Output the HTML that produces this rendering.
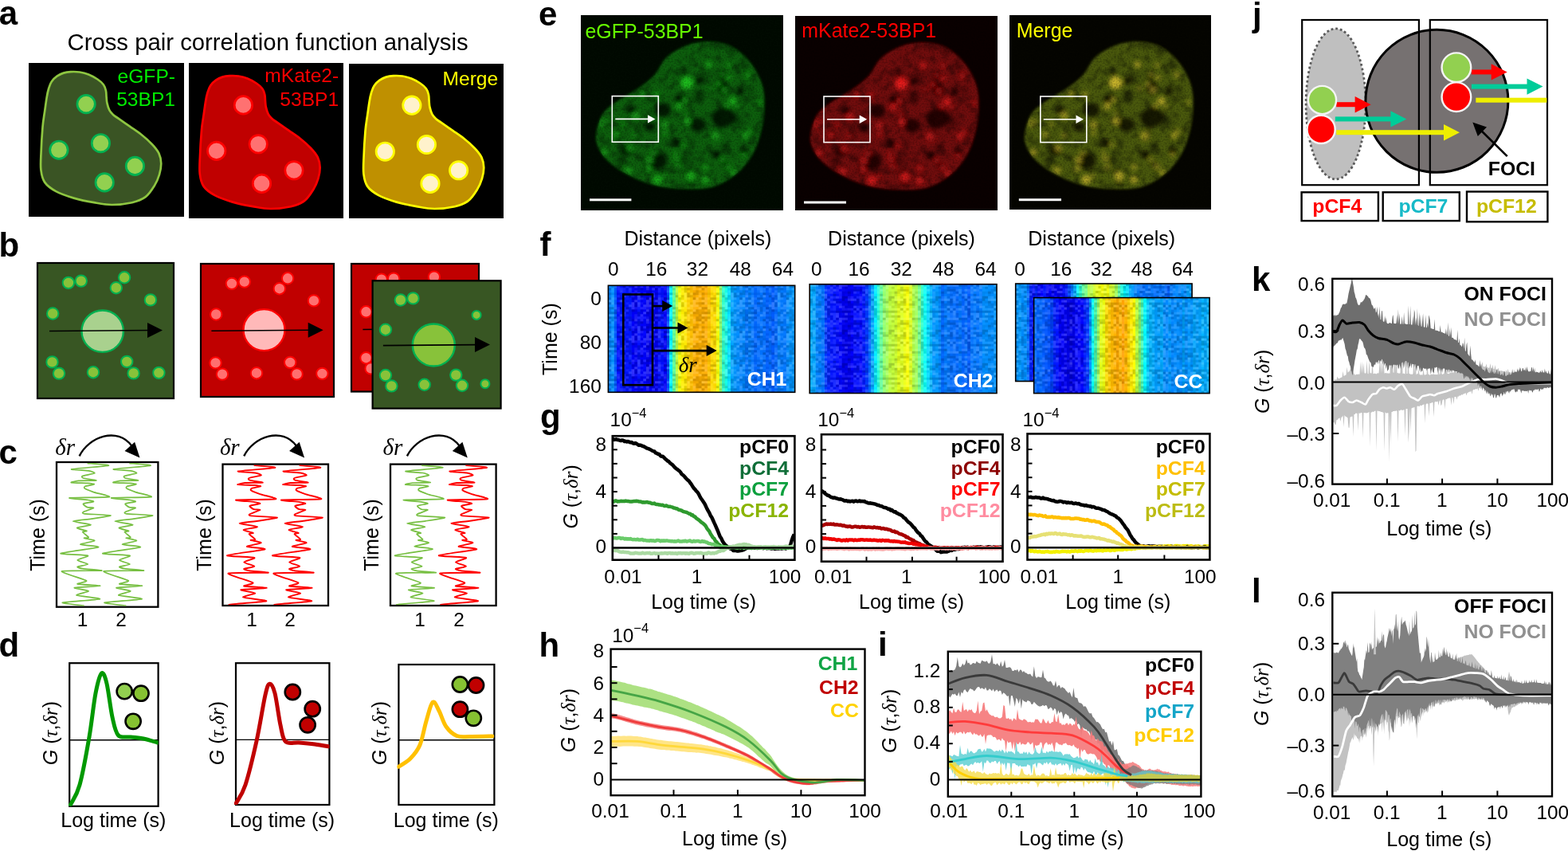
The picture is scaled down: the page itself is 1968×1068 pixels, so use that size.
<!DOCTYPE html>
<html><head><meta charset="utf-8"><title>Cross pair correlation function analysis</title>
<style>html,body{margin:0;padding:0;background:#fff;}body{width:1968px;height:1068px;overflow:hidden;}svg{display:block;}</style>
</head><body>
<svg width="1968" height="1068" viewBox="0 0 1968 1068" font-family="'Liberation Sans', sans-serif"><defs><filter id="blur2" x="-20%" y="-20%" width="140%" height="140%"><feGaussianBlur stdDeviation="1.6"/></filter><filter id="blur4" x="-50%" y="-50%" width="200%" height="200%"><feGaussianBlur stdDeviation="2.6"/></filter><filter id="grain" x="0" y="0" width="100%" height="100%"><feTurbulence type="fractalNoise" baseFrequency="0.5" numOctaves="2" seed="3"/><feColorMatrix type="matrix" values="0 0 0 0 0  0 0 0 0 0  0 0 0 0 0  0 0 0 -2.2 1.3"/></filter><filter id="mottle" x="0" y="0" width="100%" height="100%"><feTurbulence type="fractalNoise" baseFrequency="0.09" numOctaves="2" seed="8"/><feColorMatrix type="matrix" values="0 0 0 0 0  0 0 0 0 0  0 0 0 0 0  0 0 0 -3.2 1.75"/></filter></defs>
<text x="-1.3" y="31.1" font-size="42" font-weight="bold">a</text>
<text x="84.5" y="62.8" font-size="29.3">Cross pair correlation function analysis</text>
<rect x="36" y="79" width="195" height="193" fill="#000"/>
<rect x="237" y="79" width="194" height="195" fill="#000"/>
<rect x="438" y="80" width="194" height="194" fill="#000"/>
<path d="M35.5 16.7C38 14.9 40.8 13.5 43.7 12.6C46.6 11.7 49.3 11.3 52.7 11.1C56.1 10.9 60.1 10.9 63.9 11.5C67.7 12.1 71.5 13 75.2 14.5C79 16 83.3 18.4 86.4 20.5C89.5 22.6 92.2 24.8 93.9 27.2C95.7 29.6 96.3 32.1 96.9 34.7C97.5 37.3 97.3 40.4 97.6 43C97.8 45.6 97.8 47.7 98.4 50.4C99 53.1 100.1 57 101.4 59.4C102.7 61.8 104.1 63.2 106 65C107.9 66.8 109.4 67.5 112.9 69.9C116.4 72.4 122.2 76.4 126.9 79.7C131.6 83 136.2 85.8 140.9 89.5C145.6 93.2 151.2 98.2 155 102.2C158.8 106.2 161.5 109.4 163.4 113.4C165.3 117.4 166.1 121.5 166.2 126C166.3 130.4 165.4 135.4 164 140.1C162.6 144.8 160.7 149.4 157.8 154.1C154.9 158.8 151.3 164.7 146.6 168.2C141.9 171.7 136.7 173.6 129.7 175.2C122.7 176.8 112.4 178 104.4 178C96.5 178 90 176.6 82 175.2C74 173.8 64.7 171.9 56.7 169.6C48.7 167.2 40.3 164.4 34.2 161.1C28.1 157.8 23.3 154.3 20.2 149.9C17.1 145.5 16.2 140.7 15.4 134.4C14.6 128.1 15.2 121 15.6 112C15.9 103 16.8 88.9 17.5 80.4C18.2 71.9 19.2 67.2 20.1 60.9C21 54.6 21.9 47.6 22.7 42.9C23.5 38.2 24 35.7 25 32.5C26 29.3 26.9 26.1 28.7 23.5C30.4 20.9 33 18.5 35.5 16.7Z" transform="translate(36 79)" fill="#3a5424" stroke="#8ec641" stroke-width="2.7"/>
<circle cx="108.1" cy="130.6" r="11.2" fill="#92d050" stroke="#00b050" stroke-width="2.7"/>
<circle cx="73.9" cy="188.2" r="11.2" fill="#92d050" stroke="#00b050" stroke-width="2.7"/>
<circle cx="126.4" cy="179.7" r="11.2" fill="#92d050" stroke="#00b050" stroke-width="2.7"/>
<circle cx="169.4" cy="208.4" r="11.2" fill="#92d050" stroke="#00b050" stroke-width="2.7"/>
<circle cx="131.2" cy="228.9" r="11.2" fill="#92d050" stroke="#00b050" stroke-width="2.7"/>
<path d="M35.5 16.7C38 14.9 40.8 13.5 43.7 12.6C46.6 11.7 49.3 11.3 52.7 11.1C56.1 10.9 60.1 10.9 63.9 11.5C67.7 12.1 71.5 13 75.2 14.5C79 16 83.3 18.4 86.4 20.5C89.5 22.6 92.2 24.8 93.9 27.2C95.7 29.6 96.3 32.1 96.9 34.7C97.5 37.3 97.3 40.4 97.6 43C97.8 45.6 97.8 47.7 98.4 50.4C99 53.1 100.1 57 101.4 59.4C102.7 61.8 104.1 63.2 106 65C107.9 66.8 109.4 67.5 112.9 69.9C116.4 72.4 122.2 76.4 126.9 79.7C131.6 83 136.2 85.8 140.9 89.5C145.6 93.2 151.2 98.2 155 102.2C158.8 106.2 161.5 109.4 163.4 113.4C165.3 117.4 166.1 121.5 166.2 126C166.3 130.4 165.4 135.4 164 140.1C162.6 144.8 160.7 149.4 157.8 154.1C154.9 158.8 151.3 164.7 146.6 168.2C141.9 171.7 136.7 173.6 129.7 175.2C122.7 176.8 112.4 178 104.4 178C96.5 178 90 176.6 82 175.2C74 173.8 64.7 171.9 56.7 169.6C48.7 167.2 40.3 164.4 34.2 161.1C28.1 157.8 23.3 154.3 20.2 149.9C17.1 145.5 16.2 140.7 15.4 134.4C14.6 128.1 15.2 121 15.6 112C15.9 103 16.8 88.9 17.5 80.4C18.2 71.9 19.2 67.2 20.1 60.9C21 54.6 21.9 47.6 22.7 42.9C23.5 38.2 24 35.7 25 32.5C26 29.3 26.9 26.1 28.7 23.5C30.4 20.9 33 18.5 35.5 16.7Z" transform="translate(235.4 84)" fill="#c00000" stroke="#ff0000" stroke-width="2.7"/>
<circle cx="305.4" cy="131.9" r="11.2" fill="#ff7171" stroke="#ff0000" stroke-width="2.7"/>
<circle cx="271.7" cy="189.4" r="11.2" fill="#ff7171" stroke="#ff0000" stroke-width="2.7"/>
<circle cx="324.2" cy="180.8" r="11.2" fill="#ff7171" stroke="#ff0000" stroke-width="2.7"/>
<circle cx="369" cy="213.8" r="11.2" fill="#ff7171" stroke="#ff0000" stroke-width="2.7"/>
<circle cx="328.5" cy="230.4" r="11.2" fill="#ff7171" stroke="#ff0000" stroke-width="2.7"/>
<path d="M35.5 16.7C38 14.9 40.8 13.5 43.7 12.6C46.6 11.7 49.3 11.3 52.7 11.1C56.1 10.9 60.1 10.9 63.9 11.5C67.7 12.1 71.5 13 75.2 14.5C79 16 83.3 18.4 86.4 20.5C89.5 22.6 92.2 24.8 93.9 27.2C95.7 29.6 96.3 32.1 96.9 34.7C97.5 37.3 97.3 40.4 97.6 43C97.8 45.6 97.8 47.7 98.4 50.4C99 53.1 100.1 57 101.4 59.4C102.7 61.8 104.1 63.2 106 65C107.9 66.8 109.4 67.5 112.9 69.9C116.4 72.4 122.2 76.4 126.9 79.7C131.6 83 136.2 85.8 140.9 89.5C145.6 93.2 151.2 98.2 155 102.2C158.8 106.2 161.5 109.4 163.4 113.4C165.3 117.4 166.1 121.5 166.2 126C166.3 130.4 165.4 135.4 164 140.1C162.6 144.8 160.7 149.4 157.8 154.1C154.9 158.8 151.3 164.7 146.6 168.2C141.9 171.7 136.7 173.6 129.7 175.2C122.7 176.8 112.4 178 104.4 178C96.5 178 90 176.6 82 175.2C74 173.8 64.7 171.9 56.7 169.6C48.7 167.2 40.3 164.4 34.2 161.1C28.1 157.8 23.3 154.3 20.2 149.9C17.1 145.5 16.2 140.7 15.4 134.4C14.6 128.1 15.2 121 15.6 112C15.9 103 16.8 88.9 17.5 80.4C18.2 71.9 19.2 67.2 20.1 60.9C21 54.6 21.9 47.6 22.7 42.9C23.5 38.2 24 35.7 25 32.5C26 29.3 26.9 26.1 28.7 23.5C30.4 20.9 33 18.5 35.5 16.7Z" transform="translate(441 84)" fill="#bf9000" stroke="#ffff00" stroke-width="2.7"/>
<circle cx="516.9" cy="132.1" r="11.2" fill="#fff2cc" stroke="#ffff00" stroke-width="2.7"/>
<circle cx="483.3" cy="190.2" r="11.2" fill="#fff2cc" stroke="#ffff00" stroke-width="2.7"/>
<circle cx="535.4" cy="181.5" r="11.2" fill="#fff2cc" stroke="#ffff00" stroke-width="2.7"/>
<circle cx="575.6" cy="213.8" r="11.2" fill="#fff2cc" stroke="#ffff00" stroke-width="2.7"/>
<circle cx="540" cy="230.4" r="11.2" fill="#fff2cc" stroke="#ffff00" stroke-width="2.7"/>
<text x="220" y="103.9" font-size="24.6" text-anchor="end" fill="#00ee00">eGFP-</text>
<text x="220" y="132.6" font-size="24.6" text-anchor="end" fill="#00ee00">53BP1</text>
<text x="425.2" y="103.3" font-size="24.6" text-anchor="end" fill="#ff0000">mKate2-</text>
<text x="425.2" y="132.5" font-size="24.6" text-anchor="end" fill="#ff0000">53BP1</text>
<text x="625.2" y="107" font-size="24.6" text-anchor="end" fill="#ffff00">Merge</text>
<text x="-1.4" y="321.6" font-size="42" font-weight="bold">b</text>
<rect x="47" y="330" width="171" height="170" fill="#385623" stroke="#000" stroke-width="2.2"/>
<circle cx="85.9" cy="354.9" r="7.2" fill="#88c23a" stroke="#00b050" stroke-width="2"/>
<circle cx="101.8" cy="352.6" r="7.2" fill="#88c23a" stroke="#00b050" stroke-width="2"/>
<circle cx="156.1" cy="348.3" r="7.2" fill="#88c23a" stroke="#00b050" stroke-width="2"/>
<circle cx="145.8" cy="361.2" r="7.2" fill="#88c23a" stroke="#00b050" stroke-width="2"/>
<circle cx="188.9" cy="376.4" r="7.2" fill="#88c23a" stroke="#00b050" stroke-width="2"/>
<circle cx="66.2" cy="393.5" r="7.2" fill="#88c23a" stroke="#00b050" stroke-width="2"/>
<circle cx="65.5" cy="454.4" r="7.2" fill="#88c23a" stroke="#00b050" stroke-width="2"/>
<circle cx="74" cy="468.6" r="7.2" fill="#88c23a" stroke="#00b050" stroke-width="2"/>
<circle cx="117" cy="467.2" r="7.2" fill="#88c23a" stroke="#00b050" stroke-width="2"/>
<circle cx="159.2" cy="453.9" r="7.2" fill="#88c23a" stroke="#00b050" stroke-width="2"/>
<circle cx="167.6" cy="468.4" r="7.2" fill="#88c23a" stroke="#00b050" stroke-width="2"/>
<circle cx="199.4" cy="467.9" r="7.2" fill="#88c23a" stroke="#00b050" stroke-width="2"/>
<circle cx="128.7" cy="415.7" r="26.2" fill="#a9d18e" stroke="#00b050" stroke-width="2.4"/>
<line x1="62" y1="415.5" x2="189" y2="414.5" stroke="#000" stroke-width="1.6"/>
<polygon points="204,414.5 185,424 185,405" fill="#000"/>
<rect x="252" y="331" width="167" height="167" fill="#c00000" stroke="#000" stroke-width="2.2"/>
<circle cx="290.9" cy="355.9" r="7.2" fill="#ff6f6f" stroke="#ff0000" stroke-width="2"/>
<circle cx="306.8" cy="353.6" r="7.2" fill="#ff6f6f" stroke="#ff0000" stroke-width="2"/>
<circle cx="361.1" cy="349.3" r="7.2" fill="#ff6f6f" stroke="#ff0000" stroke-width="2"/>
<circle cx="350.8" cy="362.2" r="7.2" fill="#ff6f6f" stroke="#ff0000" stroke-width="2"/>
<circle cx="393.9" cy="377.4" r="7.2" fill="#ff6f6f" stroke="#ff0000" stroke-width="2"/>
<circle cx="271.2" cy="394.5" r="7.2" fill="#ff6f6f" stroke="#ff0000" stroke-width="2"/>
<circle cx="270.5" cy="455.4" r="7.2" fill="#ff6f6f" stroke="#ff0000" stroke-width="2"/>
<circle cx="279" cy="469.6" r="7.2" fill="#ff6f6f" stroke="#ff0000" stroke-width="2"/>
<circle cx="322" cy="468.2" r="7.2" fill="#ff6f6f" stroke="#ff0000" stroke-width="2"/>
<circle cx="364.2" cy="454.9" r="7.2" fill="#ff6f6f" stroke="#ff0000" stroke-width="2"/>
<circle cx="372.6" cy="469.4" r="7.2" fill="#ff6f6f" stroke="#ff0000" stroke-width="2"/>
<circle cx="404.4" cy="468.9" r="7.2" fill="#ff6f6f" stroke="#ff0000" stroke-width="2"/>
<circle cx="331.5" cy="414.1" r="26" fill="#ffb9b9" stroke="#ff0000" stroke-width="2.4"/>
<line x1="265.4" y1="415.3" x2="390.7" y2="414.3" stroke="#000" stroke-width="1.6"/>
<polygon points="405.7,414.3 386.7,423.8 386.7,404.8" fill="#000"/>
<rect x="441" y="331" width="160" height="160.5" fill="#c00000" stroke="#000" stroke-width="2.2"/>
<circle cx="478.8" cy="350.7" r="7.2" fill="#ff6f6f" stroke="#ff0000" stroke-width="2"/>
<circle cx="494.1" cy="349.6" r="7.2" fill="#ff6f6f" stroke="#ff0000" stroke-width="2"/>
<circle cx="544.9" cy="347.6" r="7.2" fill="#ff6f6f" stroke="#ff0000" stroke-width="2"/>
<circle cx="535" cy="361" r="7.2" fill="#ff6f6f" stroke="#ff0000" stroke-width="2"/>
<circle cx="459.5" cy="391.3" r="7.2" fill="#ff6f6f" stroke="#ff0000" stroke-width="2"/>
<circle cx="459.5" cy="449.2" r="7.2" fill="#ff6f6f" stroke="#ff0000" stroke-width="2"/>
<circle cx="465.6" cy="462.4" r="7.2" fill="#ff6f6f" stroke="#ff0000" stroke-width="2"/>
<circle cx="520" cy="412" r="26" fill="#ffb9b9" stroke="#ff0000" stroke-width="2.4"/>
<line x1="455.4" y1="413.5" x2="575" y2="412.5" stroke="#000" stroke-width="1.6"/>
<polygon points="590,412.5 571,422 571,403" fill="#000"/>
<rect x="467.6" y="352.3" width="161" height="160.3" fill="#385623" stroke="#000" stroke-width="2.2"/>
<circle cx="502.8" cy="376.5" r="7.2" fill="#88c23a" stroke="#00b050" stroke-width="2"/>
<circle cx="518.5" cy="374.4" r="7.2" fill="#88c23a" stroke="#00b050" stroke-width="2"/>
<circle cx="598.1" cy="395.4" r="5.5" fill="#88c23a" stroke="#00b050" stroke-width="2"/>
<circle cx="483.9" cy="413.7" r="7.2" fill="#88c23a" stroke="#00b050" stroke-width="2"/>
<circle cx="483.9" cy="471" r="7.2" fill="#88c23a" stroke="#00b050" stroke-width="2"/>
<circle cx="491.4" cy="484.4" r="7.2" fill="#88c23a" stroke="#00b050" stroke-width="2"/>
<circle cx="532.7" cy="482.8" r="7.2" fill="#88c23a" stroke="#00b050" stroke-width="2"/>
<circle cx="572.3" cy="470.6" r="7.2" fill="#88c23a" stroke="#00b050" stroke-width="2"/>
<circle cx="580" cy="483.8" r="7.2" fill="#88c23a" stroke="#00b050" stroke-width="2"/>
<circle cx="608.9" cy="481.7" r="5.5" fill="#88c23a" stroke="#00b050" stroke-width="2"/>
<circle cx="544.3" cy="433" r="26.5" fill="#88c23a" stroke="#00b050" stroke-width="2.4"/>
<line x1="480.9" y1="433.6" x2="600" y2="432.6" stroke="#000" stroke-width="1.6"/>
<polygon points="615,432.6 596,442.1 596,423.1" fill="#000"/>
<text x="-1.4" y="581.6" font-size="42" font-weight="bold">c</text>
<rect x="71" y="580" width="127.4" height="181.7" fill="#fff" stroke="#000" stroke-width="2.3"/>
<clipPath id="cc0"><rect x="72" y="581" width="125.4" height="179.7"/></clipPath><g clip-path="url(#cc0)">
<path d="M109.6 581.3C112.3 581.6 138.3 583.5 136.3 584.2C134.3 585 92.3 588.1 89.8 588.8C87.3 589.5 108.4 590.4 111.3 590.9C114.2 591.4 119.5 593.2 118.7 593.9C117.9 594.5 105 596.8 103.6 597.4C102.2 598 102.8 599.4 104.5 600C106.2 600.6 121.4 602.7 120.8 603C120.2 603.3 101.5 603.1 98.4 603.4C95.3 603.7 88.2 605.3 89.4 605.6C90.6 605.9 107.6 606.2 110.5 606.4C113.4 606.6 118.5 607.3 118.2 607.7C117.9 608.1 108.2 609.8 107 610.3C105.8 610.8 105.2 612.2 106.2 612.9C107.2 613.6 114.3 616.5 117.4 617.6C120.5 618.7 140.2 622.9 137.2 623.6C134.2 624.3 89.9 624.5 87.2 624.9C84.5 625.3 107.5 627 110.5 627.5C113.5 628 118 629 117.4 629.5C116.8 630 105.3 631.6 104.5 632.3C103.7 633 108.3 636.1 109.6 636.6C110.9 637.1 117.9 636.8 117.4 637.4C116.9 638 105.6 641.9 104.5 642.6C103.4 643.3 102.8 644.4 106.2 644.8C109.6 645.2 138 646.3 138.9 646.9C139.8 647.5 119.5 650.5 114.8 651.2C110.1 651.9 91.6 653.5 91.5 654.2C91.4 654.9 113.4 657.7 113.9 658.5C114.4 659.3 97.2 661.6 96.7 662.4C96.2 663.2 108.1 665.8 108.8 666.3C109.5 666.8 103.5 666.8 103.7 667.6C103.9 668.4 111 673.6 111.2 674.4C111.4 675.2 104.8 674.9 105.6 675.3C106.3 675.7 119.2 677.8 118.7 678.6C118.2 679.4 100.4 682.5 100.9 683.3C101.4 684.1 125.9 685.6 123.4 686.7C120.9 687.8 77.4 693.4 76.1 694.5C74.8 695.6 108.2 696.5 110.3 697.3C112.4 698.1 97.2 701.8 97.2 702.9C97.2 704 110.3 707.2 110.3 708.1C110.3 709 97.9 710.8 97.2 711.4C96.5 712 100.7 713.2 103.7 713.7C106.7 714.2 130.2 715.8 127.6 716.1C125 716.4 79.4 715.7 77.5 717C75.6 718.3 106.4 727.1 108.4 728.7C110.4 730.3 95.5 732.2 97.2 732.9C98.9 733.6 126.1 734.8 125.7 735.3C125.3 735.8 94.9 737 93.4 737.6C92 738.2 110.9 740.9 111.2 741.8C111.5 742.7 94.8 746 96.2 747C97.6 748 127.1 750.8 125.3 751.7C123.5 752.6 80.4 755.5 78.4 756.3C76.4 757.1 102.9 759.7 105.6 760.1" fill="none" stroke="#77bf42" stroke-width="1.7" stroke-linejoin="round"/>
<path d="M162.3 581.3C165 581.6 191 583.5 189 584.2C187 585 145 588.1 142.5 588.8C140 589.5 161.1 590.4 164 590.9C166.9 591.4 172.2 593.2 171.4 593.9C170.6 594.5 157.7 596.8 156.3 597.4C154.9 598 155.5 599.4 157.2 600C158.9 600.6 174.1 602.7 173.5 603C172.9 603.3 154.2 603.1 151.1 603.4C148 603.7 140.9 605.3 142.1 605.6C143.3 605.9 160.3 606.2 163.2 606.4C166.1 606.6 171.2 607.3 170.9 607.7C170.6 608.1 160.9 609.8 159.7 610.3C158.5 610.8 157.9 612.2 158.9 612.9C159.9 613.6 167 616.5 170.1 617.6C173.2 618.7 192.9 622.9 189.9 623.6C186.9 624.3 142.6 624.5 139.9 624.9C137.2 625.3 160.2 627 163.2 627.5C166.2 628 170.7 629 170.1 629.5C169.5 630 158 631.6 157.2 632.3C156.4 633 161 636.1 162.3 636.6C163.6 637.1 170.6 636.8 170.1 637.4C169.6 638 158.3 641.9 157.2 642.6C156.1 643.3 155.5 644.4 158.9 644.8C162.3 645.2 190.7 646.3 191.6 646.9C192.5 647.5 172.2 650.5 167.5 651.2C162.8 651.9 144.3 653.5 144.2 654.2C144.1 654.9 166.1 657.7 166.6 658.5C167.1 659.3 149.9 661.6 149.4 662.4C148.9 663.2 160.8 665.8 161.5 666.3C162.2 666.8 156.2 666.8 156.4 667.6C156.6 668.4 163.7 673.6 163.9 674.4C164.1 675.2 157.6 674.9 158.3 675.3C159.1 675.7 171.9 677.8 171.4 678.6C170.9 679.4 153.1 682.5 153.6 683.3C154.1 684.1 178.6 685.6 176.1 686.7C173.6 687.8 130.1 693.4 128.8 694.5C127.5 695.6 160.9 696.5 163 697.3C165.1 698.1 149.9 701.8 149.9 702.9C149.9 704 163 707.2 163 708.1C163 709 150.6 710.8 149.9 711.4C149.2 712 153.4 713.2 156.4 713.7C159.4 714.2 182.9 715.8 180.3 716.1C177.7 716.4 132.1 715.7 130.2 717C128.3 718.3 159.1 727.1 161.1 728.7C163.1 730.3 148.2 732.2 149.9 732.9C151.6 733.6 178.8 734.8 178.4 735.3C178 735.8 147.6 737 146.1 737.6C144.7 738.2 163.6 740.9 163.9 741.8C164.2 742.7 147.5 746 148.9 747C150.3 748 179.8 750.8 178 751.7C176.2 752.6 133.1 755.5 131.1 756.3C129.1 757.1 155.6 759.7 158.3 760.1" fill="none" stroke="#77bf42" stroke-width="1.7" stroke-linejoin="round"/>
</g>
<text x="56.3" y="671.4" font-size="25" text-anchor="middle" transform="rotate(-90 56.3 671.4)">Time (s)</text>
<text x="69.3" y="571" font-size="29" font-family="'Liberation Serif', serif" font-style="italic">δr</text>
<path d="M99.6 572.4C111.6 548 147.6 535 165.6 560" fill="none" stroke="#000" stroke-width="2.4"/>
<polygon points="175.5,574.5 156.5,566.1 169.1,554.7" fill="#000"/>
<text x="103.5" y="786" font-size="24.4" text-anchor="middle">1</text>
<text x="152" y="786" font-size="24.4" text-anchor="middle">2</text>
<rect x="279.5" y="582.6" width="132.5" height="177.4" fill="#fff" stroke="#000" stroke-width="2.3"/>
<clipPath id="cc1"><rect x="280.5" y="583.6" width="130.5" height="175.4"/></clipPath><g clip-path="url(#cc1)">
<path d="M318.6 583.9C321.3 584.2 347.3 586.1 345.3 586.8C343.3 587.6 301.3 590.7 298.8 591.4C296.3 592.1 317.4 593 320.3 593.5C323.2 594 328.5 595.9 327.7 596.5C326.9 597.1 314 599.4 312.6 600C311.2 600.6 311.8 602 313.5 602.6C315.2 603.2 330.4 605.3 329.8 605.6C329.2 605.9 310.5 605.7 307.4 606C304.3 606.3 297.2 607.9 298.4 608.2C299.6 608.5 316.6 608.8 319.5 609C322.4 609.2 327.6 609.9 327.2 610.3C326.8 610.7 317.2 612.4 316 612.9C314.8 613.4 314.2 614.8 315.2 615.5C316.2 616.2 323.3 619.1 326.4 620.2C329.5 621.3 349.2 625.5 346.2 626.2C343.2 626.9 298.9 627.1 296.2 627.5C293.5 627.9 316.5 629.6 319.5 630.1C322.5 630.6 327 631.6 326.4 632.1C325.8 632.6 314.3 634.2 313.5 634.9C312.7 635.6 317.3 638.7 318.6 639.2C319.9 639.7 326.9 639.4 326.4 640C325.9 640.6 314.6 644.5 313.5 645.2C312.4 645.9 311.8 647 315.2 647.4C318.6 647.8 347 648.9 347.9 649.5C348.8 650.1 328.5 653.1 323.8 653.8C319.1 654.5 300.6 656.1 300.5 656.8C300.4 657.5 322.4 660.3 322.9 661.1C323.4 661.9 306.2 664.2 305.7 665C305.2 665.8 317.1 668.4 317.8 668.9C318.5 669.4 312.5 669.4 312.7 670.2C312.9 671 320 676.2 320.2 677C320.4 677.8 313.9 677.5 314.6 677.9C315.4 678.3 328.2 680.4 327.7 681.2C327.2 682 309.4 685.1 309.9 685.9C310.4 686.7 334.9 688.2 332.4 689.3C329.9 690.4 286.4 696 285.1 697.1C283.8 698.2 317.2 699.1 319.3 699.9C321.4 700.7 306.2 704.4 306.2 705.5C306.2 706.6 319.3 709.9 319.3 710.7C319.3 711.6 306.9 713.4 306.2 714C305.5 714.6 309.7 715.8 312.7 716.3C315.7 716.8 339.2 718.4 336.6 718.7C334 719 288.4 718.3 286.5 719.6C284.6 720.9 315.4 729.7 317.4 731.3C319.4 732.9 304.5 734.8 306.2 735.5C307.9 736.2 335.1 737.4 334.7 737.9C334.3 738.4 303.8 739.6 302.4 740.2C300.9 740.9 319.9 743.5 320.2 744.4C320.5 745.3 303.8 748.6 305.2 749.6C306.6 750.6 336.1 753.4 334.3 754.3C332.5 755.2 289.4 758.1 287.4 758.9C285.4 759.7 311.9 762.3 314.6 762.7" fill="none" stroke="#ff0000" stroke-width="1.9" stroke-linejoin="round"/>
<path d="M375.5 583.9C378.2 584.2 404.2 586.1 402.2 586.8C400.2 587.6 358.2 590.7 355.7 591.4C353.2 592.1 374.3 593 377.2 593.5C380.1 594 385.4 595.9 384.6 596.5C383.8 597.1 370.9 599.4 369.5 600C368.1 600.6 368.7 602 370.4 602.6C372.1 603.2 387.3 605.3 386.7 605.6C386.1 605.9 367.4 605.7 364.3 606C361.2 606.3 354.1 607.9 355.3 608.2C356.5 608.5 373.5 608.8 376.4 609C379.3 609.2 384.4 609.9 384.1 610.3C383.7 610.7 374.1 612.4 372.9 612.9C371.7 613.4 371.1 614.8 372.1 615.5C373.1 616.2 380.2 619.1 383.3 620.2C386.4 621.3 406.1 625.5 403.1 626.2C400.1 626.9 355.8 627.1 353.1 627.5C350.4 627.9 373.4 629.6 376.4 630.1C379.4 630.6 383.9 631.6 383.3 632.1C382.7 632.6 371.2 634.2 370.4 634.9C369.6 635.6 374.2 638.7 375.5 639.2C376.8 639.7 383.8 639.4 383.3 640C382.8 640.6 371.5 644.5 370.4 645.2C369.3 645.9 368.7 647 372.1 647.4C375.5 647.8 403.9 648.9 404.8 649.5C405.7 650.1 385.4 653.1 380.7 653.8C376 654.5 357.5 656.1 357.4 656.8C357.3 657.5 379.3 660.3 379.8 661.1C380.3 661.9 363.1 664.2 362.6 665C362.1 665.8 374 668.4 374.7 668.9C375.4 669.4 369.4 669.4 369.6 670.2C369.8 671 376.9 676.2 377.1 677C377.3 677.8 370.8 677.5 371.5 677.9C372.2 678.3 385.1 680.4 384.6 681.2C384.1 682 366.3 685.1 366.8 685.9C367.3 686.7 391.8 688.2 389.3 689.3C386.8 690.4 343.3 696 342 697.1C340.7 698.2 374.1 699.1 376.2 699.9C378.3 700.7 363.1 704.4 363.1 705.5C363.1 706.6 376.2 709.9 376.2 710.7C376.2 711.6 363.8 713.4 363.1 714C362.4 714.6 366.6 715.8 369.6 716.3C372.6 716.8 396.1 718.4 393.5 718.7C390.9 719 345.3 718.3 343.4 719.6C341.5 720.9 372.3 729.7 374.3 731.3C376.3 732.9 361.4 734.8 363.1 735.5C364.8 736.2 392 737.4 391.6 737.9C391.2 738.4 360.7 739.6 359.3 740.2C357.8 740.9 376.8 743.5 377.1 744.4C377.4 745.3 360.7 748.6 362.1 749.6C363.5 750.6 393 753.4 391.2 754.3C389.4 755.2 346.3 758.1 344.3 758.9C342.3 759.7 368.8 762.3 371.5 762.7" fill="none" stroke="#ff0000" stroke-width="1.9" stroke-linejoin="round"/>
</g>
<text x="265" y="671.4" font-size="25" text-anchor="middle" transform="rotate(-90 265 671.4)">Time (s)</text>
<text x="275.9" y="571" font-size="29" font-family="'Liberation Serif', serif" font-style="italic">δr</text>
<path d="M306.2 572.4C318.2 548 354.2 535 372.2 560" fill="none" stroke="#000" stroke-width="2.4"/>
<polygon points="382.1,574.5 363.1,566.1 375.7,554.7" fill="#000"/>
<text x="316" y="786" font-size="24.4" text-anchor="middle">1</text>
<text x="364" y="786" font-size="24.4" text-anchor="middle">2</text>
<rect x="490" y="582.6" width="132.6" height="177.4" fill="#fff" stroke="#000" stroke-width="2.3"/>
<clipPath id="cc2"><rect x="491" y="583.6" width="130.6" height="175.4"/></clipPath><g clip-path="url(#cc2)">
<path d="M529 583.9C531.7 584.2 557.7 586.1 555.7 586.8C553.7 587.6 511.7 590.7 509.2 591.4C506.7 592.1 527.8 593 530.7 593.5C533.6 594 538.9 595.9 538.1 596.5C537.3 597.1 524.4 599.4 523 600C521.6 600.6 522.2 602 523.9 602.6C525.6 603.2 540.8 605.3 540.2 605.6C539.6 605.9 520.9 605.7 517.8 606C514.7 606.3 507.6 607.9 508.8 608.2C510 608.5 527 608.8 529.9 609C532.8 609.2 538 609.9 537.6 610.3C537.2 610.7 527.6 612.4 526.4 612.9C525.2 613.4 524.6 614.8 525.6 615.5C526.6 616.2 533.7 619.1 536.8 620.2C539.9 621.3 559.6 625.5 556.6 626.2C553.6 626.9 509.3 627.1 506.6 627.5C503.9 627.9 526.9 629.6 529.9 630.1C532.9 630.6 537.4 631.6 536.8 632.1C536.2 632.6 524.7 634.2 523.9 634.9C523.1 635.6 527.7 638.7 529 639.2C530.3 639.7 537.3 639.4 536.8 640C536.3 640.6 525 644.5 523.9 645.2C522.8 645.9 522.2 647 525.6 647.4C529 647.8 557.4 648.9 558.3 649.5C559.2 650.1 538.9 653.1 534.2 653.8C529.5 654.5 511 656.1 510.9 656.8C510.8 657.5 532.8 660.3 533.3 661.1C533.8 661.9 516.6 664.2 516.1 665C515.6 665.8 527.5 668.4 528.2 668.9C528.9 669.4 522.9 669.4 523.1 670.2C523.3 671 530.4 676.2 530.6 677C530.8 677.8 524.2 677.5 525 677.9C525.8 678.3 538.6 680.4 538.1 681.2C537.6 682 519.8 685.1 520.3 685.9C520.8 686.7 545.3 688.2 542.8 689.3C540.3 690.4 496.8 696 495.5 697.1C494.2 698.2 527.6 699.1 529.7 699.9C531.8 700.7 516.6 704.4 516.6 705.5C516.6 706.6 529.7 709.9 529.7 710.7C529.7 711.6 517.3 713.4 516.6 714C515.9 714.6 520.1 715.8 523.1 716.3C526.1 716.8 549.6 718.4 547 718.7C544.4 719 498.8 718.3 496.9 719.6C495 720.9 525.8 729.7 527.8 731.3C529.8 732.9 514.9 734.8 516.6 735.5C518.3 736.2 545.5 737.4 545.1 737.9C544.7 738.4 514.2 739.6 512.8 740.2C511.3 740.9 530.3 743.5 530.6 744.4C530.9 745.3 514.2 748.6 515.6 749.6C517 750.6 546.5 753.4 544.7 754.3C542.9 755.2 499.8 758.1 497.8 758.9C495.8 759.7 522.3 762.3 525 762.7" fill="none" stroke="#77bf42" stroke-width="1.7" stroke-linejoin="round"/>
<path d="M584.3 583.9C587 584.2 613 586.1 611 586.8C609 587.6 567 590.7 564.5 591.4C562 592.1 583.1 593 586 593.5C588.9 594 594.2 595.9 593.4 596.5C592.6 597.1 579.7 599.4 578.3 600C576.9 600.6 577.5 602 579.2 602.6C580.9 603.2 596.1 605.3 595.5 605.6C594.9 605.9 576.2 605.7 573.1 606C570 606.3 562.9 607.9 564.1 608.2C565.3 608.5 582.3 608.8 585.2 609C588.1 609.2 593.2 609.9 592.9 610.3C592.5 610.7 582.9 612.4 581.7 612.9C580.5 613.4 579.9 614.8 580.9 615.5C581.9 616.2 589 619.1 592.1 620.2C595.2 621.3 614.9 625.5 611.9 626.2C608.9 626.9 564.6 627.1 561.9 627.5C559.2 627.9 582.2 629.6 585.2 630.1C588.2 630.6 592.7 631.6 592.1 632.1C591.5 632.6 580 634.2 579.2 634.9C578.4 635.6 583 638.7 584.3 639.2C585.6 639.7 592.6 639.4 592.1 640C591.6 640.6 580.3 644.5 579.2 645.2C578.1 645.9 577.5 647 580.9 647.4C584.3 647.8 612.7 648.9 613.6 649.5C614.5 650.1 594.2 653.1 589.5 653.8C584.8 654.5 566.3 656.1 566.2 656.8C566.1 657.5 588.1 660.3 588.6 661.1C589.1 661.9 571.9 664.2 571.4 665C570.9 665.8 582.8 668.4 583.5 668.9C584.2 669.4 578.2 669.4 578.4 670.2C578.6 671 585.7 676.2 585.9 677C586.1 677.8 579.5 677.5 580.3 677.9C581 678.3 593.9 680.4 593.4 681.2C592.9 682 575.1 685.1 575.6 685.9C576.1 686.7 600.6 688.2 598.1 689.3C595.6 690.4 552.1 696 550.8 697.1C549.5 698.2 582.9 699.1 585 699.9C587.1 700.7 571.9 704.4 571.9 705.5C571.9 706.6 585 709.9 585 710.7C585 711.6 572.6 713.4 571.9 714C571.2 714.6 575.4 715.8 578.4 716.3C581.4 716.8 604.9 718.4 602.3 718.7C599.7 719 554.1 718.3 552.2 719.6C550.3 720.9 581.1 729.7 583.1 731.3C585.1 732.9 570.2 734.8 571.9 735.5C573.6 736.2 600.8 737.4 600.4 737.9C600 738.4 569.5 739.6 568.1 740.2C566.6 740.9 585.6 743.5 585.9 744.4C586.2 745.3 569.5 748.6 570.9 749.6C572.3 750.6 601.8 753.4 600 754.3C598.2 755.2 555.1 758.1 553.1 758.9C551.1 759.7 577.6 762.3 580.3 762.7" fill="none" stroke="#ff0000" stroke-width="1.9" stroke-linejoin="round"/>
</g>
<text x="474.8" y="671.4" font-size="25" text-anchor="middle" transform="rotate(-90 474.8 671.4)">Time (s)</text>
<text x="480.6" y="571" font-size="29" font-family="'Liberation Serif', serif" font-style="italic">δr</text>
<path d="M510.9 572.4C522.9 548 558.9 535 576.9 560" fill="none" stroke="#000" stroke-width="2.4"/>
<polygon points="586.8,574.5 567.8,566.1 580.4,554.7" fill="#000"/>
<text x="527" y="786" font-size="24.4" text-anchor="middle">1</text>
<text x="576" y="786" font-size="24.4" text-anchor="middle">2</text>
<text x="-1.4" y="824" font-size="42" font-weight="bold">d</text>
<rect x="87.2" y="832.2" width="111.4" height="179.6" fill="#fff" stroke="#000" stroke-width="2.2"/>
<line x1="87.2" y1="928.7" x2="198.6" y2="928.7" stroke="#000" stroke-width="1.4"/>
<clipPath id="dclip0"><rect x="85.2" y="832.2" width="113.4" height="179.6"/></clipPath>
<path d="M88.5 1010C90.4 1005.8 96.1 999.2 100 985C103.9 970.8 108.7 944.2 112 925C115.3 905.8 117.4 883.3 120 870C122.6 856.7 125.2 847 127.5 845C129.8 843 131.8 848.8 134 858C136.2 867.2 138.6 889.2 141 900C143.4 910.8 144.6 918.5 148.4 922.7C152.2 926.9 158.7 924.3 164 925C169.3 925.7 174.4 925.8 180 927C185.6 928.2 194.8 931.2 197.8 932" fill="none" stroke="#009900" stroke-width="5" stroke-linecap="round" clip-path="url(#dclip0)"/>
<rect x="296" y="832.2" width="117.4" height="177.8" fill="#fff" stroke="#000" stroke-width="2.2"/>
<line x1="296" y1="928.4" x2="413.4" y2="928.4" stroke="#000" stroke-width="1.4"/>
<clipPath id="dclip1"><rect x="294" y="832.2" width="119.4" height="177.8"/></clipPath>
<path d="M296 1008.5C298 1004.6 303.7 998.1 308 985C312.3 971.9 317.8 948.8 322 930C326.2 911.2 330.2 884 333 872C335.8 860 336.6 858.6 338.6 858.3C340.6 858 342.8 861.4 345 870C347.2 878.6 349.8 899.9 352 910C354.2 920.1 354.6 927.1 358.4 930.8C362.2 934.5 368.9 931.5 375 932C381.1 932.5 388.8 933.2 395 934C401.2 934.8 409.2 936.3 412 936.8" fill="none" stroke="#c00000" stroke-width="5" stroke-linecap="round" clip-path="url(#dclip1)"/>
<rect x="500.4" y="834" width="120" height="176" fill="#fff" stroke="#000" stroke-width="2.2"/>
<line x1="500.4" y1="928.8" x2="620.4" y2="928.8" stroke="#000" stroke-width="1.4"/>
<clipPath id="dclip2"><rect x="498.4" y="834" width="122" height="176"/></clipPath>
<path d="M500.4 962.2C502.8 960.5 510.6 956.5 515 952C519.4 947.5 523.7 942.8 527 935C530.3 927.2 532.3 914 535 905C537.7 896 540.4 883.5 543.1 881.3C545.8 879.1 548.2 886.9 551 892C553.8 897.1 556.3 906.8 560 912C563.7 917.2 568.3 921.4 573.3 923.5C578.3 925.6 582.5 924.4 590 924.5C597.5 924.6 613.3 924.1 618 924" fill="none" stroke="#ffc000" stroke-width="5" stroke-linecap="round" clip-path="url(#dclip2)"/>
<circle cx="156.2" cy="867.6" r="9.6" fill="#92d050" stroke="#000" stroke-width="2.6"/>
<circle cx="177" cy="870.2" r="9.6" fill="#86c232" stroke="#000" stroke-width="2.6"/>
<circle cx="167.1" cy="905.3" r="9.6" fill="#86c232" stroke="#000" stroke-width="2.6"/>
<circle cx="367.3" cy="868.5" r="9.6" fill="#c00000" stroke="#000" stroke-width="2.6"/>
<circle cx="392.2" cy="889.7" r="9.6" fill="#c00000" stroke="#000" stroke-width="2.6"/>
<circle cx="386.1" cy="909.8" r="9.6" fill="#c00000" stroke="#000" stroke-width="2.6"/>
<circle cx="577.4" cy="859" r="9.6" fill="#86c232" stroke="#000" stroke-width="2.6"/>
<circle cx="597.5" cy="860" r="9.6" fill="#c00000" stroke="#000" stroke-width="2.6"/>
<circle cx="577.4" cy="890.2" r="9.6" fill="#c00000" stroke="#000" stroke-width="2.6"/>
<circle cx="594.3" cy="901.3" r="9.6" fill="#86c232" stroke="#000" stroke-width="2.6"/>
<text x="72" y="920" font-size="25" text-anchor="middle" transform="rotate(-90 72 920)"><tspan font-style="italic">G</tspan> (<tspan font-family="'Liberation Serif', serif" font-style="italic">τ</tspan>,<tspan font-family="'Liberation Serif', serif" font-style="italic">δr</tspan>)</text>
<text x="280.8" y="920" font-size="25" text-anchor="middle" transform="rotate(-90 280.8 920)"><tspan font-style="italic">G</tspan> (<tspan font-family="'Liberation Serif', serif" font-style="italic">τ</tspan>,<tspan font-family="'Liberation Serif', serif" font-style="italic">δr</tspan>)</text>
<text x="485.4" y="920" font-size="25" text-anchor="middle" transform="rotate(-90 485.4 920)"><tspan font-style="italic">G</tspan> (<tspan font-family="'Liberation Serif', serif" font-style="italic">τ</tspan>,<tspan font-family="'Liberation Serif', serif" font-style="italic">δr</tspan>)</text>
<text x="142.3" y="1037.5" font-size="25" text-anchor="middle">Log time (s)</text>
<text x="354.1" y="1037.5" font-size="25" text-anchor="middle">Log time (s)</text>
<text x="559.8" y="1037.5" font-size="25" text-anchor="middle">Log time (s)</text>
<text x="676.1" y="31.5" font-size="42" font-weight="bold">e</text>
<rect x="729" y="19" width="254" height="245" fill="#010a01"/>
<clipPath id="ce1"><rect x="729" y="19" width="254" height="245"/></clipPath>
<g clip-path="url(#ce1)"><g transform="translate(729 19)">
<path d="M19.5 146.9C20.6 140.4 23.1 130.4 27.5 123.9C31.9 117.4 39 112.8 45.9 107.8C52.8 102.8 61.1 99.4 68.8 94.1C76.5 88.8 85.3 82.6 91.8 75.7C98.3 68.8 100.9 59.1 107.8 52.8C114.7 46.5 124.3 41.1 133.1 37.9C141.9 34.6 151.4 33.1 160.6 33.3C169.8 33.5 179.8 35 188.2 39C196.6 43 204.8 50.1 211.1 57.4C217.4 64.7 222.8 74.2 226 82.6C229.2 91 230.4 97.8 230.6 107.8C230.8 117.8 229.7 131.2 227.2 142.3C224.7 153.4 221.1 164.9 215.7 174.4C210.3 183.9 203.4 192.7 195 199.6C186.6 206.5 176.3 212.6 165.2 215.7C154.1 218.8 140.7 218.4 128.5 218C116.3 217.6 103.6 216.5 91.8 213.4C80 210.3 67.3 204.9 57.4 199.6C47.5 194.2 38.2 187.4 32.1 181.3C26 175.2 22.8 168.6 20.7 162.9C18.6 157.2 18.4 153.4 19.5 146.9Z" fill="#0b600b" filter="url(#blur2)"/>
<clipPath id="ce1n"><path d="M19.5 146.9C20.6 140.4 23.1 130.4 27.5 123.9C31.9 117.4 39 112.8 45.9 107.8C52.8 102.8 61.1 99.4 68.8 94.1C76.5 88.8 85.3 82.6 91.8 75.7C98.3 68.8 100.9 59.1 107.8 52.8C114.7 46.5 124.3 41.1 133.1 37.9C141.9 34.6 151.4 33.1 160.6 33.3C169.8 33.5 179.8 35 188.2 39C196.6 43 204.8 50.1 211.1 57.4C217.4 64.7 222.8 74.2 226 82.6C229.2 91 230.4 97.8 230.6 107.8C230.8 117.8 229.7 131.2 227.2 142.3C224.7 153.4 221.1 164.9 215.7 174.4C210.3 183.9 203.4 192.7 195 199.6C186.6 206.5 176.3 212.6 165.2 215.7C154.1 218.8 140.7 218.4 128.5 218C116.3 217.6 103.6 216.5 91.8 213.4C80 210.3 67.3 204.9 57.4 199.6C47.5 194.2 38.2 187.4 32.1 181.3C26 175.2 22.8 168.6 20.7 162.9C18.6 157.2 18.4 153.4 19.5 146.9Z"/></clipPath><g clip-path="url(#ce1n)">
<rect x="0" y="0" width="254" height="245" fill="#001300" opacity="0.3" filter="url(#mottle)"/>
<g filter="url(#blur4)">
<ellipse cx="103.3" cy="119.3" rx="10" ry="9" fill="#001300" opacity="0.85"/>
<ellipse cx="179" cy="128.5" rx="15" ry="12" fill="#001300" opacity="0.85"/>
<ellipse cx="146.9" cy="137.7" rx="10" ry="9" fill="#001300" opacity="0.85"/>
<ellipse cx="96.4" cy="183.6" rx="12" ry="10" fill="#001300" opacity="0.85"/>
<ellipse cx="57.4" cy="169.8" rx="8" ry="7" fill="#001300" opacity="0.85"/>
<ellipse cx="179" cy="91.8" rx="7" ry="8" fill="#001300" opacity="0.85"/>
<ellipse cx="123.9" cy="105.6" rx="6" ry="6" fill="#001300" opacity="0.85"/>
<ellipse cx="64.2" cy="119.3" rx="6" ry="5" fill="#001300" opacity="0.85"/>
<ellipse cx="149" cy="82" rx="5" ry="5" fill="#001300" opacity="0.85"/>
<ellipse cx="200" cy="95" rx="5" ry="6" fill="#001300" opacity="0.85"/>
<ellipse cx="120" cy="160" rx="6" ry="5" fill="#001300" opacity="0.85"/>
<ellipse cx="170" cy="175" rx="6" ry="5" fill="#001300" opacity="0.85"/>
<ellipse cx="205" cy="170" rx="5" ry="5" fill="#001300" opacity="0.85"/>
<ellipse cx="85" cy="140" rx="6" ry="5" fill="#001300" opacity="0.85"/>
<ellipse cx="129.6" cy="182.6" rx="6.8" ry="6.3" fill="#001300" opacity="0.4"/>
<ellipse cx="180.9" cy="163.9" rx="5.6" ry="4.8" fill="#001300" opacity="0.4"/>
<ellipse cx="176.7" cy="81.2" rx="5" ry="4.6" fill="#001300" opacity="0.4"/>
<ellipse cx="203.8" cy="62.6" rx="5.8" ry="6" fill="#001300" opacity="0.4"/>
<ellipse cx="133.4" cy="196.5" rx="5.6" ry="5.1" fill="#001300" opacity="0.4"/>
<ellipse cx="49.7" cy="183.6" rx="6.3" ry="7.3" fill="#001300" opacity="0.4"/>
<ellipse cx="30.9" cy="172.6" rx="4.4" ry="5.2" fill="#001300" opacity="0.4"/>
<ellipse cx="98.7" cy="176.7" rx="6.5" ry="5.8" fill="#001300" opacity="0.4"/>
<ellipse cx="136.9" cy="210.2" rx="5.1" ry="4.8" fill="#001300" opacity="0.4"/>
<ellipse cx="76.1" cy="178.9" rx="3.8" ry="3.9" fill="#001300" opacity="0.4"/>
<ellipse cx="136.7" cy="136.3" rx="3.5" ry="3.7" fill="#001300" opacity="0.4"/>
<ellipse cx="212.5" cy="93.4" rx="4.3" ry="5" fill="#001300" opacity="0.4"/>
<ellipse cx="141.5" cy="84.9" rx="3" ry="3.3" fill="#001300" opacity="0.4"/>
<ellipse cx="93.1" cy="120.5" rx="4.1" ry="4.3" fill="#001300" opacity="0.4"/>
<ellipse cx="173.1" cy="91.7" rx="3.3" ry="3.9" fill="#001300" opacity="0.4"/>
<ellipse cx="138.5" cy="160.5" rx="4.6" ry="5" fill="#001300" opacity="0.4"/>
<ellipse cx="221.6" cy="143" rx="4.6" ry="4" fill="#001300" opacity="0.4"/>
<ellipse cx="196.8" cy="133.3" rx="6.2" ry="7.3" fill="#001300" opacity="0.4"/>
<ellipse cx="190.3" cy="44" rx="6.7" ry="5.6" fill="#001300" opacity="0.4"/>
<ellipse cx="181.9" cy="188.5" rx="5.6" ry="5.4" fill="#001300" opacity="0.4"/>
<ellipse cx="153.7" cy="79.2" rx="5.1" ry="4.6" fill="#001300" opacity="0.4"/>
<ellipse cx="172.2" cy="124.1" rx="4.6" ry="4.5" fill="#001300" opacity="0.4"/>
<ellipse cx="136.3" cy="129.4" rx="4.8" ry="5.7" fill="#001300" opacity="0.4"/>
<ellipse cx="177.9" cy="76.9" rx="4.3" ry="3.7" fill="#001300" opacity="0.4"/>
<ellipse cx="176.3" cy="138.9" rx="4.7" ry="5.4" fill="#001300" opacity="0.4"/>
<ellipse cx="89" cy="140.9" rx="6.7" ry="6.9" fill="#001300" opacity="0.4"/>
<ellipse cx="148.7" cy="102.3" rx="7" ry="7.7" fill="#001300" opacity="0.4"/>
<ellipse cx="83.7" cy="100.1" rx="5.4" ry="5.4" fill="#001300" opacity="0.4"/>
<ellipse cx="129.9" cy="70.2" rx="5.3" ry="5.7" fill="#001300" opacity="0.4"/>
<ellipse cx="180.6" cy="117.2" rx="4.8" ry="4.8" fill="#001300" opacity="0.4"/>
<circle cx="133.1" cy="84.9" r="8" fill="#1cbc1c" opacity="1"/>
<circle cx="190.5" cy="107.8" r="5" fill="#1cbc1c" opacity="0.8"/>
<circle cx="160.6" cy="62" r="4" fill="#1cbc1c" opacity="0.7"/>
<circle cx="137.7" cy="201.9" r="6" fill="#1cbc1c" opacity="0.8"/>
<circle cx="96.4" cy="206.5" r="6" fill="#1cbc1c" opacity="0.8"/>
<circle cx="156" cy="206.5" r="5" fill="#1cbc1c" opacity="0.7"/>
<circle cx="29.8" cy="172.1" r="4" fill="#1cbc1c" opacity="0.7"/>
<circle cx="59.7" cy="195" r="5" fill="#1cbc1c" opacity="0.6"/>
<circle cx="169.8" cy="151.4" r="6" fill="#1cbc1c" opacity="0.6"/>
<circle cx="206.5" cy="151.4" r="4" fill="#1cbc1c" opacity="0.6"/>
<circle cx="133.1" cy="133.1" r="5" fill="#1cbc1c" opacity="0.7"/>
<circle cx="68.8" cy="126.2" r="5" fill="#1cbc1c" opacity="0.6"/>
<circle cx="105.6" cy="137.7" r="5" fill="#1cbc1c" opacity="0.6"/>
<circle cx="210" cy="75" r="4" fill="#1cbc1c" opacity="0.5"/>
<circle cx="120" cy="180" r="4" fill="#1cbc1c" opacity="0.5"/>
<circle cx="185" cy="190" r="4" fill="#1cbc1c" opacity="0.5"/>
<circle cx="45" cy="150" r="4" fill="#1cbc1c" opacity="0.5"/>
<circle cx="95" cy="100" r="4" fill="#1cbc1c" opacity="0.5"/>
<circle cx="132.6" cy="121.9" r="2.5" fill="#1cbc1c" opacity="0.4"/>
<circle cx="118.1" cy="172.6" r="2.9" fill="#1cbc1c" opacity="0.4"/>
<circle cx="128.7" cy="163" r="2.6" fill="#1cbc1c" opacity="0.5"/>
<circle cx="210.3" cy="147" r="4.5" fill="#1cbc1c" opacity="0.4"/>
<circle cx="25.5" cy="133.2" r="4" fill="#1cbc1c" opacity="0.4"/>
<circle cx="156.4" cy="190.6" r="4.1" fill="#1cbc1c" opacity="0.5"/>
<circle cx="32.3" cy="133.7" r="2.9" fill="#1cbc1c" opacity="0.5"/>
<circle cx="76.6" cy="98.6" r="3.6" fill="#1cbc1c" opacity="0.6"/>
<circle cx="224.8" cy="109.2" r="2.5" fill="#1cbc1c" opacity="0.6"/>
<circle cx="91.2" cy="173.6" r="4.2" fill="#1cbc1c" opacity="0.4"/>
<circle cx="173.5" cy="87.1" r="3.1" fill="#1cbc1c" opacity="0.5"/>
<circle cx="133.1" cy="79.5" r="3.5" fill="#1cbc1c" opacity="0.4"/>
<circle cx="163" cy="91.8" r="2.9" fill="#1cbc1c" opacity="0.5"/>
<circle cx="185.3" cy="62.8" r="3.1" fill="#1cbc1c" opacity="0.5"/>
<circle cx="130.9" cy="106.1" r="3.5" fill="#1cbc1c" opacity="0.6"/>
<circle cx="52.4" cy="137.3" r="2.8" fill="#1cbc1c" opacity="0.5"/>
<circle cx="86.6" cy="182" r="4.3" fill="#1cbc1c" opacity="0.7"/>
<circle cx="105.5" cy="147.9" r="2.8" fill="#1cbc1c" opacity="0.6"/>
<circle cx="183.4" cy="113.1" r="3.1" fill="#1cbc1c" opacity="0.6"/>
<circle cx="177.6" cy="181.3" r="3.1" fill="#1cbc1c" opacity="0.4"/>
<circle cx="123.5" cy="113.8" r="4.3" fill="#1cbc1c" opacity="0.5"/>
<circle cx="180.4" cy="93.8" r="4.4" fill="#1cbc1c" opacity="0.6"/>
<circle cx="84.7" cy="193" r="4.3" fill="#1cbc1c" opacity="0.5"/>
<circle cx="191.8" cy="197.5" r="3.8" fill="#1cbc1c" opacity="0.6"/>
<circle cx="186.7" cy="78.4" r="2.9" fill="#1cbc1c" opacity="0.7"/>
<circle cx="196.2" cy="114.8" r="3" fill="#1cbc1c" opacity="0.4"/>
<circle cx="104.9" cy="201.3" r="2.9" fill="#1cbc1c" opacity="0.5"/>
<circle cx="27.4" cy="139.1" r="2.6" fill="#1cbc1c" opacity="0.6"/>
<circle cx="123.3" cy="112.4" r="3" fill="#1cbc1c" opacity="0.5"/>
<circle cx="177.9" cy="74" r="2.9" fill="#1cbc1c" opacity="0.5"/>
<circle cx="68.3" cy="150.9" r="3.3" fill="#1cbc1c" opacity="0.5"/>
<circle cx="61.5" cy="167" r="4.1" fill="#1cbc1c" opacity="0.7"/>
<circle cx="121.7" cy="115.8" r="3.8" fill="#1cbc1c" opacity="0.4"/>
<circle cx="204.5" cy="175.5" r="3" fill="#1cbc1c" opacity="0.5"/>
<circle cx="122.1" cy="190.9" r="3.9" fill="#1cbc1c" opacity="0.4"/>
</g></g>
<rect x="0" y="0" width="254" height="245" fill="#000" opacity="0.3" filter="url(#grain)"/>
</g></g>
<text x="734.5" y="48.1" font-size="24.9" fill="#66ff00">eGFP-53BP1</text>
<rect x="998" y="20" width="254" height="244" fill="#0a0000"/>
<clipPath id="ce2"><rect x="998" y="20" width="254" height="244"/></clipPath>
<g clip-path="url(#ce2)"><g transform="translate(998 20)">
<path d="M19.5 146.9C20.6 140.4 23.1 130.4 27.5 123.9C31.9 117.4 39 112.8 45.9 107.8C52.8 102.8 61.1 99.4 68.8 94.1C76.5 88.8 85.3 82.6 91.8 75.7C98.3 68.8 100.9 59.1 107.8 52.8C114.7 46.5 124.3 41.1 133.1 37.9C141.9 34.6 151.4 33.1 160.6 33.3C169.8 33.5 179.8 35 188.2 39C196.6 43 204.8 50.1 211.1 57.4C217.4 64.7 222.8 74.2 226 82.6C229.2 91 230.4 97.8 230.6 107.8C230.8 117.8 229.7 131.2 227.2 142.3C224.7 153.4 221.1 164.9 215.7 174.4C210.3 183.9 203.4 192.7 195 199.6C186.6 206.5 176.3 212.6 165.2 215.7C154.1 218.8 140.7 218.4 128.5 218C116.3 217.6 103.6 216.5 91.8 213.4C80 210.3 67.3 204.9 57.4 199.6C47.5 194.2 38.2 187.4 32.1 181.3C26 175.2 22.8 168.6 20.7 162.9C18.6 157.2 18.4 153.4 19.5 146.9Z" fill="#720707" filter="url(#blur2)"/>
<clipPath id="ce2n"><path d="M19.5 146.9C20.6 140.4 23.1 130.4 27.5 123.9C31.9 117.4 39 112.8 45.9 107.8C52.8 102.8 61.1 99.4 68.8 94.1C76.5 88.8 85.3 82.6 91.8 75.7C98.3 68.8 100.9 59.1 107.8 52.8C114.7 46.5 124.3 41.1 133.1 37.9C141.9 34.6 151.4 33.1 160.6 33.3C169.8 33.5 179.8 35 188.2 39C196.6 43 204.8 50.1 211.1 57.4C217.4 64.7 222.8 74.2 226 82.6C229.2 91 230.4 97.8 230.6 107.8C230.8 117.8 229.7 131.2 227.2 142.3C224.7 153.4 221.1 164.9 215.7 174.4C210.3 183.9 203.4 192.7 195 199.6C186.6 206.5 176.3 212.6 165.2 215.7C154.1 218.8 140.7 218.4 128.5 218C116.3 217.6 103.6 216.5 91.8 213.4C80 210.3 67.3 204.9 57.4 199.6C47.5 194.2 38.2 187.4 32.1 181.3C26 175.2 22.8 168.6 20.7 162.9C18.6 157.2 18.4 153.4 19.5 146.9Z"/></clipPath><g clip-path="url(#ce2n)">
<rect x="0" y="0" width="254" height="244" fill="#180000" opacity="0.3" filter="url(#mottle)"/>
<g filter="url(#blur4)">
<ellipse cx="103.3" cy="119.3" rx="10" ry="9" fill="#180000" opacity="0.85"/>
<ellipse cx="179" cy="128.5" rx="15" ry="12" fill="#180000" opacity="0.85"/>
<ellipse cx="146.9" cy="137.7" rx="10" ry="9" fill="#180000" opacity="0.85"/>
<ellipse cx="96.4" cy="183.6" rx="12" ry="10" fill="#180000" opacity="0.85"/>
<ellipse cx="57.4" cy="169.8" rx="8" ry="7" fill="#180000" opacity="0.85"/>
<ellipse cx="179" cy="91.8" rx="7" ry="8" fill="#180000" opacity="0.85"/>
<ellipse cx="123.9" cy="105.6" rx="6" ry="6" fill="#180000" opacity="0.85"/>
<ellipse cx="64.2" cy="119.3" rx="6" ry="5" fill="#180000" opacity="0.85"/>
<ellipse cx="149" cy="82" rx="5" ry="5" fill="#180000" opacity="0.85"/>
<ellipse cx="200" cy="95" rx="5" ry="6" fill="#180000" opacity="0.85"/>
<ellipse cx="120" cy="160" rx="6" ry="5" fill="#180000" opacity="0.85"/>
<ellipse cx="170" cy="175" rx="6" ry="5" fill="#180000" opacity="0.85"/>
<ellipse cx="205" cy="170" rx="5" ry="5" fill="#180000" opacity="0.85"/>
<ellipse cx="85" cy="140" rx="6" ry="5" fill="#180000" opacity="0.85"/>
<ellipse cx="129.6" cy="182.6" rx="6.8" ry="6.3" fill="#180000" opacity="0.4"/>
<ellipse cx="180.9" cy="163.9" rx="5.6" ry="4.8" fill="#180000" opacity="0.4"/>
<ellipse cx="176.7" cy="81.2" rx="5" ry="4.6" fill="#180000" opacity="0.4"/>
<ellipse cx="203.8" cy="62.6" rx="5.8" ry="6" fill="#180000" opacity="0.4"/>
<ellipse cx="133.4" cy="196.5" rx="5.6" ry="5.1" fill="#180000" opacity="0.4"/>
<ellipse cx="49.7" cy="183.6" rx="6.3" ry="7.3" fill="#180000" opacity="0.4"/>
<ellipse cx="30.9" cy="172.6" rx="4.4" ry="5.2" fill="#180000" opacity="0.4"/>
<ellipse cx="98.7" cy="176.7" rx="6.5" ry="5.8" fill="#180000" opacity="0.4"/>
<ellipse cx="136.9" cy="210.2" rx="5.1" ry="4.8" fill="#180000" opacity="0.4"/>
<ellipse cx="76.1" cy="178.9" rx="3.8" ry="3.9" fill="#180000" opacity="0.4"/>
<ellipse cx="136.7" cy="136.3" rx="3.5" ry="3.7" fill="#180000" opacity="0.4"/>
<ellipse cx="212.5" cy="93.4" rx="4.3" ry="5" fill="#180000" opacity="0.4"/>
<ellipse cx="141.5" cy="84.9" rx="3" ry="3.3" fill="#180000" opacity="0.4"/>
<ellipse cx="93.1" cy="120.5" rx="4.1" ry="4.3" fill="#180000" opacity="0.4"/>
<ellipse cx="173.1" cy="91.7" rx="3.3" ry="3.9" fill="#180000" opacity="0.4"/>
<ellipse cx="138.5" cy="160.5" rx="4.6" ry="5" fill="#180000" opacity="0.4"/>
<ellipse cx="221.6" cy="143" rx="4.6" ry="4" fill="#180000" opacity="0.4"/>
<ellipse cx="196.8" cy="133.3" rx="6.2" ry="7.3" fill="#180000" opacity="0.4"/>
<ellipse cx="190.3" cy="44" rx="6.7" ry="5.6" fill="#180000" opacity="0.4"/>
<ellipse cx="181.9" cy="188.5" rx="5.6" ry="5.4" fill="#180000" opacity="0.4"/>
<ellipse cx="153.7" cy="79.2" rx="5.1" ry="4.6" fill="#180000" opacity="0.4"/>
<ellipse cx="172.2" cy="124.1" rx="4.6" ry="4.5" fill="#180000" opacity="0.4"/>
<ellipse cx="136.3" cy="129.4" rx="4.8" ry="5.7" fill="#180000" opacity="0.4"/>
<ellipse cx="177.9" cy="76.9" rx="4.3" ry="3.7" fill="#180000" opacity="0.4"/>
<ellipse cx="176.3" cy="138.9" rx="4.7" ry="5.4" fill="#180000" opacity="0.4"/>
<ellipse cx="89" cy="140.9" rx="6.7" ry="6.9" fill="#180000" opacity="0.4"/>
<ellipse cx="148.7" cy="102.3" rx="7" ry="7.7" fill="#180000" opacity="0.4"/>
<ellipse cx="83.7" cy="100.1" rx="5.4" ry="5.4" fill="#180000" opacity="0.4"/>
<ellipse cx="129.9" cy="70.2" rx="5.3" ry="5.7" fill="#180000" opacity="0.4"/>
<ellipse cx="180.6" cy="117.2" rx="4.8" ry="4.8" fill="#180000" opacity="0.4"/>
<circle cx="133.1" cy="84.9" r="8" fill="#e41a1a" opacity="1"/>
<circle cx="190.5" cy="107.8" r="5" fill="#e41a1a" opacity="0.8"/>
<circle cx="160.6" cy="62" r="4" fill="#e41a1a" opacity="0.7"/>
<circle cx="137.7" cy="201.9" r="6" fill="#e41a1a" opacity="0.8"/>
<circle cx="96.4" cy="206.5" r="6" fill="#e41a1a" opacity="0.8"/>
<circle cx="156" cy="206.5" r="5" fill="#e41a1a" opacity="0.7"/>
<circle cx="29.8" cy="172.1" r="4" fill="#e41a1a" opacity="0.7"/>
<circle cx="59.7" cy="195" r="5" fill="#e41a1a" opacity="0.6"/>
<circle cx="169.8" cy="151.4" r="6" fill="#e41a1a" opacity="0.6"/>
<circle cx="206.5" cy="151.4" r="4" fill="#e41a1a" opacity="0.6"/>
<circle cx="133.1" cy="133.1" r="5" fill="#e41a1a" opacity="0.7"/>
<circle cx="68.8" cy="126.2" r="5" fill="#e41a1a" opacity="0.6"/>
<circle cx="105.6" cy="137.7" r="5" fill="#e41a1a" opacity="0.6"/>
<circle cx="210" cy="75" r="4" fill="#e41a1a" opacity="0.5"/>
<circle cx="120" cy="180" r="4" fill="#e41a1a" opacity="0.5"/>
<circle cx="185" cy="190" r="4" fill="#e41a1a" opacity="0.5"/>
<circle cx="45" cy="150" r="4" fill="#e41a1a" opacity="0.5"/>
<circle cx="95" cy="100" r="4" fill="#e41a1a" opacity="0.5"/>
<circle cx="132.6" cy="121.9" r="2.5" fill="#e41a1a" opacity="0.4"/>
<circle cx="118.1" cy="172.6" r="2.9" fill="#e41a1a" opacity="0.4"/>
<circle cx="128.7" cy="163" r="2.6" fill="#e41a1a" opacity="0.5"/>
<circle cx="210.3" cy="147" r="4.5" fill="#e41a1a" opacity="0.4"/>
<circle cx="25.5" cy="133.2" r="4" fill="#e41a1a" opacity="0.4"/>
<circle cx="156.4" cy="190.6" r="4.1" fill="#e41a1a" opacity="0.5"/>
<circle cx="32.3" cy="133.7" r="2.9" fill="#e41a1a" opacity="0.5"/>
<circle cx="76.6" cy="98.6" r="3.6" fill="#e41a1a" opacity="0.6"/>
<circle cx="224.8" cy="109.2" r="2.5" fill="#e41a1a" opacity="0.6"/>
<circle cx="91.2" cy="173.6" r="4.2" fill="#e41a1a" opacity="0.4"/>
<circle cx="173.5" cy="87.1" r="3.1" fill="#e41a1a" opacity="0.5"/>
<circle cx="133.1" cy="79.5" r="3.5" fill="#e41a1a" opacity="0.4"/>
<circle cx="163" cy="91.8" r="2.9" fill="#e41a1a" opacity="0.5"/>
<circle cx="185.3" cy="62.8" r="3.1" fill="#e41a1a" opacity="0.5"/>
<circle cx="130.9" cy="106.1" r="3.5" fill="#e41a1a" opacity="0.6"/>
<circle cx="52.4" cy="137.3" r="2.8" fill="#e41a1a" opacity="0.5"/>
<circle cx="86.6" cy="182" r="4.3" fill="#e41a1a" opacity="0.7"/>
<circle cx="105.5" cy="147.9" r="2.8" fill="#e41a1a" opacity="0.6"/>
<circle cx="183.4" cy="113.1" r="3.1" fill="#e41a1a" opacity="0.6"/>
<circle cx="177.6" cy="181.3" r="3.1" fill="#e41a1a" opacity="0.4"/>
<circle cx="123.5" cy="113.8" r="4.3" fill="#e41a1a" opacity="0.5"/>
<circle cx="180.4" cy="93.8" r="4.4" fill="#e41a1a" opacity="0.6"/>
<circle cx="84.7" cy="193" r="4.3" fill="#e41a1a" opacity="0.5"/>
<circle cx="191.8" cy="197.5" r="3.8" fill="#e41a1a" opacity="0.6"/>
<circle cx="186.7" cy="78.4" r="2.9" fill="#e41a1a" opacity="0.7"/>
<circle cx="196.2" cy="114.8" r="3" fill="#e41a1a" opacity="0.4"/>
<circle cx="104.9" cy="201.3" r="2.9" fill="#e41a1a" opacity="0.5"/>
<circle cx="27.4" cy="139.1" r="2.6" fill="#e41a1a" opacity="0.6"/>
<circle cx="123.3" cy="112.4" r="3" fill="#e41a1a" opacity="0.5"/>
<circle cx="177.9" cy="74" r="2.9" fill="#e41a1a" opacity="0.5"/>
<circle cx="68.3" cy="150.9" r="3.3" fill="#e41a1a" opacity="0.5"/>
<circle cx="61.5" cy="167" r="4.1" fill="#e41a1a" opacity="0.7"/>
<circle cx="121.7" cy="115.8" r="3.8" fill="#e41a1a" opacity="0.4"/>
<circle cx="204.5" cy="175.5" r="3" fill="#e41a1a" opacity="0.5"/>
<circle cx="122.1" cy="190.9" r="3.9" fill="#e41a1a" opacity="0.4"/>
</g></g>
<rect x="0" y="0" width="254" height="244" fill="#000" opacity="0.3" filter="url(#grain)"/>
</g></g>
<text x="1006.3" y="47" font-size="24.9" fill="#ff0000">mKate2-53BP1</text>
<rect x="1267" y="19" width="253" height="244" fill="#050500"/>
<clipPath id="ce3"><rect x="1267" y="19" width="253" height="244"/></clipPath>
<g clip-path="url(#ce3)"><g transform="translate(1267 19)">
<path d="M19.5 146.9C20.6 140.4 23.1 130.4 27.5 123.9C31.9 117.4 39 112.8 45.9 107.8C52.8 102.8 61.1 99.4 68.8 94.1C76.5 88.8 85.3 82.6 91.8 75.7C98.3 68.8 100.9 59.1 107.8 52.8C114.7 46.5 124.3 41.1 133.1 37.9C141.9 34.6 151.4 33.1 160.6 33.3C169.8 33.5 179.8 35 188.2 39C196.6 43 204.8 50.1 211.1 57.4C217.4 64.7 222.8 74.2 226 82.6C229.2 91 230.4 97.8 230.6 107.8C230.8 117.8 229.7 131.2 227.2 142.3C224.7 153.4 221.1 164.9 215.7 174.4C210.3 183.9 203.4 192.7 195 199.6C186.6 206.5 176.3 212.6 165.2 215.7C154.1 218.8 140.7 218.4 128.5 218C116.3 217.6 103.6 216.5 91.8 213.4C80 210.3 67.3 204.9 57.4 199.6C47.5 194.2 38.2 187.4 32.1 181.3C26 175.2 22.8 168.6 20.7 162.9C18.6 157.2 18.4 153.4 19.5 146.9Z" fill="#4c5a0e" filter="url(#blur2)"/>
<clipPath id="ce3n"><path d="M19.5 146.9C20.6 140.4 23.1 130.4 27.5 123.9C31.9 117.4 39 112.8 45.9 107.8C52.8 102.8 61.1 99.4 68.8 94.1C76.5 88.8 85.3 82.6 91.8 75.7C98.3 68.8 100.9 59.1 107.8 52.8C114.7 46.5 124.3 41.1 133.1 37.9C141.9 34.6 151.4 33.1 160.6 33.3C169.8 33.5 179.8 35 188.2 39C196.6 43 204.8 50.1 211.1 57.4C217.4 64.7 222.8 74.2 226 82.6C229.2 91 230.4 97.8 230.6 107.8C230.8 117.8 229.7 131.2 227.2 142.3C224.7 153.4 221.1 164.9 215.7 174.4C210.3 183.9 203.4 192.7 195 199.6C186.6 206.5 176.3 212.6 165.2 215.7C154.1 218.8 140.7 218.4 128.5 218C116.3 217.6 103.6 216.5 91.8 213.4C80 210.3 67.3 204.9 57.4 199.6C47.5 194.2 38.2 187.4 32.1 181.3C26 175.2 22.8 168.6 20.7 162.9C18.6 157.2 18.4 153.4 19.5 146.9Z"/></clipPath><g clip-path="url(#ce3n)">
<rect x="0" y="0" width="253" height="244" fill="#100c00" opacity="0.3" filter="url(#mottle)"/>
<g filter="url(#blur4)">
<ellipse cx="103.3" cy="119.3" rx="10" ry="9" fill="#100c00" opacity="0.85"/>
<ellipse cx="179" cy="128.5" rx="15" ry="12" fill="#100c00" opacity="0.85"/>
<ellipse cx="146.9" cy="137.7" rx="10" ry="9" fill="#100c00" opacity="0.85"/>
<ellipse cx="96.4" cy="183.6" rx="12" ry="10" fill="#100c00" opacity="0.85"/>
<ellipse cx="57.4" cy="169.8" rx="8" ry="7" fill="#100c00" opacity="0.85"/>
<ellipse cx="179" cy="91.8" rx="7" ry="8" fill="#100c00" opacity="0.85"/>
<ellipse cx="123.9" cy="105.6" rx="6" ry="6" fill="#100c00" opacity="0.85"/>
<ellipse cx="64.2" cy="119.3" rx="6" ry="5" fill="#100c00" opacity="0.85"/>
<ellipse cx="149" cy="82" rx="5" ry="5" fill="#100c00" opacity="0.85"/>
<ellipse cx="200" cy="95" rx="5" ry="6" fill="#100c00" opacity="0.85"/>
<ellipse cx="120" cy="160" rx="6" ry="5" fill="#100c00" opacity="0.85"/>
<ellipse cx="170" cy="175" rx="6" ry="5" fill="#100c00" opacity="0.85"/>
<ellipse cx="205" cy="170" rx="5" ry="5" fill="#100c00" opacity="0.85"/>
<ellipse cx="85" cy="140" rx="6" ry="5" fill="#100c00" opacity="0.85"/>
<ellipse cx="129.6" cy="182.6" rx="6.8" ry="6.3" fill="#100c00" opacity="0.4"/>
<ellipse cx="180.9" cy="163.9" rx="5.6" ry="4.8" fill="#100c00" opacity="0.4"/>
<ellipse cx="176.7" cy="81.2" rx="5" ry="4.6" fill="#100c00" opacity="0.4"/>
<ellipse cx="203.8" cy="62.6" rx="5.8" ry="6" fill="#100c00" opacity="0.4"/>
<ellipse cx="133.4" cy="196.5" rx="5.6" ry="5.1" fill="#100c00" opacity="0.4"/>
<ellipse cx="49.7" cy="183.6" rx="6.3" ry="7.3" fill="#100c00" opacity="0.4"/>
<ellipse cx="30.9" cy="172.6" rx="4.4" ry="5.2" fill="#100c00" opacity="0.4"/>
<ellipse cx="98.7" cy="176.7" rx="6.5" ry="5.8" fill="#100c00" opacity="0.4"/>
<ellipse cx="136.9" cy="210.2" rx="5.1" ry="4.8" fill="#100c00" opacity="0.4"/>
<ellipse cx="76.1" cy="178.9" rx="3.8" ry="3.9" fill="#100c00" opacity="0.4"/>
<ellipse cx="136.7" cy="136.3" rx="3.5" ry="3.7" fill="#100c00" opacity="0.4"/>
<ellipse cx="212.5" cy="93.4" rx="4.3" ry="5" fill="#100c00" opacity="0.4"/>
<ellipse cx="141.5" cy="84.9" rx="3" ry="3.3" fill="#100c00" opacity="0.4"/>
<ellipse cx="93.1" cy="120.5" rx="4.1" ry="4.3" fill="#100c00" opacity="0.4"/>
<ellipse cx="173.1" cy="91.7" rx="3.3" ry="3.9" fill="#100c00" opacity="0.4"/>
<ellipse cx="138.5" cy="160.5" rx="4.6" ry="5" fill="#100c00" opacity="0.4"/>
<ellipse cx="221.6" cy="143" rx="4.6" ry="4" fill="#100c00" opacity="0.4"/>
<ellipse cx="196.8" cy="133.3" rx="6.2" ry="7.3" fill="#100c00" opacity="0.4"/>
<ellipse cx="190.3" cy="44" rx="6.7" ry="5.6" fill="#100c00" opacity="0.4"/>
<ellipse cx="181.9" cy="188.5" rx="5.6" ry="5.4" fill="#100c00" opacity="0.4"/>
<ellipse cx="153.7" cy="79.2" rx="5.1" ry="4.6" fill="#100c00" opacity="0.4"/>
<ellipse cx="172.2" cy="124.1" rx="4.6" ry="4.5" fill="#100c00" opacity="0.4"/>
<ellipse cx="136.3" cy="129.4" rx="4.8" ry="5.7" fill="#100c00" opacity="0.4"/>
<ellipse cx="177.9" cy="76.9" rx="4.3" ry="3.7" fill="#100c00" opacity="0.4"/>
<ellipse cx="176.3" cy="138.9" rx="4.7" ry="5.4" fill="#100c00" opacity="0.4"/>
<ellipse cx="89" cy="140.9" rx="6.7" ry="6.9" fill="#100c00" opacity="0.4"/>
<ellipse cx="148.7" cy="102.3" rx="7" ry="7.7" fill="#100c00" opacity="0.4"/>
<ellipse cx="83.7" cy="100.1" rx="5.4" ry="5.4" fill="#100c00" opacity="0.4"/>
<ellipse cx="129.9" cy="70.2" rx="5.3" ry="5.7" fill="#100c00" opacity="0.4"/>
<ellipse cx="180.6" cy="117.2" rx="4.8" ry="4.8" fill="#100c00" opacity="0.4"/>
<circle cx="133.1" cy="84.9" r="8" fill="#c8b42a" opacity="1"/>
<circle cx="190.5" cy="107.8" r="5" fill="#c8b42a" opacity="0.8"/>
<circle cx="160.6" cy="62" r="4" fill="#c8b42a" opacity="0.7"/>
<circle cx="137.7" cy="201.9" r="6" fill="#c8b42a" opacity="0.8"/>
<circle cx="96.4" cy="206.5" r="6" fill="#c8b42a" opacity="0.8"/>
<circle cx="156" cy="206.5" r="5" fill="#c8b42a" opacity="0.7"/>
<circle cx="29.8" cy="172.1" r="4" fill="#c8b42a" opacity="0.7"/>
<circle cx="59.7" cy="195" r="5" fill="#c8b42a" opacity="0.6"/>
<circle cx="169.8" cy="151.4" r="6" fill="#c8b42a" opacity="0.6"/>
<circle cx="206.5" cy="151.4" r="4" fill="#c8b42a" opacity="0.6"/>
<circle cx="133.1" cy="133.1" r="5" fill="#c8b42a" opacity="0.7"/>
<circle cx="68.8" cy="126.2" r="5" fill="#c8b42a" opacity="0.6"/>
<circle cx="105.6" cy="137.7" r="5" fill="#c8b42a" opacity="0.6"/>
<circle cx="210" cy="75" r="4" fill="#c8b42a" opacity="0.5"/>
<circle cx="120" cy="180" r="4" fill="#c8b42a" opacity="0.5"/>
<circle cx="185" cy="190" r="4" fill="#c8b42a" opacity="0.5"/>
<circle cx="45" cy="150" r="4" fill="#c8b42a" opacity="0.5"/>
<circle cx="95" cy="100" r="4" fill="#c8b42a" opacity="0.5"/>
<circle cx="132.6" cy="121.9" r="2.5" fill="#c8b42a" opacity="0.4"/>
<circle cx="118.1" cy="172.6" r="2.9" fill="#c8b42a" opacity="0.4"/>
<circle cx="128.7" cy="163" r="2.6" fill="#c8b42a" opacity="0.5"/>
<circle cx="210.3" cy="147" r="4.5" fill="#c8b42a" opacity="0.4"/>
<circle cx="25.5" cy="133.2" r="4" fill="#c8b42a" opacity="0.4"/>
<circle cx="156.4" cy="190.6" r="4.1" fill="#c8b42a" opacity="0.5"/>
<circle cx="32.3" cy="133.7" r="2.9" fill="#c8b42a" opacity="0.5"/>
<circle cx="76.6" cy="98.6" r="3.6" fill="#c8b42a" opacity="0.6"/>
<circle cx="224.8" cy="109.2" r="2.5" fill="#c8b42a" opacity="0.6"/>
<circle cx="91.2" cy="173.6" r="4.2" fill="#c8b42a" opacity="0.4"/>
<circle cx="173.5" cy="87.1" r="3.1" fill="#c8b42a" opacity="0.5"/>
<circle cx="133.1" cy="79.5" r="3.5" fill="#c8b42a" opacity="0.4"/>
<circle cx="163" cy="91.8" r="2.9" fill="#c8b42a" opacity="0.5"/>
<circle cx="185.3" cy="62.8" r="3.1" fill="#c8b42a" opacity="0.5"/>
<circle cx="130.9" cy="106.1" r="3.5" fill="#c8b42a" opacity="0.6"/>
<circle cx="52.4" cy="137.3" r="2.8" fill="#c8b42a" opacity="0.5"/>
<circle cx="86.6" cy="182" r="4.3" fill="#c8b42a" opacity="0.7"/>
<circle cx="105.5" cy="147.9" r="2.8" fill="#c8b42a" opacity="0.6"/>
<circle cx="183.4" cy="113.1" r="3.1" fill="#c8b42a" opacity="0.6"/>
<circle cx="177.6" cy="181.3" r="3.1" fill="#c8b42a" opacity="0.4"/>
<circle cx="123.5" cy="113.8" r="4.3" fill="#c8b42a" opacity="0.5"/>
<circle cx="180.4" cy="93.8" r="4.4" fill="#c8b42a" opacity="0.6"/>
<circle cx="84.7" cy="193" r="4.3" fill="#c8b42a" opacity="0.5"/>
<circle cx="191.8" cy="197.5" r="3.8" fill="#c8b42a" opacity="0.6"/>
<circle cx="186.7" cy="78.4" r="2.9" fill="#c8b42a" opacity="0.7"/>
<circle cx="196.2" cy="114.8" r="3" fill="#c8b42a" opacity="0.4"/>
<circle cx="104.9" cy="201.3" r="2.9" fill="#c8b42a" opacity="0.5"/>
<circle cx="27.4" cy="139.1" r="2.6" fill="#c8b42a" opacity="0.6"/>
<circle cx="123.3" cy="112.4" r="3" fill="#c8b42a" opacity="0.5"/>
<circle cx="177.9" cy="74" r="2.9" fill="#c8b42a" opacity="0.5"/>
<circle cx="68.3" cy="150.9" r="3.3" fill="#c8b42a" opacity="0.5"/>
<circle cx="61.5" cy="167" r="4.1" fill="#c8b42a" opacity="0.7"/>
<circle cx="121.7" cy="115.8" r="3.8" fill="#c8b42a" opacity="0.4"/>
<circle cx="204.5" cy="175.5" r="3" fill="#c8b42a" opacity="0.5"/>
<circle cx="122.1" cy="190.9" r="3.9" fill="#c8b42a" opacity="0.4"/>
</g></g>
<rect x="0" y="0" width="253" height="244" fill="#000" opacity="0.3" filter="url(#grain)"/>
</g></g>
<text x="1275.8" y="47" font-size="24.9" fill="#ffff00">Merge</text>
<rect x="768.3" y="120.6" width="58" height="57.6" fill="none" stroke="#fff" stroke-width="1.6"/>
<line x1="772.3" y1="149.4" x2="814.3" y2="149.4" stroke="#fff" stroke-width="1.6"/>
<polygon points="822.5,149.4 813,154.6 813,144.2" fill="#fff"/>
<rect x="740" y="249.3" width="52.4" height="3" fill="#fff"/>
<rect x="1034" y="121" width="58" height="57.6" fill="none" stroke="#fff" stroke-width="1.6"/>
<line x1="1038" y1="149.8" x2="1080" y2="149.8" stroke="#fff" stroke-width="1.6"/>
<polygon points="1088.2,149.8 1078.7,155 1078.7,144.6" fill="#fff"/>
<rect x="1009" y="252.5" width="53" height="3" fill="#fff"/>
<rect x="1305.8" y="121" width="58" height="57.6" fill="none" stroke="#fff" stroke-width="1.6"/>
<line x1="1309.8" y1="149.8" x2="1351.8" y2="149.8" stroke="#fff" stroke-width="1.6"/>
<polygon points="1360,149.8 1350.5,155 1350.5,144.6" fill="#fff"/>
<rect x="1278.8" y="249.2" width="53.2" height="3" fill="#fff"/>
<filter id="hgrain" x="0" y="0" width="100%" height="100%"><feTurbulence type="fractalNoise" baseFrequency="0.3 0.35" numOctaves="1" seed="5"/><feColorMatrix type="matrix" values="0 0 0 0 0  0 0 0 0 0  0 0 0 0 0  0 0 0 -2 1.1"/></filter>
<text x="677.5" y="321.3" font-size="42" font-weight="bold">f</text>
<text x="875.9" y="307.7" font-size="25" text-anchor="middle">Distance (pixels)</text>
<text x="1131.5" y="307.7" font-size="25" text-anchor="middle">Distance (pixels)</text>
<text x="1382.7" y="307.7" font-size="25" text-anchor="middle">Distance (pixels)</text>
<text x="769.8" y="346" font-size="24.4" text-anchor="middle">0</text>
<text x="823.7" y="346" font-size="24.4" text-anchor="middle">16</text>
<text x="875.4" y="346" font-size="24.4" text-anchor="middle">32</text>
<text x="929.2" y="346" font-size="24.4" text-anchor="middle">48</text>
<text x="982.4" y="346" font-size="24.4" text-anchor="middle">64</text>
<text x="1024.8" y="346" font-size="24.4" text-anchor="middle">0</text>
<text x="1078.1" y="346" font-size="24.4" text-anchor="middle">16</text>
<text x="1131.2" y="346" font-size="24.4" text-anchor="middle">32</text>
<text x="1184" y="346" font-size="24.4" text-anchor="middle">48</text>
<text x="1237" y="346" font-size="24.4" text-anchor="middle">64</text>
<text x="1280.1" y="346" font-size="24.4" text-anchor="middle">0</text>
<text x="1331.8" y="346" font-size="24.4" text-anchor="middle">16</text>
<text x="1382.4" y="346" font-size="24.4" text-anchor="middle">32</text>
<text x="1433" y="346" font-size="24.4" text-anchor="middle">48</text>
<text x="1484.2" y="346" font-size="24.4" text-anchor="middle">64</text>
<linearGradient id="hg1" x1="0" x2="1" y1="0" y2="0"><stop offset="0.0000" stop-color="#0083ff"/><stop offset="0.0156" stop-color="#0083ff"/><stop offset="0.0156" stop-color="#008eff"/><stop offset="0.0312" stop-color="#008eff"/><stop offset="0.0312" stop-color="#0059ff"/><stop offset="0.0469" stop-color="#0059ff"/><stop offset="0.0469" stop-color="#0011ff"/><stop offset="0.0625" stop-color="#0011ff"/><stop offset="0.0625" stop-color="#0015ff"/><stop offset="0.0781" stop-color="#0015ff"/><stop offset="0.0781" stop-color="#0010ff"/><stop offset="0.0938" stop-color="#0010ff"/><stop offset="0.0938" stop-color="#0013ff"/><stop offset="0.1094" stop-color="#0013ff"/><stop offset="0.1094" stop-color="#0014ff"/><stop offset="0.1250" stop-color="#0014ff"/><stop offset="0.1250" stop-color="#0000fb"/><stop offset="0.1406" stop-color="#0000fb"/><stop offset="0.1406" stop-color="#0000f5"/><stop offset="0.1562" stop-color="#0000f5"/><stop offset="0.1562" stop-color="#000cff"/><stop offset="0.1719" stop-color="#000cff"/><stop offset="0.1719" stop-color="#0000fb"/><stop offset="0.1875" stop-color="#0000fb"/><stop offset="0.1875" stop-color="#0003ff"/><stop offset="0.2031" stop-color="#0003ff"/><stop offset="0.2031" stop-color="#0000eb"/><stop offset="0.2188" stop-color="#0000eb"/><stop offset="0.2188" stop-color="#0000fa"/><stop offset="0.2344" stop-color="#0000fa"/><stop offset="0.2344" stop-color="#0005ff"/><stop offset="0.2500" stop-color="#0005ff"/><stop offset="0.2500" stop-color="#0000f6"/><stop offset="0.2656" stop-color="#0000f6"/><stop offset="0.2656" stop-color="#000fff"/><stop offset="0.2812" stop-color="#000fff"/><stop offset="0.2812" stop-color="#000fff"/><stop offset="0.2969" stop-color="#000fff"/><stop offset="0.2969" stop-color="#0000f5"/><stop offset="0.3125" stop-color="#0000f5"/><stop offset="0.3125" stop-color="#004aff"/><stop offset="0.3281" stop-color="#004aff"/><stop offset="0.3281" stop-color="#00f6ff"/><stop offset="0.3438" stop-color="#00f6ff"/><stop offset="0.3438" stop-color="#64ff9a"/><stop offset="0.3594" stop-color="#64ff9a"/><stop offset="0.3594" stop-color="#b9ff45"/><stop offset="0.3750" stop-color="#b9ff45"/><stop offset="0.3750" stop-color="#f4ff0a"/><stop offset="0.3906" stop-color="#f4ff0a"/><stop offset="0.3906" stop-color="#ffee00"/><stop offset="0.4062" stop-color="#ffee00"/><stop offset="0.4062" stop-color="#ffe700"/><stop offset="0.4219" stop-color="#ffe700"/><stop offset="0.4219" stop-color="#ffd100"/><stop offset="0.4375" stop-color="#ffd100"/><stop offset="0.4375" stop-color="#ffbe00"/><stop offset="0.4531" stop-color="#ffbe00"/><stop offset="0.4531" stop-color="#ffaf00"/><stop offset="0.4688" stop-color="#ffaf00"/><stop offset="0.4688" stop-color="#ffb000"/><stop offset="0.4844" stop-color="#ffb000"/><stop offset="0.4844" stop-color="#ffb000"/><stop offset="0.5000" stop-color="#ffb000"/><stop offset="0.5000" stop-color="#ffb000"/><stop offset="0.5156" stop-color="#ffb000"/><stop offset="0.5156" stop-color="#ffad00"/><stop offset="0.5312" stop-color="#ffad00"/><stop offset="0.5312" stop-color="#ffc200"/><stop offset="0.5469" stop-color="#ffc200"/><stop offset="0.5469" stop-color="#ffda00"/><stop offset="0.5625" stop-color="#ffda00"/><stop offset="0.5625" stop-color="#ffdb00"/><stop offset="0.5781" stop-color="#ffdb00"/><stop offset="0.5781" stop-color="#f5ff09"/><stop offset="0.5938" stop-color="#f5ff09"/><stop offset="0.5938" stop-color="#90ff6e"/><stop offset="0.6094" stop-color="#90ff6e"/><stop offset="0.6094" stop-color="#32ffcc"/><stop offset="0.6250" stop-color="#32ffcc"/><stop offset="0.6250" stop-color="#15ffe9"/><stop offset="0.6406" stop-color="#15ffe9"/><stop offset="0.6406" stop-color="#00e0ff"/><stop offset="0.6562" stop-color="#00e0ff"/><stop offset="0.6562" stop-color="#00a1ff"/><stop offset="0.6719" stop-color="#00a1ff"/><stop offset="0.6719" stop-color="#0094ff"/><stop offset="0.6875" stop-color="#0094ff"/><stop offset="0.6875" stop-color="#008cff"/><stop offset="0.7031" stop-color="#008cff"/><stop offset="0.7031" stop-color="#0083ff"/><stop offset="0.7188" stop-color="#0083ff"/><stop offset="0.7188" stop-color="#0087ff"/><stop offset="0.7344" stop-color="#0087ff"/><stop offset="0.7344" stop-color="#0074ff"/><stop offset="0.7500" stop-color="#0074ff"/><stop offset="0.7500" stop-color="#007dff"/><stop offset="0.7656" stop-color="#007dff"/><stop offset="0.7656" stop-color="#0075ff"/><stop offset="0.7812" stop-color="#0075ff"/><stop offset="0.7812" stop-color="#0067ff"/><stop offset="0.7969" stop-color="#0067ff"/><stop offset="0.7969" stop-color="#006cff"/><stop offset="0.8125" stop-color="#006cff"/><stop offset="0.8125" stop-color="#0072ff"/><stop offset="0.8281" stop-color="#0072ff"/><stop offset="0.8281" stop-color="#006eff"/><stop offset="0.8438" stop-color="#006eff"/><stop offset="0.8438" stop-color="#0061ff"/><stop offset="0.8594" stop-color="#0061ff"/><stop offset="0.8594" stop-color="#0069ff"/><stop offset="0.8750" stop-color="#0069ff"/><stop offset="0.8750" stop-color="#005dff"/><stop offset="0.8906" stop-color="#005dff"/><stop offset="0.8906" stop-color="#0069ff"/><stop offset="0.9062" stop-color="#0069ff"/><stop offset="0.9062" stop-color="#007fff"/><stop offset="0.9219" stop-color="#007fff"/><stop offset="0.9219" stop-color="#0079ff"/><stop offset="0.9375" stop-color="#0079ff"/><stop offset="0.9375" stop-color="#0077ff"/><stop offset="0.9531" stop-color="#0077ff"/><stop offset="0.9531" stop-color="#0088ff"/><stop offset="0.9688" stop-color="#0088ff"/><stop offset="0.9688" stop-color="#0092ff"/><stop offset="0.9844" stop-color="#0092ff"/><stop offset="0.9844" stop-color="#0096ff"/><stop offset="1.0000" stop-color="#0096ff"/></linearGradient>
<pattern id="hg1p" patternUnits="userSpaceOnUse" x="763.4" y="358.3" width="58.575" height="42"><rect x="0" y="0" width="3.7" height="3" fill="#fff" fill-opacity="0.07"/><rect x="3.7" y="0" width="3.7" height="3" fill="#000" fill-opacity="0.10"/><rect x="7.3" y="0" width="3.7" height="3" fill="#fff" fill-opacity="0.10"/><rect x="11" y="0" width="3.7" height="3" fill="#fff" fill-opacity="0.10"/><rect x="14.6" y="0" width="3.7" height="3" fill="#000" fill-opacity="0.01"/><rect x="18.3" y="0" width="3.7" height="3" fill="#000" fill-opacity="0.20"/><rect x="22" y="0" width="3.7" height="3" fill="#fff" fill-opacity="0.08"/><rect x="25.6" y="0" width="3.7" height="3" fill="#000" fill-opacity="0.10"/><rect x="29.3" y="0" width="3.7" height="3" fill="#000" fill-opacity="0.15"/><rect x="32.9" y="0" width="3.7" height="3" fill="#fff" fill-opacity="0.17"/><rect x="36.6" y="0" width="3.7" height="3" fill="#000" fill-opacity="0.10"/><rect x="40.3" y="0" width="3.7" height="3" fill="#fff" fill-opacity="0.12"/><rect x="43.9" y="0" width="3.7" height="3" fill="#000" fill-opacity="0.05"/><rect x="47.6" y="0" width="3.7" height="3" fill="#fff" fill-opacity="0.19"/><rect x="51.3" y="0" width="3.7" height="3" fill="#000" fill-opacity="0.16"/><rect x="54.9" y="0" width="3.7" height="3" fill="#000" fill-opacity="0.18"/><rect x="0" y="3" width="3.7" height="3" fill="#000" fill-opacity="0.16"/><rect x="3.7" y="3" width="3.7" height="3" fill="#fff" fill-opacity="0.11"/><rect x="7.3" y="3" width="3.7" height="3" fill="#000" fill-opacity="0.01"/><rect x="11" y="3" width="3.7" height="3" fill="#fff" fill-opacity="0.11"/><rect x="14.6" y="3" width="3.7" height="3" fill="#fff" fill-opacity="0.10"/><rect x="18.3" y="3" width="3.7" height="3" fill="#fff" fill-opacity="0.07"/><rect x="22" y="3" width="3.7" height="3" fill="#000" fill-opacity="0.11"/><rect x="25.6" y="3" width="3.7" height="3" fill="#fff" fill-opacity="0.12"/><rect x="29.3" y="3" width="3.7" height="3" fill="#fff" fill-opacity="0.01"/><rect x="32.9" y="3" width="3.7" height="3" fill="#000" fill-opacity="0.04"/><rect x="36.6" y="3" width="3.7" height="3" fill="#000" fill-opacity="0.17"/><rect x="40.3" y="3" width="3.7" height="3" fill="#000" fill-opacity="0.16"/><rect x="43.9" y="3" width="3.7" height="3" fill="#000" fill-opacity="0.05"/><rect x="47.6" y="3" width="3.7" height="3" fill="#fff" fill-opacity="0.13"/><rect x="51.3" y="3" width="3.7" height="3" fill="#fff" fill-opacity="0.00"/><rect x="54.9" y="3" width="3.7" height="3" fill="#fff" fill-opacity="0.15"/><rect x="0" y="6" width="3.7" height="3" fill="#000" fill-opacity="0.02"/><rect x="3.7" y="6" width="3.7" height="3" fill="#fff" fill-opacity="0.07"/><rect x="7.3" y="6" width="3.7" height="3" fill="#000" fill-opacity="0.03"/><rect x="11" y="6" width="3.7" height="3" fill="#fff" fill-opacity="0.03"/><rect x="14.6" y="6" width="3.7" height="3" fill="#fff" fill-opacity="0.14"/><rect x="18.3" y="6" width="3.7" height="3" fill="#fff" fill-opacity="0.06"/><rect x="22" y="6" width="3.7" height="3" fill="#fff" fill-opacity="0.00"/><rect x="25.6" y="6" width="3.7" height="3" fill="#fff" fill-opacity="0.08"/><rect x="29.3" y="6" width="3.7" height="3" fill="#000" fill-opacity="0.02"/><rect x="32.9" y="6" width="3.7" height="3" fill="#fff" fill-opacity="0.10"/><rect x="36.6" y="6" width="3.7" height="3" fill="#000" fill-opacity="0.12"/><rect x="40.3" y="6" width="3.7" height="3" fill="#fff" fill-opacity="0.00"/><rect x="43.9" y="6" width="3.7" height="3" fill="#000" fill-opacity="0.03"/><rect x="47.6" y="6" width="3.7" height="3" fill="#000" fill-opacity="0.03"/><rect x="51.3" y="6" width="3.7" height="3" fill="#000" fill-opacity="0.14"/><rect x="54.9" y="6" width="3.7" height="3" fill="#000" fill-opacity="0.04"/><rect x="0" y="9" width="3.7" height="3" fill="#000" fill-opacity="0.16"/><rect x="3.7" y="9" width="3.7" height="3" fill="#000" fill-opacity="0.04"/><rect x="7.3" y="9" width="3.7" height="3" fill="#000" fill-opacity="0.08"/><rect x="11" y="9" width="3.7" height="3" fill="#000" fill-opacity="0.06"/><rect x="14.6" y="9" width="3.7" height="3" fill="#fff" fill-opacity="0.01"/><rect x="18.3" y="9" width="3.7" height="3" fill="#000" fill-opacity="0.19"/><rect x="22" y="9" width="3.7" height="3" fill="#000" fill-opacity="0.06"/><rect x="25.6" y="9" width="3.7" height="3" fill="#000" fill-opacity="0.06"/><rect x="29.3" y="9" width="3.7" height="3" fill="#fff" fill-opacity="0.15"/><rect x="32.9" y="9" width="3.7" height="3" fill="#fff" fill-opacity="0.05"/><rect x="36.6" y="9" width="3.7" height="3" fill="#fff" fill-opacity="0.18"/><rect x="40.3" y="9" width="3.7" height="3" fill="#000" fill-opacity="0.16"/><rect x="43.9" y="9" width="3.7" height="3" fill="#fff" fill-opacity="0.11"/><rect x="47.6" y="9" width="3.7" height="3" fill="#000" fill-opacity="0.17"/><rect x="51.3" y="9" width="3.7" height="3" fill="#000" fill-opacity="0.14"/><rect x="54.9" y="9" width="3.7" height="3" fill="#fff" fill-opacity="0.08"/><rect x="0" y="12" width="3.7" height="3" fill="#000" fill-opacity="0.04"/><rect x="3.7" y="12" width="3.7" height="3" fill="#fff" fill-opacity="0.09"/><rect x="7.3" y="12" width="3.7" height="3" fill="#000" fill-opacity="0.02"/><rect x="11" y="12" width="3.7" height="3" fill="#fff" fill-opacity="0.06"/><rect x="14.6" y="12" width="3.7" height="3" fill="#000" fill-opacity="0.07"/><rect x="18.3" y="12" width="3.7" height="3" fill="#fff" fill-opacity="0.18"/><rect x="22" y="12" width="3.7" height="3" fill="#fff" fill-opacity="0.04"/><rect x="25.6" y="12" width="3.7" height="3" fill="#000" fill-opacity="0.20"/><rect x="29.3" y="12" width="3.7" height="3" fill="#fff" fill-opacity="0.07"/><rect x="32.9" y="12" width="3.7" height="3" fill="#000" fill-opacity="0.13"/><rect x="36.6" y="12" width="3.7" height="3" fill="#fff" fill-opacity="0.19"/><rect x="40.3" y="12" width="3.7" height="3" fill="#000" fill-opacity="0.18"/><rect x="43.9" y="12" width="3.7" height="3" fill="#000" fill-opacity="0.10"/><rect x="47.6" y="12" width="3.7" height="3" fill="#000" fill-opacity="0.05"/><rect x="51.3" y="12" width="3.7" height="3" fill="#fff" fill-opacity="0.02"/><rect x="54.9" y="12" width="3.7" height="3" fill="#fff" fill-opacity="0.18"/><rect x="0" y="15" width="3.7" height="3" fill="#000" fill-opacity="0.15"/><rect x="3.7" y="15" width="3.7" height="3" fill="#fff" fill-opacity="0.17"/><rect x="7.3" y="15" width="3.7" height="3" fill="#fff" fill-opacity="0.07"/><rect x="11" y="15" width="3.7" height="3" fill="#000" fill-opacity="0.17"/><rect x="14.6" y="15" width="3.7" height="3" fill="#000" fill-opacity="0.19"/><rect x="18.3" y="15" width="3.7" height="3" fill="#000" fill-opacity="0.03"/><rect x="22" y="15" width="3.7" height="3" fill="#fff" fill-opacity="0.02"/><rect x="25.6" y="15" width="3.7" height="3" fill="#000" fill-opacity="0.01"/><rect x="29.3" y="15" width="3.7" height="3" fill="#000" fill-opacity="0.16"/><rect x="32.9" y="15" width="3.7" height="3" fill="#000" fill-opacity="0.07"/><rect x="36.6" y="15" width="3.7" height="3" fill="#fff" fill-opacity="0.16"/><rect x="40.3" y="15" width="3.7" height="3" fill="#fff" fill-opacity="0.11"/><rect x="43.9" y="15" width="3.7" height="3" fill="#fff" fill-opacity="0.02"/><rect x="47.6" y="15" width="3.7" height="3" fill="#000" fill-opacity="0.18"/><rect x="51.3" y="15" width="3.7" height="3" fill="#fff" fill-opacity="0.19"/><rect x="54.9" y="15" width="3.7" height="3" fill="#000" fill-opacity="0.06"/><rect x="0" y="18" width="3.7" height="3" fill="#fff" fill-opacity="0.17"/><rect x="3.7" y="18" width="3.7" height="3" fill="#fff" fill-opacity="0.13"/><rect x="7.3" y="18" width="3.7" height="3" fill="#000" fill-opacity="0.02"/><rect x="11" y="18" width="3.7" height="3" fill="#fff" fill-opacity="0.01"/><rect x="14.6" y="18" width="3.7" height="3" fill="#fff" fill-opacity="0.20"/><rect x="18.3" y="18" width="3.7" height="3" fill="#fff" fill-opacity="0.02"/><rect x="22" y="18" width="3.7" height="3" fill="#000" fill-opacity="0.05"/><rect x="25.6" y="18" width="3.7" height="3" fill="#000" fill-opacity="0.02"/><rect x="29.3" y="18" width="3.7" height="3" fill="#000" fill-opacity="0.08"/><rect x="32.9" y="18" width="3.7" height="3" fill="#fff" fill-opacity="0.18"/><rect x="36.6" y="18" width="3.7" height="3" fill="#fff" fill-opacity="0.05"/><rect x="40.3" y="18" width="3.7" height="3" fill="#000" fill-opacity="0.02"/><rect x="43.9" y="18" width="3.7" height="3" fill="#fff" fill-opacity="0.01"/><rect x="47.6" y="18" width="3.7" height="3" fill="#fff" fill-opacity="0.20"/><rect x="51.3" y="18" width="3.7" height="3" fill="#fff" fill-opacity="0.12"/><rect x="54.9" y="18" width="3.7" height="3" fill="#fff" fill-opacity="0.06"/><rect x="0" y="21" width="3.7" height="3" fill="#000" fill-opacity="0.18"/><rect x="3.7" y="21" width="3.7" height="3" fill="#fff" fill-opacity="0.19"/><rect x="7.3" y="21" width="3.7" height="3" fill="#000" fill-opacity="0.04"/><rect x="11" y="21" width="3.7" height="3" fill="#000" fill-opacity="0.20"/><rect x="14.6" y="21" width="3.7" height="3" fill="#000" fill-opacity="0.14"/><rect x="18.3" y="21" width="3.7" height="3" fill="#000" fill-opacity="0.05"/><rect x="22" y="21" width="3.7" height="3" fill="#fff" fill-opacity="0.06"/><rect x="25.6" y="21" width="3.7" height="3" fill="#fff" fill-opacity="0.02"/><rect x="29.3" y="21" width="3.7" height="3" fill="#fff" fill-opacity="0.20"/><rect x="32.9" y="21" width="3.7" height="3" fill="#000" fill-opacity="0.13"/><rect x="36.6" y="21" width="3.7" height="3" fill="#fff" fill-opacity="0.19"/><rect x="40.3" y="21" width="3.7" height="3" fill="#fff" fill-opacity="0.06"/><rect x="43.9" y="21" width="3.7" height="3" fill="#000" fill-opacity="0.06"/><rect x="47.6" y="21" width="3.7" height="3" fill="#fff" fill-opacity="0.18"/><rect x="51.3" y="21" width="3.7" height="3" fill="#000" fill-opacity="0.07"/><rect x="54.9" y="21" width="3.7" height="3" fill="#000" fill-opacity="0.12"/><rect x="0" y="24" width="3.7" height="3" fill="#fff" fill-opacity="0.05"/><rect x="3.7" y="24" width="3.7" height="3" fill="#fff" fill-opacity="0.05"/><rect x="7.3" y="24" width="3.7" height="3" fill="#fff" fill-opacity="0.11"/><rect x="11" y="24" width="3.7" height="3" fill="#000" fill-opacity="0.02"/><rect x="14.6" y="24" width="3.7" height="3" fill="#000" fill-opacity="0.06"/><rect x="18.3" y="24" width="3.7" height="3" fill="#000" fill-opacity="0.10"/><rect x="22" y="24" width="3.7" height="3" fill="#000" fill-opacity="0.03"/><rect x="25.6" y="24" width="3.7" height="3" fill="#fff" fill-opacity="0.16"/><rect x="29.3" y="24" width="3.7" height="3" fill="#fff" fill-opacity="0.19"/><rect x="32.9" y="24" width="3.7" height="3" fill="#000" fill-opacity="0.16"/><rect x="36.6" y="24" width="3.7" height="3" fill="#fff" fill-opacity="0.16"/><rect x="40.3" y="24" width="3.7" height="3" fill="#000" fill-opacity="0.02"/><rect x="43.9" y="24" width="3.7" height="3" fill="#fff" fill-opacity="0.18"/><rect x="47.6" y="24" width="3.7" height="3" fill="#fff" fill-opacity="0.18"/><rect x="51.3" y="24" width="3.7" height="3" fill="#fff" fill-opacity="0.18"/><rect x="54.9" y="24" width="3.7" height="3" fill="#000" fill-opacity="0.06"/><rect x="0" y="27" width="3.7" height="3" fill="#000" fill-opacity="0.16"/><rect x="3.7" y="27" width="3.7" height="3" fill="#000" fill-opacity="0.17"/><rect x="7.3" y="27" width="3.7" height="3" fill="#fff" fill-opacity="0.14"/><rect x="11" y="27" width="3.7" height="3" fill="#fff" fill-opacity="0.09"/><rect x="14.6" y="27" width="3.7" height="3" fill="#000" fill-opacity="0.14"/><rect x="18.3" y="27" width="3.7" height="3" fill="#fff" fill-opacity="0.05"/><rect x="22" y="27" width="3.7" height="3" fill="#000" fill-opacity="0.19"/><rect x="25.6" y="27" width="3.7" height="3" fill="#000" fill-opacity="0.11"/><rect x="29.3" y="27" width="3.7" height="3" fill="#fff" fill-opacity="0.17"/><rect x="32.9" y="27" width="3.7" height="3" fill="#fff" fill-opacity="0.08"/><rect x="36.6" y="27" width="3.7" height="3" fill="#fff" fill-opacity="0.05"/><rect x="40.3" y="27" width="3.7" height="3" fill="#fff" fill-opacity="0.13"/><rect x="43.9" y="27" width="3.7" height="3" fill="#fff" fill-opacity="0.11"/><rect x="47.6" y="27" width="3.7" height="3" fill="#fff" fill-opacity="0.07"/><rect x="51.3" y="27" width="3.7" height="3" fill="#fff" fill-opacity="0.03"/><rect x="54.9" y="27" width="3.7" height="3" fill="#fff" fill-opacity="0.17"/><rect x="0" y="30" width="3.7" height="3" fill="#000" fill-opacity="0.08"/><rect x="3.7" y="30" width="3.7" height="3" fill="#fff" fill-opacity="0.05"/><rect x="7.3" y="30" width="3.7" height="3" fill="#000" fill-opacity="0.11"/><rect x="11" y="30" width="3.7" height="3" fill="#fff" fill-opacity="0.13"/><rect x="14.6" y="30" width="3.7" height="3" fill="#000" fill-opacity="0.14"/><rect x="18.3" y="30" width="3.7" height="3" fill="#fff" fill-opacity="0.05"/><rect x="22" y="30" width="3.7" height="3" fill="#fff" fill-opacity="0.10"/><rect x="25.6" y="30" width="3.7" height="3" fill="#000" fill-opacity="0.08"/><rect x="29.3" y="30" width="3.7" height="3" fill="#000" fill-opacity="0.18"/><rect x="32.9" y="30" width="3.7" height="3" fill="#000" fill-opacity="0.06"/><rect x="36.6" y="30" width="3.7" height="3" fill="#fff" fill-opacity="0.01"/><rect x="40.3" y="30" width="3.7" height="3" fill="#000" fill-opacity="0.10"/><rect x="43.9" y="30" width="3.7" height="3" fill="#000" fill-opacity="0.03"/><rect x="47.6" y="30" width="3.7" height="3" fill="#fff" fill-opacity="0.18"/><rect x="51.3" y="30" width="3.7" height="3" fill="#000" fill-opacity="0.14"/><rect x="54.9" y="30" width="3.7" height="3" fill="#000" fill-opacity="0.07"/><rect x="0" y="33" width="3.7" height="3" fill="#000" fill-opacity="0.15"/><rect x="3.7" y="33" width="3.7" height="3" fill="#000" fill-opacity="0.17"/><rect x="7.3" y="33" width="3.7" height="3" fill="#000" fill-opacity="0.19"/><rect x="11" y="33" width="3.7" height="3" fill="#fff" fill-opacity="0.04"/><rect x="14.6" y="33" width="3.7" height="3" fill="#000" fill-opacity="0.04"/><rect x="18.3" y="33" width="3.7" height="3" fill="#fff" fill-opacity="0.15"/><rect x="22" y="33" width="3.7" height="3" fill="#000" fill-opacity="0.14"/><rect x="25.6" y="33" width="3.7" height="3" fill="#000" fill-opacity="0.07"/><rect x="29.3" y="33" width="3.7" height="3" fill="#000" fill-opacity="0.03"/><rect x="32.9" y="33" width="3.7" height="3" fill="#000" fill-opacity="0.01"/><rect x="36.6" y="33" width="3.7" height="3" fill="#000" fill-opacity="0.16"/><rect x="40.3" y="33" width="3.7" height="3" fill="#000" fill-opacity="0.05"/><rect x="43.9" y="33" width="3.7" height="3" fill="#fff" fill-opacity="0.19"/><rect x="47.6" y="33" width="3.7" height="3" fill="#000" fill-opacity="0.16"/><rect x="51.3" y="33" width="3.7" height="3" fill="#000" fill-opacity="0.13"/><rect x="54.9" y="33" width="3.7" height="3" fill="#000" fill-opacity="0.09"/><rect x="0" y="36" width="3.7" height="3" fill="#fff" fill-opacity="0.19"/><rect x="3.7" y="36" width="3.7" height="3" fill="#fff" fill-opacity="0.16"/><rect x="7.3" y="36" width="3.7" height="3" fill="#fff" fill-opacity="0.03"/><rect x="11" y="36" width="3.7" height="3" fill="#000" fill-opacity="0.03"/><rect x="14.6" y="36" width="3.7" height="3" fill="#fff" fill-opacity="0.19"/><rect x="18.3" y="36" width="3.7" height="3" fill="#fff" fill-opacity="0.12"/><rect x="22" y="36" width="3.7" height="3" fill="#fff" fill-opacity="0.02"/><rect x="25.6" y="36" width="3.7" height="3" fill="#000" fill-opacity="0.05"/><rect x="29.3" y="36" width="3.7" height="3" fill="#fff" fill-opacity="0.00"/><rect x="32.9" y="36" width="3.7" height="3" fill="#fff" fill-opacity="0.09"/><rect x="36.6" y="36" width="3.7" height="3" fill="#000" fill-opacity="0.13"/><rect x="40.3" y="36" width="3.7" height="3" fill="#fff" fill-opacity="0.17"/><rect x="43.9" y="36" width="3.7" height="3" fill="#000" fill-opacity="0.06"/><rect x="47.6" y="36" width="3.7" height="3" fill="#000" fill-opacity="0.05"/><rect x="51.3" y="36" width="3.7" height="3" fill="#000" fill-opacity="0.05"/><rect x="54.9" y="36" width="3.7" height="3" fill="#000" fill-opacity="0.16"/><rect x="0" y="39" width="3.7" height="3" fill="#000" fill-opacity="0.19"/><rect x="3.7" y="39" width="3.7" height="3" fill="#000" fill-opacity="0.10"/><rect x="7.3" y="39" width="3.7" height="3" fill="#000" fill-opacity="0.15"/><rect x="11" y="39" width="3.7" height="3" fill="#fff" fill-opacity="0.08"/><rect x="14.6" y="39" width="3.7" height="3" fill="#000" fill-opacity="0.02"/><rect x="18.3" y="39" width="3.7" height="3" fill="#000" fill-opacity="0.02"/><rect x="22" y="39" width="3.7" height="3" fill="#000" fill-opacity="0.11"/><rect x="25.6" y="39" width="3.7" height="3" fill="#000" fill-opacity="0.15"/><rect x="29.3" y="39" width="3.7" height="3" fill="#000" fill-opacity="0.03"/><rect x="32.9" y="39" width="3.7" height="3" fill="#fff" fill-opacity="0.11"/><rect x="36.6" y="39" width="3.7" height="3" fill="#fff" fill-opacity="0.10"/><rect x="40.3" y="39" width="3.7" height="3" fill="#fff" fill-opacity="0.11"/><rect x="43.9" y="39" width="3.7" height="3" fill="#fff" fill-opacity="0.09"/><rect x="47.6" y="39" width="3.7" height="3" fill="#fff" fill-opacity="0.06"/><rect x="51.3" y="39" width="3.7" height="3" fill="#000" fill-opacity="0.16"/><rect x="54.9" y="39" width="3.7" height="3" fill="#000" fill-opacity="0.10"/></pattern>
<rect x="763.4" y="358.3" width="234.3" height="134" fill="url(#hg1)"/>
<rect x="763.4" y="358.3" width="234.3" height="134" fill="url(#hg1p)"/>
<rect x="763.4" y="358.3" width="234.3" height="134" fill="none" stroke="#000" stroke-width="1.6"/>
<linearGradient id="hg2" x1="0" x2="1" y1="0" y2="0"><stop offset="0.0000" stop-color="#00a9ff"/><stop offset="0.0156" stop-color="#00a9ff"/><stop offset="0.0156" stop-color="#00a3ff"/><stop offset="0.0312" stop-color="#00a3ff"/><stop offset="0.0312" stop-color="#0083ff"/><stop offset="0.0469" stop-color="#0083ff"/><stop offset="0.0469" stop-color="#007eff"/><stop offset="0.0625" stop-color="#007eff"/><stop offset="0.0625" stop-color="#0070ff"/><stop offset="0.0781" stop-color="#0070ff"/><stop offset="0.0781" stop-color="#0038ff"/><stop offset="0.0938" stop-color="#0038ff"/><stop offset="0.0938" stop-color="#0023ff"/><stop offset="0.1094" stop-color="#0023ff"/><stop offset="0.1094" stop-color="#0011ff"/><stop offset="0.1250" stop-color="#0011ff"/><stop offset="0.1250" stop-color="#0013ff"/><stop offset="0.1406" stop-color="#0013ff"/><stop offset="0.1406" stop-color="#000bff"/><stop offset="0.1562" stop-color="#000bff"/><stop offset="0.1562" stop-color="#0003ff"/><stop offset="0.1719" stop-color="#0003ff"/><stop offset="0.1719" stop-color="#0000ee"/><stop offset="0.1875" stop-color="#0000ee"/><stop offset="0.1875" stop-color="#0000ef"/><stop offset="0.2031" stop-color="#0000ef"/><stop offset="0.2031" stop-color="#0000ef"/><stop offset="0.2188" stop-color="#0000ef"/><stop offset="0.2188" stop-color="#0000fd"/><stop offset="0.2344" stop-color="#0000fd"/><stop offset="0.2344" stop-color="#000aff"/><stop offset="0.2500" stop-color="#000aff"/><stop offset="0.2500" stop-color="#000dff"/><stop offset="0.2656" stop-color="#000dff"/><stop offset="0.2656" stop-color="#0004ff"/><stop offset="0.2812" stop-color="#0004ff"/><stop offset="0.2812" stop-color="#0018ff"/><stop offset="0.2969" stop-color="#0018ff"/><stop offset="0.2969" stop-color="#0038ff"/><stop offset="0.3125" stop-color="#0038ff"/><stop offset="0.3125" stop-color="#0068ff"/><stop offset="0.3281" stop-color="#0068ff"/><stop offset="0.3281" stop-color="#00a5ff"/><stop offset="0.3438" stop-color="#00a5ff"/><stop offset="0.3438" stop-color="#00ecff"/><stop offset="0.3594" stop-color="#00ecff"/><stop offset="0.3594" stop-color="#27ffd7"/><stop offset="0.3750" stop-color="#27ffd7"/><stop offset="0.3750" stop-color="#62ff9c"/><stop offset="0.3906" stop-color="#62ff9c"/><stop offset="0.3906" stop-color="#92ff6c"/><stop offset="0.4062" stop-color="#92ff6c"/><stop offset="0.4062" stop-color="#a7ff57"/><stop offset="0.4219" stop-color="#a7ff57"/><stop offset="0.4219" stop-color="#beff40"/><stop offset="0.4375" stop-color="#beff40"/><stop offset="0.4375" stop-color="#c4ff3a"/><stop offset="0.4531" stop-color="#c4ff3a"/><stop offset="0.4531" stop-color="#cdff31"/><stop offset="0.4688" stop-color="#cdff31"/><stop offset="0.4688" stop-color="#e1ff1d"/><stop offset="0.4844" stop-color="#e1ff1d"/><stop offset="0.4844" stop-color="#deff20"/><stop offset="0.5000" stop-color="#deff20"/><stop offset="0.5000" stop-color="#edff11"/><stop offset="0.5156" stop-color="#edff11"/><stop offset="0.5156" stop-color="#faff04"/><stop offset="0.5312" stop-color="#faff04"/><stop offset="0.5312" stop-color="#dbff23"/><stop offset="0.5469" stop-color="#dbff23"/><stop offset="0.5469" stop-color="#b2ff4c"/><stop offset="0.5625" stop-color="#b2ff4c"/><stop offset="0.5625" stop-color="#a2ff5c"/><stop offset="0.5781" stop-color="#a2ff5c"/><stop offset="0.5781" stop-color="#70ff8e"/><stop offset="0.5938" stop-color="#70ff8e"/><stop offset="0.5938" stop-color="#30ffce"/><stop offset="0.6094" stop-color="#30ffce"/><stop offset="0.6094" stop-color="#09fff5"/><stop offset="0.6250" stop-color="#09fff5"/><stop offset="0.6250" stop-color="#00daff"/><stop offset="0.6406" stop-color="#00daff"/><stop offset="0.6406" stop-color="#00b4ff"/><stop offset="0.6562" stop-color="#00b4ff"/><stop offset="0.6562" stop-color="#0095ff"/><stop offset="0.6719" stop-color="#0095ff"/><stop offset="0.6719" stop-color="#0098ff"/><stop offset="0.6875" stop-color="#0098ff"/><stop offset="0.6875" stop-color="#0088ff"/><stop offset="0.7031" stop-color="#0088ff"/><stop offset="0.7031" stop-color="#0069ff"/><stop offset="0.7188" stop-color="#0069ff"/><stop offset="0.7188" stop-color="#0079ff"/><stop offset="0.7344" stop-color="#0079ff"/><stop offset="0.7344" stop-color="#0076ff"/><stop offset="0.7500" stop-color="#0076ff"/><stop offset="0.7500" stop-color="#006cff"/><stop offset="0.7656" stop-color="#006cff"/><stop offset="0.7656" stop-color="#006cff"/><stop offset="0.7812" stop-color="#006cff"/><stop offset="0.7812" stop-color="#0068ff"/><stop offset="0.7969" stop-color="#0068ff"/><stop offset="0.7969" stop-color="#0074ff"/><stop offset="0.8125" stop-color="#0074ff"/><stop offset="0.8125" stop-color="#0064ff"/><stop offset="0.8281" stop-color="#0064ff"/><stop offset="0.8281" stop-color="#006cff"/><stop offset="0.8438" stop-color="#006cff"/><stop offset="0.8438" stop-color="#005dff"/><stop offset="0.8594" stop-color="#005dff"/><stop offset="0.8594" stop-color="#0073ff"/><stop offset="0.8750" stop-color="#0073ff"/><stop offset="0.8750" stop-color="#007aff"/><stop offset="0.8906" stop-color="#007aff"/><stop offset="0.8906" stop-color="#0073ff"/><stop offset="0.9062" stop-color="#0073ff"/><stop offset="0.9062" stop-color="#007dff"/><stop offset="0.9219" stop-color="#007dff"/><stop offset="0.9219" stop-color="#008eff"/><stop offset="0.9375" stop-color="#008eff"/><stop offset="0.9375" stop-color="#008eff"/><stop offset="0.9531" stop-color="#008eff"/><stop offset="0.9531" stop-color="#008dff"/><stop offset="0.9688" stop-color="#008dff"/><stop offset="0.9688" stop-color="#008cff"/><stop offset="0.9844" stop-color="#008cff"/><stop offset="0.9844" stop-color="#0095ff"/><stop offset="1.0000" stop-color="#0095ff"/></linearGradient>
<pattern id="hg2p" patternUnits="userSpaceOnUse" x="1016.2" y="356.7" width="58.700" height="42"><rect x="0" y="0" width="3.7" height="3" fill="#fff" fill-opacity="0.14"/><rect x="3.7" y="0" width="3.7" height="3" fill="#fff" fill-opacity="0.18"/><rect x="7.3" y="0" width="3.7" height="3" fill="#fff" fill-opacity="0.18"/><rect x="11" y="0" width="3.7" height="3" fill="#000" fill-opacity="0.19"/><rect x="14.7" y="0" width="3.7" height="3" fill="#000" fill-opacity="0.10"/><rect x="18.3" y="0" width="3.7" height="3" fill="#000" fill-opacity="0.13"/><rect x="22" y="0" width="3.7" height="3" fill="#fff" fill-opacity="0.06"/><rect x="25.7" y="0" width="3.7" height="3" fill="#000" fill-opacity="0.10"/><rect x="29.4" y="0" width="3.7" height="3" fill="#fff" fill-opacity="0.12"/><rect x="33" y="0" width="3.7" height="3" fill="#000" fill-opacity="0.16"/><rect x="36.7" y="0" width="3.7" height="3" fill="#fff" fill-opacity="0.18"/><rect x="40.4" y="0" width="3.7" height="3" fill="#fff" fill-opacity="0.15"/><rect x="44" y="0" width="3.7" height="3" fill="#fff" fill-opacity="0.13"/><rect x="47.7" y="0" width="3.7" height="3" fill="#000" fill-opacity="0.05"/><rect x="51.4" y="0" width="3.7" height="3" fill="#000" fill-opacity="0.02"/><rect x="55" y="0" width="3.7" height="3" fill="#fff" fill-opacity="0.17"/><rect x="0" y="3" width="3.7" height="3" fill="#000" fill-opacity="0.04"/><rect x="3.7" y="3" width="3.7" height="3" fill="#000" fill-opacity="0.08"/><rect x="7.3" y="3" width="3.7" height="3" fill="#fff" fill-opacity="0.01"/><rect x="11" y="3" width="3.7" height="3" fill="#000" fill-opacity="0.03"/><rect x="14.7" y="3" width="3.7" height="3" fill="#000" fill-opacity="0.02"/><rect x="18.3" y="3" width="3.7" height="3" fill="#000" fill-opacity="0.01"/><rect x="22" y="3" width="3.7" height="3" fill="#fff" fill-opacity="0.00"/><rect x="25.7" y="3" width="3.7" height="3" fill="#fff" fill-opacity="0.16"/><rect x="29.4" y="3" width="3.7" height="3" fill="#000" fill-opacity="0.04"/><rect x="33" y="3" width="3.7" height="3" fill="#fff" fill-opacity="0.08"/><rect x="36.7" y="3" width="3.7" height="3" fill="#fff" fill-opacity="0.20"/><rect x="40.4" y="3" width="3.7" height="3" fill="#fff" fill-opacity="0.01"/><rect x="44" y="3" width="3.7" height="3" fill="#000" fill-opacity="0.12"/><rect x="47.7" y="3" width="3.7" height="3" fill="#fff" fill-opacity="0.02"/><rect x="51.4" y="3" width="3.7" height="3" fill="#fff" fill-opacity="0.01"/><rect x="55" y="3" width="3.7" height="3" fill="#000" fill-opacity="0.15"/><rect x="0" y="6" width="3.7" height="3" fill="#000" fill-opacity="0.18"/><rect x="3.7" y="6" width="3.7" height="3" fill="#000" fill-opacity="0.17"/><rect x="7.3" y="6" width="3.7" height="3" fill="#fff" fill-opacity="0.09"/><rect x="11" y="6" width="3.7" height="3" fill="#fff" fill-opacity="0.13"/><rect x="14.7" y="6" width="3.7" height="3" fill="#fff" fill-opacity="0.02"/><rect x="18.3" y="6" width="3.7" height="3" fill="#fff" fill-opacity="0.17"/><rect x="22" y="6" width="3.7" height="3" fill="#fff" fill-opacity="0.12"/><rect x="25.7" y="6" width="3.7" height="3" fill="#fff" fill-opacity="0.10"/><rect x="29.4" y="6" width="3.7" height="3" fill="#fff" fill-opacity="0.19"/><rect x="33" y="6" width="3.7" height="3" fill="#fff" fill-opacity="0.12"/><rect x="36.7" y="6" width="3.7" height="3" fill="#000" fill-opacity="0.00"/><rect x="40.4" y="6" width="3.7" height="3" fill="#fff" fill-opacity="0.03"/><rect x="44" y="6" width="3.7" height="3" fill="#fff" fill-opacity="0.01"/><rect x="47.7" y="6" width="3.7" height="3" fill="#000" fill-opacity="0.02"/><rect x="51.4" y="6" width="3.7" height="3" fill="#000" fill-opacity="0.10"/><rect x="55" y="6" width="3.7" height="3" fill="#000" fill-opacity="0.19"/><rect x="0" y="9" width="3.7" height="3" fill="#fff" fill-opacity="0.05"/><rect x="3.7" y="9" width="3.7" height="3" fill="#000" fill-opacity="0.05"/><rect x="7.3" y="9" width="3.7" height="3" fill="#000" fill-opacity="0.12"/><rect x="11" y="9" width="3.7" height="3" fill="#fff" fill-opacity="0.14"/><rect x="14.7" y="9" width="3.7" height="3" fill="#000" fill-opacity="0.08"/><rect x="18.3" y="9" width="3.7" height="3" fill="#fff" fill-opacity="0.00"/><rect x="22" y="9" width="3.7" height="3" fill="#fff" fill-opacity="0.08"/><rect x="25.7" y="9" width="3.7" height="3" fill="#fff" fill-opacity="0.14"/><rect x="29.4" y="9" width="3.7" height="3" fill="#fff" fill-opacity="0.02"/><rect x="33" y="9" width="3.7" height="3" fill="#fff" fill-opacity="0.05"/><rect x="36.7" y="9" width="3.7" height="3" fill="#fff" fill-opacity="0.10"/><rect x="40.4" y="9" width="3.7" height="3" fill="#000" fill-opacity="0.06"/><rect x="44" y="9" width="3.7" height="3" fill="#000" fill-opacity="0.04"/><rect x="47.7" y="9" width="3.7" height="3" fill="#000" fill-opacity="0.19"/><rect x="51.4" y="9" width="3.7" height="3" fill="#000" fill-opacity="0.09"/><rect x="55" y="9" width="3.7" height="3" fill="#fff" fill-opacity="0.12"/><rect x="0" y="12" width="3.7" height="3" fill="#000" fill-opacity="0.08"/><rect x="3.7" y="12" width="3.7" height="3" fill="#fff" fill-opacity="0.04"/><rect x="7.3" y="12" width="3.7" height="3" fill="#fff" fill-opacity="0.16"/><rect x="11" y="12" width="3.7" height="3" fill="#000" fill-opacity="0.10"/><rect x="14.7" y="12" width="3.7" height="3" fill="#fff" fill-opacity="0.12"/><rect x="18.3" y="12" width="3.7" height="3" fill="#fff" fill-opacity="0.20"/><rect x="22" y="12" width="3.7" height="3" fill="#000" fill-opacity="0.00"/><rect x="25.7" y="12" width="3.7" height="3" fill="#fff" fill-opacity="0.02"/><rect x="29.4" y="12" width="3.7" height="3" fill="#000" fill-opacity="0.17"/><rect x="33" y="12" width="3.7" height="3" fill="#fff" fill-opacity="0.00"/><rect x="36.7" y="12" width="3.7" height="3" fill="#fff" fill-opacity="0.08"/><rect x="40.4" y="12" width="3.7" height="3" fill="#000" fill-opacity="0.04"/><rect x="44" y="12" width="3.7" height="3" fill="#fff" fill-opacity="0.01"/><rect x="47.7" y="12" width="3.7" height="3" fill="#000" fill-opacity="0.07"/><rect x="51.4" y="12" width="3.7" height="3" fill="#000" fill-opacity="0.02"/><rect x="55" y="12" width="3.7" height="3" fill="#000" fill-opacity="0.04"/><rect x="0" y="15" width="3.7" height="3" fill="#fff" fill-opacity="0.08"/><rect x="3.7" y="15" width="3.7" height="3" fill="#fff" fill-opacity="0.15"/><rect x="7.3" y="15" width="3.7" height="3" fill="#fff" fill-opacity="0.02"/><rect x="11" y="15" width="3.7" height="3" fill="#000" fill-opacity="0.02"/><rect x="14.7" y="15" width="3.7" height="3" fill="#000" fill-opacity="0.13"/><rect x="18.3" y="15" width="3.7" height="3" fill="#fff" fill-opacity="0.14"/><rect x="22" y="15" width="3.7" height="3" fill="#000" fill-opacity="0.13"/><rect x="25.7" y="15" width="3.7" height="3" fill="#fff" fill-opacity="0.14"/><rect x="29.4" y="15" width="3.7" height="3" fill="#fff" fill-opacity="0.07"/><rect x="33" y="15" width="3.7" height="3" fill="#fff" fill-opacity="0.16"/><rect x="36.7" y="15" width="3.7" height="3" fill="#fff" fill-opacity="0.11"/><rect x="40.4" y="15" width="3.7" height="3" fill="#000" fill-opacity="0.19"/><rect x="44" y="15" width="3.7" height="3" fill="#000" fill-opacity="0.19"/><rect x="47.7" y="15" width="3.7" height="3" fill="#fff" fill-opacity="0.06"/><rect x="51.4" y="15" width="3.7" height="3" fill="#fff" fill-opacity="0.10"/><rect x="55" y="15" width="3.7" height="3" fill="#000" fill-opacity="0.09"/><rect x="0" y="18" width="3.7" height="3" fill="#000" fill-opacity="0.18"/><rect x="3.7" y="18" width="3.7" height="3" fill="#fff" fill-opacity="0.16"/><rect x="7.3" y="18" width="3.7" height="3" fill="#000" fill-opacity="0.07"/><rect x="11" y="18" width="3.7" height="3" fill="#fff" fill-opacity="0.03"/><rect x="14.7" y="18" width="3.7" height="3" fill="#fff" fill-opacity="0.01"/><rect x="18.3" y="18" width="3.7" height="3" fill="#000" fill-opacity="0.18"/><rect x="22" y="18" width="3.7" height="3" fill="#fff" fill-opacity="0.13"/><rect x="25.7" y="18" width="3.7" height="3" fill="#fff" fill-opacity="0.06"/><rect x="29.4" y="18" width="3.7" height="3" fill="#000" fill-opacity="0.13"/><rect x="33" y="18" width="3.7" height="3" fill="#000" fill-opacity="0.09"/><rect x="36.7" y="18" width="3.7" height="3" fill="#000" fill-opacity="0.02"/><rect x="40.4" y="18" width="3.7" height="3" fill="#000" fill-opacity="0.19"/><rect x="44" y="18" width="3.7" height="3" fill="#000" fill-opacity="0.02"/><rect x="47.7" y="18" width="3.7" height="3" fill="#fff" fill-opacity="0.14"/><rect x="51.4" y="18" width="3.7" height="3" fill="#fff" fill-opacity="0.18"/><rect x="55" y="18" width="3.7" height="3" fill="#fff" fill-opacity="0.14"/><rect x="0" y="21" width="3.7" height="3" fill="#000" fill-opacity="0.20"/><rect x="3.7" y="21" width="3.7" height="3" fill="#fff" fill-opacity="0.11"/><rect x="7.3" y="21" width="3.7" height="3" fill="#fff" fill-opacity="0.09"/><rect x="11" y="21" width="3.7" height="3" fill="#000" fill-opacity="0.12"/><rect x="14.7" y="21" width="3.7" height="3" fill="#000" fill-opacity="0.04"/><rect x="18.3" y="21" width="3.7" height="3" fill="#fff" fill-opacity="0.10"/><rect x="22" y="21" width="3.7" height="3" fill="#000" fill-opacity="0.14"/><rect x="25.7" y="21" width="3.7" height="3" fill="#fff" fill-opacity="0.14"/><rect x="29.4" y="21" width="3.7" height="3" fill="#fff" fill-opacity="0.19"/><rect x="33" y="21" width="3.7" height="3" fill="#000" fill-opacity="0.15"/><rect x="36.7" y="21" width="3.7" height="3" fill="#000" fill-opacity="0.15"/><rect x="40.4" y="21" width="3.7" height="3" fill="#000" fill-opacity="0.04"/><rect x="44" y="21" width="3.7" height="3" fill="#000" fill-opacity="0.08"/><rect x="47.7" y="21" width="3.7" height="3" fill="#000" fill-opacity="0.20"/><rect x="51.4" y="21" width="3.7" height="3" fill="#fff" fill-opacity="0.00"/><rect x="55" y="21" width="3.7" height="3" fill="#000" fill-opacity="0.14"/><rect x="0" y="24" width="3.7" height="3" fill="#000" fill-opacity="0.13"/><rect x="3.7" y="24" width="3.7" height="3" fill="#000" fill-opacity="0.00"/><rect x="7.3" y="24" width="3.7" height="3" fill="#000" fill-opacity="0.15"/><rect x="11" y="24" width="3.7" height="3" fill="#000" fill-opacity="0.18"/><rect x="14.7" y="24" width="3.7" height="3" fill="#000" fill-opacity="0.02"/><rect x="18.3" y="24" width="3.7" height="3" fill="#fff" fill-opacity="0.15"/><rect x="22" y="24" width="3.7" height="3" fill="#000" fill-opacity="0.15"/><rect x="25.7" y="24" width="3.7" height="3" fill="#000" fill-opacity="0.04"/><rect x="29.4" y="24" width="3.7" height="3" fill="#000" fill-opacity="0.03"/><rect x="33" y="24" width="3.7" height="3" fill="#fff" fill-opacity="0.09"/><rect x="36.7" y="24" width="3.7" height="3" fill="#fff" fill-opacity="0.11"/><rect x="40.4" y="24" width="3.7" height="3" fill="#000" fill-opacity="0.04"/><rect x="44" y="24" width="3.7" height="3" fill="#fff" fill-opacity="0.01"/><rect x="47.7" y="24" width="3.7" height="3" fill="#000" fill-opacity="0.10"/><rect x="51.4" y="24" width="3.7" height="3" fill="#000" fill-opacity="0.13"/><rect x="55" y="24" width="3.7" height="3" fill="#000" fill-opacity="0.10"/><rect x="0" y="27" width="3.7" height="3" fill="#fff" fill-opacity="0.07"/><rect x="3.7" y="27" width="3.7" height="3" fill="#fff" fill-opacity="0.10"/><rect x="7.3" y="27" width="3.7" height="3" fill="#000" fill-opacity="0.02"/><rect x="11" y="27" width="3.7" height="3" fill="#000" fill-opacity="0.03"/><rect x="14.7" y="27" width="3.7" height="3" fill="#fff" fill-opacity="0.16"/><rect x="18.3" y="27" width="3.7" height="3" fill="#000" fill-opacity="0.13"/><rect x="22" y="27" width="3.7" height="3" fill="#fff" fill-opacity="0.17"/><rect x="25.7" y="27" width="3.7" height="3" fill="#fff" fill-opacity="0.03"/><rect x="29.4" y="27" width="3.7" height="3" fill="#fff" fill-opacity="0.09"/><rect x="33" y="27" width="3.7" height="3" fill="#000" fill-opacity="0.00"/><rect x="36.7" y="27" width="3.7" height="3" fill="#fff" fill-opacity="0.19"/><rect x="40.4" y="27" width="3.7" height="3" fill="#fff" fill-opacity="0.11"/><rect x="44" y="27" width="3.7" height="3" fill="#000" fill-opacity="0.09"/><rect x="47.7" y="27" width="3.7" height="3" fill="#000" fill-opacity="0.06"/><rect x="51.4" y="27" width="3.7" height="3" fill="#000" fill-opacity="0.10"/><rect x="55" y="27" width="3.7" height="3" fill="#fff" fill-opacity="0.18"/><rect x="0" y="30" width="3.7" height="3" fill="#fff" fill-opacity="0.16"/><rect x="3.7" y="30" width="3.7" height="3" fill="#000" fill-opacity="0.13"/><rect x="7.3" y="30" width="3.7" height="3" fill="#fff" fill-opacity="0.13"/><rect x="11" y="30" width="3.7" height="3" fill="#fff" fill-opacity="0.17"/><rect x="14.7" y="30" width="3.7" height="3" fill="#fff" fill-opacity="0.13"/><rect x="18.3" y="30" width="3.7" height="3" fill="#000" fill-opacity="0.11"/><rect x="22" y="30" width="3.7" height="3" fill="#000" fill-opacity="0.16"/><rect x="25.7" y="30" width="3.7" height="3" fill="#fff" fill-opacity="0.06"/><rect x="29.4" y="30" width="3.7" height="3" fill="#fff" fill-opacity="0.09"/><rect x="33" y="30" width="3.7" height="3" fill="#000" fill-opacity="0.06"/><rect x="36.7" y="30" width="3.7" height="3" fill="#000" fill-opacity="0.02"/><rect x="40.4" y="30" width="3.7" height="3" fill="#fff" fill-opacity="0.08"/><rect x="44" y="30" width="3.7" height="3" fill="#fff" fill-opacity="0.06"/><rect x="47.7" y="30" width="3.7" height="3" fill="#fff" fill-opacity="0.09"/><rect x="51.4" y="30" width="3.7" height="3" fill="#fff" fill-opacity="0.09"/><rect x="55" y="30" width="3.7" height="3" fill="#000" fill-opacity="0.18"/><rect x="0" y="33" width="3.7" height="3" fill="#000" fill-opacity="0.09"/><rect x="3.7" y="33" width="3.7" height="3" fill="#fff" fill-opacity="0.19"/><rect x="7.3" y="33" width="3.7" height="3" fill="#fff" fill-opacity="0.02"/><rect x="11" y="33" width="3.7" height="3" fill="#000" fill-opacity="0.04"/><rect x="14.7" y="33" width="3.7" height="3" fill="#fff" fill-opacity="0.07"/><rect x="18.3" y="33" width="3.7" height="3" fill="#fff" fill-opacity="0.16"/><rect x="22" y="33" width="3.7" height="3" fill="#000" fill-opacity="0.16"/><rect x="25.7" y="33" width="3.7" height="3" fill="#000" fill-opacity="0.08"/><rect x="29.4" y="33" width="3.7" height="3" fill="#000" fill-opacity="0.07"/><rect x="33" y="33" width="3.7" height="3" fill="#000" fill-opacity="0.19"/><rect x="36.7" y="33" width="3.7" height="3" fill="#000" fill-opacity="0.14"/><rect x="40.4" y="33" width="3.7" height="3" fill="#000" fill-opacity="0.15"/><rect x="44" y="33" width="3.7" height="3" fill="#000" fill-opacity="0.17"/><rect x="47.7" y="33" width="3.7" height="3" fill="#000" fill-opacity="0.15"/><rect x="51.4" y="33" width="3.7" height="3" fill="#000" fill-opacity="0.06"/><rect x="55" y="33" width="3.7" height="3" fill="#fff" fill-opacity="0.13"/><rect x="0" y="36" width="3.7" height="3" fill="#fff" fill-opacity="0.08"/><rect x="3.7" y="36" width="3.7" height="3" fill="#fff" fill-opacity="0.19"/><rect x="7.3" y="36" width="3.7" height="3" fill="#000" fill-opacity="0.10"/><rect x="11" y="36" width="3.7" height="3" fill="#000" fill-opacity="0.04"/><rect x="14.7" y="36" width="3.7" height="3" fill="#fff" fill-opacity="0.03"/><rect x="18.3" y="36" width="3.7" height="3" fill="#fff" fill-opacity="0.07"/><rect x="22" y="36" width="3.7" height="3" fill="#000" fill-opacity="0.18"/><rect x="25.7" y="36" width="3.7" height="3" fill="#fff" fill-opacity="0.15"/><rect x="29.4" y="36" width="3.7" height="3" fill="#fff" fill-opacity="0.11"/><rect x="33" y="36" width="3.7" height="3" fill="#fff" fill-opacity="0.17"/><rect x="36.7" y="36" width="3.7" height="3" fill="#000" fill-opacity="0.06"/><rect x="40.4" y="36" width="3.7" height="3" fill="#fff" fill-opacity="0.03"/><rect x="44" y="36" width="3.7" height="3" fill="#fff" fill-opacity="0.19"/><rect x="47.7" y="36" width="3.7" height="3" fill="#fff" fill-opacity="0.03"/><rect x="51.4" y="36" width="3.7" height="3" fill="#fff" fill-opacity="0.05"/><rect x="55" y="36" width="3.7" height="3" fill="#fff" fill-opacity="0.05"/><rect x="0" y="39" width="3.7" height="3" fill="#fff" fill-opacity="0.05"/><rect x="3.7" y="39" width="3.7" height="3" fill="#fff" fill-opacity="0.12"/><rect x="7.3" y="39" width="3.7" height="3" fill="#000" fill-opacity="0.07"/><rect x="11" y="39" width="3.7" height="3" fill="#fff" fill-opacity="0.01"/><rect x="14.7" y="39" width="3.7" height="3" fill="#fff" fill-opacity="0.17"/><rect x="18.3" y="39" width="3.7" height="3" fill="#fff" fill-opacity="0.16"/><rect x="22" y="39" width="3.7" height="3" fill="#000" fill-opacity="0.10"/><rect x="25.7" y="39" width="3.7" height="3" fill="#000" fill-opacity="0.07"/><rect x="29.4" y="39" width="3.7" height="3" fill="#fff" fill-opacity="0.12"/><rect x="33" y="39" width="3.7" height="3" fill="#fff" fill-opacity="0.20"/><rect x="36.7" y="39" width="3.7" height="3" fill="#000" fill-opacity="0.09"/><rect x="40.4" y="39" width="3.7" height="3" fill="#000" fill-opacity="0.06"/><rect x="44" y="39" width="3.7" height="3" fill="#000" fill-opacity="0.12"/><rect x="47.7" y="39" width="3.7" height="3" fill="#000" fill-opacity="0.11"/><rect x="51.4" y="39" width="3.7" height="3" fill="#000" fill-opacity="0.20"/><rect x="55" y="39" width="3.7" height="3" fill="#fff" fill-opacity="0.09"/></pattern>
<rect x="1016.2" y="356.7" width="234.8" height="136.8" fill="url(#hg2)"/>
<rect x="1016.2" y="356.7" width="234.8" height="136.8" fill="url(#hg2p)"/>
<rect x="1016.2" y="356.7" width="234.8" height="136.8" fill="none" stroke="#000" stroke-width="1.6"/>
<linearGradient id="hg3" x1="0" x2="1" y1="0" y2="0"><stop offset="0.0000" stop-color="#0093ff"/><stop offset="0.0156" stop-color="#0093ff"/><stop offset="0.0156" stop-color="#0097ff"/><stop offset="0.0312" stop-color="#0097ff"/><stop offset="0.0312" stop-color="#008cff"/><stop offset="0.0469" stop-color="#008cff"/><stop offset="0.0469" stop-color="#008eff"/><stop offset="0.0625" stop-color="#008eff"/><stop offset="0.0625" stop-color="#006aff"/><stop offset="0.0781" stop-color="#006aff"/><stop offset="0.0781" stop-color="#0024ff"/><stop offset="0.0938" stop-color="#0024ff"/><stop offset="0.0938" stop-color="#000fff"/><stop offset="0.1094" stop-color="#000fff"/><stop offset="0.1094" stop-color="#0021ff"/><stop offset="0.1250" stop-color="#0021ff"/><stop offset="0.1250" stop-color="#0008ff"/><stop offset="0.1406" stop-color="#0008ff"/><stop offset="0.1406" stop-color="#0000ff"/><stop offset="0.1562" stop-color="#0000ff"/><stop offset="0.1562" stop-color="#0010ff"/><stop offset="0.1719" stop-color="#0010ff"/><stop offset="0.1719" stop-color="#0000f8"/><stop offset="0.1875" stop-color="#0000f8"/><stop offset="0.1875" stop-color="#0000fc"/><stop offset="0.2031" stop-color="#0000fc"/><stop offset="0.2031" stop-color="#0000f1"/><stop offset="0.2188" stop-color="#0000f1"/><stop offset="0.2188" stop-color="#0000fa"/><stop offset="0.2344" stop-color="#0000fa"/><stop offset="0.2344" stop-color="#0000ef"/><stop offset="0.2500" stop-color="#0000ef"/><stop offset="0.2500" stop-color="#0003ff"/><stop offset="0.2656" stop-color="#0003ff"/><stop offset="0.2656" stop-color="#000eff"/><stop offset="0.2812" stop-color="#000eff"/><stop offset="0.2812" stop-color="#001bff"/><stop offset="0.2969" stop-color="#001bff"/><stop offset="0.2969" stop-color="#0047ff"/><stop offset="0.3125" stop-color="#0047ff"/><stop offset="0.3125" stop-color="#007bff"/><stop offset="0.3281" stop-color="#007bff"/><stop offset="0.3281" stop-color="#00a6ff"/><stop offset="0.3438" stop-color="#00a6ff"/><stop offset="0.3438" stop-color="#00f5ff"/><stop offset="0.3594" stop-color="#00f5ff"/><stop offset="0.3594" stop-color="#2fffcf"/><stop offset="0.3750" stop-color="#2fffcf"/><stop offset="0.3750" stop-color="#60ff9e"/><stop offset="0.3906" stop-color="#60ff9e"/><stop offset="0.3906" stop-color="#78ff86"/><stop offset="0.4062" stop-color="#78ff86"/><stop offset="0.4062" stop-color="#b1ff4d"/><stop offset="0.4219" stop-color="#b1ff4d"/><stop offset="0.4219" stop-color="#bbff43"/><stop offset="0.4375" stop-color="#bbff43"/><stop offset="0.4375" stop-color="#d3ff2b"/><stop offset="0.4531" stop-color="#d3ff2b"/><stop offset="0.4531" stop-color="#e7ff17"/><stop offset="0.4688" stop-color="#e7ff17"/><stop offset="0.4688" stop-color="#edff11"/><stop offset="0.4844" stop-color="#edff11"/><stop offset="0.4844" stop-color="#f6ff08"/><stop offset="0.5000" stop-color="#f6ff08"/><stop offset="0.5000" stop-color="#e9ff15"/><stop offset="0.5156" stop-color="#e9ff15"/><stop offset="0.5156" stop-color="#f4ff0a"/><stop offset="0.5312" stop-color="#f4ff0a"/><stop offset="0.5312" stop-color="#d4ff2a"/><stop offset="0.5469" stop-color="#d4ff2a"/><stop offset="0.5469" stop-color="#c9ff35"/><stop offset="0.5625" stop-color="#c9ff35"/><stop offset="0.5625" stop-color="#a2ff5c"/><stop offset="0.5781" stop-color="#a2ff5c"/><stop offset="0.5781" stop-color="#5affa4"/><stop offset="0.5938" stop-color="#5affa4"/><stop offset="0.5938" stop-color="#1effe0"/><stop offset="0.6094" stop-color="#1effe0"/><stop offset="0.6094" stop-color="#00f3ff"/><stop offset="0.6250" stop-color="#00f3ff"/><stop offset="0.6250" stop-color="#00e0ff"/><stop offset="0.6406" stop-color="#00e0ff"/><stop offset="0.6406" stop-color="#00aaff"/><stop offset="0.6562" stop-color="#00aaff"/><stop offset="0.6562" stop-color="#009dff"/><stop offset="0.6719" stop-color="#009dff"/><stop offset="0.6719" stop-color="#0083ff"/><stop offset="0.6875" stop-color="#0083ff"/><stop offset="0.6875" stop-color="#007aff"/><stop offset="0.7031" stop-color="#007aff"/><stop offset="0.7031" stop-color="#0070ff"/><stop offset="0.7188" stop-color="#0070ff"/><stop offset="0.7188" stop-color="#006dff"/><stop offset="0.7344" stop-color="#006dff"/><stop offset="0.7344" stop-color="#0072ff"/><stop offset="0.7500" stop-color="#0072ff"/><stop offset="0.7500" stop-color="#0070ff"/><stop offset="0.7656" stop-color="#0070ff"/><stop offset="0.7656" stop-color="#0077ff"/><stop offset="0.7812" stop-color="#0077ff"/><stop offset="0.7812" stop-color="#006eff"/><stop offset="0.7969" stop-color="#006eff"/><stop offset="0.7969" stop-color="#0074ff"/><stop offset="0.8125" stop-color="#0074ff"/><stop offset="0.8125" stop-color="#006fff"/><stop offset="0.8281" stop-color="#006fff"/><stop offset="0.8281" stop-color="#0071ff"/><stop offset="0.8438" stop-color="#0071ff"/><stop offset="0.8438" stop-color="#0066ff"/><stop offset="0.8594" stop-color="#0066ff"/><stop offset="0.8594" stop-color="#005dff"/><stop offset="0.8750" stop-color="#005dff"/><stop offset="0.8750" stop-color="#0079ff"/><stop offset="0.8906" stop-color="#0079ff"/><stop offset="0.8906" stop-color="#0082ff"/><stop offset="0.9062" stop-color="#0082ff"/><stop offset="0.9062" stop-color="#0087ff"/><stop offset="0.9219" stop-color="#0087ff"/><stop offset="0.9219" stop-color="#0083ff"/><stop offset="0.9375" stop-color="#0083ff"/><stop offset="0.9375" stop-color="#008eff"/><stop offset="0.9531" stop-color="#008eff"/><stop offset="0.9531" stop-color="#0085ff"/><stop offset="0.9688" stop-color="#0085ff"/><stop offset="0.9688" stop-color="#009eff"/><stop offset="0.9844" stop-color="#009eff"/><stop offset="0.9844" stop-color="#009dff"/><stop offset="1.0000" stop-color="#009dff"/></linearGradient>
<pattern id="hg3p" patternUnits="userSpaceOnUse" x="1274.7" y="356" width="55.350" height="42"><rect x="0" y="0" width="3.5" height="3" fill="#fff" fill-opacity="0.06"/><rect x="3.5" y="0" width="3.5" height="3" fill="#000" fill-opacity="0.17"/><rect x="6.9" y="0" width="3.5" height="3" fill="#000" fill-opacity="0.02"/><rect x="10.4" y="0" width="3.5" height="3" fill="#fff" fill-opacity="0.08"/><rect x="13.8" y="0" width="3.5" height="3" fill="#000" fill-opacity="0.06"/><rect x="17.3" y="0" width="3.5" height="3" fill="#fff" fill-opacity="0.17"/><rect x="20.8" y="0" width="3.5" height="3" fill="#fff" fill-opacity="0.12"/><rect x="24.2" y="0" width="3.5" height="3" fill="#fff" fill-opacity="0.14"/><rect x="27.7" y="0" width="3.5" height="3" fill="#000" fill-opacity="0.18"/><rect x="31.1" y="0" width="3.5" height="3" fill="#000" fill-opacity="0.10"/><rect x="34.6" y="0" width="3.5" height="3" fill="#fff" fill-opacity="0.06"/><rect x="38.1" y="0" width="3.5" height="3" fill="#fff" fill-opacity="0.12"/><rect x="41.5" y="0" width="3.5" height="3" fill="#fff" fill-opacity="0.04"/><rect x="45" y="0" width="3.5" height="3" fill="#fff" fill-opacity="0.12"/><rect x="48.4" y="0" width="3.5" height="3" fill="#000" fill-opacity="0.01"/><rect x="51.9" y="0" width="3.5" height="3" fill="#000" fill-opacity="0.06"/><rect x="0" y="3" width="3.5" height="3" fill="#fff" fill-opacity="0.18"/><rect x="3.5" y="3" width="3.5" height="3" fill="#000" fill-opacity="0.09"/><rect x="6.9" y="3" width="3.5" height="3" fill="#000" fill-opacity="0.13"/><rect x="10.4" y="3" width="3.5" height="3" fill="#000" fill-opacity="0.11"/><rect x="13.8" y="3" width="3.5" height="3" fill="#000" fill-opacity="0.19"/><rect x="17.3" y="3" width="3.5" height="3" fill="#000" fill-opacity="0.09"/><rect x="20.8" y="3" width="3.5" height="3" fill="#fff" fill-opacity="0.05"/><rect x="24.2" y="3" width="3.5" height="3" fill="#000" fill-opacity="0.20"/><rect x="27.7" y="3" width="3.5" height="3" fill="#fff" fill-opacity="0.11"/><rect x="31.1" y="3" width="3.5" height="3" fill="#000" fill-opacity="0.08"/><rect x="34.6" y="3" width="3.5" height="3" fill="#000" fill-opacity="0.00"/><rect x="38.1" y="3" width="3.5" height="3" fill="#fff" fill-opacity="0.13"/><rect x="41.5" y="3" width="3.5" height="3" fill="#fff" fill-opacity="0.13"/><rect x="45" y="3" width="3.5" height="3" fill="#fff" fill-opacity="0.14"/><rect x="48.4" y="3" width="3.5" height="3" fill="#000" fill-opacity="0.14"/><rect x="51.9" y="3" width="3.5" height="3" fill="#fff" fill-opacity="0.00"/><rect x="0" y="6" width="3.5" height="3" fill="#000" fill-opacity="0.14"/><rect x="3.5" y="6" width="3.5" height="3" fill="#fff" fill-opacity="0.05"/><rect x="6.9" y="6" width="3.5" height="3" fill="#fff" fill-opacity="0.12"/><rect x="10.4" y="6" width="3.5" height="3" fill="#fff" fill-opacity="0.07"/><rect x="13.8" y="6" width="3.5" height="3" fill="#000" fill-opacity="0.07"/><rect x="17.3" y="6" width="3.5" height="3" fill="#fff" fill-opacity="0.06"/><rect x="20.8" y="6" width="3.5" height="3" fill="#fff" fill-opacity="0.15"/><rect x="24.2" y="6" width="3.5" height="3" fill="#000" fill-opacity="0.11"/><rect x="27.7" y="6" width="3.5" height="3" fill="#fff" fill-opacity="0.06"/><rect x="31.1" y="6" width="3.5" height="3" fill="#fff" fill-opacity="0.16"/><rect x="34.6" y="6" width="3.5" height="3" fill="#fff" fill-opacity="0.04"/><rect x="38.1" y="6" width="3.5" height="3" fill="#fff" fill-opacity="0.14"/><rect x="41.5" y="6" width="3.5" height="3" fill="#fff" fill-opacity="0.06"/><rect x="45" y="6" width="3.5" height="3" fill="#fff" fill-opacity="0.17"/><rect x="48.4" y="6" width="3.5" height="3" fill="#fff" fill-opacity="0.17"/><rect x="51.9" y="6" width="3.5" height="3" fill="#000" fill-opacity="0.07"/><rect x="0" y="9" width="3.5" height="3" fill="#fff" fill-opacity="0.18"/><rect x="3.5" y="9" width="3.5" height="3" fill="#fff" fill-opacity="0.05"/><rect x="6.9" y="9" width="3.5" height="3" fill="#fff" fill-opacity="0.11"/><rect x="10.4" y="9" width="3.5" height="3" fill="#000" fill-opacity="0.16"/><rect x="13.8" y="9" width="3.5" height="3" fill="#fff" fill-opacity="0.04"/><rect x="17.3" y="9" width="3.5" height="3" fill="#000" fill-opacity="0.16"/><rect x="20.8" y="9" width="3.5" height="3" fill="#fff" fill-opacity="0.16"/><rect x="24.2" y="9" width="3.5" height="3" fill="#fff" fill-opacity="0.03"/><rect x="27.7" y="9" width="3.5" height="3" fill="#fff" fill-opacity="0.16"/><rect x="31.1" y="9" width="3.5" height="3" fill="#fff" fill-opacity="0.07"/><rect x="34.6" y="9" width="3.5" height="3" fill="#fff" fill-opacity="0.08"/><rect x="38.1" y="9" width="3.5" height="3" fill="#fff" fill-opacity="0.18"/><rect x="41.5" y="9" width="3.5" height="3" fill="#000" fill-opacity="0.00"/><rect x="45" y="9" width="3.5" height="3" fill="#000" fill-opacity="0.18"/><rect x="48.4" y="9" width="3.5" height="3" fill="#000" fill-opacity="0.09"/><rect x="51.9" y="9" width="3.5" height="3" fill="#fff" fill-opacity="0.19"/><rect x="0" y="12" width="3.5" height="3" fill="#000" fill-opacity="0.15"/><rect x="3.5" y="12" width="3.5" height="3" fill="#000" fill-opacity="0.13"/><rect x="6.9" y="12" width="3.5" height="3" fill="#fff" fill-opacity="0.06"/><rect x="10.4" y="12" width="3.5" height="3" fill="#fff" fill-opacity="0.05"/><rect x="13.8" y="12" width="3.5" height="3" fill="#fff" fill-opacity="0.12"/><rect x="17.3" y="12" width="3.5" height="3" fill="#fff" fill-opacity="0.16"/><rect x="20.8" y="12" width="3.5" height="3" fill="#000" fill-opacity="0.18"/><rect x="24.2" y="12" width="3.5" height="3" fill="#000" fill-opacity="0.18"/><rect x="27.7" y="12" width="3.5" height="3" fill="#000" fill-opacity="0.18"/><rect x="31.1" y="12" width="3.5" height="3" fill="#000" fill-opacity="0.00"/><rect x="34.6" y="12" width="3.5" height="3" fill="#fff" fill-opacity="0.03"/><rect x="38.1" y="12" width="3.5" height="3" fill="#000" fill-opacity="0.13"/><rect x="41.5" y="12" width="3.5" height="3" fill="#000" fill-opacity="0.08"/><rect x="45" y="12" width="3.5" height="3" fill="#fff" fill-opacity="0.12"/><rect x="48.4" y="12" width="3.5" height="3" fill="#000" fill-opacity="0.05"/><rect x="51.9" y="12" width="3.5" height="3" fill="#000" fill-opacity="0.10"/><rect x="0" y="15" width="3.5" height="3" fill="#fff" fill-opacity="0.07"/><rect x="3.5" y="15" width="3.5" height="3" fill="#000" fill-opacity="0.11"/><rect x="6.9" y="15" width="3.5" height="3" fill="#000" fill-opacity="0.03"/><rect x="10.4" y="15" width="3.5" height="3" fill="#000" fill-opacity="0.18"/><rect x="13.8" y="15" width="3.5" height="3" fill="#fff" fill-opacity="0.16"/><rect x="17.3" y="15" width="3.5" height="3" fill="#000" fill-opacity="0.13"/><rect x="20.8" y="15" width="3.5" height="3" fill="#fff" fill-opacity="0.01"/><rect x="24.2" y="15" width="3.5" height="3" fill="#000" fill-opacity="0.05"/><rect x="27.7" y="15" width="3.5" height="3" fill="#fff" fill-opacity="0.08"/><rect x="31.1" y="15" width="3.5" height="3" fill="#fff" fill-opacity="0.16"/><rect x="34.6" y="15" width="3.5" height="3" fill="#fff" fill-opacity="0.01"/><rect x="38.1" y="15" width="3.5" height="3" fill="#fff" fill-opacity="0.02"/><rect x="41.5" y="15" width="3.5" height="3" fill="#000" fill-opacity="0.19"/><rect x="45" y="15" width="3.5" height="3" fill="#000" fill-opacity="0.02"/><rect x="48.4" y="15" width="3.5" height="3" fill="#fff" fill-opacity="0.06"/><rect x="51.9" y="15" width="3.5" height="3" fill="#000" fill-opacity="0.07"/><rect x="0" y="18" width="3.5" height="3" fill="#fff" fill-opacity="0.12"/><rect x="3.5" y="18" width="3.5" height="3" fill="#fff" fill-opacity="0.04"/><rect x="6.9" y="18" width="3.5" height="3" fill="#000" fill-opacity="0.02"/><rect x="10.4" y="18" width="3.5" height="3" fill="#fff" fill-opacity="0.14"/><rect x="13.8" y="18" width="3.5" height="3" fill="#fff" fill-opacity="0.02"/><rect x="17.3" y="18" width="3.5" height="3" fill="#000" fill-opacity="0.07"/><rect x="20.8" y="18" width="3.5" height="3" fill="#fff" fill-opacity="0.16"/><rect x="24.2" y="18" width="3.5" height="3" fill="#000" fill-opacity="0.16"/><rect x="27.7" y="18" width="3.5" height="3" fill="#fff" fill-opacity="0.09"/><rect x="31.1" y="18" width="3.5" height="3" fill="#000" fill-opacity="0.10"/><rect x="34.6" y="18" width="3.5" height="3" fill="#000" fill-opacity="0.08"/><rect x="38.1" y="18" width="3.5" height="3" fill="#fff" fill-opacity="0.09"/><rect x="41.5" y="18" width="3.5" height="3" fill="#000" fill-opacity="0.11"/><rect x="45" y="18" width="3.5" height="3" fill="#fff" fill-opacity="0.01"/><rect x="48.4" y="18" width="3.5" height="3" fill="#000" fill-opacity="0.09"/><rect x="51.9" y="18" width="3.5" height="3" fill="#fff" fill-opacity="0.19"/><rect x="0" y="21" width="3.5" height="3" fill="#000" fill-opacity="0.18"/><rect x="3.5" y="21" width="3.5" height="3" fill="#fff" fill-opacity="0.05"/><rect x="6.9" y="21" width="3.5" height="3" fill="#000" fill-opacity="0.02"/><rect x="10.4" y="21" width="3.5" height="3" fill="#000" fill-opacity="0.13"/><rect x="13.8" y="21" width="3.5" height="3" fill="#000" fill-opacity="0.16"/><rect x="17.3" y="21" width="3.5" height="3" fill="#000" fill-opacity="0.15"/><rect x="20.8" y="21" width="3.5" height="3" fill="#000" fill-opacity="0.02"/><rect x="24.2" y="21" width="3.5" height="3" fill="#fff" fill-opacity="0.00"/><rect x="27.7" y="21" width="3.5" height="3" fill="#fff" fill-opacity="0.15"/><rect x="31.1" y="21" width="3.5" height="3" fill="#fff" fill-opacity="0.02"/><rect x="34.6" y="21" width="3.5" height="3" fill="#fff" fill-opacity="0.18"/><rect x="38.1" y="21" width="3.5" height="3" fill="#000" fill-opacity="0.00"/><rect x="41.5" y="21" width="3.5" height="3" fill="#000" fill-opacity="0.02"/><rect x="45" y="21" width="3.5" height="3" fill="#000" fill-opacity="0.13"/><rect x="48.4" y="21" width="3.5" height="3" fill="#000" fill-opacity="0.19"/><rect x="51.9" y="21" width="3.5" height="3" fill="#fff" fill-opacity="0.16"/><rect x="0" y="24" width="3.5" height="3" fill="#000" fill-opacity="0.15"/><rect x="3.5" y="24" width="3.5" height="3" fill="#fff" fill-opacity="0.14"/><rect x="6.9" y="24" width="3.5" height="3" fill="#000" fill-opacity="0.15"/><rect x="10.4" y="24" width="3.5" height="3" fill="#fff" fill-opacity="0.01"/><rect x="13.8" y="24" width="3.5" height="3" fill="#000" fill-opacity="0.11"/><rect x="17.3" y="24" width="3.5" height="3" fill="#fff" fill-opacity="0.05"/><rect x="20.8" y="24" width="3.5" height="3" fill="#000" fill-opacity="0.05"/><rect x="24.2" y="24" width="3.5" height="3" fill="#fff" fill-opacity="0.15"/><rect x="27.7" y="24" width="3.5" height="3" fill="#fff" fill-opacity="0.07"/><rect x="31.1" y="24" width="3.5" height="3" fill="#fff" fill-opacity="0.07"/><rect x="34.6" y="24" width="3.5" height="3" fill="#000" fill-opacity="0.02"/><rect x="38.1" y="24" width="3.5" height="3" fill="#fff" fill-opacity="0.19"/><rect x="41.5" y="24" width="3.5" height="3" fill="#fff" fill-opacity="0.15"/><rect x="45" y="24" width="3.5" height="3" fill="#000" fill-opacity="0.14"/><rect x="48.4" y="24" width="3.5" height="3" fill="#000" fill-opacity="0.13"/><rect x="51.9" y="24" width="3.5" height="3" fill="#000" fill-opacity="0.10"/><rect x="0" y="27" width="3.5" height="3" fill="#fff" fill-opacity="0.18"/><rect x="3.5" y="27" width="3.5" height="3" fill="#000" fill-opacity="0.02"/><rect x="6.9" y="27" width="3.5" height="3" fill="#000" fill-opacity="0.18"/><rect x="10.4" y="27" width="3.5" height="3" fill="#000" fill-opacity="0.09"/><rect x="13.8" y="27" width="3.5" height="3" fill="#fff" fill-opacity="0.04"/><rect x="17.3" y="27" width="3.5" height="3" fill="#000" fill-opacity="0.04"/><rect x="20.8" y="27" width="3.5" height="3" fill="#fff" fill-opacity="0.06"/><rect x="24.2" y="27" width="3.5" height="3" fill="#000" fill-opacity="0.14"/><rect x="27.7" y="27" width="3.5" height="3" fill="#000" fill-opacity="0.06"/><rect x="31.1" y="27" width="3.5" height="3" fill="#000" fill-opacity="0.08"/><rect x="34.6" y="27" width="3.5" height="3" fill="#fff" fill-opacity="0.12"/><rect x="38.1" y="27" width="3.5" height="3" fill="#fff" fill-opacity="0.04"/><rect x="41.5" y="27" width="3.5" height="3" fill="#fff" fill-opacity="0.10"/><rect x="45" y="27" width="3.5" height="3" fill="#fff" fill-opacity="0.03"/><rect x="48.4" y="27" width="3.5" height="3" fill="#000" fill-opacity="0.06"/><rect x="51.9" y="27" width="3.5" height="3" fill="#000" fill-opacity="0.03"/><rect x="0" y="30" width="3.5" height="3" fill="#000" fill-opacity="0.10"/><rect x="3.5" y="30" width="3.5" height="3" fill="#000" fill-opacity="0.09"/><rect x="6.9" y="30" width="3.5" height="3" fill="#000" fill-opacity="0.16"/><rect x="10.4" y="30" width="3.5" height="3" fill="#000" fill-opacity="0.10"/><rect x="13.8" y="30" width="3.5" height="3" fill="#fff" fill-opacity="0.17"/><rect x="17.3" y="30" width="3.5" height="3" fill="#000" fill-opacity="0.15"/><rect x="20.8" y="30" width="3.5" height="3" fill="#fff" fill-opacity="0.09"/><rect x="24.2" y="30" width="3.5" height="3" fill="#000" fill-opacity="0.05"/><rect x="27.7" y="30" width="3.5" height="3" fill="#000" fill-opacity="0.14"/><rect x="31.1" y="30" width="3.5" height="3" fill="#fff" fill-opacity="0.17"/><rect x="34.6" y="30" width="3.5" height="3" fill="#fff" fill-opacity="0.04"/><rect x="38.1" y="30" width="3.5" height="3" fill="#000" fill-opacity="0.04"/><rect x="41.5" y="30" width="3.5" height="3" fill="#000" fill-opacity="0.17"/><rect x="45" y="30" width="3.5" height="3" fill="#000" fill-opacity="0.05"/><rect x="48.4" y="30" width="3.5" height="3" fill="#fff" fill-opacity="0.06"/><rect x="51.9" y="30" width="3.5" height="3" fill="#fff" fill-opacity="0.15"/><rect x="0" y="33" width="3.5" height="3" fill="#000" fill-opacity="0.02"/><rect x="3.5" y="33" width="3.5" height="3" fill="#fff" fill-opacity="0.06"/><rect x="6.9" y="33" width="3.5" height="3" fill="#000" fill-opacity="0.12"/><rect x="10.4" y="33" width="3.5" height="3" fill="#fff" fill-opacity="0.00"/><rect x="13.8" y="33" width="3.5" height="3" fill="#fff" fill-opacity="0.09"/><rect x="17.3" y="33" width="3.5" height="3" fill="#000" fill-opacity="0.04"/><rect x="20.8" y="33" width="3.5" height="3" fill="#fff" fill-opacity="0.19"/><rect x="24.2" y="33" width="3.5" height="3" fill="#fff" fill-opacity="0.11"/><rect x="27.7" y="33" width="3.5" height="3" fill="#000" fill-opacity="0.05"/><rect x="31.1" y="33" width="3.5" height="3" fill="#000" fill-opacity="0.02"/><rect x="34.6" y="33" width="3.5" height="3" fill="#fff" fill-opacity="0.18"/><rect x="38.1" y="33" width="3.5" height="3" fill="#fff" fill-opacity="0.19"/><rect x="41.5" y="33" width="3.5" height="3" fill="#000" fill-opacity="0.15"/><rect x="45" y="33" width="3.5" height="3" fill="#000" fill-opacity="0.06"/><rect x="48.4" y="33" width="3.5" height="3" fill="#000" fill-opacity="0.13"/><rect x="51.9" y="33" width="3.5" height="3" fill="#000" fill-opacity="0.05"/><rect x="0" y="36" width="3.5" height="3" fill="#000" fill-opacity="0.19"/><rect x="3.5" y="36" width="3.5" height="3" fill="#fff" fill-opacity="0.11"/><rect x="6.9" y="36" width="3.5" height="3" fill="#fff" fill-opacity="0.10"/><rect x="10.4" y="36" width="3.5" height="3" fill="#000" fill-opacity="0.14"/><rect x="13.8" y="36" width="3.5" height="3" fill="#fff" fill-opacity="0.11"/><rect x="17.3" y="36" width="3.5" height="3" fill="#000" fill-opacity="0.13"/><rect x="20.8" y="36" width="3.5" height="3" fill="#000" fill-opacity="0.04"/><rect x="24.2" y="36" width="3.5" height="3" fill="#fff" fill-opacity="0.13"/><rect x="27.7" y="36" width="3.5" height="3" fill="#fff" fill-opacity="0.19"/><rect x="31.1" y="36" width="3.5" height="3" fill="#000" fill-opacity="0.07"/><rect x="34.6" y="36" width="3.5" height="3" fill="#000" fill-opacity="0.12"/><rect x="38.1" y="36" width="3.5" height="3" fill="#fff" fill-opacity="0.13"/><rect x="41.5" y="36" width="3.5" height="3" fill="#fff" fill-opacity="0.06"/><rect x="45" y="36" width="3.5" height="3" fill="#000" fill-opacity="0.01"/><rect x="48.4" y="36" width="3.5" height="3" fill="#000" fill-opacity="0.15"/><rect x="51.9" y="36" width="3.5" height="3" fill="#fff" fill-opacity="0.15"/><rect x="0" y="39" width="3.5" height="3" fill="#fff" fill-opacity="0.05"/><rect x="3.5" y="39" width="3.5" height="3" fill="#fff" fill-opacity="0.17"/><rect x="6.9" y="39" width="3.5" height="3" fill="#fff" fill-opacity="0.10"/><rect x="10.4" y="39" width="3.5" height="3" fill="#fff" fill-opacity="0.15"/><rect x="13.8" y="39" width="3.5" height="3" fill="#fff" fill-opacity="0.07"/><rect x="17.3" y="39" width="3.5" height="3" fill="#000" fill-opacity="0.11"/><rect x="20.8" y="39" width="3.5" height="3" fill="#000" fill-opacity="0.07"/><rect x="24.2" y="39" width="3.5" height="3" fill="#fff" fill-opacity="0.02"/><rect x="27.7" y="39" width="3.5" height="3" fill="#fff" fill-opacity="0.02"/><rect x="31.1" y="39" width="3.5" height="3" fill="#000" fill-opacity="0.16"/><rect x="34.6" y="39" width="3.5" height="3" fill="#fff" fill-opacity="0.04"/><rect x="38.1" y="39" width="3.5" height="3" fill="#000" fill-opacity="0.08"/><rect x="41.5" y="39" width="3.5" height="3" fill="#000" fill-opacity="0.16"/><rect x="45" y="39" width="3.5" height="3" fill="#fff" fill-opacity="0.12"/><rect x="48.4" y="39" width="3.5" height="3" fill="#fff" fill-opacity="0.08"/><rect x="51.9" y="39" width="3.5" height="3" fill="#000" fill-opacity="0.11"/></pattern>
<rect x="1274.7" y="356" width="221.4" height="122.5" fill="url(#hg3)"/>
<rect x="1274.7" y="356" width="221.4" height="122.5" fill="url(#hg3p)"/>
<rect x="1274.7" y="356" width="221.4" height="122.5" fill="none" stroke="#000" stroke-width="1.6"/>
<linearGradient id="hg4" x1="0" x2="1" y1="0" y2="0"><stop offset="0.0000" stop-color="#006bff"/><stop offset="0.0156" stop-color="#006bff"/><stop offset="0.0156" stop-color="#0063ff"/><stop offset="0.0312" stop-color="#0063ff"/><stop offset="0.0312" stop-color="#0068ff"/><stop offset="0.0469" stop-color="#0068ff"/><stop offset="0.0469" stop-color="#005cff"/><stop offset="0.0625" stop-color="#005cff"/><stop offset="0.0625" stop-color="#0056ff"/><stop offset="0.0781" stop-color="#0056ff"/><stop offset="0.0781" stop-color="#0051ff"/><stop offset="0.0938" stop-color="#0051ff"/><stop offset="0.0938" stop-color="#0041ff"/><stop offset="0.1094" stop-color="#0041ff"/><stop offset="0.1094" stop-color="#001eff"/><stop offset="0.1250" stop-color="#001eff"/><stop offset="0.1250" stop-color="#0012ff"/><stop offset="0.1406" stop-color="#0012ff"/><stop offset="0.1406" stop-color="#0000fa"/><stop offset="0.1562" stop-color="#0000fa"/><stop offset="0.1562" stop-color="#0000fe"/><stop offset="0.1719" stop-color="#0000fe"/><stop offset="0.1719" stop-color="#0000f0"/><stop offset="0.1875" stop-color="#0000f0"/><stop offset="0.1875" stop-color="#0000e7"/><stop offset="0.2031" stop-color="#0000e7"/><stop offset="0.2031" stop-color="#0000e5"/><stop offset="0.2188" stop-color="#0000e5"/><stop offset="0.2188" stop-color="#0000ea"/><stop offset="0.2344" stop-color="#0000ea"/><stop offset="0.2344" stop-color="#0003ff"/><stop offset="0.2500" stop-color="#0003ff"/><stop offset="0.2500" stop-color="#0002ff"/><stop offset="0.2656" stop-color="#0002ff"/><stop offset="0.2656" stop-color="#0003ff"/><stop offset="0.2812" stop-color="#0003ff"/><stop offset="0.2812" stop-color="#001cff"/><stop offset="0.2969" stop-color="#001cff"/><stop offset="0.2969" stop-color="#0034ff"/><stop offset="0.3125" stop-color="#0034ff"/><stop offset="0.3125" stop-color="#0095ff"/><stop offset="0.3281" stop-color="#0095ff"/><stop offset="0.3281" stop-color="#05fff9"/><stop offset="0.3438" stop-color="#05fff9"/><stop offset="0.3438" stop-color="#4effb0"/><stop offset="0.3594" stop-color="#4effb0"/><stop offset="0.3594" stop-color="#9dff61"/><stop offset="0.3750" stop-color="#9dff61"/><stop offset="0.3750" stop-color="#e3ff1b"/><stop offset="0.3906" stop-color="#e3ff1b"/><stop offset="0.3906" stop-color="#f0ff0e"/><stop offset="0.4062" stop-color="#f0ff0e"/><stop offset="0.4062" stop-color="#ffdd00"/><stop offset="0.4219" stop-color="#ffdd00"/><stop offset="0.4219" stop-color="#ffc800"/><stop offset="0.4375" stop-color="#ffc800"/><stop offset="0.4375" stop-color="#ffba00"/><stop offset="0.4531" stop-color="#ffba00"/><stop offset="0.4531" stop-color="#ffb200"/><stop offset="0.4688" stop-color="#ffb200"/><stop offset="0.4688" stop-color="#ffa900"/><stop offset="0.4844" stop-color="#ffa900"/><stop offset="0.4844" stop-color="#ffb400"/><stop offset="0.5000" stop-color="#ffb400"/><stop offset="0.5000" stop-color="#ffa200"/><stop offset="0.5156" stop-color="#ffa200"/><stop offset="0.5156" stop-color="#ffb500"/><stop offset="0.5312" stop-color="#ffb500"/><stop offset="0.5312" stop-color="#ffce00"/><stop offset="0.5469" stop-color="#ffce00"/><stop offset="0.5469" stop-color="#ffec00"/><stop offset="0.5625" stop-color="#ffec00"/><stop offset="0.5625" stop-color="#fdff01"/><stop offset="0.5781" stop-color="#fdff01"/><stop offset="0.5781" stop-color="#bbff43"/><stop offset="0.5938" stop-color="#bbff43"/><stop offset="0.5938" stop-color="#84ff7a"/><stop offset="0.6094" stop-color="#84ff7a"/><stop offset="0.6094" stop-color="#44ffba"/><stop offset="0.6250" stop-color="#44ffba"/><stop offset="0.6250" stop-color="#00fcff"/><stop offset="0.6406" stop-color="#00fcff"/><stop offset="0.6406" stop-color="#00cfff"/><stop offset="0.6562" stop-color="#00cfff"/><stop offset="0.6562" stop-color="#00b4ff"/><stop offset="0.6719" stop-color="#00b4ff"/><stop offset="0.6719" stop-color="#00aaff"/><stop offset="0.6875" stop-color="#00aaff"/><stop offset="0.6875" stop-color="#009dff"/><stop offset="0.7031" stop-color="#009dff"/><stop offset="0.7031" stop-color="#009dff"/><stop offset="0.7188" stop-color="#009dff"/><stop offset="0.7188" stop-color="#00a8ff"/><stop offset="0.7344" stop-color="#00a8ff"/><stop offset="0.7344" stop-color="#008cff"/><stop offset="0.7500" stop-color="#008cff"/><stop offset="0.7500" stop-color="#0088ff"/><stop offset="0.7656" stop-color="#0088ff"/><stop offset="0.7656" stop-color="#0095ff"/><stop offset="0.7812" stop-color="#0095ff"/><stop offset="0.7812" stop-color="#0086ff"/><stop offset="0.7969" stop-color="#0086ff"/><stop offset="0.7969" stop-color="#008bff"/><stop offset="0.8125" stop-color="#008bff"/><stop offset="0.8125" stop-color="#008cff"/><stop offset="0.8281" stop-color="#008cff"/><stop offset="0.8281" stop-color="#008cff"/><stop offset="0.8438" stop-color="#008cff"/><stop offset="0.8438" stop-color="#00a3ff"/><stop offset="0.8594" stop-color="#00a3ff"/><stop offset="0.8594" stop-color="#008eff"/><stop offset="0.8750" stop-color="#008eff"/><stop offset="0.8750" stop-color="#0097ff"/><stop offset="0.8906" stop-color="#0097ff"/><stop offset="0.8906" stop-color="#0094ff"/><stop offset="0.9062" stop-color="#0094ff"/><stop offset="0.9062" stop-color="#00a5ff"/><stop offset="0.9219" stop-color="#00a5ff"/><stop offset="0.9219" stop-color="#009dff"/><stop offset="0.9375" stop-color="#009dff"/><stop offset="0.9375" stop-color="#00a2ff"/><stop offset="0.9531" stop-color="#00a2ff"/><stop offset="0.9531" stop-color="#00b2ff"/><stop offset="0.9688" stop-color="#00b2ff"/><stop offset="0.9688" stop-color="#00a8ff"/><stop offset="0.9844" stop-color="#00a8ff"/><stop offset="0.9844" stop-color="#00b2ff"/><stop offset="1.0000" stop-color="#00b2ff"/></linearGradient>
<pattern id="hg4p" patternUnits="userSpaceOnUse" x="1297.6" y="373.6" width="55.125" height="42"><rect x="0" y="0" width="3.5" height="3" fill="#fff" fill-opacity="0.18"/><rect x="3.4" y="0" width="3.5" height="3" fill="#fff" fill-opacity="0.01"/><rect x="6.9" y="0" width="3.5" height="3" fill="#000" fill-opacity="0.15"/><rect x="10.3" y="0" width="3.5" height="3" fill="#fff" fill-opacity="0.05"/><rect x="13.8" y="0" width="3.5" height="3" fill="#fff" fill-opacity="0.04"/><rect x="17.2" y="0" width="3.5" height="3" fill="#000" fill-opacity="0.01"/><rect x="20.7" y="0" width="3.5" height="3" fill="#000" fill-opacity="0.18"/><rect x="24.1" y="0" width="3.5" height="3" fill="#000" fill-opacity="0.15"/><rect x="27.6" y="0" width="3.5" height="3" fill="#fff" fill-opacity="0.00"/><rect x="31" y="0" width="3.5" height="3" fill="#000" fill-opacity="0.19"/><rect x="34.5" y="0" width="3.5" height="3" fill="#000" fill-opacity="0.08"/><rect x="37.9" y="0" width="3.5" height="3" fill="#000" fill-opacity="0.12"/><rect x="41.3" y="0" width="3.5" height="3" fill="#fff" fill-opacity="0.06"/><rect x="44.8" y="0" width="3.5" height="3" fill="#fff" fill-opacity="0.09"/><rect x="48.2" y="0" width="3.5" height="3" fill="#000" fill-opacity="0.08"/><rect x="51.7" y="0" width="3.5" height="3" fill="#fff" fill-opacity="0.07"/><rect x="0" y="3" width="3.5" height="3" fill="#fff" fill-opacity="0.01"/><rect x="3.4" y="3" width="3.5" height="3" fill="#fff" fill-opacity="0.16"/><rect x="6.9" y="3" width="3.5" height="3" fill="#fff" fill-opacity="0.06"/><rect x="10.3" y="3" width="3.5" height="3" fill="#fff" fill-opacity="0.20"/><rect x="13.8" y="3" width="3.5" height="3" fill="#fff" fill-opacity="0.04"/><rect x="17.2" y="3" width="3.5" height="3" fill="#fff" fill-opacity="0.01"/><rect x="20.7" y="3" width="3.5" height="3" fill="#fff" fill-opacity="0.14"/><rect x="24.1" y="3" width="3.5" height="3" fill="#fff" fill-opacity="0.01"/><rect x="27.6" y="3" width="3.5" height="3" fill="#000" fill-opacity="0.05"/><rect x="31" y="3" width="3.5" height="3" fill="#000" fill-opacity="0.02"/><rect x="34.5" y="3" width="3.5" height="3" fill="#fff" fill-opacity="0.15"/><rect x="37.9" y="3" width="3.5" height="3" fill="#fff" fill-opacity="0.20"/><rect x="41.3" y="3" width="3.5" height="3" fill="#fff" fill-opacity="0.05"/><rect x="44.8" y="3" width="3.5" height="3" fill="#fff" fill-opacity="0.01"/><rect x="48.2" y="3" width="3.5" height="3" fill="#000" fill-opacity="0.05"/><rect x="51.7" y="3" width="3.5" height="3" fill="#fff" fill-opacity="0.17"/><rect x="0" y="6" width="3.5" height="3" fill="#fff" fill-opacity="0.01"/><rect x="3.4" y="6" width="3.5" height="3" fill="#fff" fill-opacity="0.05"/><rect x="6.9" y="6" width="3.5" height="3" fill="#000" fill-opacity="0.05"/><rect x="10.3" y="6" width="3.5" height="3" fill="#fff" fill-opacity="0.03"/><rect x="13.8" y="6" width="3.5" height="3" fill="#000" fill-opacity="0.19"/><rect x="17.2" y="6" width="3.5" height="3" fill="#fff" fill-opacity="0.20"/><rect x="20.7" y="6" width="3.5" height="3" fill="#000" fill-opacity="0.18"/><rect x="24.1" y="6" width="3.5" height="3" fill="#000" fill-opacity="0.16"/><rect x="27.6" y="6" width="3.5" height="3" fill="#fff" fill-opacity="0.10"/><rect x="31" y="6" width="3.5" height="3" fill="#000" fill-opacity="0.04"/><rect x="34.5" y="6" width="3.5" height="3" fill="#000" fill-opacity="0.18"/><rect x="37.9" y="6" width="3.5" height="3" fill="#000" fill-opacity="0.07"/><rect x="41.3" y="6" width="3.5" height="3" fill="#000" fill-opacity="0.16"/><rect x="44.8" y="6" width="3.5" height="3" fill="#000" fill-opacity="0.16"/><rect x="48.2" y="6" width="3.5" height="3" fill="#000" fill-opacity="0.13"/><rect x="51.7" y="6" width="3.5" height="3" fill="#000" fill-opacity="0.05"/><rect x="0" y="9" width="3.5" height="3" fill="#fff" fill-opacity="0.19"/><rect x="3.4" y="9" width="3.5" height="3" fill="#000" fill-opacity="0.19"/><rect x="6.9" y="9" width="3.5" height="3" fill="#fff" fill-opacity="0.13"/><rect x="10.3" y="9" width="3.5" height="3" fill="#fff" fill-opacity="0.18"/><rect x="13.8" y="9" width="3.5" height="3" fill="#000" fill-opacity="0.19"/><rect x="17.2" y="9" width="3.5" height="3" fill="#fff" fill-opacity="0.01"/><rect x="20.7" y="9" width="3.5" height="3" fill="#000" fill-opacity="0.13"/><rect x="24.1" y="9" width="3.5" height="3" fill="#000" fill-opacity="0.15"/><rect x="27.6" y="9" width="3.5" height="3" fill="#fff" fill-opacity="0.04"/><rect x="31" y="9" width="3.5" height="3" fill="#fff" fill-opacity="0.18"/><rect x="34.5" y="9" width="3.5" height="3" fill="#fff" fill-opacity="0.18"/><rect x="37.9" y="9" width="3.5" height="3" fill="#000" fill-opacity="0.16"/><rect x="41.3" y="9" width="3.5" height="3" fill="#000" fill-opacity="0.18"/><rect x="44.8" y="9" width="3.5" height="3" fill="#fff" fill-opacity="0.18"/><rect x="48.2" y="9" width="3.5" height="3" fill="#fff" fill-opacity="0.13"/><rect x="51.7" y="9" width="3.5" height="3" fill="#000" fill-opacity="0.18"/><rect x="0" y="12" width="3.5" height="3" fill="#000" fill-opacity="0.09"/><rect x="3.4" y="12" width="3.5" height="3" fill="#fff" fill-opacity="0.01"/><rect x="6.9" y="12" width="3.5" height="3" fill="#fff" fill-opacity="0.12"/><rect x="10.3" y="12" width="3.5" height="3" fill="#000" fill-opacity="0.17"/><rect x="13.8" y="12" width="3.5" height="3" fill="#fff" fill-opacity="0.03"/><rect x="17.2" y="12" width="3.5" height="3" fill="#000" fill-opacity="0.15"/><rect x="20.7" y="12" width="3.5" height="3" fill="#000" fill-opacity="0.00"/><rect x="24.1" y="12" width="3.5" height="3" fill="#fff" fill-opacity="0.17"/><rect x="27.6" y="12" width="3.5" height="3" fill="#fff" fill-opacity="0.11"/><rect x="31" y="12" width="3.5" height="3" fill="#fff" fill-opacity="0.16"/><rect x="34.5" y="12" width="3.5" height="3" fill="#fff" fill-opacity="0.05"/><rect x="37.9" y="12" width="3.5" height="3" fill="#fff" fill-opacity="0.19"/><rect x="41.3" y="12" width="3.5" height="3" fill="#000" fill-opacity="0.02"/><rect x="44.8" y="12" width="3.5" height="3" fill="#000" fill-opacity="0.18"/><rect x="48.2" y="12" width="3.5" height="3" fill="#000" fill-opacity="0.09"/><rect x="51.7" y="12" width="3.5" height="3" fill="#fff" fill-opacity="0.16"/><rect x="0" y="15" width="3.5" height="3" fill="#fff" fill-opacity="0.18"/><rect x="3.4" y="15" width="3.5" height="3" fill="#000" fill-opacity="0.06"/><rect x="6.9" y="15" width="3.5" height="3" fill="#000" fill-opacity="0.08"/><rect x="10.3" y="15" width="3.5" height="3" fill="#000" fill-opacity="0.03"/><rect x="13.8" y="15" width="3.5" height="3" fill="#fff" fill-opacity="0.04"/><rect x="17.2" y="15" width="3.5" height="3" fill="#fff" fill-opacity="0.10"/><rect x="20.7" y="15" width="3.5" height="3" fill="#000" fill-opacity="0.11"/><rect x="24.1" y="15" width="3.5" height="3" fill="#fff" fill-opacity="0.14"/><rect x="27.6" y="15" width="3.5" height="3" fill="#000" fill-opacity="0.06"/><rect x="31" y="15" width="3.5" height="3" fill="#000" fill-opacity="0.10"/><rect x="34.5" y="15" width="3.5" height="3" fill="#fff" fill-opacity="0.10"/><rect x="37.9" y="15" width="3.5" height="3" fill="#000" fill-opacity="0.05"/><rect x="41.3" y="15" width="3.5" height="3" fill="#000" fill-opacity="0.07"/><rect x="44.8" y="15" width="3.5" height="3" fill="#000" fill-opacity="0.20"/><rect x="48.2" y="15" width="3.5" height="3" fill="#000" fill-opacity="0.14"/><rect x="51.7" y="15" width="3.5" height="3" fill="#000" fill-opacity="0.06"/><rect x="0" y="18" width="3.5" height="3" fill="#000" fill-opacity="0.09"/><rect x="3.4" y="18" width="3.5" height="3" fill="#000" fill-opacity="0.06"/><rect x="6.9" y="18" width="3.5" height="3" fill="#000" fill-opacity="0.16"/><rect x="10.3" y="18" width="3.5" height="3" fill="#fff" fill-opacity="0.09"/><rect x="13.8" y="18" width="3.5" height="3" fill="#fff" fill-opacity="0.15"/><rect x="17.2" y="18" width="3.5" height="3" fill="#fff" fill-opacity="0.13"/><rect x="20.7" y="18" width="3.5" height="3" fill="#fff" fill-opacity="0.02"/><rect x="24.1" y="18" width="3.5" height="3" fill="#fff" fill-opacity="0.16"/><rect x="27.6" y="18" width="3.5" height="3" fill="#fff" fill-opacity="0.18"/><rect x="31" y="18" width="3.5" height="3" fill="#fff" fill-opacity="0.12"/><rect x="34.5" y="18" width="3.5" height="3" fill="#fff" fill-opacity="0.12"/><rect x="37.9" y="18" width="3.5" height="3" fill="#000" fill-opacity="0.08"/><rect x="41.3" y="18" width="3.5" height="3" fill="#000" fill-opacity="0.04"/><rect x="44.8" y="18" width="3.5" height="3" fill="#fff" fill-opacity="0.07"/><rect x="48.2" y="18" width="3.5" height="3" fill="#fff" fill-opacity="0.00"/><rect x="51.7" y="18" width="3.5" height="3" fill="#000" fill-opacity="0.19"/><rect x="0" y="21" width="3.5" height="3" fill="#000" fill-opacity="0.16"/><rect x="3.4" y="21" width="3.5" height="3" fill="#fff" fill-opacity="0.19"/><rect x="6.9" y="21" width="3.5" height="3" fill="#fff" fill-opacity="0.12"/><rect x="10.3" y="21" width="3.5" height="3" fill="#000" fill-opacity="0.11"/><rect x="13.8" y="21" width="3.5" height="3" fill="#000" fill-opacity="0.15"/><rect x="17.2" y="21" width="3.5" height="3" fill="#000" fill-opacity="0.02"/><rect x="20.7" y="21" width="3.5" height="3" fill="#000" fill-opacity="0.14"/><rect x="24.1" y="21" width="3.5" height="3" fill="#000" fill-opacity="0.12"/><rect x="27.6" y="21" width="3.5" height="3" fill="#000" fill-opacity="0.06"/><rect x="31" y="21" width="3.5" height="3" fill="#000" fill-opacity="0.08"/><rect x="34.5" y="21" width="3.5" height="3" fill="#000" fill-opacity="0.18"/><rect x="37.9" y="21" width="3.5" height="3" fill="#fff" fill-opacity="0.06"/><rect x="41.3" y="21" width="3.5" height="3" fill="#000" fill-opacity="0.07"/><rect x="44.8" y="21" width="3.5" height="3" fill="#000" fill-opacity="0.20"/><rect x="48.2" y="21" width="3.5" height="3" fill="#fff" fill-opacity="0.08"/><rect x="51.7" y="21" width="3.5" height="3" fill="#fff" fill-opacity="0.16"/><rect x="0" y="24" width="3.5" height="3" fill="#fff" fill-opacity="0.08"/><rect x="3.4" y="24" width="3.5" height="3" fill="#000" fill-opacity="0.04"/><rect x="6.9" y="24" width="3.5" height="3" fill="#000" fill-opacity="0.14"/><rect x="10.3" y="24" width="3.5" height="3" fill="#000" fill-opacity="0.07"/><rect x="13.8" y="24" width="3.5" height="3" fill="#fff" fill-opacity="0.12"/><rect x="17.2" y="24" width="3.5" height="3" fill="#000" fill-opacity="0.01"/><rect x="20.7" y="24" width="3.5" height="3" fill="#000" fill-opacity="0.20"/><rect x="24.1" y="24" width="3.5" height="3" fill="#fff" fill-opacity="0.12"/><rect x="27.6" y="24" width="3.5" height="3" fill="#fff" fill-opacity="0.02"/><rect x="31" y="24" width="3.5" height="3" fill="#000" fill-opacity="0.04"/><rect x="34.5" y="24" width="3.5" height="3" fill="#000" fill-opacity="0.18"/><rect x="37.9" y="24" width="3.5" height="3" fill="#fff" fill-opacity="0.03"/><rect x="41.3" y="24" width="3.5" height="3" fill="#000" fill-opacity="0.06"/><rect x="44.8" y="24" width="3.5" height="3" fill="#000" fill-opacity="0.03"/><rect x="48.2" y="24" width="3.5" height="3" fill="#000" fill-opacity="0.14"/><rect x="51.7" y="24" width="3.5" height="3" fill="#fff" fill-opacity="0.19"/><rect x="0" y="27" width="3.5" height="3" fill="#fff" fill-opacity="0.10"/><rect x="3.4" y="27" width="3.5" height="3" fill="#fff" fill-opacity="0.02"/><rect x="6.9" y="27" width="3.5" height="3" fill="#fff" fill-opacity="0.06"/><rect x="10.3" y="27" width="3.5" height="3" fill="#000" fill-opacity="0.01"/><rect x="13.8" y="27" width="3.5" height="3" fill="#000" fill-opacity="0.06"/><rect x="17.2" y="27" width="3.5" height="3" fill="#000" fill-opacity="0.14"/><rect x="20.7" y="27" width="3.5" height="3" fill="#000" fill-opacity="0.13"/><rect x="24.1" y="27" width="3.5" height="3" fill="#000" fill-opacity="0.18"/><rect x="27.6" y="27" width="3.5" height="3" fill="#000" fill-opacity="0.11"/><rect x="31" y="27" width="3.5" height="3" fill="#000" fill-opacity="0.14"/><rect x="34.5" y="27" width="3.5" height="3" fill="#fff" fill-opacity="0.10"/><rect x="37.9" y="27" width="3.5" height="3" fill="#fff" fill-opacity="0.17"/><rect x="41.3" y="27" width="3.5" height="3" fill="#fff" fill-opacity="0.01"/><rect x="44.8" y="27" width="3.5" height="3" fill="#fff" fill-opacity="0.17"/><rect x="48.2" y="27" width="3.5" height="3" fill="#000" fill-opacity="0.08"/><rect x="51.7" y="27" width="3.5" height="3" fill="#fff" fill-opacity="0.17"/><rect x="0" y="30" width="3.5" height="3" fill="#fff" fill-opacity="0.08"/><rect x="3.4" y="30" width="3.5" height="3" fill="#000" fill-opacity="0.01"/><rect x="6.9" y="30" width="3.5" height="3" fill="#000" fill-opacity="0.00"/><rect x="10.3" y="30" width="3.5" height="3" fill="#fff" fill-opacity="0.03"/><rect x="13.8" y="30" width="3.5" height="3" fill="#000" fill-opacity="0.17"/><rect x="17.2" y="30" width="3.5" height="3" fill="#000" fill-opacity="0.05"/><rect x="20.7" y="30" width="3.5" height="3" fill="#000" fill-opacity="0.10"/><rect x="24.1" y="30" width="3.5" height="3" fill="#000" fill-opacity="0.04"/><rect x="27.6" y="30" width="3.5" height="3" fill="#000" fill-opacity="0.20"/><rect x="31" y="30" width="3.5" height="3" fill="#000" fill-opacity="0.18"/><rect x="34.5" y="30" width="3.5" height="3" fill="#000" fill-opacity="0.08"/><rect x="37.9" y="30" width="3.5" height="3" fill="#000" fill-opacity="0.17"/><rect x="41.3" y="30" width="3.5" height="3" fill="#000" fill-opacity="0.02"/><rect x="44.8" y="30" width="3.5" height="3" fill="#fff" fill-opacity="0.18"/><rect x="48.2" y="30" width="3.5" height="3" fill="#000" fill-opacity="0.13"/><rect x="51.7" y="30" width="3.5" height="3" fill="#fff" fill-opacity="0.12"/><rect x="0" y="33" width="3.5" height="3" fill="#fff" fill-opacity="0.13"/><rect x="3.4" y="33" width="3.5" height="3" fill="#000" fill-opacity="0.17"/><rect x="6.9" y="33" width="3.5" height="3" fill="#000" fill-opacity="0.06"/><rect x="10.3" y="33" width="3.5" height="3" fill="#fff" fill-opacity="0.13"/><rect x="13.8" y="33" width="3.5" height="3" fill="#000" fill-opacity="0.17"/><rect x="17.2" y="33" width="3.5" height="3" fill="#000" fill-opacity="0.18"/><rect x="20.7" y="33" width="3.5" height="3" fill="#000" fill-opacity="0.13"/><rect x="24.1" y="33" width="3.5" height="3" fill="#000" fill-opacity="0.12"/><rect x="27.6" y="33" width="3.5" height="3" fill="#fff" fill-opacity="0.20"/><rect x="31" y="33" width="3.5" height="3" fill="#000" fill-opacity="0.02"/><rect x="34.5" y="33" width="3.5" height="3" fill="#000" fill-opacity="0.10"/><rect x="37.9" y="33" width="3.5" height="3" fill="#fff" fill-opacity="0.12"/><rect x="41.3" y="33" width="3.5" height="3" fill="#fff" fill-opacity="0.04"/><rect x="44.8" y="33" width="3.5" height="3" fill="#000" fill-opacity="0.16"/><rect x="48.2" y="33" width="3.5" height="3" fill="#fff" fill-opacity="0.14"/><rect x="51.7" y="33" width="3.5" height="3" fill="#000" fill-opacity="0.20"/><rect x="0" y="36" width="3.5" height="3" fill="#fff" fill-opacity="0.10"/><rect x="3.4" y="36" width="3.5" height="3" fill="#000" fill-opacity="0.17"/><rect x="6.9" y="36" width="3.5" height="3" fill="#fff" fill-opacity="0.12"/><rect x="10.3" y="36" width="3.5" height="3" fill="#fff" fill-opacity="0.15"/><rect x="13.8" y="36" width="3.5" height="3" fill="#fff" fill-opacity="0.10"/><rect x="17.2" y="36" width="3.5" height="3" fill="#000" fill-opacity="0.07"/><rect x="20.7" y="36" width="3.5" height="3" fill="#000" fill-opacity="0.15"/><rect x="24.1" y="36" width="3.5" height="3" fill="#fff" fill-opacity="0.06"/><rect x="27.6" y="36" width="3.5" height="3" fill="#fff" fill-opacity="0.12"/><rect x="31" y="36" width="3.5" height="3" fill="#000" fill-opacity="0.08"/><rect x="34.5" y="36" width="3.5" height="3" fill="#000" fill-opacity="0.15"/><rect x="37.9" y="36" width="3.5" height="3" fill="#000" fill-opacity="0.06"/><rect x="41.3" y="36" width="3.5" height="3" fill="#000" fill-opacity="0.16"/><rect x="44.8" y="36" width="3.5" height="3" fill="#fff" fill-opacity="0.09"/><rect x="48.2" y="36" width="3.5" height="3" fill="#000" fill-opacity="0.00"/><rect x="51.7" y="36" width="3.5" height="3" fill="#fff" fill-opacity="0.19"/><rect x="0" y="39" width="3.5" height="3" fill="#fff" fill-opacity="0.15"/><rect x="3.4" y="39" width="3.5" height="3" fill="#000" fill-opacity="0.13"/><rect x="6.9" y="39" width="3.5" height="3" fill="#000" fill-opacity="0.06"/><rect x="10.3" y="39" width="3.5" height="3" fill="#000" fill-opacity="0.05"/><rect x="13.8" y="39" width="3.5" height="3" fill="#fff" fill-opacity="0.01"/><rect x="17.2" y="39" width="3.5" height="3" fill="#000" fill-opacity="0.06"/><rect x="20.7" y="39" width="3.5" height="3" fill="#000" fill-opacity="0.03"/><rect x="24.1" y="39" width="3.5" height="3" fill="#000" fill-opacity="0.02"/><rect x="27.6" y="39" width="3.5" height="3" fill="#fff" fill-opacity="0.03"/><rect x="31" y="39" width="3.5" height="3" fill="#000" fill-opacity="0.04"/><rect x="34.5" y="39" width="3.5" height="3" fill="#000" fill-opacity="0.13"/><rect x="37.9" y="39" width="3.5" height="3" fill="#fff" fill-opacity="0.10"/><rect x="41.3" y="39" width="3.5" height="3" fill="#fff" fill-opacity="0.07"/><rect x="44.8" y="39" width="3.5" height="3" fill="#fff" fill-opacity="0.20"/><rect x="48.2" y="39" width="3.5" height="3" fill="#000" fill-opacity="0.05"/><rect x="51.7" y="39" width="3.5" height="3" fill="#000" fill-opacity="0.02"/></pattern>
<rect x="1297.6" y="373.6" width="220.5" height="120" fill="url(#hg4)"/>
<rect x="1297.6" y="373.6" width="220.5" height="120" fill="url(#hg4p)"/>
<rect x="1297.6" y="373.6" width="220.5" height="120" fill="none" stroke="#000" stroke-width="1.6"/>
<text x="754.8" y="383" font-size="24.4" text-anchor="end">0</text>
<text x="754.8" y="438" font-size="24.4" text-anchor="end">80</text>
<text x="754.8" y="493" font-size="24.4" text-anchor="end">160</text>
<text x="699" y="425.6" font-size="25" text-anchor="middle" transform="rotate(-90 699 425.6)">Time (s)</text>
<rect x="782.3" y="369.5" width="36.7" height="113.7" fill="none" stroke="#000" stroke-width="2.6"/>
<line x1="819" y1="384.1" x2="834.2" y2="384.1" stroke="#000" stroke-width="2.6"/>
<polygon points="844.2,384.1 831.2,391.1 831.2,377.1" fill="#000"/>
<line x1="819" y1="411.5" x2="853.5" y2="411.5" stroke="#000" stroke-width="2.6"/>
<polygon points="863.5,411.5 850.5,418.5 850.5,404.5" fill="#000"/>
<line x1="819" y1="440.1" x2="889.7" y2="440.1" stroke="#000" stroke-width="2.6"/>
<polygon points="899.7,440.1 886.7,447.1 886.7,433.1" fill="#000"/>
<text x="851.7" y="467" font-size="27" font-family="'Liberation Serif', serif" font-style="italic">δr</text>
<text x="987.4" y="484.3" font-size="24.8" text-anchor="end" font-weight="bold" fill="#fff">CH1</text>
<text x="1246.4" y="485.5" font-size="24.8" text-anchor="end" font-weight="bold" fill="#fff">CH2</text>
<text x="1509.3" y="486.8" font-size="24.8" text-anchor="end" font-weight="bold" fill="#fff">CC</text>
<text x="678" y="536.7" font-size="42" font-weight="bold">g</text>
<text x="725.2" y="623.4" font-size="25" text-anchor="middle" transform="rotate(-90 725.2 623.4)"><tspan font-style="italic">G</tspan> (<tspan font-family="'Liberation Serif', serif" font-style="italic">τ</tspan>,<tspan font-family="'Liberation Serif', serif" font-style="italic">δr</tspan>)</text>
<clipPath id="gc1"><rect x="768.8" y="547.2" width="228.6" height="155.5"/></clipPath>
<g clip-path="url(#gc1)">
<polyline points="768.8,550.7 770.3,551.7 771.8,551.7 773.3,551.3 774.8,551.9 776.3,552.1 777.8,552.6 779.3,553 780.8,552.5 782.3,552.7 783.8,554 785.3,553.8 786.8,554.5 788.3,553.9 789.8,554.7 791.3,555.3 792.8,555.1 794.3,556.3 795.8,556.7 797.3,556.1 798.8,556.7 800.3,557.8 801.8,558.8 803.3,558.6 804.8,559 806.3,559.9 807.8,560.1 809.3,561 810.8,561.9 812.3,562.7 813.8,563.1 815.3,563.8 816.8,564.5 818.3,565.5 819.8,566.1 821.3,566.5 822.8,568.3 824.3,568.8 825.8,569.7 827.3,570 828.8,571.9 830.3,572.7 831.8,572.8 833.3,574.1 834.8,575.7 836.3,576.9 837.8,578.4 839.3,579.1 840.8,580.9 842.3,582.1 843.8,583.1 845.3,584.8 846.8,586.5 848.3,587.8 849.8,588.8 851.3,590.1 852.8,591.1 854.3,592.9 855.8,595.2 857.3,596.3 858.8,597.6 860.3,599.5 861.8,601.1 863.3,602.5 864.8,603.8 866.3,606 867.8,607.9 869.3,610.5 870.8,612.6 872.3,614.2 873.8,616.2 875.3,617.6 876.8,619.8 878.3,622.8 879.8,625.5 881.3,627.5 882.8,629.7 884.3,632 885.8,635.1 887.3,638.4 888.8,641.1 890.3,643.7 891.8,647.1 893.3,649.2 894.8,652.5 896.3,655.9 897.8,659.1 899.3,662.6 900.8,666 902.3,669.9 903.8,673.7 905.3,675.6 906.8,679.1 908.3,681.4 909.8,683.3 911.3,684.7 912.8,686.2 914.3,687 915.8,688.1 917.3,688.9 918.8,689.3 920.3,690.9 921.8,691 923.3,690.9 924.8,691.4 926.3,691.4 927.8,691.2 929.3,691 930.8,690.8 932.3,690.4 933.8,689.8 935.3,689 936.8,687.9 938.3,687.7 939.8,687.2 941.3,687.6 942.8,687.9 944.3,687.8 945.8,687.8 947.3,687.8 948.8,687.2 950.3,687.9 951.8,687.8 953.3,687.2 954.8,687.2 956.3,687.2 957.8,688.2 959.3,687.7 960.8,687.6 962.3,688.3 963.8,688.1 965.3,687.8 966.8,688 968.3,688.5 969.8,688.2 971.3,688.3 972.8,688.9 974.3,688.6 975.8,688.4 977.3,688.6 978.8,688 980.3,688.4 981.8,688.4 983.3,688 984.8,687.7 986.3,688.5 987.8,687.9 989.3,687.3 990.8,686.4 992.3,683.2 993.8,677.9 995.3,673.6 996.8,670.4" fill="none" stroke="#000" stroke-width="4.5" stroke-linejoin="round"/>
<polyline points="768.8,629.5 770.3,629.6 771.8,628.5 773.3,628.5 774.8,629.4 776.3,629.3 777.8,629.2 779.3,628.8 780.8,629.1 782.3,629.1 783.8,629.1 785.3,628.6 786.8,628.9 788.3,628.9 789.8,629.3 791.3,629.6 792.8,629.6 794.3,629.2 795.8,629.1 797.3,629 798.8,628.8 800.3,628.9 801.8,629.5 803.3,629.5 804.8,629.7 806.3,630.5 807.8,630.2 809.3,630.4 810.8,630.2 812.3,630.1 813.8,630.7 815.3,630.7 816.8,631.3 818.3,632.1 819.8,632 821.3,631.6 822.8,632.7 824.3,632.9 825.8,633.1 827.3,633.5 828.8,633.6 830.3,634 831.8,633.7 833.3,634.8 834.8,635 836.3,634.4 837.8,635.4 839.3,635.7 840.8,635.7 842.3,636.1 843.8,636.4 845.3,637.4 846.8,637.4 848.3,638.3 849.8,638.3 851.3,639.5 852.8,640.1 854.3,640.2 855.8,640.9 857.3,641.9 858.8,642.3 860.3,642.6 861.8,643 863.3,643.7 864.8,644.8 866.3,644.8 867.8,646.4 869.3,646.3 870.8,648.1 872.3,648.5 873.8,650.4 875.3,651.3 876.8,652.3 878.3,653.6 879.8,655 881.3,656.2 882.8,657.2 884.3,658.5 885.8,660.3 887.3,663.1 888.8,665 890.3,666.8 891.8,670.1 893.3,672.3 894.8,674.7 896.3,675.8 897.8,678.7 899.3,679.9 900.8,682.3 902.3,683.3 903.8,684.5 905.3,686.1 906.8,685.6 908.3,686.4 909.8,686.9 911.3,686.3 912.8,686.4 914.3,687.2 915.8,686.7 917.3,687 918.8,686.2 920.3,686.7 921.8,686.5 923.3,687.1 924.8,686.4 926.3,687.5 927.8,686.4 929.3,687.2 930.8,686.4 932.3,686.7 933.8,687.4 935.3,686.6 936.8,686.7 938.3,687.3 939.8,686.9 941.3,686.5 942.8,687.7 944.3,686.7 945.8,686.6 947.3,687 948.8,687.3 950.3,687.5 951.8,686.7 953.3,687 954.8,686.7 956.3,687.2 957.8,687.6 959.3,687.5 960.8,687.8 962.3,687.6 963.8,687.7 965.3,687.6 966.8,687.3 968.3,687 969.8,687.5 971.3,687.1 972.8,686.9 974.3,687.3 975.8,687.8 977.3,686.9 978.8,687.5 980.3,687.3 981.8,687.4 983.3,687 984.8,688 986.3,687.2 987.8,687.6 989.3,687.4 990.8,686.9 992.3,687.5 993.8,687.1 995.3,687 996.8,686.9" fill="none" stroke="#2e9a2e" stroke-width="4.5" stroke-linejoin="round"/>
<polyline points="768.8,674.8 770.3,675.2 771.8,675.1 773.3,675.4 774.8,675.5 776.3,674.9 777.8,674.9 779.3,676 780.8,675.4 782.3,675.5 783.8,676.5 785.3,676 786.8,676.5 788.3,676.2 789.8,676.5 791.3,676.1 792.8,676.8 794.3,677.2 795.8,676.9 797.3,677.2 798.8,677.3 800.3,676.7 801.8,677.6 803.3,677.5 804.8,677.3 806.3,677.1 807.8,678.2 809.3,677.8 810.8,678.2 812.3,678.5 813.8,678.4 815.3,678.7 816.8,678.2 818.3,678.7 819.8,678.3 821.3,678.9 822.8,678.9 824.3,678 825.8,678.1 827.3,678.2 828.8,679.2 830.3,678.6 831.8,678.8 833.3,678.5 834.8,678.7 836.3,678.6 837.8,678.6 839.3,678.9 840.8,678.9 842.3,679.3 843.8,679.1 845.3,679.4 846.8,679.3 848.3,679.5 849.8,679.1 851.3,678.5 852.8,679.4 854.3,679.5 855.8,679.5 857.3,679.1 858.8,679.3 860.3,678.7 861.8,679.5 863.3,679.2 864.8,678.8 866.3,678.6 867.8,679.6 869.3,679.8 870.8,678.7 872.3,679.6 873.8,679.2 875.3,678.9 876.8,679.1 878.3,679.8 879.8,679.9 881.3,679 882.8,679.7 884.3,679.4 885.8,680.6 887.3,680.5 888.8,681.7 890.3,682.3 891.8,682.2 893.3,683.3 894.8,682.9 896.3,683.1 897.8,684.5 899.3,684.5 900.8,685.3 902.3,686.1 903.8,686.8 905.3,686.3 906.8,686.2 908.3,687.2 909.8,686.6 911.3,687.4 912.8,687.4 914.3,686.8 915.8,686.9 917.3,687 918.8,687.1 920.3,687.1 921.8,687.1 923.3,687.2 924.8,687.6 926.3,687.1 927.8,687 929.3,687.4 930.8,686.8 932.3,686.9 933.8,687.7 935.3,687.2 936.8,687.2 938.3,686.6 939.8,687.1 941.3,687.3 942.8,686.7 944.3,687.4 945.8,687.4 947.3,686.7 948.8,687.4 950.3,687.3 951.8,687.5 953.3,687.1 954.8,687.6 956.3,687.6 957.8,686.8 959.3,686.8 960.8,687.6 962.3,687.9 963.8,687.1 965.3,687.3 966.8,687.5 968.3,687.2 969.8,687.2 971.3,687.2 972.8,687.3 974.3,687.5 975.8,687.2 977.3,687.3 978.8,687.8 980.3,686.9 981.8,687.5 983.3,687.7 984.8,687.2 986.3,687.1 987.8,687.8 989.3,687.2 990.8,687.1 992.3,687.4 993.8,687.7 995.3,687 996.8,687.3" fill="none" stroke="#6acb6a" stroke-width="4.5" stroke-linejoin="round"/>
<polyline points="768.8,690.6 770.3,690.5 771.8,691.1 773.3,691 774.8,691.1 776.3,691.7 777.8,692.6 779.3,692.7 780.8,692.9 782.3,692.5 783.8,693.1 785.3,693.1 786.8,693.2 788.3,693.3 789.8,693.6 791.3,694.5 792.8,694.4 794.3,694.4 795.8,694.4 797.3,693.7 798.8,693.9 800.3,694.3 801.8,694.4 803.3,694.6 804.8,694.6 806.3,693.7 807.8,694.3 809.3,694.4 810.8,694.3 812.3,693.9 813.8,694.2 815.3,693.8 816.8,694.8 818.3,694.8 819.8,694.4 821.3,694.1 822.8,694.8 824.3,694.4 825.8,694.8 827.3,694.8 828.8,694.4 830.3,694.3 831.8,694.5 833.3,694.3 834.8,694 836.3,694.2 837.8,694.8 839.3,693.9 840.8,693.9 842.3,694.6 843.8,694.2 845.3,694.5 846.8,694.4 848.3,694.2 849.8,695 851.3,694.1 852.8,694.3 854.3,694.1 855.8,694.6 857.3,694.2 858.8,694.2 860.3,694.7 861.8,694.2 863.3,694.5 864.8,694.9 866.3,693.9 867.8,693.8 869.3,694 870.8,694.7 872.3,694.5 873.8,694 875.3,694.1 876.8,693.9 878.3,694.2 879.8,693.7 881.3,694.5 882.8,694.7 884.3,694.7 885.8,694.4 887.3,694.7 888.8,693.5 890.3,693.8 891.8,694.6 893.3,694.4 894.8,693.9 896.3,694.5 897.8,693.8 899.3,693.7 900.8,692.6 902.3,692 903.8,691.8 905.3,690.9 906.8,690.7 908.3,690.9 909.8,689.6 911.3,688.5 912.8,687.9 914.3,687.4 915.8,687.5 917.3,686.5 918.8,686.1 920.3,685.5 921.8,686.3 923.3,685.2 924.8,684.6 926.3,684.1 927.8,683.8 929.3,683.7 930.8,684 932.3,683.2 933.8,683 935.3,683.5 936.8,683.3 938.3,684.5 939.8,683.8 941.3,684.8 942.8,685.6 944.3,685.7 945.8,686.8 947.3,686.5 948.8,686.4 950.3,686.6 951.8,686.2 953.3,686.7 954.8,686.5 956.3,687.3 957.8,687.2 959.3,686.8 960.8,686.2 962.3,686.5 963.8,686.4 965.3,686.4 966.8,686.4 968.3,687.1 969.8,686.2 971.3,686.1 972.8,687.1 974.3,686.6 975.8,687.1 977.3,686.3 978.8,686.9 980.3,686.5 981.8,686.7 983.3,686.6 984.8,686.2 986.3,685.7 987.8,685.8 989.3,686.6 990.8,686.6 992.3,686.6 993.8,685.8 995.3,686.2 996.8,686.4" fill="none" stroke="#aad9a2" stroke-width="4.5" stroke-linejoin="round"/>
</g>
<line x1="768.8" y1="687.5" x2="997.4" y2="687.5" stroke="#000" stroke-width="2.6"/>
<rect x="768.8" y="547.2" width="228.6" height="155.5" fill="none" stroke="#000" stroke-width="2.6"/>
<line x1="768.8" y1="669.9" x2="774.8" y2="669.9" stroke="#000" stroke-width="2"/>
<line x1="768.8" y1="652.3" x2="774.8" y2="652.3" stroke="#000" stroke-width="2"/>
<line x1="768.8" y1="634.7" x2="774.8" y2="634.7" stroke="#000" stroke-width="2"/>
<line x1="768.8" y1="617.1" x2="774.8" y2="617.1" stroke="#000" stroke-width="2"/>
<line x1="768.8" y1="599.5" x2="774.8" y2="599.5" stroke="#000" stroke-width="2"/>
<line x1="768.8" y1="581.9" x2="774.8" y2="581.9" stroke="#000" stroke-width="2"/>
<line x1="768.8" y1="564.3" x2="774.8" y2="564.3" stroke="#000" stroke-width="2"/>
<line x1="826.5" y1="702.7" x2="826.5" y2="696.7" stroke="#000" stroke-width="2"/>
<line x1="882.9" y1="702.7" x2="882.9" y2="696.7" stroke="#000" stroke-width="2"/>
<line x1="940.5" y1="702.7" x2="940.5" y2="696.7" stroke="#000" stroke-width="2"/>
<text x="754.3" y="566" font-size="24.4" text-anchor="middle">8</text>
<text x="754.3" y="625" font-size="24.4" text-anchor="middle">4</text>
<text x="754.3" y="694" font-size="24.4" text-anchor="middle">0</text>
<text x="781.9" y="732.3" font-size="24.4" text-anchor="middle">0.01</text>
<text x="874.5" y="732.3" font-size="24.4" text-anchor="middle">1</text>
<text x="985.1" y="732.3" font-size="24.4" text-anchor="middle">100</text>
<text x="883.2" y="764.4" font-size="25" text-anchor="middle">Log time (s)</text>
<text x="990" y="569.2" font-size="24.8" text-anchor="end" font-weight="bold">pCF0</text>
<text x="990" y="595.6" font-size="24.8" text-anchor="end" font-weight="bold" fill="#0f6e38">pCF4</text>
<text x="990" y="622.2" font-size="24.8" text-anchor="end" font-weight="bold" fill="#0ca03e">pCF7</text>
<text x="990" y="649" font-size="24.8" text-anchor="end" font-weight="bold" fill="#8ab400">pCF12</text>
<text x="765.6" y="535.3" font-size="24.4">10<tspan font-size="16.5" dy="-11.5">−4</tspan></text>
<clipPath id="gc2"><rect x="1031" y="545.2" width="227.5" height="159.5"/></clipPath>
<g clip-path="url(#gc2)">
<polyline points="1031,615.9 1032.5,616.8 1034,617.9 1035.5,619.3 1037,620.3 1038.5,621.7 1040,621.7 1041.5,622.9 1043,624 1044.5,624.2 1046,624.9 1047.5,624.4 1049,625.3 1050.5,625.4 1052,626.2 1053.5,626.6 1055,626.3 1056.5,626.9 1058,627.4 1059.5,628.5 1061,628.6 1062.5,628.2 1064,629.3 1065.5,628.7 1067,629.4 1068.5,628.9 1070,628.7 1071.5,629.7 1073,628.7 1074.5,628.6 1076,629.3 1077.5,629.1 1079,628.4 1080.5,629.2 1082,628.9 1083.5,629.3 1085,629.1 1086.5,630.3 1088,630.4 1089.5,631.2 1091,631.5 1092.5,631.3 1094,631.8 1095.5,631.9 1097,632.3 1098.5,632.6 1100,633.3 1101.5,634.1 1103,633.9 1104.5,635.1 1106,635.2 1107.5,635.7 1109,636.8 1110.5,637 1112,637.3 1113.5,638.1 1115,638.9 1116.5,638.7 1118,640.5 1119.5,640 1121,641.6 1122.5,642.5 1124,642.3 1125.5,644 1127,644.4 1128.5,645.5 1130,645.8 1131.5,646.8 1133,648 1134.5,649.9 1136,650.3 1137.5,652.4 1139,654.1 1140.5,655.6 1142,656.4 1143.5,658 1145,659.8 1146.5,661.7 1148,662.6 1149.5,665.1 1151,667 1152.5,668.8 1154,669.5 1155.5,672.2 1157,673 1158.5,675.2 1160,677.4 1161.5,679.5 1163,680.4 1164.5,682.6 1166,683.7 1167.5,684.6 1169,685.8 1170.5,686.7 1172,687.7 1173.5,688.8 1175,690.5 1176.5,691.8 1178,691.5 1179.5,691.8 1181,693.2 1182.5,692.8 1184,692.6 1185.5,692.3 1187,692.6 1188.5,692.6 1190,691.8 1191.5,691.3 1193,690.4 1194.5,691 1196,689.5 1197.5,689.7 1199,689.8 1200.5,688.6 1202,689 1203.5,688.9 1205,688.2 1206.5,688.1 1208,687 1209.5,687.2 1211,686.7 1212.5,687.5 1214,686.8 1215.5,687 1217,687.6 1218.5,687.4 1220,687.5 1221.5,686.8 1223,686.9 1224.5,687.1 1226,686.8 1227.5,686.6 1229,686.7 1230.5,686.3 1232,686.6 1233.5,687.3 1235,687.3 1236.5,686.9 1238,686.7 1239.5,686.5 1241,686.2 1242.5,686.4 1244,687 1245.5,687.1 1247,686.5 1248.5,687 1250,687 1251.5,686.9 1253,686.8 1254.5,686.9 1256,686.5 1257.5,686.9" fill="none" stroke="#000" stroke-width="4.5" stroke-linejoin="round"/>
<polyline points="1031,659.8 1032.5,659.6 1034,658.8 1035.5,658.2 1037,657.5 1038.5,658 1040,657.6 1041.5,657.9 1043,657.5 1044.5,658.1 1046,657.6 1047.5,658.4 1049,658.5 1050.5,658.3 1052,658.7 1053.5,659.1 1055,658.7 1056.5,659.3 1058,659.9 1059.5,659.5 1061,660.4 1062.5,660.5 1064,661 1065.5,660.6 1067,660.5 1068.5,661.4 1070,661.5 1071.5,661.1 1073,660.7 1074.5,660.8 1076,661.4 1077.5,661 1079,661.8 1080.5,661.4 1082,660.9 1083.5,661.5 1085,661.1 1086.5,661.8 1088,661.8 1089.5,661.4 1091,661.6 1092.5,661.7 1094,661.9 1095.5,662.3 1097,661.3 1098.5,661.8 1100,662.3 1101.5,662.1 1103,662.7 1104.5,662.3 1106,663.4 1107.5,663.3 1109,663 1110.5,664 1112,663.8 1113.5,664 1115,664.8 1116.5,664.8 1118,665.3 1119.5,666.6 1121,666.9 1122.5,666.6 1124,668.1 1125.5,667.7 1127,668.6 1128.5,669.9 1130,670.2 1131.5,670.5 1133,671.3 1134.5,672.1 1136,672.5 1137.5,674.3 1139,674 1140.5,675.2 1142,676.3 1143.5,676.7 1145,678.1 1146.5,678.1 1148,679.7 1149.5,680.4 1151,680.9 1152.5,681.9 1154,682.1 1155.5,683.2 1157,683.9 1158.5,684.2 1160,684.9 1161.5,685.8 1163,686 1164.5,686.1 1166,687.3 1167.5,686.9 1169,687.2 1170.5,687.6 1172,686.9 1173.5,686.8 1175,686.9 1176.5,687.5 1178,687.2 1179.5,687.1 1181,687.4 1182.5,688 1184,687.2 1185.5,687.4 1187,688 1188.5,687.7 1190,687.3 1191.5,687.5 1193,687.5 1194.5,687.1 1196,687.4 1197.5,687.4 1199,688 1200.5,687.4 1202,687.8 1203.5,688.2 1205,688.1 1206.5,687.5 1208,687.7 1209.5,687.4 1211,687.5 1212.5,687.6 1214,688 1215.5,688.1 1217,687.3 1218.5,687 1220,687.5 1221.5,687.1 1223,687 1224.5,687.9 1226,687.1 1227.5,687.8 1229,687.4 1230.5,688.1 1232,688 1233.5,687 1235,687.2 1236.5,688.1 1238,687.7 1239.5,687.4 1241,687.9 1242.5,687.9 1244,687.5 1245.5,687.5 1247,687 1248.5,687.3 1250,687.1 1251.5,687.6 1253,687.6 1254.5,687.1 1256,687.7 1257.5,687" fill="none" stroke="#a80000" stroke-width="4.5" stroke-linejoin="round"/>
<polyline points="1031,675.4 1032.5,675.3 1034,676 1035.5,675.4 1037,676.1 1038.5,676.1 1040,675.9 1041.5,676.6 1043,676.2 1044.5,676.9 1046,676.6 1047.5,676.8 1049,677.3 1050.5,678 1052,677.2 1053.5,677.4 1055,678 1056.5,678.5 1058,678 1059.5,677.8 1061,678.5 1062.5,677.4 1064,678.4 1065.5,677.6 1067,677.4 1068.5,677.4 1070,677.6 1071.5,678.2 1073,677.4 1074.5,677.9 1076,678 1077.5,677.6 1079,677.8 1080.5,677.2 1082,677.2 1083.5,677.4 1085,677.9 1086.5,677.6 1088,677.5 1089.5,677.8 1091,677.7 1092.5,677.5 1094,678.1 1095.5,678.1 1097,677.6 1098.5,678 1100,678 1101.5,678.5 1103,678.4 1104.5,677.9 1106,678.8 1107.5,677.8 1109,678.2 1110.5,678.7 1112,678.1 1113.5,678.6 1115,678.1 1116.5,679 1118,679.2 1119.5,679.1 1121,679.5 1122.5,679 1124,679.6 1125.5,679.6 1127,679.8 1128.5,679.8 1130,680.4 1131.5,680.8 1133,680.4 1134.5,680.8 1136,680.3 1137.5,681.3 1139,681.4 1140.5,682.1 1142,682.1 1143.5,681.7 1145,682.1 1146.5,682.8 1148,682.3 1149.5,683.2 1151,683.2 1152.5,683.5 1154,683.8 1155.5,684.9 1157,684.5 1158.5,684.9 1160,685.4 1161.5,686.2 1163,685.8 1164.5,686.7 1166,687.2 1167.5,687.9 1169,688 1170.5,688.1 1172,687.5 1173.5,687.6 1175,687.6 1176.5,688.2 1178,688.3 1179.5,687.3 1181,687.4 1182.5,687.5 1184,687.5 1185.5,687.8 1187,687.9 1188.5,687.5 1190,687.2 1191.5,687.7 1193,687.6 1194.5,687.9 1196,688.3 1197.5,688 1199,687.8 1200.5,687.9 1202,688 1203.5,687.2 1205,688.2 1206.5,688.1 1208,688.2 1209.5,688.1 1211,687.6 1212.5,687.6 1214,687.2 1215.5,687.9 1217,687.2 1218.5,687.2 1220,687.3 1221.5,687.3 1223,687.5 1224.5,687.1 1226,687 1227.5,687.2 1229,687.2 1230.5,687.5 1232,687 1233.5,688.1 1235,687.7 1236.5,687.2 1238,687.3 1239.5,687.4 1241,687.4 1242.5,687.1 1244,688 1245.5,688.1 1247,687.5 1248.5,687.5 1250,687 1251.5,687 1253,687.3 1254.5,687.2 1256,687.9 1257.5,687.1" fill="none" stroke="#f00000" stroke-width="4.5" stroke-linejoin="round"/>
<polyline points="1031,688.2 1032.5,689.1 1034,688.1 1035.5,688.8 1037,688 1038.5,688.2 1040,689.2 1041.5,688.2 1043,688.7 1044.5,688.5 1046,688.5 1047.5,688.6 1049,688.3 1050.5,689 1052,688.2 1053.5,688.4 1055,688.1 1056.5,688.4 1058,688.6 1059.5,689.2 1061,688.6 1062.5,688.3 1064,688.5 1065.5,689.4 1067,688.3 1068.5,689 1070,688.7 1071.5,689.1 1073,688.7 1074.5,689.1 1076,688.9 1077.5,689.1 1079,689.4 1080.5,689.1 1082,688.5 1083.5,688.5 1085,689.5 1086.5,689 1088,688.6 1089.5,689.5 1091,689.1 1092.5,689.3 1094,689.5 1095.5,688.8 1097,688.8 1098.5,689.5 1100,688.6 1101.5,689.3 1103,688.5 1104.5,689.2 1106,689.2 1107.5,689.5 1109,689.4 1110.5,689 1112,688.6 1113.5,688.5 1115,689 1116.5,688.9 1118,688.4 1119.5,689.4 1121,688.9 1122.5,689.1 1124,688.5 1125.5,688.5 1127,688.2 1128.5,688.6 1130,688.5 1131.5,688.7 1133,688.6 1134.5,689.1 1136,689.2 1137.5,688.3 1139,688.5 1140.5,688.3 1142,688.8 1143.5,689.2 1145,688.2 1146.5,688.9 1148,688.3 1149.5,688 1151,688.8 1152.5,688.3 1154,688.1 1155.5,688.4 1157,688.1 1158.5,688.3 1160,688.3 1161.5,688.3 1163,688.5 1164.5,688.1 1166,687.8 1167.5,687.8 1169,687.8 1170.5,688.3 1172,688.1 1173.5,688.6 1175,688.2 1176.5,688.4 1178,688.8 1179.5,687.6 1181,687.6 1182.5,687.7 1184,688 1185.5,688.2 1187,688.4 1188.5,687.9 1190,688.6 1191.5,687.5 1193,688.4 1194.5,687.7 1196,688.5 1197.5,687.5 1199,688.6 1200.5,688.3 1202,688.6 1203.5,688.1 1205,687.6 1206.5,688.5 1208,687.9 1209.5,687.4 1211,688.1 1212.5,687.9 1214,687.9 1215.5,687.5 1217,687.5 1218.5,688 1220,687.9 1221.5,687.5 1223,687.9 1224.5,688.2 1226,688.2 1227.5,687.9 1229,687.8 1230.5,687.8 1232,687.6 1233.5,687.6 1235,687.9 1236.5,687.5 1238,688.2 1239.5,688.2 1241,688.1 1242.5,687.4 1244,687.8 1245.5,687.9 1247,687.5 1248.5,688.5 1250,688.3 1251.5,688 1253,688.2 1254.5,687.6 1256,687.7 1257.5,688" fill="none" stroke="#f7aaaa" stroke-width="4.5" stroke-linejoin="round"/>
</g>
<line x1="1031" y1="687.7" x2="1258.5" y2="687.7" stroke="#000" stroke-width="2.6"/>
<rect x="1031" y="545.2" width="227.5" height="159.5" fill="none" stroke="#000" stroke-width="2.6"/>
<line x1="1031" y1="670.1" x2="1037" y2="670.1" stroke="#000" stroke-width="2"/>
<line x1="1031" y1="652.5" x2="1037" y2="652.5" stroke="#000" stroke-width="2"/>
<line x1="1031" y1="634.9" x2="1037" y2="634.9" stroke="#000" stroke-width="2"/>
<line x1="1031" y1="617.3" x2="1037" y2="617.3" stroke="#000" stroke-width="2"/>
<line x1="1031" y1="599.7" x2="1037" y2="599.7" stroke="#000" stroke-width="2"/>
<line x1="1031" y1="582.1" x2="1037" y2="582.1" stroke="#000" stroke-width="2"/>
<line x1="1031" y1="564.5" x2="1037" y2="564.5" stroke="#000" stroke-width="2"/>
<line x1="1087.5" y1="704.7" x2="1087.5" y2="698.7" stroke="#000" stroke-width="2"/>
<line x1="1144.9" y1="704.7" x2="1144.9" y2="698.7" stroke="#000" stroke-width="2"/>
<line x1="1200.6" y1="704.7" x2="1200.6" y2="698.7" stroke="#000" stroke-width="2"/>
<text x="1017.5" y="566" font-size="24.4" text-anchor="middle">8</text>
<text x="1017.5" y="625" font-size="24.4" text-anchor="middle">4</text>
<text x="1017.5" y="694" font-size="24.4" text-anchor="middle">0</text>
<text x="1045.8" y="732.3" font-size="24.4" text-anchor="middle">0.01</text>
<text x="1137.9" y="732.3" font-size="24.4" text-anchor="middle">1</text>
<text x="1247.8" y="732.3" font-size="24.4" text-anchor="middle">100</text>
<text x="1144" y="764.4" font-size="25" text-anchor="middle">Log time (s)</text>
<text x="1255.5" y="569.2" font-size="24.8" text-anchor="end" font-weight="bold">pCF0</text>
<text x="1255.5" y="595.6" font-size="24.8" text-anchor="end" font-weight="bold" fill="#8c0000">pCF4</text>
<text x="1255.5" y="622.2" font-size="24.8" text-anchor="end" font-weight="bold" fill="#ff0000">pCF7</text>
<text x="1255.5" y="649" font-size="24.8" text-anchor="end" font-weight="bold" fill="#ff8ca0">pCF12</text>
<text x="1026.3" y="535.3" font-size="24.4">10<tspan font-size="16.5" dy="-11.5">−4</tspan></text>
<clipPath id="gc3"><rect x="1289.5" y="544.4" width="228.9" height="158.1"/></clipPath>
<g clip-path="url(#gc3)">
<polyline points="1289.5,691.2 1291,691.1 1292.5,690.9 1294,691.9 1295.5,691 1297,691.7 1298.5,692.3 1300,691.5 1301.5,692.2 1303,692.4 1304.5,691.8 1306,692.3 1307.5,692.8 1309,692.5 1310.5,692.9 1312,692.2 1313.5,692.3 1315,692.1 1316.5,692.6 1318,693.1 1319.5,692.7 1321,692.9 1322.5,692.4 1324,692.8 1325.5,692 1327,692.2 1328.5,692.6 1330,692.7 1331.5,692.3 1333,691.8 1334.5,692 1336,691.9 1337.5,691.9 1339,692.5 1340.5,691.8 1342,692.5 1343.5,692.5 1345,691.4 1346.5,691.8 1348,691.9 1349.5,691.2 1351,691.7 1352.5,692.2 1354,691.2 1355.5,691.8 1357,691.2 1358.5,691.7 1360,692 1361.5,691.2 1363,690.9 1364.5,690.9 1366,691.4 1367.5,690.8 1369,690.8 1370.5,691.3 1372,691.7 1373.5,691.1 1375,691 1376.5,691.2 1378,690.5 1379.5,691.1 1381,690.5 1382.5,691 1384,691.4 1385.5,690.2 1387,690.8 1388.5,690.8 1390,690.2 1391.5,690.2 1393,691 1394.5,691 1396,689.9 1397.5,690.5 1399,690.7 1400.5,689.8 1402,690.1 1403.5,689.4 1405,689.7 1406.5,690 1408,689.8 1409.5,689.9 1411,688.9 1412.5,689.1 1414,689.7 1415.5,689.2 1417,688.9 1418.5,688.7 1420,689.3 1421.5,688.7 1423,687.9 1424.5,688.7 1426,688 1427.5,688 1429,687.6 1430.5,687.7 1432,687.4 1433.5,687 1435,687.5 1436.5,686.8 1438,687.4 1439.5,686.4 1441,687.2 1442.5,687.1 1444,686.6 1445.5,686.8 1447,686.1 1448.5,686.6 1450,686.1 1451.5,685.8 1453,686.6 1454.5,685.8 1456,685.7 1457.5,686.2 1459,685.6 1460.5,685.9 1462,685.3 1463.5,686.1 1465,685.3 1466.5,685 1468,686.1 1469.5,685.1 1471,686.1 1472.5,686.1 1474,685.6 1475.5,684.9 1477,685 1478.5,685.1 1480,685.4 1481.5,685.6 1483,686.1 1484.5,685.3 1486,685.1 1487.5,685.6 1489,685.1 1490.5,685.1 1492,685.6 1493.5,685.8 1495,685.1 1496.5,685.6 1498,685.9 1499.5,686 1501,685.5 1502.5,686.2 1504,685.3 1505.5,686 1507,686.1 1508.5,686.2 1510,685.8 1511.5,685.3 1513,685.2 1514.5,685.8 1516,685.4 1517.5,686" fill="none" stroke="#f2f000" stroke-width="4.5" stroke-linejoin="round"/>
<polyline points="1289.5,624 1291,623.9 1292.5,624.1 1294,623.7 1295.5,624.5 1297,624.6 1298.5,624.5 1300,623.9 1301.5,624.5 1303,624.4 1304.5,624.4 1306,625.4 1307.5,625.6 1309,624.6 1310.5,625.8 1312,625.8 1313.5,625.9 1315,626.2 1316.5,627 1318,627.2 1319.5,627.9 1321,628.3 1322.5,628.1 1324,629.1 1325.5,629.6 1327,629.7 1328.5,629.5 1330,629 1331.5,629.1 1333,629.4 1334.5,630.5 1336,629.9 1337.5,630.2 1339,631 1340.5,630.5 1342,630.9 1343.5,631 1345,630.7 1346.5,631.6 1348,632.1 1349.5,631.5 1351,631.8 1352.5,632.3 1354,632.1 1355.5,632.9 1357,633.6 1358.5,633.7 1360,633.9 1361.5,634.6 1363,634 1364.5,634.9 1366,634.9 1367.5,635.5 1369,635.3 1370.5,636.4 1372,635.9 1373.5,636.3 1375,637.4 1376.5,637.8 1378,637.7 1379.5,638.2 1381,638.6 1382.5,639.2 1384,640.1 1385.5,640.1 1387,640.7 1388.5,641.7 1390,642.1 1391.5,643.4 1393,644.3 1394.5,645.1 1396,645.5 1397.5,646.2 1399,647.2 1400.5,647.7 1402,649.5 1403.5,650.2 1405,651.6 1406.5,653.1 1408,655.3 1409.5,657.4 1411,659.2 1412.5,661.8 1414,663.5 1415.5,665.2 1417,668.2 1418.5,671.4 1420,673.6 1421.5,676.1 1423,677.5 1424.5,679.8 1426,681.4 1427.5,682.6 1429,683.8 1430.5,684.9 1432,685.6 1433.5,685.8 1435,685.3 1436.5,685.7 1438,686.4 1439.5,685.7 1441,685.3 1442.5,685.3 1444,685.9 1445.5,685.4 1447,685.5 1448.5,685.5 1450,685.9 1451.5,686.6 1453,686 1454.5,686 1456,686 1457.5,686.1 1459,686.1 1460.5,686.4 1462,686.7 1463.5,686.4 1465,686.1 1466.5,686.4 1468,686.8 1469.5,685.9 1471,686 1472.5,686.5 1474,686.6 1475.5,686.6 1477,686.6 1478.5,686.9 1480,686.5 1481.5,686.9 1483,687.1 1484.5,686.5 1486,687 1487.5,686.9 1489,687.1 1490.5,686.1 1492,687.2 1493.5,687 1495,687.3 1496.5,687.3 1498,686.5 1499.5,687 1501,686.4 1502.5,687 1504,687.4 1505.5,686.5 1507,686.7 1508.5,686.4 1510,686.6 1511.5,686.6 1513,686.5 1514.5,687.6 1516,687.4 1517.5,686.9" fill="none" stroke="#000" stroke-width="4.5" stroke-linejoin="round"/>
<polyline points="1289.5,645.3 1291,645.6 1292.5,646.1 1294,645.7 1295.5,645.9 1297,646.2 1298.5,645.9 1300,646.4 1301.5,646.8 1303,647.2 1304.5,646.5 1306,646.9 1307.5,646.9 1309,647.9 1310.5,648 1312,647.4 1313.5,648.8 1315,649 1316.5,648.8 1318,649 1319.5,648.6 1321,648.6 1322.5,649.4 1324,649 1325.5,649.3 1327,649.4 1328.5,649.2 1330,649.8 1331.5,649.8 1333,650.3 1334.5,650 1336,650.2 1337.5,650 1339,650.3 1340.5,650.1 1342,650 1343.5,650.9 1345,651 1346.5,650.9 1348,650.9 1349.5,650.5 1351,650.6 1352.5,650.8 1354,650.7 1355.5,651.7 1357,651.5 1358.5,652.2 1360,651.9 1361.5,652.8 1363,652.8 1364.5,652.1 1366,652.6 1367.5,653.6 1369,653.4 1370.5,654.2 1372,653.8 1373.5,653.7 1375,654.7 1376.5,655.1 1378,655 1379.5,655.3 1381,656.1 1382.5,657.4 1384,657.7 1385.5,657.5 1387,658.3 1388.5,658.8 1390,659.4 1391.5,661.1 1393,661.1 1394.5,662.6 1396,663.6 1397.5,664.5 1399,666.4 1400.5,667 1402,668.9 1403.5,669.5 1405,671.1 1406.5,671.9 1408,673.6 1409.5,676 1411,677.3 1412.5,678.2 1414,680.2 1415.5,680.6 1417,682.1 1418.5,683.7 1420,684.5 1421.5,684.7 1423,686.4 1424.5,685.5 1426,685.6 1427.5,686.3 1429,685.8 1430.5,685.8 1432,685.6 1433.5,685.6 1435,686.3 1436.5,685.9 1438,686.4 1439.5,686.1 1441,686.3 1442.5,686.9 1444,686.4 1445.5,686.5 1447,686.9 1448.5,686.1 1450,686.1 1451.5,687 1453,686.9 1454.5,686.3 1456,686.2 1457.5,686.9 1459,687.1 1460.5,686.3 1462,687.2 1463.5,687.1 1465,686.8 1466.5,686.6 1468,686.2 1469.5,686.2 1471,687.3 1472.5,686.4 1474,687 1475.5,686.5 1477,687.2 1478.5,686.9 1480,686.6 1481.5,686.4 1483,687.1 1484.5,686.3 1486,686.5 1487.5,686.9 1489,687.3 1490.5,687 1492,686.6 1493.5,687.4 1495,686.5 1496.5,686.3 1498,686.6 1499.5,686.8 1501,686.4 1502.5,686.5 1504,686.8 1505.5,687 1507,686.5 1508.5,686.8 1510,687.4 1511.5,687.5 1513,687.2 1514.5,687.2 1516,687.1 1517.5,686.6" fill="none" stroke="#ffbf00" stroke-width="4.5" stroke-linejoin="round"/>
<polyline points="1289.5,675.1 1291,675.1 1292.5,674.9 1294,674 1295.5,673.5 1297,673.6 1298.5,673.1 1300,673.4 1301.5,672.9 1303,672.4 1304.5,672 1306,671.8 1307.5,670.9 1309,671 1310.5,670.4 1312,671.1 1313.5,669.8 1315,670.5 1316.5,669.4 1318,670 1319.5,669.5 1321,669.5 1322.5,670.1 1324,669.1 1325.5,669.3 1327,670.4 1328.5,670 1330,669.6 1331.5,670.8 1333,670.9 1334.5,670.1 1336,670.6 1337.5,670.5 1339,670.9 1340.5,671.4 1342,671.1 1343.5,671.9 1345,671.3 1346.5,671.6 1348,672.6 1349.5,672.2 1351,672.4 1352.5,672.7 1354,672.7 1355.5,672.8 1357,672.5 1358.5,673.4 1360,673.8 1361.5,674 1363,673.7 1364.5,673.5 1366,673.6 1367.5,674.2 1369,674.3 1370.5,673.8 1372,674.1 1373.5,674.5 1375,674.8 1376.5,675.4 1378,675.3 1379.5,675 1381,676.3 1382.5,676.2 1384,676.6 1385.5,676.7 1387,677.3 1388.5,677.6 1390,678.5 1391.5,678.1 1393,679 1394.5,679 1396,680 1397.5,679.6 1399,680.3 1400.5,680.9 1402,681.8 1403.5,681.6 1405,682.7 1406.5,682.9 1408,683.5 1409.5,684.3 1411,685.4 1412.5,685.2 1414,686.2 1415.5,685.8 1417,687.3 1418.5,686.9 1420,686.8 1421.5,687.5 1423,687.7 1424.5,686.6 1426,687 1427.5,687.6 1429,687.1 1430.5,686.9 1432,686.7 1433.5,686.7 1435,687.4 1436.5,687.8 1438,687.9 1439.5,687.3 1441,686.7 1442.5,687 1444,687.6 1445.5,687.7 1447,687.4 1448.5,686.9 1450,687.3 1451.5,687.2 1453,687.4 1454.5,687 1456,687.8 1457.5,687.7 1459,686.8 1460.5,687 1462,687.7 1463.5,686.9 1465,687.7 1466.5,687.2 1468,687.4 1469.5,687.4 1471,686.8 1472.5,686.9 1474,686.9 1475.5,687.4 1477,687.4 1478.5,686.7 1480,687.6 1481.5,687 1483,686.8 1484.5,687 1486,687.7 1487.5,687.2 1489,687.2 1490.5,687.6 1492,687.6 1493.5,687.4 1495,687 1496.5,687.2 1498,687.5 1499.5,687.4 1501,687.1 1502.5,686.9 1504,686.9 1505.5,687.3 1507,687.1 1508.5,686.4 1510,687.3 1511.5,687.5 1513,687.4 1514.5,687.5 1516,687.5 1517.5,687" fill="none" stroke="#e6e074" stroke-width="4.5" stroke-linejoin="round"/>
</g>
<line x1="1289.5" y1="687.2" x2="1518.4" y2="687.2" stroke="#000" stroke-width="2.6"/>
<rect x="1289.5" y="544.4" width="228.9" height="158.1" fill="none" stroke="#000" stroke-width="2.6"/>
<line x1="1289.5" y1="669.6" x2="1295.5" y2="669.6" stroke="#000" stroke-width="2"/>
<line x1="1289.5" y1="652" x2="1295.5" y2="652" stroke="#000" stroke-width="2"/>
<line x1="1289.5" y1="634.4" x2="1295.5" y2="634.4" stroke="#000" stroke-width="2"/>
<line x1="1289.5" y1="616.8" x2="1295.5" y2="616.8" stroke="#000" stroke-width="2"/>
<line x1="1289.5" y1="599.2" x2="1295.5" y2="599.2" stroke="#000" stroke-width="2"/>
<line x1="1289.5" y1="581.6" x2="1295.5" y2="581.6" stroke="#000" stroke-width="2"/>
<line x1="1289.5" y1="564" x2="1295.5" y2="564" stroke="#000" stroke-width="2"/>
<line x1="1346.6" y1="702.5" x2="1346.6" y2="696.5" stroke="#000" stroke-width="2"/>
<line x1="1403.2" y1="702.5" x2="1403.2" y2="696.5" stroke="#000" stroke-width="2"/>
<line x1="1461.4" y1="702.5" x2="1461.4" y2="696.5" stroke="#000" stroke-width="2"/>
<text x="1274.7" y="566" font-size="24.4" text-anchor="middle">8</text>
<text x="1274.7" y="625" font-size="24.4" text-anchor="middle">4</text>
<text x="1274.7" y="694" font-size="24.4" text-anchor="middle">0</text>
<text x="1304.3" y="732.3" font-size="24.4" text-anchor="middle">0.01</text>
<text x="1403.2" y="732.3" font-size="24.4" text-anchor="middle">1</text>
<text x="1506.3" y="732.3" font-size="24.4" text-anchor="middle">100</text>
<text x="1403.3" y="764.4" font-size="25" text-anchor="middle">Log time (s)</text>
<text x="1512.7" y="569.2" font-size="24.8" text-anchor="end" font-weight="bold">pCF0</text>
<text x="1512.7" y="595.6" font-size="24.8" text-anchor="end" font-weight="bold" fill="#ffc000">pCF4</text>
<text x="1512.7" y="622.2" font-size="24.8" text-anchor="end" font-weight="bold" fill="#c4bc00">pCF7</text>
<text x="1512.7" y="649" font-size="24.8" text-anchor="end" font-weight="bold" fill="#bcbc14">pCF12</text>
<text x="1283.5" y="535.3" font-size="24.4">10<tspan font-size="16.5" dy="-11.5">−4</tspan></text>
<text x="676.6" y="823.9" font-size="42" font-weight="bold">h</text>
<text x="768.2" y="805.7" font-size="24.4">10<tspan font-size="16.5" dy="-11.5">−4</tspan></text>
<clipPath id="hc"><rect x="766.6" y="814.6" width="318.9" height="183.6"/></clipPath><g clip-path="url(#hc)">
<path d="M766 853.8 L768 853.7 L770 854.1 L772 854.2 L774 854.7 L776 855.3 L778 855.5 L780 855.9 L782 856.6 L784 856.8 L786 857.4 L788 858.2 L790 858.6 L792 858.9 L794 859.7 L796 860.2 L798 860.6 L800 861.1 L802 861.6 L804 861.9 L806 862.4 L808 862.8 L810 863.3 L812 863.8 L814 864.4 L816 864.6 L818 865.1 L820 865.8 L822 866.4 L824 866.9 L826 867.9 L828 868.3 L830 868.9 L832 869.5 L834 870.2 L836 870.7 L838 871.4 L840 872 L842 872.6 L844 873.3 L846 874.1 L848 874.6 L850 875.3 L852 876 L854 876.9 L856 877.4 L858 878.2 L860 879.1 L862 879.7 L864 880.8 L866 881.3 L868 882.1 L870 883.1 L872 883.8 L874 884.7 L876 885.3 L878 886.3 L880 887.3 L882 888.1 L884 889.1 L886 889.8 L888 890.7 L890 891.8 L892 892.5 L894 893.6 L896 894.4 L898 895.4 L900 896.5 L902 897.3 L904 898.3 L906 899.3 L908 900.1 L910 901.3 L912 902.4 L914 903.7 L916 904.8 L918 906.1 L920 907.3 L922 908.6 L924 909.7 L926 910.9 L928 912.1 L930 913.3 L932 914.8 L934 916.2 L936 917.6 L938 919.1 L940 920.7 L942 922.4 L944 924 L946 926.1 L948 927.9 L950 930 L952 932 L954 934.2 L956 936.2 L958 938.4 L960 940.1 L962 942.5 L964 944.7 L966 946.7 L968 949.2 L970 952.5 L972 955.5 L974 958.5 L976 961.2 L978 963.8 L980 966 L982 967.9 L984 969.8 L986 971.4 L988 972.7 L990 974 L992 974.7 L994 975.4 L996 976 L998 976.4 L1000 976.9 L1002 977.4 L1004 977.8 L1006 978.1 L1008 978.4 L1010 979 L1012 979.3 L1014 979.5 L1016 979.9 L1018 979.9 L1020 980.3 L1022 980.2 L1024 980.4 L1026 980.2 L1028 980 L1030 980 L1032 979.8 L1034 979.5 L1036 979.1 L1038 978.6 L1040 978.4 L1042 978.2 L1044 977.8 L1046 977.6 L1048 977.5 L1050 977.1 L1052 977.3 L1054 977.3 L1056 977.1 L1058 977.3 L1060 977.3 L1062 977.2 L1064 977.3 L1066 977.3 L1068 977.4 L1070 977.6 L1072 977.6 L1074 977.6 L1076 977.7 L1078 978 L1080 978.1 L1082 978 L1084 978.2 L1086 978.1 L1086 980.5 L1084 980.3 L1082 980.5 L1080 980.5 L1078 980.4 L1076 980.4 L1074 980.4 L1072 980.1 L1070 980.1 L1068 980 L1066 980.2 L1064 979.9 L1062 980.1 L1060 980 L1058 980 L1056 980 L1054 980.1 L1052 980.2 L1050 980.3 L1048 980.5 L1046 980.8 L1044 980.9 L1042 981.2 L1040 981.7 L1038 982 L1036 982.4 L1034 982.8 L1032 983.1 L1030 983.5 L1028 983.6 L1026 983.7 L1024 983.9 L1022 983.8 L1020 984 L1018 983.7 L1016 983.7 L1014 983.2 L1012 983 L1010 982.7 L1008 982.3 L1006 982.3 L1004 981.8 L1002 981.5 L1000 981.1 L998 980.7 L996 980.3 L994 979.8 L992 979 L990 978.2 L988 977.9 L986 977.2 L984 976.4 L982 975.6 L980 974.3 L978 972.7 L976 971 L974 969.1 L972 967.1 L970 964.7 L968 962.4 L966 960.6 L964 959.1 L962 958.1 L960 956.5 L958 954.8 L956 952.9 L954 951.1 L952 949.4 L950 947.4 L948 945.4 L946 943.8 L944 942 L942 940.4 L940 938.8 L938 937.6 L936 936.3 L934 935 L932 933.8 L930 932.8 L928 931.7 L926 930.4 L924 929.6 L922 928.5 L920 927.5 L918 926.5 L916 925.4 L914 924.6 L912 923.4 L910 922.4 L908 921.6 L906 921.1 L904 920.1 L902 919.5 L900 918.7 L898 917.9 L896 916.7 L894 915.9 L892 915.1 L890 914.3 L888 913.4 L886 912.6 L884 911.6 L882 910.9 L880 910.1 L878 909.1 L876 908.4 L874 907.5 L872 906.6 L870 905.9 L868 905.1 L866 904.5 L864 903.8 L862 902.9 L860 902.2 L858 901.6 L856 900.9 L854 900.3 L852 899.6 L850 898.8 L848 898.1 L846 897.6 L844 896.7 L842 896.2 L840 895.7 L838 894.9 L836 894.5 L834 893.9 L832 893.4 L830 892.8 L828 892.5 L826 891.5 L824 891 L822 890.4 L820 889.8 L818 889.5 L816 888.8 L814 888.5 L812 888.1 L810 887.8 L808 887.4 L806 886.8 L804 886.4 L802 885.9 L800 885.6 L798 885.2 L796 884.8 L794 884.4 L792 883.8 L790 883.2 L788 882.8 L786 882.4 L784 882 L782 881.3 L780 880.9 L778 880.5 L776 880.1 L774 879.8 L772 879.5 L770 879.3 L768 879 L766 879Z" fill="#a9df7c" opacity="0.95"/>
<path d="M766 923.6 L768 923.9 L770 923.9 L772 923.7 L774 923.7 L776 923.6 L778 923.7 L780 923.7 L782 923.6 L784 923.6 L786 923.7 L788 923.6 L790 923.6 L792 923.6 L794 923.8 L796 924 L798 924.1 L800 924 L802 924.5 L804 924.6 L806 925.1 L808 925.4 L810 925.6 L812 926 L814 926.2 L816 926.7 L818 927.1 L820 927.4 L822 927.7 L824 928.2 L826 928.5 L828 928.7 L830 928.8 L832 929.3 L834 929.4 L836 929.7 L838 930 L840 930.2 L842 930.3 L844 930.5 L846 930.7 L848 931 L850 931.1 L852 931.3 L854 931.6 L856 931.7 L858 932 L860 932.2 L862 932.4 L864 932.6 L866 933 L868 933 L870 933.3 L872 933.4 L874 933.8 L876 933.9 L878 934.2 L880 934.3 L882 934.7 L884 935 L886 935.4 L888 935.6 L890 936.2 L892 936.3 L894 936.9 L896 937.3 L898 937.6 L900 938.2 L902 938.7 L904 939.1 L906 939.5 L908 940.3 L910 940.7 L912 941.3 L914 941.8 L916 942.5 L918 943 L920 943.8 L922 944.5 L924 945 L926 945.8 L928 946.6 L930 947 L932 947.9 L934 948.6 L936 949.4 L938 950 L940 950.8 L942 951.6 L944 952.6 L946 953.3 L948 954.2 L950 955.3 L952 956.1 L954 957 L956 958 L958 958.7 L960 959.7 L962 960.7 L964 961.4 L966 962.2 L968 963.7 L970 965.1 L972 966.7 L974 968.3 L976 969.9 L978 971.1 L980 972.4 L982 973.4 L984 974.3 L986 975 L988 975.5 L990 975.9 L992 976.2 L994 976.7 L996 976.8 L998 976.7 L1000 976.8 L1002 976.8 L1004 977.1 L1006 977 L1008 977.2 L1010 977.2 L1012 977.3 L1014 977.1 L1016 977.3 L1018 977.3 L1020 977.4 L1022 977.2 L1024 977.4 L1026 977.6 L1028 977.4 L1030 977.5 L1032 977.7 L1034 977.7 L1036 977.5 L1038 977.6 L1040 977.6 L1042 977.5 L1044 977.7 L1046 977.7 L1048 977.8 L1050 977.7 L1052 977.8 L1054 977.8 L1056 977.9 L1058 977.8 L1060 977.9 L1062 977.9 L1064 978 L1066 978 L1068 978 L1070 977.9 L1072 978 L1074 977.9 L1076 978 L1078 978 L1080 978 L1082 978.2 L1084 978.2 L1086 978.2 L1086 980.3 L1084 980.5 L1082 980.4 L1080 980.6 L1078 980.4 L1076 980.5 L1074 980.4 L1072 980.4 L1070 980.5 L1068 980.7 L1066 980.7 L1064 980.6 L1062 980.7 L1060 980.7 L1058 980.6 L1056 980.8 L1054 980.8 L1052 980.8 L1050 980.6 L1048 980.7 L1046 980.9 L1044 980.7 L1042 980.8 L1040 980.7 L1038 980.9 L1036 980.7 L1034 980.8 L1032 980.7 L1030 980.8 L1028 980.9 L1026 980.9 L1024 980.9 L1022 980.9 L1020 980.8 L1018 980.7 L1016 981 L1014 980.7 L1012 981 L1010 980.7 L1008 980.8 L1006 980.7 L1004 980.9 L1002 980.8 L1000 980.9 L998 980.7 L996 980.7 L994 980.6 L992 980.3 L990 979.9 L988 979.4 L986 979.2 L984 978.4 L982 977.7 L980 976.9 L978 975.8 L976 974.6 L974 973.2 L972 971.7 L970 970.3 L968 968.6 L966 967.5 L964 967 L962 966.4 L960 965.6 L958 964.8 L956 964 L954 963.4 L952 962.4 L950 961.6 L948 960.9 L946 960.2 L944 959.7 L942 958.8 L940 958.3 L938 957.6 L936 956.9 L934 956.3 L932 955.9 L930 955.2 L928 954.8 L926 954.2 L924 953.4 L922 953.2 L920 952.5 L918 952 L916 951.8 L914 951 L912 950.6 L910 950.2 L908 949.9 L906 949.5 L904 949 L902 948.6 L900 948.3 L898 948 L896 947.7 L894 947.2 L892 946.8 L890 946.5 L888 946.3 L886 946 L884 945.6 L882 945.3 L880 945 L878 944.8 L876 944.6 L874 944.7 L872 944.3 L870 944.2 L868 944 L866 943.9 L864 943.9 L862 943.7 L860 943.4 L858 943.3 L856 943.2 L854 943 L852 942.8 L850 942.6 L848 942.5 L846 942.1 L844 942 L842 942 L840 941.6 L838 941.6 L836 941.4 L834 941.1 L832 940.9 L830 940.9 L828 940.8 L826 940.4 L824 940.3 L822 939.8 L820 939.5 L818 939.2 L816 938.9 L814 938.5 L812 938.3 L810 937.9 L808 937.7 L806 937.3 L804 937 L802 937 L800 936.8 L798 936.7 L796 936.7 L794 936.5 L792 936.5 L790 936.6 L788 936.5 L786 936.4 L784 936.6 L782 936.5 L780 936.8 L778 936.9 L776 936.8 L774 936.8 L772 936.9 L770 936.9 L768 937.2 L766 936.9Z" fill="#ffe27a" opacity="0.9"/>
<path d="M766 895.1 L768 895.2 L770 895.6 L772 896 L774 896.5 L776 897 L778 897.6 L780 898 L782 898.7 L784 899.3 L786 899.9 L788 900.5 L790 901.1 L792 901.7 L794 902.3 L796 902.9 L798 903.4 L800 903.9 L802 904.4 L804 904.9 L806 905.2 L808 905.8 L810 906.3 L812 906.6 L814 907 L816 907.4 L818 907.7 L820 908.2 L822 908.5 L824 908.8 L826 909.2 L828 909.6 L830 910 L832 910.3 L834 910.6 L836 910.7 L838 911 L840 911.3 L842 911.5 L844 911.7 L846 912.2 L848 912.4 L850 912.7 L852 913.2 L854 913.5 L856 914 L858 914.5 L860 914.9 L862 915.5 L864 916 L866 916.6 L868 917.2 L870 917.9 L872 918.6 L874 919.1 L876 919.8 L878 920.6 L880 921.3 L882 921.9 L884 922.5 L886 923.3 L888 924.2 L890 924.9 L892 925.6 L894 926.5 L896 927.3 L898 928.1 L900 928.9 L902 929.7 L904 930.5 L906 931.4 L908 932.2 L910 933.1 L912 934 L914 934.7 L916 935.6 L918 936.5 L920 937.4 L922 938.3 L924 939.2 L926 940 L928 940.9 L930 941.9 L932 942.9 L934 943.8 L936 944.8 L938 945.8 L940 946.8 L942 947.9 L944 949.1 L946 950.3 L948 951.8 L950 953 L952 954.3 L954 955.7 L956 956.9 L958 958.2 L960 959.3 L962 960.6 L964 961.6 L966 962.8 L968 964.2 L970 965.9 L972 967.4 L974 968.8 L976 970.1 L978 971.4 L980 972.4 L982 973.6 L984 974.6 L986 975.5 L988 976.4 L990 977.1 L992 977.9 L994 978.4 L996 979.1 L998 979.4 L1000 980 L1002 980.2 L1004 980.6 L1006 981 L1008 981.3 L1010 981.4 L1012 981.7 L1014 981.8 L1016 981.7 L1018 981.5 L1020 981.3 L1022 981.2 L1024 980.9 L1026 980.5 L1028 980.3 L1030 979.9 L1032 979.7 L1034 979.5 L1036 979.1 L1038 979 L1040 979.1 L1042 978.9 L1044 978.9 L1046 978.8 L1048 978.9 L1050 978.8 L1052 978.7 L1054 978.6 L1056 978.6 L1058 978.6 L1060 978.6 L1062 978.5 L1064 978.4 L1066 978.3 L1068 978.3 L1070 978.3 L1072 978.3 L1074 978.3 L1076 978.2 L1078 978.3 L1080 978.3 L1082 978.2 L1084 978.1 L1086 978.2 L1086 980.4 L1084 980.5 L1082 980.5 L1080 980.5 L1078 980.7 L1076 980.8 L1074 980.6 L1072 980.9 L1070 980.8 L1068 980.9 L1066 980.9 L1064 981 L1062 981.1 L1060 981.2 L1058 981.4 L1056 981.3 L1054 981.5 L1052 981.6 L1050 981.6 L1048 981.7 L1046 981.7 L1044 981.9 L1042 981.9 L1040 982 L1038 982.2 L1036 982.4 L1034 982.6 L1032 982.8 L1030 983.2 L1028 983.5 L1026 984 L1024 984.4 L1022 984.6 L1020 984.9 L1018 985.1 L1016 985.2 L1014 985.3 L1012 985.2 L1010 985.1 L1008 984.9 L1006 984.6 L1004 984.3 L1002 984.1 L1000 983.7 L998 983.4 L996 982.9 L994 982.5 L992 981.9 L990 981.2 L988 980.5 L986 979.6 L984 978.8 L982 977.7 L980 976.6 L978 975.5 L976 974.3 L974 973.1 L972 971.7 L970 970.2 L968 968.5 L966 967.1 L964 965.9 L962 965 L960 963.8 L958 962.5 L956 961.3 L954 960.1 L952 958.8 L950 957.4 L948 956.2 L946 954.9 L944 953.7 L942 952.5 L940 951.4 L938 950.3 L936 949.3 L934 948.5 L932 947.4 L930 946.5 L928 945.6 L926 944.8 L924 943.8 L922 943.1 L920 942.1 L918 941.3 L916 940.5 L914 939.6 L912 938.9 L910 938 L908 937.1 L906 936.3 L904 935.5 L902 934.6 L900 933.8 L898 933.1 L896 932.3 L894 931.5 L892 930.6 L890 929.9 L888 929.2 L886 928.4 L884 927.6 L882 927 L880 926.4 L878 925.7 L876 925.1 L874 924.4 L872 923.7 L870 923.1 L868 922.6 L866 921.9 L864 921.4 L862 920.9 L860 920.3 L858 919.8 L856 919.4 L854 918.8 L852 918.4 L850 918.3 L848 917.8 L846 917.5 L844 917.3 L842 917 L840 916.9 L838 916.7 L836 916.4 L834 916.1 L832 915.8 L830 915.6 L828 915.3 L826 915 L824 914.5 L822 914.2 L820 913.8 L818 913.5 L816 913.1 L814 912.7 L812 912.4 L810 911.9 L808 911.5 L806 911.1 L804 910.7 L802 910.2 L800 909.8 L798 909.4 L796 908.7 L794 908.3 L792 907.7 L790 907.1 L788 906.6 L786 906 L784 905.2 L782 904.8 L780 904.1 L778 903.5 L776 903.1 L774 902.6 L772 902.1 L770 901.8 L768 901.4 L766 901.5Z" fill="#f47c7c" opacity="0.85"/>
<path d="M767.4 930.4C772.8 930.4 789.5 929.7 799.5 930.4C809.5 931.1 818.1 933.4 827.4 934.6C836.7 935.8 846 936.5 855.3 937.4C864.6 938.3 873.9 938.8 883.2 940.2C892.5 941.6 901.8 943.5 911.1 945.8C920.4 948.1 929.7 951 939 954.2C948.3 957.5 959.9 961.8 966.9 965.3C973.9 968.8 976.2 972.9 980.9 975.1C985.5 977.3 977.4 978 994.8 978.7C1012.2 979.4 1070.4 979.2 1085.5 979.3" fill="none" stroke="#ffd83a" stroke-width="2.8"/>
<path d="M767.4 898.3C772.8 899.7 789.5 904.4 799.5 906.7C809.5 909 818.1 910.7 827.4 912.3C836.7 913.9 846 914.4 855.3 916.5C864.6 918.6 873.9 921.6 883.2 924.9C892.5 928.1 901.8 932 911.1 936C920.4 940 929.7 943.7 939 948.6C948.3 953.5 959.9 960.9 966.9 965.3C973.9 969.7 976.2 972.5 980.9 975.1C985.5 977.7 989.2 979.3 994.8 980.7C1000.4 982.1 1007.4 983.5 1014.4 983.5C1021.4 983.5 1024.9 981.4 1036.7 980.7C1048.5 980 1077.4 979.5 1085.5 979.3" fill="none" stroke="#ef3b3b" stroke-width="2.8"/>
<path d="M767.4 866.3C772.8 867.4 789.5 870.9 799.5 873.2C809.5 875.5 815.8 876.7 827.4 880.2C839 883.7 855.3 888.9 869.3 894.2C883.2 899.6 899.5 906.5 911.1 912.3C922.7 918.1 929.7 922 939 929C948.3 936 959.9 947.2 966.9 954.2C973.9 961.2 976.2 967 980.9 970.9C985.5 974.8 987.8 976 994.8 977.9C1001.8 979.8 1013.4 982 1022.7 982.1C1032 982.2 1040.1 979.2 1050.6 978.7C1061.1 978.2 1079.7 979.2 1085.5 979.3" fill="none" stroke="#46a546" stroke-width="2.8"/>
</g>
<line x1="766.6" y1="978.4" x2="1085.5" y2="978.4" stroke="#000" stroke-width="2"/>
<rect x="766.6" y="814.6" width="318.9" height="183.6" fill="none" stroke="#000" stroke-width="2.4"/>
<line x1="766.6" y1="958.2" x2="774.6" y2="958.2" stroke="#000" stroke-width="2"/><line x1="766.6" y1="938" x2="774.6" y2="938" stroke="#000" stroke-width="2"/><line x1="766.6" y1="917.8" x2="774.6" y2="917.8" stroke="#000" stroke-width="2"/><line x1="766.6" y1="897.6" x2="774.6" y2="897.6" stroke="#000" stroke-width="2"/><line x1="766.6" y1="877.4" x2="774.6" y2="877.4" stroke="#000" stroke-width="2"/><line x1="766.6" y1="857.2" x2="774.6" y2="857.2" stroke="#000" stroke-width="2"/><line x1="766.6" y1="837" x2="774.6" y2="837" stroke="#000" stroke-width="2"/>
<line x1="845.5" y1="998.2" x2="845.5" y2="991.2" stroke="#000" stroke-width="2"/><line x1="925.9" y1="998.2" x2="925.9" y2="991.2" stroke="#000" stroke-width="2"/><line x1="1005.4" y1="998.2" x2="1005.4" y2="991.2" stroke="#000" stroke-width="2"/>
<text x="758.2" y="986.4" font-size="24.4" text-anchor="end">0</text>
<text x="758.2" y="946.2" font-size="24.4" text-anchor="end">2</text>
<text x="758.2" y="906.3" font-size="24.4" text-anchor="end">4</text>
<text x="758.2" y="865.9" font-size="24.4" text-anchor="end">6</text>
<text x="758.2" y="824.9" font-size="24.4" text-anchor="end">8</text>
<text x="766" y="1026.4" font-size="24.4" text-anchor="middle">0.01</text>
<text x="845.5" y="1026.4" font-size="24.4" text-anchor="middle">0.1</text>
<text x="925.9" y="1026.4" font-size="24.4" text-anchor="middle">1</text>
<text x="1005.4" y="1026.4" font-size="24.4" text-anchor="middle">10</text>
<text x="1085.5" y="1026.4" font-size="24.4" text-anchor="middle">100</text>
<text x="922" y="1060.7" font-size="25" text-anchor="middle">Log time (s)</text>
<text x="722" y="904.1" font-size="25" text-anchor="middle" transform="rotate(-90 722 904.1)"><tspan font-style="italic">G</tspan> (<tspan font-family="'Liberation Serif', serif" font-style="italic">τ</tspan>,<tspan font-family="'Liberation Serif', serif" font-style="italic">δr</tspan>)</text>
<text x="1076.3" y="841.2" font-size="24.8" text-anchor="end" font-weight="bold" fill="#10a445">CH1</text>
<text x="1077.6" y="870.6" font-size="24.8" text-anchor="end" font-weight="bold" fill="#c00000">CH2</text>
<text x="1077.9" y="900.4" font-size="24.8" text-anchor="end" font-weight="bold" fill="#ffd200">CC</text>
<text x="1101.9" y="823" font-size="42" font-weight="bold">i</text>
<clipPath id="ic"><rect x="1189.8" y="817.7" width="317.6" height="182"/></clipPath><g clip-path="url(#ic)">
<path d="M1189 844.1 L1190.6 843.3 L1192.2 842.9 L1193.8 840.5 L1195.4 842.1 L1197 841 L1198.6 840.3 L1200.2 835.9 L1201.8 824.7 L1203.4 836 L1205 837.6 L1206.6 836.3 L1208.2 832.6 L1209.8 835.3 L1211.4 833 L1213 827 L1214.6 832.5 L1216.2 831.4 L1217.8 834.4 L1219.4 833.7 L1221 832 L1222.6 832.2 L1224.2 833.1 L1225.8 829.7 L1227.4 831.6 L1229 832.3 L1230.6 832.7 L1232.2 828.8 L1233.8 829.4 L1235.4 830.2 L1237 830.5 L1238.6 829.3 L1240.2 832.3 L1241.8 832.7 L1243.4 830.2 L1245 821.2 L1246.6 833.2 L1248.2 833 L1249.8 834.4 L1251.4 832.2 L1253 834.2 L1254.6 836.3 L1256.2 829.7 L1257.8 836.8 L1259.4 835 L1261 828.1 L1262.6 838.1 L1264.2 837.9 L1265.8 837.6 L1267.4 837.3 L1269 838.5 L1270.6 842 L1272.2 842.1 L1273.8 840.6 L1275.4 841.5 L1277 839.7 L1278.6 843.8 L1280.2 840.5 L1281.8 840.8 L1283.4 843.7 L1285 841.9 L1286.6 844.2 L1288.2 844.5 L1289.8 846 L1291.4 846.3 L1293 845.6 L1294.6 848.1 L1296.2 849.4 L1297.8 836.2 L1299.4 848.4 L1301 851.1 L1302.6 849.3 L1304.2 849.6 L1305.8 850.3 L1307.4 850 L1309 840.5 L1310.6 850.4 L1312.2 851.6 L1313.8 854.3 L1315.4 855.4 L1317 855.6 L1318.6 854.6 L1320.2 856.8 L1321.8 860.2 L1323.4 860.5 L1325 854.3 L1326.6 862.8 L1328.2 860.3 L1329.8 860 L1331.4 864.1 L1333 862.1 L1334.6 863.3 L1336.2 864.1 L1337.8 866.5 L1339.4 868.3 L1341 870.1 L1342.6 868.3 L1344.2 872.3 L1345.8 875.2 L1347.4 863.1 L1349 874.7 L1350.6 875.7 L1352.2 876.1 L1353.8 881.2 L1355.4 882.2 L1357 882.5 L1358.6 883.9 L1360.2 887 L1361.8 885.9 L1363.4 887.7 L1365 890.9 L1366.6 894.3 L1368.2 895.6 L1369.8 894.9 L1371.4 899.4 L1373 900.9 L1374.6 903.5 L1376.2 906.3 L1377.8 906.1 L1379.4 907.6 L1381 909.3 L1382.6 912.7 L1384.2 915.2 L1385.8 914.8 L1387.4 919.2 L1389 918.7 L1390.6 924.7 L1392.2 930.7 L1393.8 930.1 L1395.4 935.5 L1397 929.8 L1398.6 941.3 L1400.2 941.3 L1401.8 940.1 L1403.4 947.2 L1405 948.6 L1406.6 951.4 L1408.2 954.8 L1409.8 954.9 L1411.4 958 L1413 961.2 L1414.6 961.1 L1416.2 961.2 L1417.8 965.9 L1419.4 965.8 L1419.4 978.2 L1417.8 979.8 L1416.2 982.9 L1414.6 979.2 L1413 976.6 L1411.4 976.9 L1409.8 973.9 L1408.2 970.9 L1406.6 971.7 L1405 969.2 L1403.4 966.7 L1401.8 967.1 L1400.2 964.7 L1398.6 961.7 L1397 957.6 L1395.4 955.1 L1393.8 951.3 L1392.2 950.4 L1390.6 947.4 L1389 945.6 L1387.4 944.6 L1385.8 942 L1384.2 940 L1382.6 950.1 L1381 936.6 L1379.4 932.3 L1377.8 933.5 L1376.2 927.8 L1374.6 928.6 L1373 924.3 L1371.4 922.9 L1369.8 930.4 L1368.2 920.8 L1366.6 917.6 L1365 917.7 L1363.4 915.3 L1361.8 915.3 L1360.2 913.8 L1358.6 913.2 L1357 925.7 L1355.4 910.6 L1353.8 908.1 L1352.2 909.2 L1350.6 903.3 L1349 905.9 L1347.4 903.2 L1345.8 902 L1344.2 900.9 L1342.6 902.5 L1341 897.9 L1339.4 897.6 L1337.8 895.5 L1336.2 897 L1334.6 902.6 L1333 894.4 L1331.4 893.1 L1329.8 895.4 L1328.2 891.2 L1326.6 897.3 L1325 890 L1323.4 888.9 L1321.8 892.3 L1320.2 888.9 L1318.6 887.4 L1317 889.3 L1315.4 889.9 L1313.8 885.6 L1312.2 885.1 L1310.6 886.3 L1309 884.7 L1307.4 886 L1305.8 886.4 L1304.2 886.4 L1302.6 885.6 L1301 884.3 L1299.4 882.6 L1297.8 880.7 L1296.2 883.8 L1294.6 883.9 L1293 880.5 L1291.4 879.8 L1289.8 878.9 L1288.2 881.6 L1286.6 880.6 L1285 879.9 L1283.4 877.7 L1281.8 889.6 L1280.2 876.3 L1278.6 883.2 L1277 877.9 L1275.4 875.7 L1273.8 887 L1272.2 878.7 L1270.6 873.1 L1269 872.9 L1267.4 886.4 L1265.8 873.1 L1264.2 874.1 L1262.6 872 L1261 870.3 L1259.4 869.3 L1257.8 872.1 L1256.2 867 L1254.6 866.5 L1253 868.2 L1251.4 865.5 L1249.8 866.3 L1248.2 868.2 L1246.6 864.6 L1245 867.3 L1243.4 865.4 L1241.8 864.3 L1240.2 866.4 L1238.6 866.6 L1237 862.4 L1235.4 865.2 L1233.8 864.3 L1232.2 863.2 L1230.6 864.8 L1229 862.1 L1227.4 862.1 L1225.8 863.5 L1224.2 866.1 L1222.6 867.4 L1221 865.4 L1219.4 864.9 L1217.8 864 L1216.2 866.1 L1214.6 869.1 L1213 867.9 L1211.4 865.2 L1209.8 866.1 L1208.2 870.6 L1206.6 868.2 L1205 875.1 L1203.4 868.6 L1201.8 873.1 L1200.2 873 L1198.6 870.6 L1197 871.8 L1195.4 870.8 L1193.8 873.5 L1192.2 875.4 L1190.6 872.6 L1189 872.8Z" fill="#7f7f7f"/>
<path d="M1189 895.3 L1190.6 893.2 L1192.2 891.3 L1193.8 893.6 L1195.4 895.2 L1197 888.5 L1198.6 893.6 L1200.2 893.9 L1201.8 890.5 L1203.4 890.6 L1205 893.1 L1206.6 893.8 L1208.2 880.7 L1209.8 892.1 L1211.4 890.8 L1213 890 L1214.6 893.3 L1216.2 890.3 L1217.8 891.4 L1219.4 890.1 L1221 893.5 L1222.6 894.8 L1224.2 895.1 L1225.8 891.8 L1227.4 879.6 L1229 896.2 L1230.6 892.7 L1232.2 892 L1233.8 882.4 L1235.4 881.4 L1237 892.8 L1238.6 890.3 L1240.2 893.5 L1241.8 896.2 L1243.4 897.3 L1245 898.6 L1246.6 898 L1248.2 899.7 L1249.8 900.3 L1251.4 899.6 L1253 900.9 L1254.6 901.5 L1256.2 901.2 L1257.8 899.5 L1259.4 885.1 L1261 885.9 L1262.6 901.4 L1264.2 901.9 L1265.8 901 L1267.4 903.1 L1269 901.9 L1270.6 905.2 L1272.2 901.3 L1273.8 902.2 L1275.4 904.1 L1277 890 L1278.6 901.6 L1280.2 903.1 L1281.8 903.6 L1283.4 904.2 L1285 902.3 L1286.6 902.9 L1288.2 903.9 L1289.8 906.3 L1291.4 906.3 L1293 905.8 L1294.6 906.7 L1296.2 906.2 L1297.8 906.8 L1299.4 902.5 L1301 902.7 L1302.6 902.8 L1304.2 905.2 L1305.8 907.4 L1307.4 907.6 L1309 901.8 L1310.6 903.8 L1312.2 907.3 L1313.8 907.4 L1315.4 903.8 L1317 907.7 L1318.6 907.9 L1320.2 906 L1321.8 906.2 L1323.4 894.9 L1325 905.2 L1326.6 905.9 L1328.2 896.5 L1329.8 907.7 L1331.4 907.2 L1333 909.9 L1334.6 909.1 L1336.2 909.9 L1337.8 908 L1339.4 907.2 L1341 910.3 L1342.6 907.8 L1344.2 908.4 L1345.8 911.1 L1347.4 908.5 L1349 909.7 L1350.6 899 L1352.2 910.8 L1353.8 914.2 L1355.4 915.5 L1357 914.6 L1358.6 911.6 L1360.2 916.5 L1361.8 916.5 L1363.4 917.2 L1365 918.4 L1366.6 920.5 L1368.2 923.8 L1369.8 916.5 L1371.4 923.1 L1373 922.8 L1374.6 927.4 L1376.2 929.7 L1377.8 926.5 L1379.4 929.4 L1381 930 L1382.6 930.2 L1384.2 931.7 L1385.8 937.1 L1387.4 936.3 L1389 938.8 L1390.6 942.8 L1392.2 944 L1393.8 946.7 L1395.4 947.4 L1397 946.6 L1398.6 951.2 L1400.2 951.6 L1401.8 954.9 L1403.4 952.4 L1405 957.2 L1406.6 955.9 L1408.2 959.2 L1409.8 958.6 L1411.4 960.5 L1413 961.5 L1414.6 958.3 L1416.2 962.3 L1417.8 962.4 L1419.4 962.5 L1419.4 981.8 L1417.8 987.8 L1416.2 978.4 L1414.6 979.1 L1413 977.3 L1411.4 975.5 L1409.8 977.8 L1408.2 975.6 L1406.6 973.4 L1405 971.7 L1403.4 973.4 L1401.8 970.8 L1400.2 970.4 L1398.6 967.2 L1397 966.2 L1395.4 966.3 L1393.8 964.8 L1392.2 960.8 L1390.6 960.3 L1389 966.6 L1387.4 959.7 L1385.8 958.9 L1384.2 956.4 L1382.6 956.3 L1381 956.5 L1379.4 952.7 L1377.8 954 L1376.2 950.3 L1374.6 947.8 L1373 946.2 L1371.4 946.5 L1369.8 945.8 L1368.2 945.6 L1366.6 946.5 L1365 946.6 L1363.4 945 L1361.8 941.1 L1360.2 941 L1358.6 943.8 L1357 940.1 L1355.4 952.9 L1353.8 938.5 L1352.2 940.1 L1350.6 938.1 L1349 937.5 L1347.4 934.3 L1345.8 936.6 L1344.2 936 L1342.6 935 L1341 935.2 L1339.4 934.7 L1337.8 932.2 L1336.2 933.2 L1334.6 933.2 L1333 935.5 L1331.4 934.4 L1329.8 934.5 L1328.2 933.5 L1326.6 931.6 L1325 932 L1323.4 944.4 L1321.8 936.4 L1320.2 931.7 L1318.6 935 L1317 933.6 L1315.4 934.9 L1313.8 931.4 L1312.2 932.5 L1310.6 934.7 L1309 941.6 L1307.4 932.1 L1305.8 931.5 L1304.2 934.9 L1302.6 935.2 L1301 936.1 L1299.4 934.8 L1297.8 943.3 L1296.2 931.3 L1294.6 933.6 L1293 934.6 L1291.4 931.8 L1289.8 931.3 L1288.2 933.9 L1286.6 934.6 L1285 933.9 L1283.4 932.9 L1281.8 934.9 L1280.2 930.7 L1278.6 933.5 L1277 934.2 L1275.4 931.4 L1273.8 942.8 L1272.2 930.4 L1270.6 940.7 L1269 931.5 L1267.4 931.3 L1265.8 932.5 L1264.2 929.6 L1262.6 943.2 L1261 929.8 L1259.4 928.7 L1257.8 926.2 L1256.2 930.3 L1254.6 927.9 L1253 927.7 L1251.4 929.1 L1249.8 925.8 L1248.2 924.8 L1246.6 925.3 L1245 922.9 L1243.4 922.2 L1241.8 922.6 L1240.2 922.5 L1238.6 923.4 L1237 933.7 L1235.4 920.9 L1233.8 924.4 L1232.2 924.5 L1230.6 921.2 L1229 923.4 L1227.4 922.8 L1225.8 921.3 L1224.2 921.7 L1222.6 919.5 L1221 922.5 L1219.4 920.4 L1217.8 918.3 L1216.2 919.6 L1214.6 918.7 L1213 919.8 L1211.4 921.4 L1209.8 917.5 L1208.2 921.5 L1206.6 918.9 L1205 918.6 L1203.4 919.6 L1201.8 920.5 L1200.2 918.5 L1198.6 923.2 L1197 918.2 L1195.4 921 L1193.8 917.5 L1192.2 920.2 L1190.6 921.3 L1189 918.8Z" fill="#f5797b" opacity="0.92"/>
<path d="M1189 948.7 L1190.6 948.3 L1192.2 948.1 L1193.8 948.5 L1195.4 949.3 L1197 946.9 L1198.6 947.5 L1200.2 948.5 L1201.8 949 L1203.4 949.2 L1205 934.9 L1206.6 945.8 L1208.2 946.6 L1209.8 946.9 L1211.4 945.8 L1213 947 L1214.6 938.4 L1216.2 945.2 L1217.8 942.7 L1219.4 942.5 L1221 944.5 L1222.6 945.4 L1224.2 944.6 L1225.8 943.4 L1227.4 940.4 L1229 940 L1230.6 939.8 L1232.2 943.4 L1233.8 942.7 L1235.4 939.7 L1237 943.5 L1238.6 939.1 L1240.2 939.6 L1241.8 939.6 L1243.4 939.8 L1245 940.7 L1246.6 942.2 L1248.2 943.6 L1249.8 942.2 L1251.4 942.1 L1253 942.9 L1254.6 940.7 L1256.2 943.6 L1257.8 940.4 L1259.4 942.3 L1261 945.5 L1262.6 942 L1264.2 945.3 L1265.8 942.4 L1267.4 943.5 L1269 942.8 L1270.6 943.7 L1272.2 944.8 L1273.8 946.8 L1275.4 929.7 L1277 943 L1278.6 943.6 L1280.2 946.1 L1281.8 945.4 L1283.4 946.1 L1285 943 L1286.6 945.3 L1288.2 943.2 L1289.8 947.3 L1291.4 943.3 L1293 945.7 L1294.6 946.6 L1296.2 946.8 L1297.8 944.8 L1299.4 937.4 L1301 943.4 L1302.6 945 L1304.2 946 L1305.8 945.1 L1307.4 936.9 L1309 944.9 L1310.6 944.4 L1312.2 945.6 L1313.8 942.6 L1315.4 944.8 L1317 942.7 L1318.6 943.2 L1320.2 942.1 L1321.8 943.6 L1323.4 943.2 L1325 943.4 L1326.6 943.2 L1328.2 944.1 L1329.8 943.3 L1331.4 943.5 L1333 945.6 L1334.6 948.4 L1336.2 946.5 L1337.8 946.6 L1339.4 946.3 L1341 946.7 L1342.6 946.2 L1344.2 948.7 L1345.8 949.9 L1347.4 951.3 L1349 951 L1350.6 950.3 L1352.2 948.7 L1353.8 951.4 L1355.4 949.4 L1357 951.2 L1358.6 953.8 L1360.2 955.1 L1361.8 952.5 L1363.4 953.3 L1365 953.3 L1366.6 956.8 L1368.2 953.4 L1369.8 956.5 L1371.4 957 L1373 959.4 L1374.6 951.4 L1376.2 957.3 L1377.8 956.4 L1379.4 961.1 L1381 957.5 L1382.6 946.8 L1384.2 959.9 L1385.8 960.5 L1387.4 962.4 L1389 964.6 L1390.6 961.2 L1392.2 964 L1393.8 963.1 L1395.4 963.8 L1397 964.2 L1398.6 964.5 L1400.2 965.2 L1401.8 968.9 L1403.4 965.2 L1405 968 L1406.6 969.5 L1408.2 969.8 L1409.8 967.2 L1411.4 967.7 L1413 970.2 L1414.6 970.8 L1414.6 980.8 L1413 980.5 L1411.4 981 L1409.8 981.4 L1408.2 976.8 L1406.6 976.4 L1405 980.5 L1403.4 977.3 L1401.8 975.4 L1400.2 974.6 L1398.6 976 L1397 978.3 L1395.4 973.8 L1393.8 974.9 L1392.2 976.5 L1390.6 988.4 L1389 976 L1387.4 985.4 L1385.8 971.6 L1384.2 970.6 L1382.6 972.1 L1381 973.1 L1379.4 972.6 L1377.8 968.9 L1376.2 972.2 L1374.6 972.1 L1373 967.8 L1371.4 970.9 L1369.8 970.6 L1368.2 969.5 L1366.6 969.2 L1365 968.8 L1363.4 966.7 L1361.8 963.9 L1360.2 967 L1358.6 963.4 L1357 962.6 L1355.4 965.9 L1353.8 964.6 L1352.2 964.6 L1350.6 970.2 L1349 962.3 L1347.4 972.1 L1345.8 959.8 L1344.2 960.2 L1342.6 967.8 L1341 960.3 L1339.4 959 L1337.8 957.7 L1336.2 960.9 L1334.6 958.3 L1333 961.2 L1331.4 957.8 L1329.8 958.4 L1328.2 958.9 L1326.6 960.7 L1325 958 L1323.4 960.7 L1321.8 959.2 L1320.2 959.7 L1318.6 956.2 L1317 957.5 L1315.4 959.5 L1313.8 955.9 L1312.2 958.6 L1310.6 956.9 L1309 960.5 L1307.4 959.2 L1305.8 957.8 L1304.2 957.4 L1302.6 957.5 L1301 964.5 L1299.4 957.2 L1297.8 959.5 L1296.2 959.2 L1294.6 971.9 L1293 960.5 L1291.4 960.6 L1289.8 959 L1288.2 962.2 L1286.6 961.7 L1285 962 L1283.4 961.9 L1281.8 962.2 L1280.2 960.3 L1278.6 962.6 L1277 960.2 L1275.4 960.3 L1273.8 958 L1272.2 958 L1270.6 958.1 L1269 970.6 L1267.4 957.8 L1265.8 957.8 L1264.2 957.2 L1262.6 967.3 L1261 956.9 L1259.4 960.3 L1257.8 957 L1256.2 961.1 L1254.6 954.9 L1253 956.4 L1251.4 958.8 L1249.8 954.9 L1248.2 955.1 L1246.6 956.4 L1245 955.4 L1243.4 957.8 L1241.8 957.3 L1240.2 954.7 L1238.6 954.2 L1237 958.2 L1235.4 956.5 L1233.8 968.5 L1232.2 955.2 L1230.6 957.2 L1229 958.1 L1227.4 956.7 L1225.8 958 L1224.2 956.1 L1222.6 957.5 L1221 960.2 L1219.4 958.4 L1217.8 959.5 L1216.2 961.2 L1214.6 961.4 L1213 959.7 L1211.4 960.3 L1209.8 961.2 L1208.2 958.5 L1206.6 959.2 L1205 959.5 L1203.4 961.9 L1201.8 961.2 L1200.2 961 L1198.6 978.4 L1197 962.7 L1195.4 971.5 L1193.8 963.3 L1192.2 964.4 L1190.6 966 L1189 964.8Z" fill="#5fd0d4" opacity="0.85"/>
<path d="M1189 947.1 L1190.6 946.2 L1192.2 949.7 L1193.8 951.4 L1195.4 954 L1197 952.9 L1198.6 955.7 L1200.2 957.9 L1201.8 960.1 L1203.4 960.2 L1205 962.9 L1206.6 961.7 L1208.2 961.7 L1209.8 965.3 L1211.4 966.7 L1213 964 L1214.6 965.4 L1216.2 968.8 L1217.8 966.6 L1219.4 969.1 L1221 968.6 L1222.6 967.3 L1224.2 970.6 L1225.8 968.2 L1227.4 968.2 L1229 969.1 L1230.6 969.1 L1232.2 970.5 L1233.8 970.8 L1235.4 969.1 L1237 971.1 L1238.6 971.8 L1240.2 972.6 L1241.8 970.5 L1243.4 971.2 L1245 971.1 L1246.6 970.1 L1248.2 970.5 L1249.8 970.1 L1251.4 970.9 L1253 969.9 L1254.6 971.6 L1256.2 957.5 L1257.8 970.7 L1259.4 973 L1261 972.7 L1262.6 970.7 L1264.2 971.5 L1265.8 972.9 L1267.4 970.8 L1269 961.5 L1270.6 972.2 L1272.2 971.5 L1273.8 973.5 L1275.4 972.5 L1277 973.3 L1278.6 973.5 L1280.2 970.7 L1281.8 964.3 L1283.4 965 L1285 970.6 L1286.6 971.9 L1288.2 972.5 L1289.8 972.8 L1291.4 970.8 L1293 973.8 L1294.6 972.3 L1296.2 972.7 L1297.8 959.8 L1299.4 970.5 L1301 974 L1302.6 972.2 L1304.2 973.2 L1305.8 973.4 L1307.4 971.3 L1309 970.4 L1310.6 971.1 L1312.2 973.7 L1313.8 972.9 L1315.4 974 L1317 973.8 L1318.6 964 L1320.2 972.9 L1321.8 972.1 L1323.4 973.3 L1325 963 L1326.6 971.6 L1328.2 971.8 L1329.8 971.6 L1331.4 972.6 L1333 971.8 L1334.6 972.1 L1336.2 970.3 L1337.8 970.1 L1339.4 973.2 L1341 971.9 L1342.6 973 L1344.2 972.8 L1345.8 969.9 L1347.4 972.2 L1349 970.6 L1350.6 972.6 L1352.2 973.6 L1353.8 971.4 L1355.4 972.6 L1357 972.5 L1358.6 973 L1360.2 973.7 L1361.8 972.7 L1363.4 969.8 L1365 971.3 L1366.6 971.7 L1368.2 973 L1369.8 970 L1371.4 973.4 L1373 970 L1374.6 972 L1376.2 973.1 L1377.8 970.8 L1379.4 970.3 L1381 972.3 L1382.6 972.7 L1384.2 973.5 L1385.8 970.3 L1387.4 970.6 L1389 969.9 L1390.6 971.2 L1392.2 969.9 L1393.8 972.7 L1395.4 972.6 L1397 971.9 L1398.6 961.9 L1400.2 970.7 L1401.8 972.2 L1403.4 971 L1405 969.6 L1405 981.8 L1403.4 983.2 L1401.8 979.8 L1400.2 979.6 L1398.6 982.9 L1397 993.4 L1395.4 979.7 L1393.8 981.6 L1392.2 981.5 L1390.6 982.5 L1389 982.5 L1387.4 982.2 L1385.8 981.2 L1384.2 981.6 L1382.6 980.5 L1381 982.2 L1379.4 981.1 L1377.8 983.5 L1376.2 981.9 L1374.6 980.1 L1373 982.3 L1371.4 983.1 L1369.8 980.9 L1368.2 982.2 L1366.6 984.6 L1365 982 L1363.4 981.2 L1361.8 979.8 L1360.2 988.9 L1358.6 980.9 L1357 981.6 L1355.4 980.9 L1353.8 981.1 L1352.2 981.1 L1350.6 980.6 L1349 983.5 L1347.4 981.6 L1345.8 981 L1344.2 981.3 L1342.6 981.9 L1341 980 L1339.4 980.1 L1337.8 983 L1336.2 983.1 L1334.6 981.8 L1333 982.5 L1331.4 982.9 L1329.8 983.7 L1328.2 988.4 L1326.6 983.6 L1325 981 L1323.4 983.3 L1321.8 983 L1320.2 983.4 L1318.6 981 L1317 983.6 L1315.4 981.9 L1313.8 981.7 L1312.2 980.2 L1310.6 981.2 L1309 982.4 L1307.4 983.2 L1305.8 982 L1304.2 984.1 L1302.6 988.4 L1301 983 L1299.4 982 L1297.8 980.8 L1296.2 980.8 L1294.6 980.6 L1293 980.9 L1291.4 984.2 L1289.8 983.5 L1288.2 981.8 L1286.6 983.3 L1285 981.1 L1283.4 983.9 L1281.8 984.2 L1280.2 981.4 L1278.6 981.5 L1277 983 L1275.4 984.6 L1273.8 983.1 L1272.2 981.9 L1270.6 984.5 L1269 982.3 L1267.4 985 L1265.8 984.9 L1264.2 982.9 L1262.6 981.6 L1261 984.4 L1259.4 983.4 L1257.8 983.3 L1256.2 984.7 L1254.6 982.2 L1253 983.6 L1251.4 985.4 L1249.8 982.1 L1248.2 982.2 L1246.6 983.3 L1245 986.1 L1243.4 985.7 L1241.8 983.4 L1240.2 983.3 L1238.6 985 L1237 983.2 L1235.4 983.6 L1233.8 983.9 L1232.2 984.1 L1230.6 985.2 L1229 983.2 L1227.4 982.6 L1225.8 985.9 L1224.2 984.5 L1222.6 984.8 L1221 981.3 L1219.4 984.3 L1217.8 983.1 L1216.2 982.6 L1214.6 983 L1213 979.7 L1211.4 980 L1209.8 981.8 L1208.2 978.3 L1206.6 986.1 L1205 978.8 L1203.4 977.7 L1201.8 974.1 L1200.2 973.9 L1198.6 970.9 L1197 971 L1195.4 966.2 L1193.8 966.7 L1192.2 963.2 L1190.6 963.1 L1189 963.5Z" fill="#f5dc4a" opacity="0.8"/>
<path d="M1405.5 959 L1406.3 959.5 L1407 959.5 L1407.8 958.8 L1408.5 959.5 L1409.3 959 L1410 958.8 L1410.8 958.7 L1411.5 959.2 L1412.3 958.5 L1413 958.6 L1413.8 958.1 L1414.5 959 L1415.3 957.8 L1416 958.4 L1416.8 957.5 L1417.5 957.6 L1418.3 957 L1419 957.5 L1419.8 957.1 L1420.5 957.1 L1421.3 956.1 L1422 956.2 L1422.8 956.7 L1423.5 957.2 L1424.3 957.8 L1425 958.1 L1425.8 958.2 L1426.5 958.8 L1427.3 959 L1428 960.2 L1428.8 959.8 L1429.5 960.3 L1430.3 961.3 L1431 962.1 L1431.8 962.7 L1432.5 964.3 L1433.3 964.7 L1434 965.6 L1434.8 965.1 L1435.5 965.7 L1436.3 966.5 L1437 966.4 L1437.8 966.3 L1438.5 966.7 L1439.3 966.9 L1440 965.7 L1440.7 966.4 L1441.5 965.2 L1442.2 964.7 L1443 964.7 L1443.7 964.8 L1444.5 965.5 L1445.2 966.2 L1446 966.2 L1446.7 966.2 L1447.5 966.5 L1448.2 966.8 L1449 965.8 L1449.7 966.6 L1450.5 965.7 L1451.2 965.9 L1452 965.3 L1452.7 964.6 L1453.5 965.9 L1454.2 965.2 L1455 965.6 L1455.7 966.1 L1456.5 967.1 L1457.2 967 L1458 967 L1458.7 968 L1459.5 968.1 L1460.2 968.6 L1461 968 L1461.7 968.3 L1462.5 968.3 L1463.2 968.4 L1464 968.6 L1464.7 969.2 L1465.5 968.7 L1466.2 968.4 L1467 968.7 L1467.7 969.8 L1468.5 970.1 L1469.2 970.3 L1470 969.7 L1470.7 970.9 L1471.5 970.8 L1472.2 970.9 L1473 970.5 L1473.7 971.5 L1474.5 971.5 L1475.2 971.1 L1476 972 L1476.7 972.1 L1477.5 972.4 L1478.2 971.5 L1479 972.5 L1479.7 972.3 L1480.4 972.6 L1481.2 972 L1481.9 972.3 L1482.7 972.4 L1483.4 972.6 L1484.2 972.9 L1484.9 972.3 L1485.7 973.1 L1486.4 972.5 L1487.2 972.9 L1487.9 973 L1488.7 972.8 L1489.4 973.1 L1490.2 972.7 L1490.9 973.3 L1491.7 973.4 L1492.4 973.3 L1493.2 973.4 L1493.9 972.5 L1494.7 973 L1495.4 972.8 L1496.2 972.7 L1496.9 973.4 L1497.7 972.6 L1498.4 973.2 L1499.2 973.2 L1499.9 973.2 L1500.7 973 L1501.4 972.9 L1502.2 973.6 L1502.9 972.9 L1503.7 973.4 L1504.4 973.6 L1505.2 972.9 L1505.9 973 L1506.7 973 L1506.7 986.2 L1505.9 986.2 L1505.2 986.9 L1504.4 987.1 L1503.7 986.6 L1502.9 987.2 L1502.2 986.8 L1501.4 986.2 L1500.7 987 L1499.9 986.6 L1499.2 987.1 L1498.4 986.6 L1497.7 987.1 L1496.9 987.2 L1496.2 986.7 L1495.4 986.8 L1494.7 987 L1493.9 986.9 L1493.2 987 L1492.4 987.1 L1491.7 986.9 L1490.9 986.8 L1490.2 986.7 L1489.4 986.6 L1488.7 986.4 L1487.9 986 L1487.2 986.1 L1486.4 986.1 L1485.7 986.5 L1484.9 986.2 L1484.2 986.6 L1483.4 985.8 L1482.7 985.8 L1481.9 985.9 L1481.2 985.9 L1480.4 986.1 L1479.7 985.9 L1479 985.2 L1478.2 985.2 L1477.5 985.3 L1476.7 985.1 L1476 985.6 L1475.2 985.2 L1474.5 984.8 L1473.7 985.3 L1473 984.8 L1472.2 985.1 L1471.5 984.7 L1470.7 985.3 L1470 984.7 L1469.2 984.1 L1468.5 984.5 L1467.7 983.8 L1467 984.1 L1466.2 984 L1465.5 983.6 L1464.7 984.1 L1464 983.5 L1463.2 982.9 L1462.5 983.1 L1461.7 982.8 L1461 983.2 L1460.2 982.9 L1459.5 982.7 L1458.7 982.3 L1458 982.8 L1457.2 982.4 L1456.5 983 L1455.7 982.4 L1455 981.8 L1454.2 982.4 L1453.5 982.2 L1452.7 982.4 L1452 982.2 L1451.2 982.6 L1450.5 982.6 L1449.7 982.6 L1449 982.7 L1448.2 981.9 L1447.5 982.8 L1446.7 982.1 L1446 982.1 L1445.2 982.3 L1444.5 983.2 L1443.7 983.4 L1443 982.9 L1442.2 982.9 L1441.5 984 L1440.7 983.6 L1440 984.8 L1439.3 985 L1438.5 985.2 L1437.8 985.1 L1437 986.2 L1436.3 985.9 L1435.5 987.2 L1434.8 987.2 L1434 987.5 L1433.3 987.2 L1432.5 988.4 L1431.8 987.6 L1431 987.9 L1430.3 988.7 L1429.5 988.6 L1428.8 988.7 L1428 989 L1427.3 988.4 L1426.5 988.6 L1425.8 989.4 L1425 989.4 L1424.3 989.6 L1423.5 989.8 L1422.8 988.7 L1422 989.4 L1421.3 988.8 L1420.5 988.4 L1419.8 988.8 L1419 987.5 L1418.3 987.1 L1417.5 986.7 L1416.8 985.8 L1416 985.3 L1415.3 984.1 L1414.5 983.9 L1413.8 982.7 L1413 982 L1412.3 981 L1411.5 980.3 L1410.8 979.2 L1410 977.9 L1409.3 977.4 L1408.5 976.1 L1407.8 975.3 L1407 974.1 L1406.3 973.2 L1405.5 971.5Z" fill="#f47a7a" opacity="0.85"/>
<path d="M1405.5 965.2 L1406.3 964.5 L1407 964.8 L1407.8 964.9 L1408.5 964.6 L1409.3 965.1 L1410 965.4 L1410.8 965 L1411.5 964.5 L1412.3 965.4 L1413 965 L1413.8 965.2 L1414.5 965.1 L1415.3 965.2 L1416 963.8 L1416.8 964.1 L1417.5 963 L1418.3 963.2 L1419 962.5 L1419.8 962.5 L1420.5 961.4 L1421.3 961 L1422 960.6 L1422.8 960.8 L1423.5 960.6 L1424.3 961.6 L1425 960.9 L1425.8 961.8 L1426.5 961.9 L1427.3 962.5 L1428 963.2 L1428.8 963.6 L1429.5 963.3 L1430.3 964.2 L1431 965 L1431.8 965.3 L1432.5 965.5 L1433.3 966.5 L1434 966.8 L1434.8 966.8 L1435.5 966.4 L1436.3 967.4 L1437 966.7 L1437.8 966.8 L1438.5 966.6 L1439.3 967.2 L1440 966.5 L1440.7 966.5 L1441.5 967.1 L1442.2 966.4 L1443 967.4 L1443.7 966.9 L1444.5 967.5 L1445.2 967.4 L1446 967 L1446.7 967 L1447.5 967.3 L1448.2 967.7 L1449 967.4 L1449.7 967.6 L1450.5 967.7 L1451.2 967.8 L1452 967.8 L1452.7 968 L1453.5 968.6 L1454.2 968.4 L1455 968.8 L1455.7 968.5 L1456.5 968.5 L1457.2 969 L1458 969.7 L1458.7 969.7 L1459.5 969.7 L1460.2 970.5 L1461 970 L1461.7 971.1 L1462.5 970.1 L1463.2 970.6 L1464 970.4 L1464.7 970.7 L1465.5 970.4 L1466.2 971 L1467 971.4 L1467.7 971.3 L1468.5 970.7 L1469.2 970.5 L1470 971.4 L1470.7 971.2 L1471.5 970.9 L1472.2 971.5 L1473 971.6 L1473.7 971.1 L1474.5 971.8 L1475.2 971.6 L1476 971.4 L1476.7 971.5 L1477.5 971.1 L1478.2 971.6 L1479 971.8 L1479.7 972.1 L1480.4 971.4 L1481.2 972.3 L1481.9 972.4 L1482.7 972.1 L1483.4 971.6 L1484.2 972.3 L1484.9 972.1 L1485.7 972.6 L1486.4 972.4 L1487.2 971.7 L1487.9 971.8 L1488.7 972.7 L1489.4 971.8 L1490.2 972.4 L1490.9 972.8 L1491.7 972.6 L1492.4 972 L1493.2 972.9 L1493.9 972.3 L1494.7 972.2 L1495.4 972.2 L1496.2 972.5 L1496.9 972.3 L1497.7 973.3 L1498.4 972.7 L1499.2 972.4 L1499.9 973 L1500.7 973.6 L1501.4 973.3 L1502.2 973.2 L1502.9 973.3 L1503.7 973 L1504.4 973.6 L1505.2 973.9 L1505.9 973.2 L1506.7 972.9 L1506.7 984.9 L1505.9 985.2 L1505.2 984.7 L1504.4 985.3 L1503.7 984.7 L1502.9 985.2 L1502.2 984.6 L1501.4 984.5 L1500.7 984.1 L1499.9 984.4 L1499.2 984.6 L1498.4 984.2 L1497.7 984.8 L1496.9 984 L1496.2 984 L1495.4 984.2 L1494.7 984.6 L1493.9 984.3 L1493.2 984.9 L1492.4 984.9 L1491.7 983.8 L1490.9 984.8 L1490.2 984.1 L1489.4 983.9 L1488.7 983.8 L1487.9 984.2 L1487.2 984.3 L1486.4 983.8 L1485.7 984.5 L1484.9 984.4 L1484.2 984.1 L1483.4 984.5 L1482.7 984.2 L1481.9 984.3 L1481.2 983.8 L1480.4 983.8 L1479.7 984.1 L1479 983.8 L1478.2 983.8 L1477.5 984.3 L1476.7 984.2 L1476 983.4 L1475.2 983.3 L1474.5 983.5 L1473.7 983.9 L1473 983.1 L1472.2 983.4 L1471.5 984 L1470.7 983.5 L1470 983 L1469.2 983.1 L1468.5 983.4 L1467.7 983.2 L1467 983.8 L1466.2 983 L1465.5 983.8 L1464.7 983.9 L1464 983.7 L1463.2 983.4 L1462.5 983.1 L1461.7 982.9 L1461 983.8 L1460.2 983.4 L1459.5 983.4 L1458.7 983 L1458 983 L1457.2 983.1 L1456.5 983 L1455.7 983.4 L1455 983.5 L1454.2 982.7 L1453.5 983.5 L1452.7 982.7 L1452 982.8 L1451.2 983.5 L1450.5 983.6 L1449.7 982.9 L1449 983.1 L1448.2 983.3 L1447.5 983.5 L1446.7 984 L1446 984.7 L1445.2 984 L1444.5 984.8 L1443.7 984.8 L1443 985.3 L1442.2 985 L1441.5 985.9 L1440.7 986.4 L1440 985.9 L1439.3 986.2 L1438.5 987 L1437.8 987.3 L1437 988 L1436.3 987.9 L1435.5 988 L1434.8 988.8 L1434 989.2 L1433.3 989.4 L1432.5 989.6 L1431.8 989.2 L1431 989.1 L1430.3 989.1 L1429.5 989 L1428.8 988.8 L1428 988.4 L1427.3 988.4 L1426.5 987.7 L1425.8 987.7 L1425 987.4 L1424.3 987.4 L1423.5 986.7 L1422.8 986.9 L1422 986 L1421.3 986.3 L1420.5 985.3 L1419.8 985.6 L1419 985.1 L1418.3 985.1 L1417.5 984.4 L1416.8 983.6 L1416 984 L1415.3 983.5 L1414.5 983 L1413.8 982.5 L1413 981 L1412.3 981.2 L1411.5 980.1 L1410.8 979.6 L1410 979.3 L1409.3 977.9 L1408.5 978.2 L1407.8 977.5 L1407 976.9 L1406.3 976.3 L1405.5 975.4Z" fill="#7a7a7a" opacity="0.75"/>
<path d="M1400.9 971.1 L1401.6 970.1 L1402.4 970.4 L1403.1 970.5 L1403.9 970.7 L1404.6 971.2 L1405.4 970.2 L1406.1 971.1 L1406.9 971 L1407.6 970.3 L1408.4 970.8 L1409.1 970.8 L1409.9 970.9 L1410.6 970.6 L1411.3 970.3 L1412.1 970.8 L1412.8 971 L1413.6 970.5 L1414.3 970.8 L1415.1 970.2 L1415.8 971.1 L1416.6 970.7 L1417.3 970.7 L1418.1 970.3 L1418.8 971 L1419.6 970.3 L1420.3 970.5 L1421.1 970.2 L1421.8 970.3 L1422.6 970.6 L1423.3 970.4 L1424.1 971 L1424.8 970.1 L1425.6 970.5 L1426.3 969.9 L1427.1 970.1 L1427.8 969 L1428.6 969.4 L1429.3 968.9 L1430.1 968.8 L1430.8 968.4 L1431.6 968.8 L1432.3 967.9 L1433.1 968.1 L1433.8 967.6 L1434.6 967.2 L1435.3 967.4 L1436.1 967.3 L1436.8 967.5 L1437.6 967.4 L1438.3 966.9 L1439.1 967.3 L1439.8 967.7 L1440.6 967.3 L1441.3 967 L1442.1 967.5 L1442.8 967.3 L1443.6 966.9 L1444.3 967.5 L1445.1 966.8 L1445.8 967.8 L1446.6 967.8 L1447.3 968.2 L1448.1 968 L1448.8 968.6 L1449.6 968 L1450.3 968.7 L1451 968.9 L1451.8 968.8 L1452.5 969.2 L1453.3 969.2 L1454 968.6 L1454.8 969.4 L1455.5 969.1 L1456.3 969.3 L1457 969.5 L1457.8 969.9 L1458.5 970 L1459.3 969.9 L1460 970.7 L1460.8 970.9 L1461.5 971 L1462.3 971.2 L1463 970.7 L1463.8 971.2 L1464.5 970.8 L1465.3 970.7 L1466 971.2 L1466.8 970.7 L1467.5 971 L1468.3 971.2 L1469 971 L1469.8 971.6 L1470.5 971.1 L1471.3 971.6 L1472 970.7 L1472.8 971.2 L1473.5 971.3 L1474.3 971.7 L1475 971.9 L1475.8 971.9 L1476.5 971.7 L1477.3 971.9 L1478 971.2 L1478.8 971.9 L1479.5 971.8 L1480.3 971.9 L1481 972 L1481.8 972.2 L1482.5 971.7 L1483.3 971.6 L1484 971.9 L1484.8 972.3 L1485.5 971.8 L1486.3 972.7 L1487 972 L1487.8 972.3 L1488.5 972.6 L1489.3 971.8 L1490 972.8 L1490.7 972.6 L1491.5 972.3 L1492.2 973 L1493 972.3 L1493.7 973.2 L1494.5 973 L1495.2 972.3 L1496 973.3 L1496.7 972.4 L1497.5 973.2 L1498.2 973 L1499 973.2 L1499.7 972.8 L1500.5 972.9 L1501.2 973.4 L1502 973.4 L1502.7 973.2 L1503.5 972.7 L1504.2 973.3 L1505 973.1 L1505.7 973 L1506.5 973.2 L1506.5 982.7 L1505.7 983.1 L1505 982.5 L1504.2 983.4 L1503.5 982.9 L1502.7 982.9 L1502 983.1 L1501.2 982.7 L1500.5 983.1 L1499.7 982.8 L1499 982.4 L1498.2 982.4 L1497.5 982.5 L1496.7 982.4 L1496 982.5 L1495.2 982.9 L1494.5 982.7 L1493.7 982.5 L1493 982.6 L1492.2 982.7 L1491.5 983.2 L1490.7 982.8 L1490 982.6 L1489.3 983 L1488.5 982.9 L1487.8 983.1 L1487 983.2 L1486.3 982.2 L1485.5 982 L1484.8 983.1 L1484 983.1 L1483.3 982.8 L1482.5 982.1 L1481.8 982.5 L1481 982.3 L1480.3 983 L1479.5 982.8 L1478.8 982.7 L1478 982 L1477.3 982.9 L1476.5 982 L1475.8 982.7 L1475 982.5 L1474.3 981.9 L1473.5 982.2 L1472.8 982.9 L1472 982.9 L1471.3 982.5 L1470.5 982.4 L1469.8 982.2 L1469 982.8 L1468.3 982.7 L1467.5 982.8 L1466.8 981.8 L1466 982.5 L1465.3 982.7 L1464.5 982.4 L1463.8 981.7 L1463 981.7 L1462.3 982.1 L1461.5 981.8 L1460.8 981.9 L1460 981.6 L1459.3 981.8 L1458.5 981.6 L1457.8 982 L1457 982.4 L1456.3 981.6 L1455.5 981.7 L1454.8 982 L1454 982.4 L1453.3 981.5 L1452.5 982.4 L1451.8 982.2 L1451 981.8 L1450.3 982.1 L1449.6 982.5 L1448.8 982.6 L1448.1 982.5 L1447.3 982.8 L1446.6 982.5 L1445.8 982.8 L1445.1 982.5 L1444.3 982.2 L1443.6 983 L1442.8 981.9 L1442.1 982.9 L1441.3 982.7 L1440.6 982.2 L1439.8 982.8 L1439.1 982.5 L1438.3 982.3 L1437.6 982.6 L1436.8 983.3 L1436.1 982.8 L1435.3 983.2 L1434.6 982.7 L1433.8 983.3 L1433.1 982.4 L1432.3 983.2 L1431.6 982.4 L1430.8 982.3 L1430.1 982.1 L1429.3 982.6 L1428.6 982.5 L1427.8 982.9 L1427.1 982.4 L1426.3 982.1 L1425.6 981.9 L1424.8 982.4 L1424.1 981.5 L1423.3 982 L1422.6 981.6 L1421.8 981.9 L1421.1 981.3 L1420.3 982.1 L1419.6 981.3 L1418.8 981.4 L1418.1 981 L1417.3 981.6 L1416.6 981 L1415.8 981 L1415.1 980.7 L1414.3 981 L1413.6 980.8 L1412.8 981 L1412.1 980.5 L1411.3 980.2 L1410.6 979.9 L1409.9 979.7 L1409.1 979.1 L1408.4 979.1 L1407.6 978.9 L1406.9 978.9 L1406.1 978.4 L1405.4 978.9 L1404.6 977.8 L1403.9 977.8 L1403.1 977.5 L1402.4 978 L1401.6 977.4 L1400.9 977.7Z" fill="#5fcfd2" opacity="0.7"/>
<path d="M1396.2 974.6 L1396.9 974.2 L1397.7 973.7 L1398.4 974.8 L1399.2 974.5 L1399.9 973.8 L1400.7 974.5 L1401.4 974.2 L1402.2 974.4 L1402.9 974.5 L1403.7 973.9 L1404.4 973.6 L1405.2 973.9 L1405.9 973.8 L1406.7 974.2 L1407.4 973.6 L1408.2 974.1 L1408.9 974.2 L1409.7 973.8 L1410.4 974.2 L1411.2 973.5 L1411.9 973.9 L1412.7 973.4 L1413.4 973.6 L1414.2 973.2 L1414.9 974.1 L1415.7 974 L1416.4 973.6 L1417.2 973.9 L1417.9 973.6 L1418.7 973.9 L1419.4 973.4 L1420.1 973.2 L1420.9 973.1 L1421.6 973.3 L1422.4 973.8 L1423.1 973.7 L1423.9 973 L1424.6 973.2 L1425.4 973.7 L1426.1 972.9 L1426.9 973.2 L1427.6 972.6 L1428.4 973.3 L1429.1 972.3 L1429.9 972.8 L1430.6 971.9 L1431.4 971.8 L1432.1 972.5 L1432.9 971.8 L1433.6 972.1 L1434.4 971.4 L1435.1 971.9 L1435.9 971.5 L1436.6 971.1 L1437.4 972 L1438.1 971.3 L1438.9 970.7 L1439.6 970.6 L1440.4 970.5 L1441.1 970.8 L1441.9 970.5 L1442.6 970.2 L1443.4 970.7 L1444.1 971.2 L1444.9 970.5 L1445.6 970.5 L1446.4 971 L1447.1 970.9 L1447.9 971.6 L1448.6 970.7 L1449.4 971.3 L1450.1 971.7 L1450.9 971.6 L1451.6 971.7 L1452.4 971.7 L1453.1 971.7 L1453.9 971.5 L1454.6 971.4 L1455.4 972.3 L1456.1 971.8 L1456.9 971.7 L1457.6 972.2 L1458.4 972.3 L1459.1 972.7 L1459.9 972.3 L1460.6 972.8 L1461.3 972.3 L1462.1 973 L1462.8 972 L1463.6 972.3 L1464.3 972.8 L1465.1 972.4 L1465.8 972.7 L1466.6 972.5 L1467.3 972.1 L1468.1 972.1 L1468.8 972.4 L1469.6 972.2 L1470.3 972.4 L1471.1 973 L1471.8 972 L1472.6 972.9 L1473.3 972.2 L1474.1 972.5 L1474.8 972.1 L1475.6 972.8 L1476.3 972.2 L1477.1 972 L1477.8 972.7 L1478.6 972.7 L1479.3 972.1 L1480.1 972.5 L1480.8 972.6 L1481.6 972.4 L1482.3 972.2 L1483.1 973 L1483.8 971.9 L1484.6 972.5 L1485.3 973 L1486.1 972.4 L1486.8 972.5 L1487.6 972.6 L1488.3 972.4 L1489.1 972.9 L1489.8 972.3 L1490.6 972.7 L1491.3 972.2 L1492.1 972.7 L1492.8 972.7 L1493.6 971.9 L1494.3 972.1 L1495.1 972.3 L1495.8 972.6 L1496.6 972.9 L1497.3 972.4 L1498.1 972.5 L1498.8 972.1 L1499.6 973 L1500.3 972.4 L1501 973 L1501.8 972.5 L1502.5 972.6 L1503.3 972.6 L1504 973 L1504.8 972.7 L1505.5 972.9 L1506.3 972.7 L1506.3 981.5 L1505.5 980.6 L1504.8 981.6 L1504 981.5 L1503.3 981 L1502.5 980.8 L1501.8 980.6 L1501 980.6 L1500.3 981.2 L1499.6 981.1 L1498.8 980.7 L1498.1 981 L1497.3 981 L1496.6 981.3 L1495.8 981.6 L1495.1 980.6 L1494.3 980.5 L1493.6 980.6 L1492.8 981.2 L1492.1 980.6 L1491.3 980.8 L1490.6 981.3 L1489.8 981.5 L1489.1 981.3 L1488.3 981.6 L1487.6 981.2 L1486.8 981 L1486.1 981.1 L1485.3 980.7 L1484.6 981.2 L1483.8 981.2 L1483.1 981.4 L1482.3 980.9 L1481.6 981.2 L1480.8 980.7 L1480.1 980.8 L1479.3 980.6 L1478.6 980.9 L1477.8 981.3 L1477.1 981 L1476.3 981.4 L1475.6 981.3 L1474.8 980.7 L1474.1 981.2 L1473.3 981 L1472.6 981.4 L1471.8 981.6 L1471.1 980.7 L1470.3 980.8 L1469.6 981.2 L1468.8 980.6 L1468.1 980.7 L1467.3 980.6 L1466.6 981.5 L1465.8 980.8 L1465.1 980.9 L1464.3 981.5 L1463.6 980.5 L1462.8 980.7 L1462.1 981.1 L1461.3 980.8 L1460.6 981.5 L1459.9 980.9 L1459.1 981.1 L1458.4 980.8 L1457.6 981.5 L1456.9 981.3 L1456.1 981.6 L1455.4 981.2 L1454.6 980.8 L1453.9 981 L1453.1 980.9 L1452.4 981.1 L1451.6 981.1 L1450.9 981.3 L1450.1 981.2 L1449.4 981.3 L1448.6 980.8 L1447.9 980.5 L1447.1 980.6 L1446.4 981.2 L1445.6 980.6 L1444.9 980.4 L1444.1 981.3 L1443.4 980.7 L1442.6 981.2 L1441.9 980.5 L1441.1 981 L1440.4 980.3 L1439.6 980.6 L1438.9 980.4 L1438.1 980.7 L1437.4 980.4 L1436.6 980 L1435.9 980.8 L1435.1 980.9 L1434.4 980 L1433.6 980.5 L1432.9 980.5 L1432.1 980.7 L1431.4 980 L1430.6 979.9 L1429.9 980.4 L1429.1 979.8 L1428.4 980.6 L1427.6 980.2 L1426.9 980.8 L1426.1 979.8 L1425.4 980.1 L1424.6 980.3 L1423.9 980.5 L1423.1 979.8 L1422.4 980.5 L1421.6 980.7 L1420.9 979.6 L1420.1 980.6 L1419.4 979.9 L1418.7 980 L1417.9 980.4 L1417.2 980.5 L1416.4 980.2 L1415.7 979.8 L1414.9 979.6 L1414.2 979.7 L1413.4 980.3 L1412.7 980.3 L1411.9 980.6 L1411.2 980.6 L1410.4 980.3 L1409.7 980.3 L1408.9 980 L1408.2 980.2 L1407.4 980.4 L1406.7 979.7 L1405.9 980 L1405.2 979.9 L1404.4 980.6 L1403.7 980 L1402.9 979.8 L1402.2 980.4 L1401.4 979.7 L1400.7 980.2 L1399.9 979.7 L1399.2 980.7 L1398.4 980 L1397.7 980.5 L1396.9 979.9 L1396.2 980.4Z" fill="#e2cf30" opacity="0.75"/>
<path d="M1189.8 955.2C1192 957.5 1197.4 965.1 1203.2 968.7C1209 972.3 1215.3 975.3 1224.8 976.8C1234.3 978.3 1230 977.5 1260 977.5C1290 977.5 1380.8 976.7 1405 976.5" fill="none" stroke="#ffd000" stroke-width="2.8"/>
<path d="M1189.8 956.6C1193.4 955.9 1203.2 954 1211.3 952.6C1219.4 951.2 1227.1 948.5 1238.3 948.5C1249.5 948.5 1265.2 952.1 1278.7 952.6C1292.2 953.1 1308 950.8 1319.2 951.2C1330.4 951.6 1337.1 953.2 1346.1 955.2C1355.1 957.2 1364.1 960.6 1373.1 963.3C1382.1 966 1393.1 969.6 1400.1 971.4C1407.1 973.2 1412.5 973.6 1415 974" fill="none" stroke="#33cccc" stroke-width="2.8"/>
<path d="M1189.8 906.7C1193.4 906.5 1203.2 905 1211.3 905.4C1219.4 905.8 1229.3 907.6 1238.3 909.4C1247.3 911.2 1256.3 914.6 1265.3 916.2C1274.3 917.8 1283.2 918.2 1292.2 918.9C1301.2 919.6 1310.2 919.5 1319.2 920.2C1328.2 920.9 1337.1 920.2 1346.1 922.9C1355.1 925.6 1366.3 932.3 1373.1 936.4C1379.8 940.5 1382.1 943.2 1386.6 947.2C1391.1 951.2 1396.2 957.1 1400.1 960.6C1404 964.1 1406.7 966 1410 968C1413.3 970 1418.3 971.8 1420 972.5" fill="none" stroke="#ff3b3b" stroke-width="2.8"/>
<path d="M1189.8 858.2C1193.4 856.9 1203.2 852.4 1211.3 850.6C1219.4 848.8 1229.3 846.6 1238.3 847.4C1247.3 848.2 1256.3 852.8 1265.3 855.5C1274.3 858.2 1283.2 860.7 1292.2 863.6C1301.2 866.5 1310.2 869 1319.2 873C1328.2 877 1337.1 881.3 1346.1 887.8C1355.1 894.3 1366.3 904.9 1373.1 912.1C1379.8 919.3 1382.1 924.2 1386.6 931C1391.1 937.8 1396.2 946.8 1400.1 952.6C1404 958.4 1406.7 962.7 1410 966C1413.3 969.3 1418.3 971.4 1420 972.5" fill="none" stroke="#3a3a3a" stroke-width="2.8"/>
</g>
<line x1="1189.8" y1="978.6" x2="1507.4" y2="978.6" stroke="#000" stroke-width="2"/>
<rect x="1189.8" y="817.7" width="317.6" height="182" fill="none" stroke="#000" stroke-width="2.4"/>
<line x1="1189.8" y1="955.9" x2="1195.8" y2="955.9" stroke="#000" stroke-width="2"/><line x1="1189.8" y1="933.2" x2="1195.8" y2="933.2" stroke="#000" stroke-width="2"/><line x1="1189.8" y1="910.5" x2="1195.8" y2="910.5" stroke="#000" stroke-width="2"/><line x1="1189.8" y1="887.8" x2="1195.8" y2="887.8" stroke="#000" stroke-width="2"/><line x1="1189.8" y1="865.1" x2="1195.8" y2="865.1" stroke="#000" stroke-width="2"/><line x1="1189.8" y1="842.4" x2="1195.8" y2="842.4" stroke="#000" stroke-width="2"/>
<line x1="1269.3" y1="999.7" x2="1269.3" y2="993.7" stroke="#000" stroke-width="2"/><line x1="1348.3" y1="999.7" x2="1348.3" y2="993.7" stroke="#000" stroke-width="2"/><line x1="1427" y1="999.7" x2="1427" y2="993.7" stroke="#000" stroke-width="2"/>
<text x="1180.3" y="986.2" font-size="24.4" text-anchor="end">0</text>
<text x="1180.3" y="940.3" font-size="24.4" text-anchor="end">0.4</text>
<text x="1180.3" y="895" font-size="24.4" text-anchor="end">0.8</text>
<text x="1180.3" y="849.5" font-size="24.4" text-anchor="end">1.2</text>
<text x="1191.1" y="1026.4" font-size="24.4" text-anchor="middle">0.01</text>
<text x="1269.3" y="1026.4" font-size="24.4" text-anchor="middle">0.1</text>
<text x="1348.3" y="1026.4" font-size="24.4" text-anchor="middle">1</text>
<text x="1427" y="1026.4" font-size="24.4" text-anchor="middle">10</text>
<text x="1505.2" y="1026.4" font-size="24.4" text-anchor="middle">100</text>
<text x="1344.7" y="1060.5" font-size="25" text-anchor="middle">Log time (s)</text>
<text x="1125.5" y="904.9" font-size="25" text-anchor="middle" transform="rotate(-90 1125.5 904.9)"><tspan font-style="italic">G</tspan> (<tspan font-family="'Liberation Serif', serif" font-style="italic">τ</tspan>,<tspan font-family="'Liberation Serif', serif" font-style="italic">δr</tspan>)</text>
<text x="1499.1" y="842.6" font-size="24.8" text-anchor="end" font-weight="bold">pCF0</text>
<text x="1499.1" y="871.8" font-size="24.8" text-anchor="end" font-weight="bold" fill="#c00000">pCF4</text>
<text x="1499.1" y="901.4" font-size="24.8" text-anchor="end" font-weight="bold" fill="#14a5c8">pCF7</text>
<text x="1499.1" y="930.8" font-size="24.8" text-anchor="end" font-weight="bold" fill="#ffcc00">pCF12</text>
<text x="1572" y="32.6" font-size="42" font-weight="bold">j</text>
<ellipse cx="1676.6" cy="130.4" rx="37.5" ry="94.5" fill="#bfbfbf" stroke="#5a5a5a" stroke-width="2.8" stroke-dasharray="2.8 3"/>
<circle cx="1803.4" cy="126.8" r="89.5" fill="#767171" stroke="#000" stroke-width="3"/>
<rect x="1634.2" y="25" width="146.7" height="207.2" fill="none" stroke="#000" stroke-width="2.2"/>
<rect x="1794.8" y="25" width="147.2" height="207.2" fill="none" stroke="#000" stroke-width="2.2"/>
<rect x="1677.2" y="128.2" width="24.4" height="6" fill="#ff0000"/><polygon points="1720.6,131.2 1700.6,141.4 1700.6,121" fill="#ff0000"/>
<rect x="1675.8" y="146.4" width="70.6" height="6" fill="#00cc99"/><polygon points="1765.4,149.4 1745.4,159.6 1745.4,139.2" fill="#00cc99"/>
<rect x="1677.2" y="163.2" width="135.8" height="6" fill="#eeee00"/><polygon points="1832,166.2 1812,176.4 1812,156" fill="#eeee00"/>
<circle cx="1659.5" cy="125.5" r="17.6" fill="#92d050" stroke="#f4f4f4" stroke-width="2.4"/>
<circle cx="1658.1" cy="162.4" r="17.6" fill="#ff0000" stroke="#f4f4f4" stroke-width="2.4"/>
<rect x="1846.9" y="87.4" width="25.8" height="6" fill="#ff0000"/><polygon points="1891.7,90.4 1871.7,100.6 1871.7,80.2" fill="#ff0000"/>
<rect x="1846.9" y="105.6" width="70.6" height="6" fill="#00cc99"/><polygon points="1936.5,108.6 1916.5,118.8 1916.5,98.4" fill="#00cc99"/>
<rect x="1852.3" y="122.7" width="89.1" height="6" fill="#eeee00"/>
<circle cx="1827.9" cy="84.7" r="18.3" fill="#92d050" stroke="#f4f4f4" stroke-width="2.4"/>
<circle cx="1827.9" cy="121.7" r="18.3" fill="#ff0000" stroke="#f4f4f4" stroke-width="2.4"/>
<line x1="1891.7" y1="196.1" x2="1856.9" y2="161.8" stroke="#000" stroke-width="2.6"/>
<polygon points="1848.3,153.4 1866,159.6 1854.8,171" fill="#000"/>
<text x="1927" y="220" font-size="24.8" text-anchor="end" font-weight="bold">FOCI</text>
<rect x="1633.6" y="241.3" width="96.3" height="35.8" fill="none" stroke="#000" stroke-width="2.4"/>
<text x="1647.3" y="267.2" font-size="24.8" font-weight="bold" fill="#ff0000">pCF4</text>
<rect x="1735.7" y="241.3" width="96.1" height="35.8" fill="none" stroke="#000" stroke-width="2.4"/>
<text x="1755.4" y="267.2" font-size="24.8" font-weight="bold" fill="#17bac8">pCF7</text>
<rect x="1841" y="240.5" width="101.4" height="37.8" fill="none" stroke="#000" stroke-width="2.4"/>
<text x="1852.9" y="267.2" font-size="24.8" font-weight="bold" fill="#c6bc00">pCF12</text>
<clipPath id="kc"><rect x="1672" y="349.8" width="276" height="257.8"/></clipPath><g clip-path="url(#kc)">
<path d="M1672.5 478.3 L1673.5 478.5 L1674.5 478.1 L1675.5 475.5 L1676.5 477.1 L1677.5 476.2 L1678.5 472.6 L1679.5 475 L1680.5 475.1 L1681.5 475 L1682.5 474 L1683.5 473.8 L1684.5 473.2 L1685.5 465.8 L1686.5 471.9 L1687.5 471.5 L1688.5 470.7 L1689.5 470.4 L1690.5 460.5 L1691.5 467.8 L1692.5 466.4 L1693.5 466.3 L1694.5 464.1 L1695.5 462.5 L1696.5 462 L1697.5 453.5 L1698.5 466.8 L1699.5 468.9 L1700.5 470.6 L1701.5 470.4 L1702.5 469.4 L1703.5 469.9 L1704.5 469.4 L1705.5 469.8 L1706.5 469.5 L1707.5 453.7 L1708.5 468.6 L1709.5 453.6 L1710.5 468.8 L1711.5 455.3 L1712.5 468 L1713.5 468.8 L1714.5 468 L1715.5 452.1 L1716.5 468.4 L1717.5 469.4 L1718.5 451.9 L1719.5 468.3 L1720.5 468.3 L1721.5 468.5 L1722.5 450.1 L1723.5 469.2 L1724.5 468.9 L1725.5 468.5 L1726.5 469 L1727.5 469.4 L1728.5 468.2 L1729.5 468.5 L1730.5 468.2 L1731.5 457.7 L1732.5 454.3 L1733.5 468.2 L1734.5 448.3 L1735.5 468.1 L1736.5 446.6 L1737.5 468.6 L1738.5 468.3 L1739.5 467.9 L1740.5 468.5 L1741.5 468.3 L1742.5 468.7 L1743.5 468.2 L1744.5 468.8 L1745.5 431.1 L1746.5 441.5 L1747.5 425.8 L1748.5 467.4 L1749.5 467.7 L1750.5 435.7 L1751.5 468.4 L1752.5 434 L1753.5 468.4 L1754.5 467.8 L1755.5 468.8 L1756.5 468.5 L1757.5 468.3 L1758.5 426 L1759.5 424.3 L1760.5 468.9 L1761.5 468.5 L1762.5 468.9 L1763.5 469.4 L1764.5 429.8 L1765.5 469 L1766.5 469.1 L1767.5 448 L1768.5 468.7 L1769.5 469.3 L1770.5 469.7 L1771.5 469.5 L1772.5 470.1 L1773.5 468.7 L1774.5 445.9 L1775.5 469.3 L1776.5 447.5 L1777.5 470.4 L1778.5 469.1 L1779.5 469.4 L1780.5 463.2 L1781.5 469.8 L1782.5 470.4 L1783.5 470.4 L1784.5 470.2 L1785.5 470.7 L1786.5 463.1 L1787.5 470.1 L1788.5 470.7 L1789.5 470.1 L1790.5 470 L1791.5 456.7 L1792.5 469.8 L1793.5 469.8 L1794.5 471 L1795.5 469.9 L1796.5 469.6 L1797.5 469.9 L1798.5 469.5 L1799.5 469.6 L1800.5 469.9 L1801.5 469.8 L1802.5 470.2 L1803.5 469.8 L1804.5 470.5 L1805.5 457.2 L1806.5 470.3 L1807.5 469 L1808.5 462.1 L1809.5 468.9 L1810.5 470.1 L1811.5 469.3 L1812.5 468.7 L1813.5 463.2 L1814.5 469.7 L1815.5 456.4 L1816.5 468.7 L1817.5 468.9 L1818.5 469.3 L1819.5 468.3 L1820.5 467.6 L1821.5 468.2 L1822.5 467.3 L1823.5 468.2 L1824.5 467.3 L1825.5 458.4 L1826.5 460.4 L1827.5 466.9 L1828.5 467.3 L1829.5 466.5 L1830.5 457.7 L1831.5 460.3 L1832.5 460.4 L1833.5 461.3 L1834.5 465.2 L1835.5 464.5 L1836.5 464.4 L1837.5 464 L1838.5 459.4 L1839.5 457.3 L1840.5 463.1 L1841.5 462.7 L1842.5 462.3 L1843.5 461 L1844.5 459.8 L1845.5 454.6 L1846.5 459.6 L1847.5 459.6 L1848.5 455.2 L1849.5 459.1 L1850.5 459.5 L1851.5 453.5 L1852.5 459 L1853.5 459 L1854.5 459.4 L1855.5 459.3 L1856.5 460.1 L1857.5 460.1 L1858.5 460.8 L1859.5 457.3 L1860.5 454.3 L1861.5 459.8 L1862.5 460.2 L1863.5 460.2 L1864.5 460.1 L1865.5 456.5 L1866.5 460.8 L1867.5 461.5 L1868.5 461.8 L1869.5 461.6 L1870.5 456 L1871.5 462.1 L1872.5 462.3 L1873.5 457.7 L1874.5 463.1 L1875.5 463.2 L1876.5 458.1 L1877.5 463.8 L1878.5 464 L1879.5 463.6 L1880.5 461.8 L1881.5 465.2 L1882.5 465.5 L1883.5 465.2 L1884.5 465.2 L1885.5 465.4 L1886.5 465.9 L1887.5 465.7 L1888.5 467 L1889.5 467.2 L1890.5 464.2 L1891.5 467.5 L1892.5 462.7 L1893.5 466.7 L1894.5 467.2 L1895.5 467.4 L1896.5 467.7 L1897.5 467 L1898.5 468.2 L1899.5 468 L1900.5 463.4 L1901.5 467.8 L1902.5 467.3 L1903.5 468.4 L1904.5 468.9 L1905.5 467.9 L1906.5 468.1 L1907.5 468.3 L1908.5 468.7 L1909.5 469.1 L1910.5 468.6 L1911.5 468.2 L1912.5 468.9 L1913.5 468.5 L1914.5 469.7 L1915.5 467.2 L1916.5 469.8 L1917.5 469.3 L1918.5 469.7 L1919.5 469.8 L1920.5 469.6 L1921.5 466.8 L1922.5 470.5 L1923.5 469.7 L1924.5 469.8 L1925.5 470.5 L1926.5 469.5 L1927.5 470.4 L1928.5 470.1 L1929.5 470.3 L1930.5 470.7 L1931.5 468.7 L1932.5 470.5 L1933.5 468.7 L1934.5 471.1 L1935.5 471.5 L1936.5 471.2 L1937.5 471 L1938.5 471.6 L1939.5 470.6 L1940.5 471.8 L1941.5 469.6 L1942.5 471.7 L1943.5 471.3 L1944.5 469.3 L1945.5 472.3 L1946.5 471.5 L1947.5 471.5 L1947.5 483.4 L1946.5 482.9 L1945.5 484.2 L1944.5 483.6 L1943.5 483 L1942.5 484.1 L1941.5 484.7 L1940.5 484.3 L1939.5 485.3 L1938.5 483.9 L1937.5 486.4 L1936.5 483.8 L1935.5 484.8 L1934.5 485 L1933.5 485 L1932.5 484.4 L1931.5 484.8 L1930.5 487.2 L1929.5 485 L1928.5 484 L1927.5 484.3 L1926.5 485.2 L1925.5 484.6 L1924.5 484.7 L1923.5 485.5 L1922.5 485.8 L1921.5 485 L1920.5 484.9 L1919.5 488.6 L1918.5 487.7 L1917.5 488.9 L1916.5 486.1 L1915.5 486.1 L1914.5 486.1 L1913.5 486.1 L1912.5 485.6 L1911.5 485.6 L1910.5 484.5 L1909.5 485.6 L1908.5 486.5 L1907.5 484.3 L1906.5 483.8 L1905.5 484.8 L1904.5 483.8 L1903.5 484.6 L1902.5 487.4 L1901.5 485.9 L1900.5 484.3 L1899.5 483.5 L1898.5 483.2 L1897.5 482.5 L1896.5 482.9 L1895.5 482.6 L1894.5 482.2 L1893.5 482 L1892.5 482 L1891.5 481.7 L1890.5 481.5 L1889.5 481.9 L1888.5 482.7 L1887.5 481.3 L1886.5 482.5 L1885.5 482 L1884.5 481.7 L1883.5 482.7 L1882.5 482.4 L1881.5 481.5 L1880.5 485.4 L1879.5 482.7 L1878.5 484.2 L1877.5 486.5 L1876.5 482.5 L1875.5 486 L1874.5 482.9 L1873.5 483.8 L1872.5 483.6 L1871.5 483.4 L1870.5 483.6 L1869.5 484.3 L1868.5 486.9 L1867.5 485 L1866.5 485.2 L1865.5 489 L1864.5 486.5 L1863.5 485.9 L1862.5 488.1 L1861.5 486.5 L1860.5 487.3 L1859.5 486.9 L1858.5 488.2 L1857.5 486.7 L1856.5 487 L1855.5 490.7 L1854.5 487.2 L1853.5 488.5 L1852.5 488 L1851.5 488.5 L1850.5 489 L1849.5 488.7 L1848.5 490.1 L1847.5 495 L1846.5 490.6 L1845.5 491.7 L1844.5 491.4 L1843.5 491.9 L1842.5 492.7 L1841.5 493.2 L1840.5 496.4 L1839.5 493 L1838.5 493.8 L1837.5 494.3 L1836.5 494.6 L1835.5 495.7 L1834.5 494.9 L1833.5 496.2 L1832.5 496.6 L1831.5 496.5 L1830.5 497.7 L1829.5 497.6 L1828.5 501.7 L1827.5 498.1 L1826.5 498.1 L1825.5 498.1 L1824.5 506.9 L1823.5 499.4 L1822.5 498.7 L1821.5 508.8 L1820.5 499.5 L1819.5 499.4 L1818.5 499.6 L1817.5 499.9 L1816.5 500.3 L1815.5 501.2 L1814.5 500.8 L1813.5 513.7 L1812.5 501.7 L1811.5 501.3 L1810.5 502.2 L1809.5 507.8 L1808.5 509.2 L1807.5 502.2 L1806.5 503.6 L1805.5 509 L1804.5 503.5 L1803.5 503.9 L1802.5 504.5 L1801.5 503.8 L1800.5 505 L1799.5 523.5 L1798.5 505.4 L1797.5 504.7 L1796.5 505.7 L1795.5 506 L1794.5 505.7 L1793.5 522.4 L1792.5 506.8 L1791.5 506.5 L1790.5 506.6 L1789.5 507.8 L1788.5 531.4 L1787.5 507.2 L1786.5 507.8 L1785.5 508 L1784.5 509 L1783.5 509.1 L1782.5 508.4 L1781.5 510.2 L1780.5 509.7 L1779.5 509.5 L1778.5 510.1 L1777.5 565.6 L1776.5 567 L1775.5 510.7 L1774.5 511.5 L1773.5 511.5 L1772.5 512.1 L1771.5 512.4 L1770.5 542 L1769.5 512.1 L1768.5 542.2 L1767.5 555.4 L1766.5 512.9 L1765.5 513 L1764.5 513.2 L1763.5 547.2 L1762.5 514.3 L1761.5 514.5 L1760.5 514.7 L1759.5 515 L1758.5 514.1 L1757.5 514.9 L1756.5 515.5 L1755.5 514.8 L1754.5 555 L1753.5 516.1 L1752.5 515.2 L1751.5 515.9 L1750.5 515.7 L1749.5 515.9 L1748.5 516 L1747.5 517 L1746.5 516.9 L1745.5 558 L1744.5 517.8 L1743.5 580.6 L1742.5 518.5 L1741.5 518 L1740.5 518.8 L1739.5 518.2 L1738.5 517.3 L1737.5 566.9 L1736.5 518 L1735.5 517.6 L1734.5 517.1 L1733.5 517.1 L1732.5 516.6 L1731.5 515.9 L1730.5 516.2 L1729.5 515.4 L1728.5 515.7 L1727.5 566.1 L1726.5 515.5 L1725.5 515.8 L1724.5 516.4 L1723.5 517.1 L1722.5 516.5 L1721.5 517.6 L1720.5 517.7 L1719.5 560.7 L1718.5 517 L1717.5 517.6 L1716.5 518.3 L1715.5 518 L1714.5 518.8 L1713.5 517.8 L1712.5 518.2 L1711.5 518.1 L1710.5 549.9 L1709.5 518.3 L1708.5 517.8 L1707.5 518.6 L1706.5 518.7 L1705.5 518.2 L1704.5 540.7 L1703.5 518.7 L1702.5 518.8 L1701.5 518.5 L1700.5 520 L1699.5 519.9 L1698.5 548.2 L1697.5 522.5 L1696.5 522.8 L1695.5 522.9 L1694.5 523.7 L1693.5 537.1 L1692.5 536.5 L1691.5 524.5 L1690.5 523.4 L1689.5 523 L1688.5 522.4 L1687.5 521.1 L1686.5 536 L1685.5 521.4 L1684.5 523.3 L1683.5 523.8 L1682.5 529 L1681.5 524.2 L1680.5 524.9 L1679.5 525.4 L1678.5 527 L1677.5 527 L1676.5 533.3 L1675.5 532.4 L1674.5 529.8 L1673.5 530.2 L1672.5 530.3Z" fill="#c2c2c2"/>
<path d="M1672.5 396 L1673.3 395.6 L1674.1 395.5 L1674.9 396.8 L1675.7 394.6 L1676.5 396.7 L1677.3 395.6 L1678.1 395.7 L1678.9 394.9 L1679.7 394.9 L1680.5 392.9 L1681.3 391.8 L1682.1 389 L1682.9 386.5 L1683.7 385.8 L1684.5 383.3 L1685.3 381.7 L1686.1 381.9 L1686.9 381.2 L1687.7 381.9 L1688.5 381.7 L1689.3 380.2 L1690.1 381.4 L1690.9 378 L1691.7 373.7 L1692.5 368.8 L1693.3 365.2 L1694.1 362 L1694.9 358.5 L1695.7 355.6 L1696.5 349.4 L1697.3 350.5 L1698.1 355.6 L1698.9 359.9 L1699.7 366.6 L1700.5 369.1 L1701.3 373.2 L1702.1 374.4 L1702.9 377.1 L1703.7 380.4 L1704.5 382.2 L1705.3 383.3 L1706.1 382.4 L1706.9 382.5 L1707.7 379.2 L1708.5 379.2 L1709.3 379.4 L1710.1 378.1 L1710.9 378.1 L1711.7 376.1 L1712.5 375.3 L1713.3 373.1 L1714.1 370.2 L1714.9 370.1 L1715.7 371.1 L1716.5 371.5 L1717.3 372.5 L1718.1 374.3 L1718.9 373.8 L1719.7 375.3 L1720.5 377.3 L1721.3 381.2 L1722.1 383.3 L1722.9 383.3 L1723.7 386.1 L1724.5 387.7 L1725.3 387.2 L1726.1 385.5 L1726.9 392.5 L1727.7 391.2 L1728.5 384.7 L1729.3 397.1 L1730.1 392.3 L1730.9 399.5 L1731.7 384.3 L1732.5 400.8 L1733.3 401.5 L1734.1 390.5 L1734.9 389.9 L1735.7 402.5 L1736.5 404.1 L1737.3 403.6 L1738.1 395.9 L1738.9 404.6 L1739.7 398.1 L1740.5 405 L1741.3 406 L1742.1 406.3 L1742.9 406.1 L1743.7 405.2 L1744.5 405 L1745.3 405.6 L1746.1 405.7 L1746.9 406.2 L1747.7 397.4 L1748.5 395.1 L1749.3 405.7 L1750.1 406.1 L1750.9 405.9 L1751.7 406.3 L1752.5 405.6 L1753.3 394.8 L1754.1 406.9 L1754.9 388.1 L1755.7 406.2 L1756.5 393.4 L1757.3 406.5 L1758.1 407.1 L1758.9 406 L1759.7 396.7 L1760.5 406.4 L1761.3 407.1 L1762.1 392 L1762.9 406 L1763.7 406.5 L1764.5 406.6 L1765.3 407 L1766.1 407.1 L1766.9 406.7 L1767.7 383.6 L1768.5 407.1 L1769.3 406.7 L1770.1 383.8 L1770.9 406.9 L1771.7 407.8 L1772.5 407.5 L1773.3 396.2 L1774.1 408 L1774.9 388.4 L1775.7 392 L1776.5 408.4 L1777.3 398.4 L1778.1 408.6 L1778.9 387.1 L1779.7 408 L1780.5 409.3 L1781.3 391.8 L1782.1 409.1 L1782.9 394.5 L1783.7 409.7 L1784.5 409.7 L1785.3 402.2 L1786.1 393.3 L1786.9 410.5 L1787.7 410.5 L1788.5 410.8 L1789.3 395.1 L1790.1 411.6 L1790.9 410.8 L1791.7 404.5 L1792.5 411.3 L1793.3 395.3 L1794.1 398 L1794.9 401.9 L1795.7 412.1 L1796.5 412.3 L1797.3 412.3 L1798.1 413 L1798.9 413 L1799.7 412.9 L1800.5 400.3 L1801.3 414.6 L1802.1 414.7 L1802.9 414.4 L1803.7 415.1 L1804.5 415 L1805.3 415.5 L1806.1 416 L1806.9 416 L1807.7 408 L1808.5 416.5 L1809.3 416.7 L1810.1 416.8 L1810.9 417.5 L1811.7 417.9 L1812.5 418 L1813.3 418.8 L1814.1 418.4 L1814.9 412.3 L1815.7 419 L1816.5 420.8 L1817.3 404.4 L1818.1 421.6 L1818.9 422.1 L1819.7 410.9 L1820.5 423.3 L1821.3 410.4 L1822.1 423.6 L1822.9 424 L1823.7 423.7 L1824.5 425.3 L1825.3 426.1 L1826.1 426.2 L1826.9 426.2 L1827.7 426.8 L1828.5 427.7 L1829.3 413.7 L1830.1 429.8 L1830.9 430.3 L1831.7 424.5 L1832.5 433.3 L1833.3 433 L1834.1 434.2 L1834.9 435.4 L1835.7 430.3 L1836.5 431.4 L1837.3 437.9 L1838.1 423.6 L1838.9 440.2 L1839.7 441 L1840.5 432.8 L1841.3 429.5 L1842.1 443.7 L1842.9 444.9 L1843.7 446.2 L1844.5 447.3 L1845.3 433.5 L1846.1 443.5 L1846.9 450.9 L1847.7 451.6 L1848.5 451.7 L1849.3 453.6 L1850.1 453.4 L1850.9 455.5 L1851.7 451.3 L1852.5 457.4 L1853.3 457.7 L1854.1 457.9 L1854.9 458.4 L1855.7 459.7 L1856.5 460.6 L1857.3 451.8 L1858.1 460.9 L1858.9 456.3 L1859.7 462.1 L1860.5 463 L1861.3 464.2 L1862.1 464 L1862.9 464.4 L1863.7 466.4 L1864.5 463.7 L1865.3 461.1 L1866.1 463.2 L1866.9 464.2 L1867.7 467 L1868.5 467.5 L1869.3 467.9 L1870.1 468.5 L1870.9 464.4 L1871.7 468.6 L1872.5 461.1 L1873.3 467.8 L1874.1 465.9 L1874.9 468.6 L1875.7 469.3 L1876.5 466.3 L1877.3 469.8 L1878.1 466 L1878.9 463 L1879.7 469.3 L1880.5 469.8 L1881.3 465.4 L1882.1 466.4 L1882.9 471 L1883.7 470.5 L1884.5 470.1 L1885.3 468.6 L1886.1 471.2 L1886.9 471.2 L1887.7 466.5 L1888.5 465.7 L1889.3 471.4 L1890.1 472.2 L1890.9 471.6 L1891.7 470.6 L1892.5 470.4 L1893.3 470.5 L1894.1 466.6 L1894.9 470.4 L1895.7 470.2 L1896.5 469.7 L1897.3 469.3 L1898.1 463.1 L1898.9 468.1 L1899.7 467.4 L1900.5 467.6 L1901.3 466.5 L1902.1 466.7 L1902.9 466.2 L1903.7 467.2 L1904.5 462.3 L1905.3 466.7 L1906.1 462.7 L1906.9 466 L1907.7 460.9 L1908.5 462.4 L1909.3 466.2 L1910.1 465.8 L1910.9 462 L1911.7 461.9 L1912.5 465 L1913.3 463.4 L1914.1 465.8 L1914.9 460.6 L1915.7 466.1 L1916.5 459.8 L1917.3 463.9 L1918.1 465.8 L1918.9 466.4 L1919.7 466.3 L1920.5 465.8 L1921.3 466.2 L1922.1 461.1 L1922.9 461.3 L1923.7 466.6 L1924.5 460.3 L1925.3 467.3 L1926.1 461.7 L1926.9 467.6 L1927.7 467.1 L1928.5 466.4 L1929.3 467.1 L1930.1 466.9 L1930.9 467.7 L1931.7 467.7 L1932.5 467.6 L1933.3 464.9 L1934.1 467.1 L1934.9 467.6 L1935.7 464 L1936.5 467.5 L1937.3 467.3 L1938.1 467.7 L1938.9 462.5 L1939.7 468.1 L1940.5 465.2 L1941.3 468.2 L1942.1 468.1 L1942.9 469.3 L1943.7 464.5 L1944.5 468.7 L1945.3 469.7 L1946.1 468.9 L1946.9 463.1 L1946.9 486 L1946.1 486.4 L1945.3 485.4 L1944.5 486.7 L1943.7 487 L1942.9 486.2 L1942.1 486.2 L1941.3 486.5 L1940.5 487.6 L1939.7 486.5 L1938.9 487.3 L1938.1 486.6 L1937.3 487.6 L1936.5 489 L1935.7 488 L1934.9 489.4 L1934.1 488.3 L1933.3 487.7 L1932.5 491 L1931.7 491.6 L1930.9 487.9 L1930.1 488.4 L1929.3 489.6 L1928.5 488.5 L1927.7 488.9 L1926.9 488.3 L1926.1 489.7 L1925.3 489.4 L1924.5 490 L1923.7 492.8 L1922.9 491.7 L1922.1 490 L1921.3 489.8 L1920.5 490.5 L1919.7 489.5 L1918.9 489.9 L1918.1 494 L1917.3 489.7 L1916.5 491 L1915.7 491.1 L1914.9 490.5 L1914.1 490.9 L1913.3 491.1 L1912.5 490.3 L1911.7 490.8 L1910.9 490.1 L1910.1 490.6 L1909.3 493.7 L1908.5 490.8 L1907.7 488.7 L1906.9 488.6 L1906.1 489.4 L1905.3 488.1 L1904.5 492 L1903.7 491 L1902.9 491.9 L1902.1 492.6 L1901.3 491 L1900.5 488.3 L1899.7 488.6 L1898.9 488.7 L1898.1 489 L1897.3 489.2 L1896.5 489.9 L1895.7 491.9 L1894.9 490.2 L1894.1 493.9 L1893.3 491.9 L1892.5 490.5 L1891.7 490.9 L1890.9 493.3 L1890.1 490.5 L1889.3 495 L1888.5 494.7 L1887.7 491.8 L1886.9 494.9 L1886.1 495.3 L1885.3 497.6 L1884.5 493.4 L1883.7 493.8 L1882.9 494.8 L1882.1 499.1 L1881.3 497 L1880.5 495.7 L1879.7 496.1 L1878.9 495.7 L1878.1 499.4 L1877.3 499.3 L1876.5 494.6 L1875.7 494.8 L1874.9 499.6 L1874.1 498.7 L1873.3 494.6 L1872.5 496 L1871.7 493.5 L1870.9 497.4 L1870.1 495.9 L1869.3 493 L1868.5 495.1 L1867.7 491.2 L1866.9 495.1 L1866.1 490.2 L1865.3 494.2 L1864.5 488.8 L1863.7 491.6 L1862.9 488.4 L1862.1 487.4 L1861.3 486.1 L1860.5 490.3 L1859.7 486 L1858.9 484.4 L1858.1 484.3 L1857.3 485.9 L1856.5 482.1 L1855.7 481.2 L1854.9 484.7 L1854.1 479.2 L1853.3 479.8 L1852.5 477.9 L1851.7 478.1 L1850.9 476.6 L1850.1 475.9 L1849.3 480.7 L1848.5 475 L1847.7 473.9 L1846.9 476.8 L1846.1 473.2 L1845.3 478.9 L1844.5 475.2 L1843.7 474.4 L1842.9 472.1 L1842.1 474.1 L1841.3 471.9 L1840.5 471.7 L1839.7 474.3 L1838.9 470.7 L1838.1 474.1 L1837.3 475.8 L1836.5 470 L1835.7 468.4 L1834.9 469 L1834.1 467.7 L1833.3 468.8 L1832.5 468.4 L1831.7 467.8 L1830.9 466.7 L1830.1 467.5 L1829.3 468.6 L1828.5 465.9 L1827.7 466.3 L1826.9 465.8 L1826.1 465.9 L1825.3 465.5 L1824.5 465.2 L1823.7 464.7 L1822.9 464.4 L1822.1 468.4 L1821.3 464.4 L1820.5 464.8 L1819.7 468.3 L1818.9 463.4 L1818.1 463.9 L1817.3 468.5 L1816.5 463.8 L1815.7 464.1 L1814.9 463.8 L1814.1 469.7 L1813.3 463.2 L1812.5 462.2 L1811.7 462.5 L1810.9 463 L1810.1 468 L1809.3 462.6 L1808.5 467.9 L1807.7 461.7 L1806.9 466.4 L1806.1 461.2 L1805.3 462 L1804.5 468.4 L1803.7 461.1 L1802.9 460.5 L1802.1 461.3 L1801.3 461.7 L1800.5 460.8 L1799.7 469.1 L1798.9 467.2 L1798.1 466.2 L1797.3 461.6 L1796.5 466.3 L1795.7 469.7 L1794.9 461.7 L1794.1 463.1 L1793.3 462.2 L1792.5 462.9 L1791.7 462.6 L1790.9 465.8 L1790.1 462.7 L1789.3 462.5 L1788.5 462.9 L1787.7 462.6 L1786.9 462.3 L1786.1 461.4 L1785.3 466.1 L1784.5 465.2 L1783.7 467.5 L1782.9 460.8 L1782.1 467 L1781.3 463.1 L1780.5 458.8 L1779.7 459.2 L1778.9 459.1 L1778.1 466.3 L1777.3 462.2 L1776.5 457.4 L1775.7 457.1 L1774.9 461.8 L1774.1 457 L1773.3 457 L1772.5 456.6 L1771.7 462.4 L1770.9 455.4 L1770.1 459.1 L1769.3 460 L1768.5 462.7 L1767.7 455 L1766.9 454.5 L1766.1 463.1 L1765.3 453.3 L1764.5 452.9 L1763.7 453.2 L1762.9 461.2 L1762.1 453.8 L1761.3 463 L1760.5 454.6 L1759.7 454.7 L1758.9 455.9 L1758.1 463.2 L1757.3 460.1 L1756.5 456.5 L1755.7 462.2 L1754.9 462.7 L1754.1 457.4 L1753.3 458.1 L1752.5 458.9 L1751.7 457.5 L1750.9 458.5 L1750.1 457.8 L1749.3 457.6 L1748.5 458.3 L1747.7 463.2 L1746.9 457.9 L1746.1 458.8 L1745.3 458.6 L1744.5 458.4 L1743.7 458.2 L1742.9 463.6 L1742.1 464.6 L1741.3 466.1 L1740.5 457.6 L1739.7 463.6 L1738.9 456.4 L1738.1 455.8 L1737.3 459.6 L1736.5 452.7 L1735.7 457.8 L1734.9 450.5 L1734.1 451.4 L1733.3 454.1 L1732.5 451.9 L1731.7 457.5 L1730.9 451.8 L1730.1 453.1 L1729.3 457.3 L1728.5 453.6 L1727.7 455.7 L1726.9 453.7 L1726.1 458.6 L1725.3 456.9 L1724.5 458.5 L1723.7 461.2 L1722.9 459.7 L1722.1 460.4 L1721.3 459.4 L1720.5 455.3 L1719.7 454.4 L1718.9 453.6 L1718.1 451.5 L1717.3 449.7 L1716.5 447.2 L1715.7 445.1 L1714.9 445.5 L1714.1 439.9 L1713.3 437.5 L1712.5 436.7 L1711.7 435.1 L1710.9 431.1 L1710.1 428.8 L1709.3 428 L1708.5 427.1 L1707.7 425.4 L1706.9 425.8 L1706.1 424.8 L1705.3 429.7 L1704.5 432.8 L1703.7 438.1 L1702.9 438.9 L1702.1 443.9 L1701.3 448.3 L1700.5 452.3 L1699.7 457.7 L1698.9 462.4 L1698.1 468.5 L1697.3 471.3 L1696.5 466.3 L1695.7 465.3 L1694.9 459.8 L1694.1 458 L1693.3 454.4 L1692.5 452.4 L1691.7 447 L1690.9 446.2 L1690.1 442.9 L1689.3 439.4 L1688.5 437.5 L1687.7 432 L1686.9 429.2 L1686.1 426.7 L1685.3 423.9 L1684.5 425.1 L1683.7 426.4 L1682.9 426.5 L1682.1 426.4 L1681.3 427.3 L1680.5 427.3 L1679.7 428 L1678.9 430.2 L1678.1 430.6 L1677.3 431 L1676.5 432.3 L1675.7 432.8 L1674.9 434.6 L1674.1 433.4 L1673.3 436.1 L1672.5 435Z" fill="#6e6e6e"/>
<path d="M1672.5 508.8C1673.1 508.8 1676.3 509.5 1677.5 508.8C1678.7 508 1681.3 503.7 1682.5 502.5C1683.7 501.3 1686.3 498.6 1687.5 498.8C1688.7 498.9 1691.3 503 1692.5 503.8C1693.7 504.5 1696.3 505.1 1697.5 505C1698.7 504.9 1701.2 502.5 1702.5 502.5C1703.8 502.5 1707.4 504.4 1708.8 505C1710.1 505.6 1712.7 507.9 1713.8 507.5C1714.8 507.1 1716.5 502.7 1717.5 501.2C1718.5 499.8 1721.3 495.9 1722.5 495C1723.7 494.1 1726.5 494.5 1727.5 493.8C1728.5 493 1730.2 489.6 1731.2 488.8C1732.3 487.9 1735.2 486.4 1736.2 486.2C1737.3 486.1 1739 487.5 1740 487.5C1741 487.5 1743.8 486.1 1745 486.2C1746.2 486.4 1748.8 489 1750 488.8C1751.2 488.5 1753.8 484.5 1755 483.8C1756.2 483 1759 481.6 1760 482C1761 482.4 1762.6 485.7 1763.8 487.5C1764.9 489.3 1768.7 496 1770 497.5C1771.3 499 1773.8 499.4 1775 500C1776.2 500.6 1778.8 502.8 1780 502.5C1781.2 502.2 1783.8 498.2 1785 497.5C1786.2 496.8 1788.8 496.5 1790 496.2C1791.2 496 1793.8 495 1795 495C1796.2 495 1798.8 496.4 1800 496.2C1801.2 496.1 1803.2 494.3 1805 493.8C1806.8 493.2 1812.7 492 1815 491.2C1817.3 490.5 1822.7 488.2 1825 487.5C1827.3 486.8 1833.2 485.6 1835 485C1836.8 484.4 1838.8 483.1 1840 482.5C1841.2 481.9 1843.2 480.7 1845 480C1846.8 479.3 1852.7 476.7 1855 476.2C1857.3 475.8 1862.4 476.3 1865 476.2C1867.6 476.2 1875.2 475.4 1877.5 475.5C1879.8 475.6 1883 476.8 1885 477.5C1887 478.2 1892.7 480.7 1895 481.2C1897.3 481.8 1902.7 482 1905 482C1907.3 482 1910 481.3 1915 481.2C1920 481.2 1943.7 481.2 1947.5 481.2" fill="none" stroke="#fff" stroke-width="2.6" stroke-linejoin="round"/>
<path d="M1672.5 416.2C1673.1 416.2 1676.5 417.3 1677.5 416.2C1678.5 415.2 1680.4 409.2 1681.2 407.5C1682.1 405.8 1684 402.1 1685 402C1686 401.9 1688.5 405.9 1690 406.2C1691.5 406.6 1695.6 405.2 1697.5 405C1699.4 404.8 1704.5 404.2 1706.2 404.5C1708 404.8 1711.2 406.3 1712.5 407.5C1713.8 408.7 1716.2 413.4 1717.5 415C1718.8 416.6 1722.3 420.1 1723.8 421.2C1725.2 422.4 1728.1 423.9 1730 424.5C1731.9 425.1 1737.7 425.5 1740 426.2C1742.3 427 1748.2 430.6 1750 431.2C1751.8 431.9 1753.2 432.3 1755 432C1756.8 431.7 1762.7 429 1765 428.8C1767.3 428.5 1772.7 429.5 1775 430C1777.3 430.5 1782.7 432.4 1785 433C1787.3 433.6 1792.7 434.3 1795 435C1797.3 435.7 1802.7 437.9 1805 438.8C1807.3 439.6 1812.7 441.8 1815 442.5C1817.3 443.2 1823 444.1 1825 445C1827 445.9 1830.8 448.5 1832.5 450C1834.2 451.5 1838.2 455.8 1840 457.5C1841.8 459.2 1845.8 463.2 1847.5 465C1849.2 466.8 1853.2 470.8 1855 472.5C1856.8 474.2 1860.8 478.5 1862.5 480C1864.2 481.5 1868.2 484.3 1870 485C1871.8 485.7 1875.8 486.2 1877.5 486.2C1879.2 486.2 1883 485.4 1885 485C1887 484.6 1891.5 482.9 1895 482.5C1898.5 482.1 1908.9 481.5 1915 481.2C1921.1 481 1943.7 480.1 1947.5 480" fill="none" stroke="#000" stroke-width="3" stroke-linejoin="round"/>
</g>
<text x="1571.1" y="365.3" font-size="42" font-weight="bold">k</text>
<line x1="1672.3" y1="479.5" x2="1948" y2="479.5" stroke="#000" stroke-width="2"/>
<rect x="1672.3" y="349.8" width="275.7" height="257.8" fill="none" stroke="#000" stroke-width="2.4"/>
<line x1="1672.3" y1="415.1" x2="1680.3" y2="415.1" stroke="#000" stroke-width="2"/><line x1="1672.3" y1="544" x2="1680.3" y2="544" stroke="#000" stroke-width="2"/>
<line x1="1740.9" y1="607.6" x2="1740.9" y2="600.6" stroke="#000" stroke-width="2"/><line x1="1810.1" y1="607.6" x2="1810.1" y2="600.6" stroke="#000" stroke-width="2"/><line x1="1879.4" y1="607.6" x2="1879.4" y2="600.6" stroke="#000" stroke-width="2"/>
<text x="1663" y="364.5" font-size="24.4" text-anchor="end">0.6</text>
<text x="1663" y="424.3" font-size="24.4" text-anchor="end">0.3</text>
<text x="1663" y="489.1" font-size="24.4" text-anchor="end">0.0</text>
<text x="1663" y="553.2" font-size="24.4" text-anchor="end">–0.3</text>
<text x="1663" y="612.1" font-size="24.4" text-anchor="end">–0.6</text>
<text x="1671.7" y="636.1" font-size="24.4" text-anchor="middle">0.01</text>
<text x="1740.6" y="636.1" font-size="24.4" text-anchor="middle">0.1</text>
<text x="1809.8" y="636.1" font-size="24.4" text-anchor="middle">1</text>
<text x="1879.3" y="636.1" font-size="24.4" text-anchor="middle">10</text>
<text x="1948.8" y="636.1" font-size="24.4" text-anchor="middle">100</text>
<text x="1806.3" y="671.5" font-size="25" text-anchor="middle">Log time (s)</text>
<text x="1593" y="478.9" font-size="25" text-anchor="middle" transform="rotate(-90 1593 478.9)"><tspan font-style="italic">G</tspan> (<tspan font-family="'Liberation Serif', serif" font-style="italic">τ</tspan>,<tspan font-family="'Liberation Serif', serif" font-style="italic">δr</tspan>)</text>
<text x="1940.8" y="376.9" font-size="24.8" text-anchor="end" font-weight="bold">ON FOCI</text>
<text x="1940.8" y="409.2" font-size="24.8" text-anchor="end" font-weight="bold" fill="#909090">NO FOCI</text>
<clipPath id="lc"><rect x="1672" y="743.7" width="276" height="255.7"/></clipPath><g clip-path="url(#lc)">
<path d="M1673.6 892.4 L1674.2 891.9 L1674.8 891.3 L1675.5 890.6 L1676.1 890.3 L1676.7 889.2 L1677.3 889.2 L1677.9 888.8 L1678.5 887.9 L1679.2 887.8 L1679.8 886.8 L1680.4 886.3 L1681 886.3 L1681.6 885.8 L1682.2 885.1 L1682.8 884.1 L1683.5 883.6 L1684.1 882.8 L1684.7 882 L1685.3 882.5 L1685.9 882.6 L1686.5 882.9 L1687.2 883.9 L1687.8 883.8 L1688.4 884.1 L1689 884.9 L1689.6 884.7 L1690.2 884.7 L1690.8 885.7 L1691.5 885.4 L1692.1 885.5 L1692.7 886.1 L1693.3 886.6 L1693.9 886.7 L1694.5 887.2 L1695.2 886.8 L1695.8 885.7 L1696.4 885.5 L1697 884.6 L1697.6 884.2 L1698.2 883.4 L1698.9 883.2 L1699.5 882.5 L1700.1 881.3 L1700.7 881.5 L1701.3 880.2 L1701.9 880.1 L1702.5 879.1 L1703.2 878.7 L1703.8 878.4 L1704.4 877 L1705 876.5 L1705.6 876.1 L1706.2 875.6 L1706.9 874.6 L1707.5 874.7 L1708.1 873.3 L1708.7 873 L1709.3 872.6 L1709.9 871.8 L1710.5 871.5 L1711.2 870.9 L1711.8 869.7 L1712.4 869 L1713 868.5 L1713.6 868.2 L1714.2 867.3 L1714.9 867.1 L1715.5 865.5 L1716.1 864.8 L1716.7 863.9 L1717.3 862.9 L1717.9 861.7 L1718.5 860.7 L1719.2 860.1 L1719.8 859 L1720.4 858 L1721 857.4 L1721.6 856.2 L1722.2 855.2 L1722.9 855 L1723.5 853.3 L1724.1 852.3 L1724.7 808.2 L1725.3 764 L1725.9 807.3 L1726.5 850.1 L1727.2 850.6 L1727.8 850.7 L1728.4 850.6 L1729 850 L1729.6 850.6 L1730.2 850.3 L1730.9 849.9 L1731.5 850.5 L1732.1 850.6 L1732.7 849.9 L1733.3 850.4 L1733.9 850.6 L1734.5 850.1 L1735.2 850.5 L1735.8 850.5 L1736.4 850.7 L1737 850.5 L1737.6 850.3 L1738.2 850 L1738.9 850.3 L1739.5 850.6 L1740.1 850.3 L1740.7 850.1 L1741.3 850.5 L1741.9 850.4 L1742.5 850.3 L1743.2 850.3 L1743.8 849.9 L1744.4 850.5 L1745 850 L1745.6 850.2 L1746.2 850.2 L1746.9 850.3 L1747.5 850 L1748.1 850.4 L1748.7 849.8 L1749.3 850.2 L1749.9 849.8 L1750.5 850 L1751.2 850 L1751.8 850.2 L1752.4 850.3 L1753 849.8 L1753.6 850.3 L1754.2 850.6 L1754.9 850.2 L1755.5 850 L1756.1 850.6 L1756.7 850 L1757.3 850.5 L1757.9 850.1 L1758.5 850.1 L1759.2 850.1 L1759.8 850.7 L1760.4 850.5 L1761 850.7 L1761.6 850.5 L1762.2 850.7 L1762.9 849.9 L1763.5 849.9 L1764.1 850.4 L1764.7 850.4 L1765.3 849.6 L1765.9 849.4 L1766.6 849.3 L1767.2 849.5 L1767.8 849.5 L1768.4 848.9 L1769 849 L1769.6 849 L1770.2 849.3 L1770.9 848.3 L1771.5 848.2 L1772.1 848.3 L1772.7 848.6 L1773.3 848.7 L1773.9 848.3 L1774.6 847.7 L1775.2 848.3 L1775.8 847.8 L1776.4 847.9 L1777 847.7 L1777.6 847.1 L1778.2 847.4 L1778.9 847.3 L1779.5 847.2 L1780.1 846.5 L1780.7 846.7 L1781.3 847.2 L1781.9 846.8 L1782.6 846.2 L1783.2 846.3 L1783.8 845.8 L1784.4 845.7 L1785 845.8 L1785.6 845.6 L1786.2 845.4 L1786.9 845.4 L1787.5 845.4 L1788.1 845.3 L1788.7 845.6 L1789.3 844.6 L1789.9 844.6 L1790.6 844.6 L1791.2 844.6 L1791.8 843.8 L1792.4 843.6 L1793 843.9 L1793.6 843.9 L1794.2 843.8 L1794.9 843 L1795.5 843.6 L1796.1 842.7 L1796.7 842.6 L1797.3 842.8 L1797.9 842.9 L1798.6 842.2 L1799.2 842.4 L1799.8 842.1 L1800.4 841.8 L1801 841.7 L1801.6 841.2 L1802.2 841.1 L1802.9 841 L1803.5 840.6 L1804.1 840.7 L1804.7 840.7 L1805.3 840.5 L1805.9 840.2 L1806.6 839.4 L1807.2 839.4 L1807.8 839.5 L1808.4 839.6 L1809 839 L1809.6 839.2 L1810.2 838.3 L1810.9 838.1 L1811.5 838.2 L1812.1 838.6 L1812.7 838 L1813.3 837.9 L1813.9 837.1 L1814.6 836.9 L1815.2 835.7 L1815.8 836 L1816.4 834.9 L1817 835 L1817.6 834.5 L1818.2 833.8 L1818.9 833.4 L1819.5 832.5 L1820.1 831.7 L1820.7 831.1 L1821.3 831.4 L1821.9 830.7 L1822.6 830.2 L1823.2 829.7 L1823.8 828.8 L1824.4 828.9 L1825 828.3 L1825.6 827.7 L1826.3 827.5 L1826.9 827.7 L1827.5 826.9 L1828.1 826.6 L1828.7 826.6 L1829.3 826.9 L1829.9 825.8 L1830.6 825.5 L1831.2 825.5 L1831.8 825.6 L1832.4 824.7 L1833 824.5 L1833.6 824.6 L1834.3 824.4 L1834.9 824.6 L1835.5 823.9 L1836.1 823.9 L1836.7 823.4 L1837.3 823.2 L1837.9 823.1 L1838.6 822.5 L1839.2 822.9 L1839.8 822.4 L1840.4 822 L1841 822.7 L1841.6 822.1 L1842.3 822 L1842.9 821.9 L1843.5 822 L1844.1 821.1 L1844.7 821.5 L1845.3 821.5 L1845.9 821.2 L1846.6 821.2 L1847.2 821.2 L1847.8 821.4 L1848.4 822.3 L1849 823.2 L1849.6 823.6 L1850.3 824.6 L1850.9 825.2 L1851.5 825.8 L1852.1 827.3 L1852.7 827.3 L1853.3 828.4 L1853.9 829.6 L1854.6 829.8 L1855.2 831.1 L1855.8 831.6 L1856.4 832 L1857 832.7 L1857.6 833.9 L1858.3 834.7 L1858.9 834.6 L1859.5 835.5 L1860.1 836.2 L1860.7 836.6 L1861.3 837.7 L1861.9 838.1 L1862.6 838.8 L1863.2 838.9 L1863.8 840.2 L1864.4 840.8 L1865 841.4 L1865.6 841.6 L1866.3 841.9 L1866.9 843.3 L1867.5 843.5 L1868.1 844.2 L1868.7 845.5 L1869.3 845.9 L1869.9 846.9 L1870.6 847.7 L1871.2 848.6 L1871.8 849.4 L1872.4 850.3 L1873 851.4 L1873.6 851.4 L1874.3 853.2 L1874.9 853.2 L1875.5 853 L1876.1 853.8 L1876.7 853.4 L1877.3 853.8 L1877.9 854.1 L1878.6 854.3 L1879.2 854.5 L1879.8 854.7 L1880.4 854.8 L1881 855.1 L1881.6 855.7 L1882.3 855.6 L1882.9 856.2 L1883.5 856.9 L1884.1 857 L1884.7 857.1 L1885.3 857.4 L1886 857.4 L1886.6 858 L1887.2 857.5 L1887.8 856.9 L1888.4 856.9 L1889 856.2 L1889.6 855.8 L1890.3 856.3 L1890.9 855.1 L1891.5 855.4 L1892.1 851.9 L1892.7 849.2 L1893.3 846.2 L1894 842.8 L1894.6 845.3 L1895.2 847.4 L1895.8 848.9 L1896.4 851.5 L1897 853.3 L1897.6 855 L1898.3 856.5 L1898.9 857.4 L1899.5 858.3 L1900.1 858.4 L1900.7 858.2 L1901.3 859 L1902 859.4 L1902.6 858.8 L1903.2 858.9 L1903.8 859.7 L1904.4 859.5 L1905 859.8 L1905.6 860.2 L1906.3 860.5 L1906.9 860.8 L1907.5 861.4 L1908.1 861.8 L1908.7 862 L1909.3 861.7 L1910 862.6 L1910.6 862.4 L1911.2 862.9 L1911.8 862.6 L1912.4 862.8 L1913 862.9 L1913.6 862.3 L1914.3 863 L1914.9 862.6 L1915.5 863.1 L1916.1 862.8 L1916.7 862.9 L1917.3 863.3 L1918 863.2 L1918.6 862.8 L1919.2 863.4 L1919.8 863.7 L1920.4 863.5 L1921 863.6 L1921.6 862.9 L1922.3 863.4 L1922.9 863.7 L1923.5 863.3 L1924.1 863.2 L1924.7 863.2 L1925.3 863.5 L1926 863.5 L1926.6 863.4 L1927.2 863.7 L1927.8 863.6 L1928.4 864.2 L1929 863.6 L1929.6 864 L1930.3 863.7 L1930.9 864.1 L1931.5 863.9 L1932.1 864.2 L1932.7 863.8 L1933.3 864.5 L1934 863.8 L1934.6 864.6 L1935.2 864.1 L1935.8 864.2 L1936.4 864.4 L1937 864.1 L1937.6 864.7 L1938.3 864.3 L1938.9 864.9 L1939.5 864.3 L1940.1 864.5 L1940.7 864.4 L1941.3 864.2 L1942 864.5 L1942.6 864.6 L1943.2 864.8 L1943.8 864.6 L1944.4 865.1 L1945 865.3 L1945.6 865.3 L1946.3 864.6 L1946.9 865.2 L1946.9 879.8 L1946.3 879.2 L1945.6 879.2 L1945 879.8 L1944.4 880.1 L1943.8 880.1 L1943.2 880.8 L1942.6 880.2 L1942 880 L1941.3 880 L1940.7 879.4 L1940.1 879.4 L1939.5 880 L1938.9 880.1 L1938.3 880.2 L1937.6 880.1 L1937 879.7 L1936.4 880.3 L1935.8 880 L1935.2 879.9 L1934.6 880.5 L1934 880.7 L1933.3 881.2 L1932.7 880.3 L1932.1 880 L1931.5 879.9 L1930.9 879.8 L1930.3 879.9 L1929.6 880.1 L1929 880.3 L1928.4 879.7 L1927.8 879.9 L1927.2 880.6 L1926.6 880.5 L1926 880.4 L1925.3 880.5 L1924.7 880.8 L1924.1 880.7 L1923.5 880.6 L1922.9 880.7 L1922.3 880.6 L1921.6 880.2 L1921 880.9 L1920.4 880.2 L1919.8 882.2 L1919.2 881 L1918.6 880.1 L1918 880.7 L1917.3 880.3 L1916.7 881.5 L1916.1 881.1 L1915.5 880.2 L1914.9 881.5 L1914.3 881 L1913.6 881.2 L1913 880.4 L1912.4 881.1 L1911.8 880.7 L1911.2 881.1 L1910.6 882.3 L1910 881.8 L1909.3 881.5 L1908.7 881.7 L1908.1 883 L1907.5 883.1 L1906.9 882.7 L1906.3 883.7 L1905.6 883.4 L1905 884.9 L1904.4 884.8 L1903.8 885.3 L1903.2 885.6 L1902.6 885.5 L1902 886.2 L1901.3 887.1 L1900.7 887.8 L1900.1 886.6 L1899.5 887.1 L1898.9 888 L1898.3 887.9 L1897.6 888.2 L1897 889.7 L1896.4 891.6 L1895.8 894.1 L1895.2 894.6 L1894.6 895.9 L1894 898.1 L1893.3 895.7 L1892.7 892.2 L1892.1 886.7 L1891.5 883.7 L1890.9 882.6 L1890.3 882.7 L1889.6 884 L1889 881.9 L1888.4 882.2 L1887.8 882.3 L1887.2 881.4 L1886.6 880.7 L1886 881.7 L1885.3 880.8 L1884.7 881.3 L1884.1 880.1 L1883.5 880.5 L1882.9 880.1 L1882.3 879.9 L1881.6 880.7 L1881 879.2 L1880.4 879.3 L1879.8 879.6 L1879.2 879 L1878.6 880.6 L1877.9 879.2 L1877.3 878.8 L1876.7 879.1 L1876.1 878.7 L1875.5 878.7 L1874.9 878.6 L1874.3 878.3 L1873.6 878.4 L1873 878.3 L1872.4 879.3 L1871.8 880 L1871.2 877.7 L1870.6 878.2 L1869.9 879.9 L1869.3 878.5 L1868.7 878.2 L1868.1 877.7 L1867.5 879 L1866.9 878.7 L1866.3 877.2 L1865.6 877.7 L1865 878.2 L1864.4 877.2 L1863.8 877.6 L1863.2 877.1 L1862.6 878.7 L1861.9 877.3 L1861.3 878.6 L1860.7 877.6 L1860.1 877.4 L1859.5 877.3 L1858.9 878.8 L1858.3 877.1 L1857.6 877.8 L1857 876.9 L1856.4 876.9 L1855.8 877.5 L1855.2 878.4 L1854.6 876.9 L1853.9 877.3 L1853.3 877.1 L1852.7 877.2 L1852.1 876.7 L1851.5 876.9 L1850.9 877 L1850.3 877.9 L1849.6 877 L1849 877.4 L1848.4 877.2 L1847.8 877.3 L1847.2 878.4 L1846.6 877.6 L1845.9 876.8 L1845.3 877.5 L1844.7 877.1 L1844.1 879 L1843.5 877 L1842.9 877.5 L1842.3 877.6 L1841.6 877.4 L1841 878.6 L1840.4 876.9 L1839.8 878 L1839.2 877.3 L1838.6 877.4 L1837.9 876.9 L1837.3 878.7 L1836.7 877.4 L1836.1 879.7 L1835.5 879.5 L1834.9 877.4 L1834.3 878.1 L1833.6 877.1 L1833 877.9 L1832.4 877.5 L1831.8 877.4 L1831.2 878.2 L1830.6 877.7 L1829.9 878.2 L1829.3 878.2 L1828.7 879.1 L1828.1 877.9 L1827.5 878.2 L1826.9 878.6 L1826.3 880.3 L1825.6 879.5 L1825 878.1 L1824.4 879.2 L1823.8 878.4 L1823.2 878.5 L1822.6 879.2 L1821.9 880.7 L1821.3 879 L1820.7 881.5 L1820.1 879.1 L1819.5 879.4 L1818.9 879.8 L1818.2 881.2 L1817.6 880.3 L1817 879.6 L1816.4 882.8 L1815.8 880.1 L1815.2 880.3 L1814.6 880.9 L1813.9 880.6 L1813.3 881 L1812.7 882.9 L1812.1 881.7 L1811.5 881.3 L1810.9 881.6 L1810.2 881.7 L1809.6 881 L1809 885.1 L1808.4 883.6 L1807.8 884 L1807.2 884.1 L1806.6 885.8 L1805.9 882.2 L1805.3 882.5 L1804.7 882.5 L1804.1 882.2 L1803.5 884.6 L1802.9 883.3 L1802.2 882.8 L1801.6 883.5 L1801 883.3 L1800.4 883.2 L1799.8 887.7 L1799.2 885.5 L1798.6 887.8 L1797.9 884 L1797.3 891.1 L1796.7 884.8 L1796.1 884.5 L1795.5 885.1 L1794.9 885.7 L1794.2 885.6 L1793.6 885.6 L1793 893.8 L1792.4 892.7 L1791.8 886.5 L1791.2 886.9 L1790.6 894.7 L1789.9 887.7 L1789.3 887.7 L1788.7 894.3 L1788.1 893.4 L1787.5 896.1 L1786.9 890.2 L1786.2 898.7 L1785.6 893.4 L1785 894.1 L1784.4 895.3 L1783.8 896.7 L1783.2 902.6 L1782.6 905.2 L1781.9 899.3 L1781.3 898.8 L1780.7 907 L1780.1 907.5 L1779.5 900.9 L1778.9 914.5 L1778.2 927.8 L1777.6 913.6 L1777 900.1 L1776.4 899.6 L1775.8 899.9 L1775.2 898.8 L1774.6 898.6 L1773.9 898.8 L1773.3 898.2 L1772.7 903.3 L1772.1 907.7 L1771.5 899.5 L1770.9 900.4 L1770.2 907.8 L1769.6 902.1 L1769 912 L1768.4 903.1 L1767.8 901.4 L1767.2 900.4 L1766.6 905 L1765.9 898 L1765.3 907 L1764.7 895.5 L1764.1 894.3 L1763.5 905.6 L1762.9 894.5 L1762.2 895.6 L1761.6 908.7 L1761 906.9 L1760.4 899.2 L1759.8 908.5 L1759.2 911.8 L1758.5 912.3 L1757.9 906.5 L1757.3 900.3 L1756.7 900.3 L1756.1 900.1 L1755.5 898.8 L1754.9 898.8 L1754.2 898.7 L1753.6 910.3 L1753 898.8 L1752.4 899.1 L1751.8 904.9 L1751.2 916.1 L1750.5 899.1 L1749.9 899.4 L1749.3 899.9 L1748.7 900.2 L1748.1 901.4 L1747.5 909.5 L1746.9 903.9 L1746.2 905.2 L1745.6 906.9 L1745 907.9 L1744.4 926.3 L1743.8 929.8 L1743.2 919.3 L1742.5 916.7 L1741.9 907.3 L1741.3 906.1 L1740.7 905.7 L1740.1 910.8 L1739.5 904 L1738.9 903.2 L1738.2 904 L1737.6 922 L1737 905 L1736.4 917.1 L1735.8 906.4 L1735.2 906.7 L1734.5 919.6 L1733.9 907.6 L1733.3 907.8 L1732.7 908.5 L1732.1 908.7 L1731.5 908.8 L1730.9 909.4 L1730.2 910.1 L1729.6 923.9 L1729 910.5 L1728.4 911.3 L1727.8 918.6 L1727.2 912 L1726.5 918.4 L1725.9 912.6 L1725.3 912.5 L1724.7 937.8 L1724.1 961.8 L1723.5 944.5 L1722.9 912.6 L1722.2 912.6 L1721.6 922.9 L1721 917.2 L1720.4 911 L1719.8 911 L1719.2 910 L1718.5 917.6 L1717.9 911 L1717.3 910.9 L1716.7 921.7 L1716.1 911.5 L1715.5 915 L1714.9 912.5 L1714.2 912.9 L1713.6 922.4 L1713 919.2 L1712.4 922.6 L1711.8 920.7 L1711.2 925.1 L1710.5 924.6 L1709.9 929.8 L1709.3 923 L1708.7 923.8 L1708.1 924.1 L1707.5 924.5 L1706.9 933.3 L1706.2 925.5 L1705.6 931.8 L1705 926.6 L1704.4 927.7 L1703.8 926.7 L1703.2 926 L1702.5 924.3 L1701.9 924.1 L1701.3 922.6 L1700.7 922 L1700.1 928 L1699.5 919.8 L1698.9 927.2 L1698.2 928.7 L1697.6 925.1 L1697 926.5 L1696.4 927.7 L1695.8 929.3 L1695.2 931.3 L1694.5 932 L1693.9 935.8 L1693.3 939.1 L1692.7 942 L1692.1 944.3 L1691.5 947.5 L1690.8 951.1 L1690.2 953.9 L1689.6 957.6 L1689 959.3 L1688.4 961.2 L1687.8 967.4 L1687.2 965.8 L1686.5 967.4 L1685.9 970.5 L1685.3 972.3 L1684.7 974.9 L1684.1 977 L1683.5 978.3 L1682.8 980.5 L1682.2 986.3 L1681.6 985.1 L1681 987.8 L1680.4 989.8 L1679.8 992.1 L1679.2 992.2 L1678.5 991.8 L1677.9 992.6 L1677.3 994.4 L1676.7 994.1 L1676.1 993.6 L1675.5 993.5 L1674.8 994 L1674.2 993.9 L1673.6 995.1Z" fill="#c2c2c2"/>
<path d="M1673.6 818.8 L1674.2 818.9 L1674.8 819.5 L1675.5 819.3 L1676.1 819.7 L1676.7 818.9 L1677.3 819.2 L1677.9 818.2 L1678.5 819 L1679.2 819.2 L1679.8 819.8 L1680.4 818.4 L1681 817.2 L1681.6 816.2 L1682.2 816 L1682.8 814.3 L1683.5 814.3 L1684.1 813.5 L1684.7 811.9 L1685.3 811.6 L1685.9 807 L1686.5 805.2 L1687.2 807.9 L1687.8 805 L1688.4 803.4 L1689 809.9 L1689.6 805.4 L1690.2 810.9 L1690.8 812.5 L1691.5 808.4 L1692.1 809.5 L1692.7 814.1 L1693.3 815.4 L1693.9 816.9 L1694.5 818.6 L1695.2 819.7 L1695.8 821.2 L1696.4 822.3 L1697 823.2 L1697.6 819.5 L1698.2 807.2 L1698.9 814.1 L1699.5 810.7 L1700.1 815.1 L1700.7 819.1 L1701.3 822.8 L1701.9 826.4 L1702.5 830.8 L1703.2 825.9 L1703.8 838.3 L1704.4 843.1 L1705 843.4 L1705.6 844.8 L1706.2 847 L1706.9 847.5 L1707.5 848.9 L1708.1 850.4 L1708.7 851.2 L1709.3 853.2 L1709.9 848.9 L1710.5 845.2 L1711.2 840.5 L1711.8 837.2 L1712.4 826.7 L1713 828.9 L1713.6 824.3 L1714.2 820.4 L1714.9 815.7 L1715.5 820.5 L1716.1 813 L1716.7 806.1 L1717.3 818.6 L1717.9 819.1 L1718.5 818.1 L1719.2 806.2 L1719.8 807.9 L1720.4 809.1 L1721 816 L1721.6 805.1 L1722.2 815.5 L1722.9 813.9 L1723.5 813.3 L1724.1 813.4 L1724.7 808.1 L1725.3 812.4 L1725.9 811.8 L1726.5 812.4 L1727.2 811.5 L1727.8 811.8 L1728.4 798.6 L1729 810.9 L1729.6 799.9 L1730.2 808.8 L1730.9 801.1 L1731.5 807.3 L1732.1 806.7 L1732.7 804.7 L1733.3 804 L1733.9 803.5 L1734.5 792 L1735.2 806.4 L1735.8 798.1 L1736.4 796.6 L1737 795.9 L1737.6 810.3 L1738.2 812.3 L1738.9 813.5 L1739.5 809.6 L1740.1 806.6 L1740.7 804.6 L1741.3 800.4 L1741.9 798 L1742.5 795.2 L1743.2 791.7 L1743.8 788 L1744.4 791 L1745 793.3 L1745.6 788.1 L1746.2 798.5 L1746.9 792.4 L1747.5 790.3 L1748.1 797.3 L1748.7 808 L1749.3 789.2 L1749.9 789.6 L1750.5 782.9 L1751.2 790.3 L1751.8 771.7 L1752.4 770.4 L1753 784.7 L1753.6 788.9 L1754.2 792.6 L1754.9 778.4 L1755.5 799.6 L1756.1 803.2 L1756.7 800.7 L1757.3 796.9 L1757.9 785.7 L1758.5 779.3 L1759.2 773.4 L1759.8 784 L1760.4 783 L1761 781.6 L1761.6 780.7 L1762.2 780.9 L1762.9 779.4 L1763.5 778.5 L1764.1 780.7 L1764.7 784.2 L1765.3 785.7 L1765.9 788.2 L1766.6 791.6 L1767.2 794 L1767.8 795.7 L1768.4 798.3 L1769 778.8 L1769.6 796.4 L1770.2 795.3 L1770.9 792.9 L1771.5 792.7 L1772.1 790.8 L1772.7 771.8 L1773.3 789.2 L1773.9 787.8 L1774.6 787.3 L1775.2 767.4 L1775.8 785.2 L1776.4 784.2 L1777 782.8 L1777.6 766.3 L1778.2 767.7 L1778.9 787.7 L1779.5 794.5 L1780.1 800.9 L1780.7 807.5 L1781.3 814.1 L1781.9 820.1 L1782.6 819 L1783.2 820.7 L1783.8 831.6 L1784.4 829.8 L1785 828.6 L1785.6 826.7 L1786.2 825.8 L1786.9 824.2 L1787.5 821.9 L1788.1 812.7 L1788.7 818.7 L1789.3 816.2 L1789.9 813.9 L1790.6 798.6 L1791.2 802 L1791.8 808.3 L1792.4 812.5 L1793 801.9 L1793.6 815 L1794.2 824.1 L1794.9 828.4 L1795.5 832.4 L1796.1 818.6 L1796.7 819.5 L1797.3 831.7 L1797.9 822.1 L1798.6 830.7 L1799.2 831 L1799.8 830.2 L1800.4 830.1 L1801 818.7 L1801.6 824.6 L1802.2 828.1 L1802.9 827.7 L1803.5 827.6 L1804.1 827.6 L1804.7 826.1 L1805.3 825.7 L1805.9 815.8 L1806.6 825.2 L1807.2 824.4 L1807.8 824.7 L1808.4 818.4 L1809 823.4 L1809.6 823.4 L1810.2 822.7 L1810.9 813.4 L1811.5 821.3 L1812.1 811.7 L1812.7 813.9 L1813.3 820.9 L1813.9 816.5 L1814.6 822.2 L1815.2 821.8 L1815.8 813.8 L1816.4 822.9 L1817 816.4 L1817.6 823.9 L1818.2 823.7 L1818.9 824.8 L1819.5 818.2 L1820.1 820.8 L1820.7 825.4 L1821.3 825.8 L1821.9 825.9 L1822.6 826.8 L1823.2 820.3 L1823.8 827.5 L1824.4 827.4 L1825 827.7 L1825.6 828.2 L1826.3 821.6 L1826.9 828.4 L1827.5 823.6 L1828.1 819.7 L1828.7 829.7 L1829.3 829.8 L1829.9 829.4 L1830.6 824.1 L1831.2 830.7 L1831.8 830.2 L1832.4 824.4 L1833 831.2 L1833.6 831.8 L1834.3 831.9 L1834.9 829.6 L1835.5 824.3 L1836.1 832.1 L1836.7 832.9 L1837.3 832.6 L1837.9 832.6 L1838.6 834 L1839.2 830.4 L1839.8 828.4 L1840.4 834.3 L1841 834.7 L1841.6 835.3 L1842.3 834.6 L1842.9 835.4 L1843.5 835.6 L1844.1 831 L1844.7 835.9 L1845.3 835.9 L1845.9 836.9 L1846.6 836.5 L1847.2 833.2 L1847.8 830.1 L1848.4 836.9 L1849 837.5 L1849.6 838.1 L1850.3 838.6 L1850.9 838.8 L1851.5 831.8 L1852.1 839.1 L1852.7 839.4 L1853.3 839.1 L1853.9 833.4 L1854.6 839.2 L1855.2 839.5 L1855.8 840.6 L1856.4 840.5 L1857 836.5 L1857.6 837.8 L1858.3 834 L1858.9 841.4 L1859.5 841.8 L1860.1 836.9 L1860.7 842.4 L1861.3 836.8 L1861.9 842.7 L1862.6 838.7 L1863.2 843.5 L1863.8 844.1 L1864.4 844.4 L1865 844.8 L1865.6 841.1 L1866.3 841.3 L1866.9 846.3 L1867.5 845.6 L1868.1 842.6 L1868.7 847.4 L1869.3 846.7 L1869.9 847.8 L1870.6 847.4 L1871.2 848.3 L1871.8 841.1 L1872.4 845 L1873 849.7 L1873.6 850.2 L1874.3 850.8 L1874.9 850.8 L1875.5 847.3 L1876.1 850.2 L1876.7 851.3 L1877.3 850.8 L1877.9 850.9 L1878.6 851.2 L1879.2 851.7 L1879.8 848 L1880.4 851.3 L1881 851.6 L1881.6 851.4 L1882.3 848.8 L1882.9 851.7 L1883.5 852.3 L1884.1 852.1 L1884.7 846.2 L1885.3 852.3 L1886 852.5 L1886.6 852.8 L1887.2 848 L1887.8 852.9 L1888.4 853.3 L1889 850.7 L1889.6 849.8 L1890.3 853.5 L1890.9 854 L1891.5 853.6 L1892.1 853.8 L1892.7 854.3 L1893.3 854.4 L1894 853.8 L1894.6 849.3 L1895.2 854.6 L1895.8 854.1 L1896.4 849.1 L1897 848.5 L1897.6 854.5 L1898.3 854.4 L1898.9 855.7 L1899.5 851.8 L1900.1 855.3 L1900.7 855.4 L1901.3 855.9 L1902 853.8 L1902.6 856.3 L1903.2 856.4 L1903.8 852.6 L1904.4 856 L1905 856.6 L1905.6 856.1 L1906.3 856.4 L1906.9 855.5 L1907.5 856.6 L1908.1 857.2 L1908.7 856.9 L1909.3 857.2 L1910 853.9 L1910.6 858 L1911.2 857.8 L1911.8 857.5 L1912.4 856.9 L1913 857.8 L1913.6 853.1 L1914.3 857.5 L1914.9 856.9 L1915.5 853.1 L1916.1 856.6 L1916.7 856.5 L1917.3 857.5 L1918 856.7 L1918.6 856.7 L1919.2 856.2 L1919.8 853.5 L1920.4 856.4 L1921 856.3 L1921.6 856.2 L1922.3 852.9 L1922.9 856.8 L1923.5 856.1 L1924.1 856.4 L1924.7 856 L1925.3 856.1 L1926 852 L1926.6 856.6 L1927.2 856.4 L1927.8 857 L1928.4 852.2 L1929 855.7 L1929.6 857.1 L1930.3 856.8 L1930.9 856.9 L1931.5 856.9 L1932.1 857 L1932.7 856.9 L1933.3 857.1 L1934 857 L1934.6 857.4 L1935.2 858 L1935.8 857.9 L1936.4 857.6 L1937 858.2 L1937.6 857.7 L1938.3 856.9 L1938.9 854 L1939.5 858.5 L1940.1 858.4 L1940.7 855.4 L1941.3 859.2 L1942 858.4 L1942.6 858.6 L1943.2 858.8 L1943.8 856.1 L1944.4 855.8 L1945 859.9 L1945.6 856 L1946.3 860.2 L1946.9 857.2 L1946.9 883.8 L1946.3 883.9 L1945.6 883.2 L1945 882.6 L1944.4 884.1 L1943.8 885.6 L1943.2 884.2 L1942.6 882.5 L1942 882.7 L1941.3 882.3 L1940.7 883.3 L1940.1 882.8 L1939.5 882.4 L1938.9 882.5 L1938.3 882.8 L1937.6 882.8 L1937 882.1 L1936.4 882.8 L1935.8 883.9 L1935.2 882 L1934.6 882.9 L1934 881.5 L1933.3 882.3 L1932.7 881.6 L1932.1 883.8 L1931.5 884.3 L1930.9 882.6 L1930.3 883.7 L1929.6 881.5 L1929 885 L1928.4 882.2 L1927.8 882.4 L1927.2 882.3 L1926.6 881.6 L1926 881.8 L1925.3 884.6 L1924.7 883.9 L1924.1 881 L1923.5 881.9 L1922.9 882.8 L1922.3 881.8 L1921.6 881.3 L1921 881.9 L1920.4 881.1 L1919.8 881.1 L1919.2 881 L1918.6 884.4 L1918 882.3 L1917.3 881.6 L1916.7 880.9 L1916.1 880.9 L1915.5 881.1 L1914.9 883.6 L1914.3 880.5 L1913.6 881.3 L1913 882.4 L1912.4 880.5 L1911.8 880.6 L1911.2 883.2 L1910.6 881.2 L1910 884.4 L1909.3 881.5 L1908.7 881.9 L1908.1 881.1 L1907.5 881.2 L1906.9 883.6 L1906.3 881.6 L1905.6 881.7 L1905 882.6 L1904.4 882.5 L1903.8 883.2 L1903.2 882.6 L1902.6 885 L1902 882.9 L1901.3 883.4 L1900.7 883.1 L1900.1 882.9 L1899.5 883.7 L1898.9 883.9 L1898.3 883.5 L1897.6 883.8 L1897 883.9 L1896.4 883.7 L1895.8 884.4 L1895.2 887.3 L1894.6 884.1 L1894 887.4 L1893.3 886.8 L1892.7 884.4 L1892.1 884.9 L1891.5 886.4 L1890.9 885.2 L1890.3 888 L1889.6 885.2 L1889 888.5 L1888.4 885.1 L1887.8 885.7 L1887.2 885.7 L1886.6 885.3 L1886 889 L1885.3 887.9 L1884.7 885.9 L1884.1 886.6 L1883.5 886.8 L1882.9 889.9 L1882.3 887 L1881.6 887.3 L1881 887.6 L1880.4 887.6 L1879.8 887.8 L1879.2 888.1 L1878.6 891.8 L1877.9 888.1 L1877.3 888.8 L1876.7 887.7 L1876.1 887.4 L1875.5 890.3 L1874.9 886.4 L1874.3 885.5 L1873.6 884.8 L1873 885.1 L1872.4 883.9 L1871.8 883.5 L1871.2 883.4 L1870.6 885.5 L1869.9 885.7 L1869.3 884 L1868.7 881 L1868.1 881.2 L1867.5 880 L1866.9 879.2 L1866.3 879.4 L1865.6 881.5 L1865 881.4 L1864.4 880 L1863.8 878 L1863.2 880.4 L1862.6 875.9 L1861.9 876.2 L1861.3 875.5 L1860.7 879.1 L1860.1 875.3 L1859.5 875.5 L1858.9 878.2 L1858.3 877.1 L1857.6 875.9 L1857 878.9 L1856.4 875.5 L1855.8 875.6 L1855.2 875.8 L1854.6 879.3 L1853.9 874.7 L1853.3 875.3 L1852.7 875.4 L1852.1 874.5 L1851.5 874.9 L1850.9 874.5 L1850.3 874.6 L1849.6 874.2 L1849 875 L1848.4 877.4 L1847.8 875.3 L1847.2 875.2 L1846.6 875.1 L1845.9 874.7 L1845.3 877.8 L1844.7 877.5 L1844.1 878 L1843.5 875.1 L1842.9 875.1 L1842.3 874.2 L1841.6 875.4 L1841 877.1 L1840.4 874.3 L1839.8 875.3 L1839.2 874.2 L1838.6 874.4 L1837.9 874.3 L1837.3 874.2 L1836.7 875.3 L1836.1 874.9 L1835.5 875.4 L1834.9 875.4 L1834.3 878.5 L1833.6 875 L1833 875.3 L1832.4 877.3 L1831.8 875.9 L1831.2 875.3 L1830.6 878.3 L1829.9 875.1 L1829.3 877.3 L1828.7 875.2 L1828.1 875.2 L1827.5 875.4 L1826.9 879.6 L1826.3 875.5 L1825.6 875.9 L1825 876.3 L1824.4 877.3 L1823.8 879.5 L1823.2 876.3 L1822.6 876.8 L1821.9 879.7 L1821.3 880.2 L1820.7 879.6 L1820.1 878.7 L1819.5 876.5 L1818.9 882.1 L1818.2 877.6 L1817.6 878.1 L1817 878.1 L1816.4 877.5 L1815.8 879.7 L1815.2 878 L1814.6 878.4 L1813.9 878.7 L1813.3 878.1 L1812.7 878.2 L1812.1 877.9 L1811.5 878 L1810.9 882.6 L1810.2 878.1 L1809.6 878.4 L1809 881.9 L1808.4 884.9 L1807.8 878.3 L1807.2 878.5 L1806.6 883.6 L1805.9 877.9 L1805.3 878.4 L1804.7 881.5 L1804.1 878.8 L1803.5 882.1 L1802.9 882.8 L1802.2 878.8 L1801.6 878.5 L1801 886 L1800.4 887.3 L1799.8 880.6 L1799.2 880.3 L1798.6 887.1 L1797.9 880.5 L1797.3 881.2 L1796.7 882 L1796.1 882.3 L1795.5 890.9 L1794.9 881.9 L1794.2 886.6 L1793.6 882.8 L1793 888.7 L1792.4 884.9 L1791.8 895.7 L1791.2 886.7 L1790.6 891.7 L1789.9 893.6 L1789.3 888.9 L1788.7 889.3 L1788.1 891 L1787.5 891 L1786.9 890.5 L1786.2 889.4 L1785.6 889 L1785 889.3 L1784.4 900 L1783.8 888.6 L1783.2 888.2 L1782.6 889.4 L1781.9 895.6 L1781.3 900.4 L1780.7 895 L1780.1 899.8 L1779.5 897.1 L1778.9 899.6 L1778.2 910.3 L1777.6 906.8 L1777 914.4 L1776.4 900.3 L1775.8 904.8 L1775.2 899.5 L1774.6 898.2 L1773.9 899.1 L1773.3 897.9 L1772.7 907.4 L1772.1 895.2 L1771.5 894.8 L1770.9 897.8 L1770.2 892.3 L1769.6 891.1 L1769 889.3 L1768.4 896.3 L1767.8 899.1 L1767.2 889.5 L1766.6 890.4 L1765.9 891.2 L1765.3 905.8 L1764.7 891.5 L1764.1 893 L1763.5 893.6 L1762.9 894.2 L1762.2 909 L1761.6 907.7 L1761 895.3 L1760.4 896.4 L1759.8 897.4 L1759.2 898.1 L1758.5 906.8 L1757.9 897.3 L1757.3 895.9 L1756.7 894 L1756.1 892.8 L1755.5 901.6 L1754.9 900.8 L1754.2 889.7 L1753.6 888.5 L1753 890.6 L1752.4 894.5 L1751.8 896.9 L1751.2 909.8 L1750.5 902.4 L1749.9 904.8 L1749.3 919.4 L1748.7 919.2 L1748.1 918.3 L1747.5 916.6 L1746.9 911.1 L1746.2 916.4 L1745.6 902.5 L1745 901.5 L1744.4 906.3 L1743.8 898 L1743.2 896.9 L1742.5 896.7 L1741.9 904.5 L1741.3 894.5 L1740.7 893.1 L1740.1 892.4 L1739.5 891.2 L1738.9 890.9 L1738.2 901.7 L1737.6 902.9 L1737 905.8 L1736.4 895 L1735.8 904.5 L1735.2 895.8 L1734.5 896.7 L1733.9 897.8 L1733.3 899.5 L1732.7 902.1 L1732.1 904.2 L1731.5 911.8 L1730.9 907.6 L1730.2 909.5 L1729.6 918.9 L1729 912.5 L1728.4 911.4 L1727.8 909.9 L1727.2 908.7 L1726.5 907.8 L1725.9 920.6 L1725.3 905.9 L1724.7 914.3 L1724.1 903.5 L1723.5 910.3 L1722.9 913.2 L1722.2 902.5 L1721.6 901.3 L1721 910.7 L1720.4 910.9 L1719.8 914.9 L1719.2 900.8 L1718.5 915.1 L1717.9 903.8 L1717.3 904.8 L1716.7 907.1 L1716.1 908.3 L1715.5 910.1 L1714.9 917.2 L1714.2 925.7 L1713.6 913.4 L1713 914.3 L1712.4 923.6 L1711.8 914.8 L1711.2 915.8 L1710.5 916.1 L1709.9 917.1 L1709.3 926.8 L1708.7 917 L1708.1 921.1 L1707.5 913.7 L1706.9 913.5 L1706.2 911.6 L1705.6 919.4 L1705 909.8 L1704.4 907.9 L1703.8 911.3 L1703.2 911 L1702.5 905.7 L1701.9 906.1 L1701.3 904.9 L1700.7 914.5 L1700.1 903.9 L1699.5 903.6 L1698.9 902.5 L1698.2 902.1 L1697.6 901.2 L1697 906.5 L1696.4 905.8 L1695.8 898.9 L1695.2 898.5 L1694.5 897.6 L1693.9 897.6 L1693.3 895.4 L1692.7 893.9 L1692.1 898.7 L1691.5 892.4 L1690.8 891.1 L1690.2 889.1 L1689.6 888.6 L1689 888.1 L1688.4 892.8 L1687.8 889.9 L1687.2 886.7 L1686.5 887.1 L1685.9 886.3 L1685.3 890.2 L1684.7 888.9 L1684.1 889.8 L1683.5 887.4 L1682.8 891 L1682.2 888.6 L1681.6 888.9 L1681 889.1 L1680.4 890.1 L1679.8 890.3 L1679.2 892.3 L1678.5 892.3 L1677.9 891.1 L1677.3 893.9 L1676.7 892.5 L1676.1 892.6 L1675.5 893.2 L1674.8 892.4 L1674.2 894.3 L1673.6 892.7Z" fill="#808080"/>
<path d="M1724.0841949778435 821.2407680945347 L1725.3151157065486 763.3874938453963 L1727.0384047267355 821.2407680945347Z" fill="#c2c2c2"/>
<path d="M1673.6 856.9C1674.3 856.9 1678.6 857.7 1679.8 856.9C1680.9 856.2 1682.6 852.2 1683.5 850.8C1684.3 849.3 1686.4 844.9 1687.2 844.6C1687.9 844.3 1688.9 847 1689.6 848.3C1690.3 849.6 1692.3 854.6 1693.3 855.7C1694.3 856.9 1697.2 857.3 1698.2 858.2C1699.2 859 1701.1 861.9 1701.9 863.1C1702.8 864.2 1704.2 867.6 1705.6 868C1707.1 868.4 1712.4 866.8 1714.2 866.8C1716.1 866.8 1719.9 867.7 1721.6 868C1723.3 868.3 1727.7 870.1 1729 869.2C1730.3 868.4 1731.7 862.5 1732.7 860.6C1733.7 858.8 1736.3 854.7 1737.6 853.2C1738.9 851.8 1742.3 849.5 1743.8 848.3C1745.2 847.2 1748.5 844.1 1749.9 843.4C1751.4 842.7 1754.5 842 1756.1 842.2C1757.7 842.3 1761.8 843.9 1763.5 844.6C1765.2 845.3 1769.1 847.3 1770.9 848.3C1772.6 849.3 1776.5 852.8 1778.2 853.2C1780 853.7 1783.9 852.3 1785.6 852C1787.4 851.7 1791 850.8 1793 850.8C1795 850.8 1800.6 851.9 1802.9 852C1805.2 852.2 1810.1 851.9 1812.7 852C1815.3 852.2 1822.1 852.8 1825 853.2C1827.9 853.7 1834.5 855.1 1837.3 855.7C1840.2 856.3 1847.3 857.6 1849.6 858.2C1851.9 858.7 1855.6 859.9 1857 860.6C1858.5 861.3 1860.5 863.7 1861.9 864.3C1863.4 864.9 1867.6 864.8 1869.3 865.6C1871.1 866.3 1874.7 869.8 1876.7 870.5C1878.7 871.2 1878.4 871.6 1886.6 871.7C1894.8 871.9 1939.8 871.7 1946.9 871.7" fill="none" stroke="#3a3a3a" stroke-width="2.8" stroke-linejoin="round"/>
<path d="M1673.6 949.3C1674.3 949.3 1678.5 950.7 1679.8 949.3C1681.1 947.8 1683.5 940.7 1684.7 936.9C1685.8 933.2 1688.5 920.4 1689.6 917.3C1690.8 914.1 1693.2 911.9 1694.5 909.9C1695.8 907.9 1699.3 901.5 1700.7 900C1702.1 898.6 1705.6 899 1706.9 897.6C1708.1 896.1 1710.6 890.6 1711.8 887.7C1712.9 884.8 1715.3 875.2 1716.7 872.9C1718.1 870.6 1722.4 868.6 1724.1 868C1725.8 867.4 1730 868.3 1731.5 868C1732.9 867.7 1735.2 866.4 1736.4 865.6C1737.5 864.7 1740.2 861.8 1741.3 860.6C1742.5 859.5 1745.1 856.9 1746.2 855.7C1747.4 854.6 1750 851.5 1751.2 850.8C1752.3 850.1 1754.9 849 1756.1 849.6C1757.2 850.1 1759.6 855 1761 855.7C1762.4 856.4 1766.7 855.7 1768.4 855.7C1770.1 855.7 1774.1 855.6 1775.8 855.7C1777.5 855.9 1781.2 857.1 1783.2 856.9C1785.2 856.8 1790.7 854.9 1793 854.5C1795.3 854 1800.6 853.5 1802.9 853.2C1805.2 853 1810.4 852.4 1812.7 852C1815 851.6 1820.3 850.1 1822.6 849.6C1824.9 849 1830.1 847.7 1832.4 847.1C1834.7 846.5 1840 844.9 1842.3 844.6C1844.6 844.3 1849.8 844.5 1852.1 844.6C1854.4 844.8 1859.6 844.9 1861.9 845.9C1864.2 846.9 1869.8 851.5 1871.8 853.2C1873.8 855 1877.5 859.2 1879.2 860.6C1880.9 862.1 1884.8 864.4 1886.6 865.6C1888.3 866.7 1891.1 869.6 1894 870.5C1896.8 871.3 1905 872.7 1911.2 872.9C1917.4 873.2 1942.7 872.9 1946.9 872.9" fill="none" stroke="#fff" stroke-width="2.8" stroke-linejoin="round"/>
</g>
<text x="1571.1" y="755.5" font-size="42" font-weight="bold">l</text>
<line x1="1672.3" y1="871.7" x2="1948" y2="871.7" stroke="#000" stroke-width="2"/>
<rect x="1672.3" y="743.7" width="275.7" height="255.7" fill="none" stroke="#000" stroke-width="2.4"/>
<line x1="1672.3" y1="807.8" x2="1680.3" y2="807.8" stroke="#000" stroke-width="2"/><line x1="1672.3" y1="935.6" x2="1680.3" y2="935.6" stroke="#000" stroke-width="2"/>
<line x1="1740.9" y1="999.4" x2="1740.9" y2="992.4" stroke="#000" stroke-width="2"/><line x1="1810.1" y1="999.4" x2="1810.1" y2="992.4" stroke="#000" stroke-width="2"/><line x1="1879.4" y1="999.4" x2="1879.4" y2="992.4" stroke="#000" stroke-width="2"/>
<text x="1663" y="761.1" font-size="24.4" text-anchor="end">0.6</text>
<text x="1663" y="816.4" font-size="24.4" text-anchor="end">0.3</text>
<text x="1663" y="880.3" font-size="24.4" text-anchor="end">0.0</text>
<text x="1663" y="944" font-size="24.4" text-anchor="end">–0.3</text>
<text x="1663" y="1000.7" font-size="24.4" text-anchor="end">–0.6</text>
<text x="1671.7" y="1028" font-size="24.4" text-anchor="middle">0.01</text>
<text x="1740.6" y="1028" font-size="24.4" text-anchor="middle">0.1</text>
<text x="1809.8" y="1028" font-size="24.4" text-anchor="middle">1</text>
<text x="1879.3" y="1028" font-size="24.4" text-anchor="middle">10</text>
<text x="1948.8" y="1028" font-size="24.4" text-anchor="middle">100</text>
<text x="1806.3" y="1062.2" font-size="25" text-anchor="middle">Log time (s)</text>
<text x="1592.2" y="870.9" font-size="25" text-anchor="middle" transform="rotate(-90 1592.2 870.9)"><tspan font-style="italic">G</tspan> (<tspan font-family="'Liberation Serif', serif" font-style="italic">τ</tspan>,<tspan font-family="'Liberation Serif', serif" font-style="italic">δr</tspan>)</text>
<text x="1940.8" y="769.4" font-size="24.8" text-anchor="end" font-weight="bold">OFF FOCI</text>
<text x="1940.8" y="801.2" font-size="24.8" text-anchor="end" font-weight="bold" fill="#909090">NO FOCI</text>
</svg>
</body></html>
